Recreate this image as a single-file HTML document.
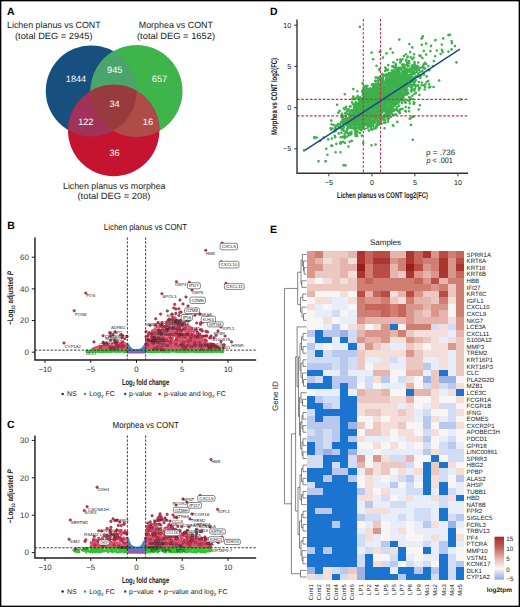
<!DOCTYPE html>
<html><head><meta charset="utf-8"><style>
html,body{margin:0;padding:0;background:#fff;overflow:hidden;}
svg{display:block;font-family:"Liberation Sans", sans-serif;text-rendering:geometricPrecision;}
</style></head><body>
<svg width="520" height="607" viewBox="0 0 520 607">
<rect x="0" y="0" width="520" height="607" fill="#fff"/>
<defs><clipPath id="cB"><circle cx="91.25" cy="90.9" r="45.5"/></clipPath><clipPath id="cG"><circle cx="136.55" cy="91" r="46"/></clipPath><clipPath id="cR"><circle cx="113.7" cy="130.5" r="45.7"/></clipPath></defs>
<circle cx="91.25" cy="90.9" r="45.5" fill="#17507f"/>
<circle cx="136.55" cy="91" r="46" fill="#3db54b"/>
<circle cx="113.7" cy="130.5" r="45.7" fill="#c5142f"/>
<g clip-path="url(#cB)"><circle cx="136.55" cy="91" r="46" fill="#4aa56c"/></g>
<g clip-path="url(#cB)"><circle cx="113.7" cy="130.5" r="45.7" fill="#a1325a"/></g>
<g clip-path="url(#cG)"><circle cx="113.7" cy="130.5" r="45.7" fill="#b04c48"/></g>
<g clip-path="url(#cB)"><g clip-path="url(#cG)"><circle cx="113.7" cy="130.5" r="45.7" fill="#983b3e"/></g></g>
<text x="76.00" y="82.00" font-size="9.2" text-anchor="middle" fill="#fff" font-weight="normal" >1844</text>
<text x="114.70" y="72.70" font-size="9.2" text-anchor="middle" fill="#fff" font-weight="normal" >945</text>
<text x="159.50" y="82.00" font-size="9.2" text-anchor="middle" fill="#fff" font-weight="normal" >657</text>
<text x="114.50" y="106.70" font-size="9.2" text-anchor="middle" fill="#fff" font-weight="normal" >34</text>
<text x="85.80" y="125.00" font-size="9.2" text-anchor="middle" fill="#fff" font-weight="normal" >122</text>
<text x="147.90" y="125.00" font-size="9.2" text-anchor="middle" fill="#fff" font-weight="normal" >16</text>
<text x="114.50" y="156.00" font-size="9.2" text-anchor="middle" fill="#fff" font-weight="normal" >36</text>
<text x="7.00" y="28.00" font-size="9" text-anchor="start" fill="#1a1a1a" font-weight="normal" textLength="93.7" lengthAdjust="spacingAndGlyphs" >Lichen planus vs CONT</text>
<text x="15.00" y="38.75" font-size="9" text-anchor="start" fill="#1a1a1a" font-weight="normal" textLength="77.5" lengthAdjust="spacingAndGlyphs" >(total DEG = 2945)</text>
<text x="138.75" y="28.00" font-size="9" text-anchor="start" fill="#1a1a1a" font-weight="normal" textLength="74.2" lengthAdjust="spacingAndGlyphs" >Morphea vs CONT</text>
<text x="137.00" y="38.75" font-size="9" text-anchor="start" fill="#1a1a1a" font-weight="normal" textLength="78" lengthAdjust="spacingAndGlyphs" >(total DEG = 1652)</text>
<text x="63.00" y="189.25" font-size="9" text-anchor="start" fill="#1a1a1a" font-weight="normal" textLength="102.5" lengthAdjust="spacingAndGlyphs" >Lichen planus vs morphea</text>
<text x="77.50" y="199.25" font-size="9" text-anchor="start" fill="#1a1a1a" font-weight="normal" textLength="73" lengthAdjust="spacingAndGlyphs" >(total DEG = 208)</text>
<text x="7.00" y="14.50" font-size="10.5" text-anchor="start" fill="#000" font-weight="bold" >A</text>
<text x="7.30" y="229.30" font-size="10.5" text-anchor="start" fill="#000" font-weight="bold" >B</text>
<text x="7.00" y="428.00" font-size="10.5" text-anchor="start" fill="#000" font-weight="bold" >C</text>
<text x="270.00" y="14.60" font-size="10.5" text-anchor="start" fill="#000" font-weight="bold" >D</text>
<text x="270.00" y="232.50" font-size="10.5" text-anchor="start" fill="#000" font-weight="bold" >E</text>
<path d="M379.7 90.3h0M384.8 86.5h0M374.9 110.5h0M364.3 110.7h0M371.8 95.8h0M362.6 117.3h0M380.7 106.6h0M402.7 74.8h0M371.2 91.5h0M369.0 117.5h0M388.1 121.5h0M385.8 110.7h0M381.5 108.7h0M363.6 111.9h0M379.1 94.3h0M391.6 93.5h0M356.5 121.8h0M371.8 103.8h0M346.9 130.6h0M357.5 115.2h0M348.0 127.0h0M375.6 77.5h0M357.8 107.2h0M384.3 105.3h0M382.3 108.1h0M376.4 106.2h0M336.4 143.9h0M370.4 112.8h0M378.8 107.6h0M381.6 89.9h0M353.3 121.5h0M371.4 112.6h0M362.8 123.4h0M365.7 119.9h0M397.9 88.4h0M365.8 111.2h0M379.1 89.3h0M394.9 96.7h0M369.6 97.1h0M377.7 98.8h0M381.5 98.7h0M380.7 118.9h0M358.6 125.8h0M380.9 91.8h0M403.0 67.8h0M353.0 115.9h0M394.4 81.6h0M381.7 102.6h0M368.6 110.7h0M414.0 85.3h0M392.8 80.6h0M359.0 110.7h0M380.9 101.4h0M389.6 96.8h0M376.4 96.9h0M391.4 88.6h0M378.5 108.7h0M391.1 73.8h0M404.4 80.3h0M368.0 107.6h0M383.1 82.8h0M371.7 96.0h0M381.8 99.3h0M359.2 108.8h0M369.7 116.3h0M376.3 108.2h0M395.1 114.6h0M399.3 72.8h0M356.9 132.4h0M366.0 102.9h0M390.8 101.4h0M345.4 131.8h0M371.7 107.0h0M378.0 98.5h0M401.3 78.3h0M391.5 72.9h0M374.0 100.4h0M373.3 96.1h0M375.3 108.4h0M405.8 73.8h0M372.3 103.5h0M374.4 107.7h0M385.7 96.9h0M377.6 101.9h0M376.2 100.4h0M360.5 109.2h0M379.4 105.0h0M372.0 111.8h0M399.7 77.9h0M390.9 110.6h0M379.2 106.2h0M391.1 75.6h0M373.8 128.8h0M397.7 95.6h0M379.5 93.3h0M389.7 110.7h0M357.4 91.3h0M385.6 122.5h0M350.6 106.4h0M344.6 109.3h0M374.4 94.9h0M364.2 112.3h0M382.5 94.5h0M418.2 85.8h0M365.3 102.2h0M368.9 117.3h0M383.2 100.3h0M388.1 83.8h0M376.6 112.5h0M376.1 105.7h0M391.7 90.1h0M388.6 108.0h0M361.9 101.3h0M378.3 97.6h0M380.2 114.4h0M361.5 112.5h0M384.1 104.8h0M364.9 115.8h0M396.4 87.9h0M383.0 104.8h0M381.2 89.4h0M369.5 113.1h0M377.6 91.9h0M345.3 123.4h0M360.2 105.2h0M385.9 101.3h0M343.0 129.1h0M394.2 102.8h0M349.6 114.8h0M392.7 81.0h0M365.1 90.5h0M393.0 76.9h0M381.9 95.9h0M353.2 119.6h0M401.1 81.0h0M404.4 83.6h0M378.5 86.6h0M374.9 94.3h0M376.9 109.7h0M362.9 117.4h0M398.5 71.7h0M370.3 103.4h0M378.8 102.8h0M366.0 98.3h0M368.9 110.7h0M357.7 117.2h0M401.3 90.8h0M377.0 120.4h0M396.3 79.1h0M379.9 111.6h0M367.7 113.1h0M374.0 110.6h0M370.0 99.8h0M379.8 100.5h0M373.2 104.1h0M374.5 119.0h0M355.9 116.6h0M365.8 122.6h0M408.1 77.1h0M368.1 104.4h0M361.5 112.3h0M385.4 75.1h0M403.8 77.5h0M354.6 111.3h0M376.1 101.0h0M368.8 109.0h0M349.4 111.5h0M392.3 79.5h0M379.2 112.8h0M380.9 88.7h0M366.7 104.0h0M387.5 84.7h0M370.4 101.9h0M377.2 113.4h0M360.6 123.4h0M358.7 97.4h0M402.6 81.6h0M370.9 118.6h0M384.7 93.0h0M379.1 103.8h0M372.1 121.8h0M370.9 126.6h0M390.5 109.8h0M374.4 100.9h0M377.0 102.1h0M380.0 102.1h0M399.9 83.1h0M391.3 85.6h0M386.2 117.2h0M369.9 109.2h0M355.9 123.4h0M396.0 102.7h0M396.3 94.9h0M377.2 102.7h0M389.0 96.5h0M393.1 106.8h0M393.9 95.6h0M395.5 66.9h0M371.8 114.8h0M405.7 102.7h0M358.2 111.8h0M394.5 83.4h0M388.1 89.4h0M394.7 102.2h0M412.0 65.8h0M405.2 92.2h0M359.9 123.4h0M350.6 124.9h0M393.7 91.7h0M362.2 105.2h0M379.4 94.0h0M394.1 90.5h0M351.4 110.4h0M343.3 123.5h0M384.1 87.9h0M380.4 113.2h0M375.4 117.5h0M380.3 91.9h0M364.8 122.5h0M353.6 120.1h0M376.8 102.8h0M362.9 115.6h0M351.4 123.0h0M388.3 79.5h0M378.6 125.0h0M386.6 86.1h0M362.6 90.5h0M368.3 107.3h0M362.5 111.6h0M364.4 103.6h0M383.0 79.4h0M366.2 119.7h0M385.8 94.9h0M385.5 97.9h0M414.5 69.5h0M355.7 114.6h0M394.9 82.4h0M378.1 105.0h0M379.4 99.6h0M354.7 122.7h0M371.7 111.3h0M392.4 92.9h0M378.2 102.3h0M381.0 110.6h0M374.6 88.7h0M399.5 88.2h0M379.3 113.6h0M341.8 115.3h0M367.7 114.7h0M345.8 118.0h0M323.7 137.6h0M370.5 103.8h0M402.6 82.6h0M380.5 105.0h0M359.5 113.1h0M363.5 92.4h0M399.1 112.4h0M382.4 97.5h0M380.5 95.1h0M378.7 110.7h0M380.3 112.9h0M393.5 67.1h0M389.1 97.5h0M383.4 76.6h0M361.7 107.1h0M388.4 93.2h0M367.9 103.5h0M398.5 80.1h0M357.8 103.9h0M377.3 97.4h0M379.5 98.6h0M356.9 113.6h0M409.3 63.5h0M404.8 73.4h0M371.7 114.4h0M392.9 97.9h0M386.2 92.2h0M334.7 135.7h0M383.9 100.9h0M378.6 109.9h0M381.1 101.6h0M361.1 108.5h0M375.0 93.8h0M376.6 101.9h0M400.1 62.4h0M385.4 96.9h0M379.5 69.0h0M405.9 70.3h0M370.1 101.8h0M372.9 109.0h0M348.4 146.5h0M406.6 83.7h0M396.2 86.8h0M395.4 68.0h0M391.1 107.0h0M381.5 79.8h0M383.3 100.0h0M375.3 96.1h0M376.1 126.2h0M380.6 97.9h0M405.6 86.6h0M389.2 86.3h0M378.6 99.7h0M369.7 117.0h0M368.7 98.7h0M407.2 73.0h0M388.4 87.8h0M380.8 89.2h0M373.7 93.8h0M360.6 112.9h0M378.5 113.8h0M394.7 105.1h0M372.9 92.1h0M375.7 95.9h0M375.8 101.5h0M381.5 103.0h0M352.2 118.0h0M375.6 102.4h0M364.9 112.8h0M394.9 97.5h0M366.4 89.2h0M389.6 90.9h0M405.9 89.6h0M374.2 115.6h0M369.3 113.5h0M382.9 90.5h0M379.6 92.6h0M362.5 113.4h0M387.6 94.1h0M414.3 80.6h0M375.2 113.3h0M376.2 90.0h0M361.7 108.6h0M385.1 71.0h0M358.2 121.2h0M360.6 114.0h0M401.7 74.9h0M364.1 112.6h0M398.2 103.2h0M405.9 93.7h0M384.1 95.9h0M389.2 89.9h0M413.2 78.6h0M376.3 92.7h0M369.4 97.8h0M356.4 112.6h0M380.4 99.2h0M405.1 85.9h0M396.1 82.7h0M363.4 102.5h0M364.9 109.3h0M371.0 101.7h0M384.7 99.9h0M376.1 115.6h0M383.3 107.5h0M384.7 88.7h0M374.5 99.2h0M378.9 85.0h0M383.2 97.0h0M378.2 92.6h0M388.3 80.3h0M411.8 65.9h0M389.8 99.6h0M380.6 101.1h0M350.6 118.2h0M386.3 105.6h0M346.2 118.1h0M355.4 106.9h0M394.3 95.4h0M391.8 70.5h0M377.1 104.4h0M350.2 121.5h0M373.3 106.4h0M368.0 114.2h0M390.6 88.1h0M418.5 73.6h0M383.4 80.7h0M366.2 103.4h0M359.5 108.6h0M378.7 102.7h0M376.6 115.4h0M359.8 114.0h0M381.6 107.0h0M359.8 104.6h0M398.8 87.5h0M397.9 68.8h0M398.3 79.1h0M371.5 97.8h0M388.5 91.6h0M377.4 99.5h0M373.0 98.4h0M373.8 95.3h0M357.3 121.4h0M354.8 112.1h0M393.3 62.2h0M376.4 103.0h0M383.4 100.0h0M396.9 96.1h0M349.8 133.1h0M366.2 98.2h0M382.7 97.3h0M386.4 92.3h0M373.2 87.4h0M397.3 59.8h0M383.3 106.4h0M358.8 104.4h0M363.6 105.0h0M393.5 86.3h0M387.6 89.6h0M347.0 122.0h0M402.8 65.7h0M389.9 86.5h0M402.7 80.4h0M373.0 92.9h0M374.6 95.0h0M360.3 108.7h0M423.3 66.2h0M376.6 85.3h0M406.9 75.4h0M368.5 108.2h0M382.5 106.6h0M350.9 122.3h0M373.1 113.9h0M396.6 87.4h0M358.1 112.0h0M398.1 110.8h0M385.4 95.8h0M361.7 106.1h0M371.0 104.2h0M371.7 113.9h0M378.8 88.2h0M370.4 112.4h0M365.4 120.6h0M374.4 113.5h0M362.0 111.9h0M357.5 105.9h0M378.8 89.2h0M394.8 87.4h0M353.3 128.4h0M379.7 106.3h0M368.5 115.6h0M362.8 112.8h0M394.3 109.6h0M370.7 104.9h0M405.4 74.9h0M366.2 110.3h0M386.3 90.7h0M375.7 111.4h0M366.7 121.8h0M389.7 99.9h0M377.0 90.7h0M390.0 82.0h0M378.8 104.9h0M361.0 101.5h0M377.9 104.2h0M380.5 84.5h0M396.1 83.5h0M364.1 114.5h0M379.0 92.7h0M350.0 126.8h0M390.8 102.4h0M361.0 125.6h0M348.6 118.4h0M378.6 101.1h0M398.7 88.1h0M353.4 121.2h0M360.9 99.5h0M366.9 112.4h0M360.2 119.5h0M386.2 82.7h0M365.8 96.4h0M367.2 105.2h0M389.7 111.6h0M366.6 114.1h0M387.1 88.6h0M362.9 111.0h0M358.8 99.8h0M348.1 133.5h0M411.7 70.0h0M374.1 109.4h0M383.8 83.8h0M379.1 101.0h0M382.4 87.8h0M380.5 105.7h0M412.5 95.6h0M361.8 122.0h0M352.9 123.4h0M362.2 120.9h0M356.7 104.5h0M392.5 76.8h0M393.8 87.5h0M363.1 120.4h0M355.7 117.0h0M373.5 110.3h0M403.6 66.7h0M331.1 129.6h0M388.7 88.7h0M361.1 116.0h0M397.5 110.6h0M361.1 119.4h0M374.7 113.6h0M353.7 114.0h0M362.8 110.3h0M403.5 93.4h0M393.8 94.7h0M372.7 90.3h0M364.7 118.7h0M347.1 130.1h0M372.9 106.6h0M379.1 107.1h0M378.2 105.0h0M378.0 95.9h0M360.3 97.2h0M378.5 117.8h0M379.0 100.6h0M401.8 84.6h0M411.7 79.5h0M377.3 103.3h0M366.5 111.9h0M378.5 91.0h0M369.2 111.2h0M366.9 109.7h0M378.6 100.6h0M361.7 111.0h0M390.1 94.8h0M377.9 91.6h0M383.9 97.1h0M376.5 100.4h0M367.1 108.8h0M363.3 120.0h0M375.6 110.5h0M370.2 115.8h0M383.7 95.3h0M379.6 106.9h0M356.2 125.3h0M380.8 96.8h0M356.5 110.7h0M369.0 123.0h0M374.6 87.6h0M343.9 123.6h0M381.2 99.9h0M382.2 87.6h0M376.9 101.1h0M372.3 110.3h0M373.2 84.1h0M362.8 120.9h0M375.0 104.0h0M370.1 98.6h0M381.2 109.4h0M358.9 114.8h0M383.7 93.3h0M382.1 74.4h0M377.2 110.1h0M372.1 105.4h0M389.1 86.6h0M351.0 118.4h0M387.6 107.2h0M383.8 93.0h0M384.5 95.6h0M386.2 90.9h0M368.4 97.2h0M375.2 93.5h0M390.6 88.2h0M387.0 91.7h0M383.2 108.6h0M353.6 118.6h0M388.9 91.4h0M399.8 91.0h0M397.0 87.2h0M383.7 105.6h0M352.8 104.0h0M395.9 65.1h0M377.1 105.3h0M336.1 125.5h0M386.1 98.0h0M354.0 105.7h0M357.3 110.9h0M368.7 106.6h0M401.5 87.9h0M373.3 103.1h0M384.3 106.9h0M409.7 71.4h0M407.1 90.2h0M377.9 96.0h0M375.5 101.5h0M358.0 104.6h0M367.7 108.1h0M387.0 84.4h0M386.4 104.9h0M381.5 92.6h0M396.8 91.0h0M366.4 107.1h0M378.7 99.9h0M392.2 81.4h0M389.7 114.6h0M398.1 83.9h0M386.5 110.8h0M374.3 92.3h0M385.9 116.0h0M362.4 120.6h0M351.4 134.0h0M389.6 75.9h0M378.7 113.0h0M384.9 95.2h0M350.4 124.4h0M373.4 120.7h0M369.3 109.9h0M364.8 103.9h0M340.9 127.6h0M373.9 95.1h0M395.1 93.6h0M386.2 95.5h0M369.3 110.4h0M379.4 96.8h0M392.7 70.6h0M332.2 128.5h0M377.5 99.5h0M389.0 100.2h0M391.4 100.2h0M408.9 62.4h0M399.2 99.5h0M385.0 105.6h0M384.8 97.4h0M393.2 95.5h0M370.4 88.4h0M378.9 123.3h0M395.2 85.5h0M413.3 68.4h0M376.9 112.4h0M378.8 106.7h0M383.1 93.3h0M402.7 65.3h0M379.1 109.2h0M404.9 101.8h0M363.0 102.3h0M376.4 87.7h0M376.2 105.4h0M393.2 115.0h0M397.6 71.5h0M353.7 119.1h0M363.9 100.3h0M385.4 96.5h0M368.3 110.9h0M353.5 121.6h0M397.5 71.3h0M388.1 79.2h0M388.1 116.6h0M371.5 113.9h0M397.3 68.1h0M375.5 106.1h0M398.5 102.7h0M364.0 110.4h0M364.9 110.8h0M383.2 98.6h0M367.6 112.4h0M391.3 95.5h0M384.1 101.5h0M363.8 107.6h0M380.9 107.1h0M373.6 106.7h0M395.4 91.0h0M368.8 95.4h0M372.1 101.6h0M400.5 87.2h0M418.1 67.1h0M414.0 71.7h0M380.7 88.5h0M383.4 92.3h0M406.0 60.7h0M377.5 88.5h0M362.8 111.6h0M381.7 102.7h0M387.4 85.5h0M365.4 104.8h0M351.3 119.8h0M354.9 129.9h0M391.1 111.9h0M366.6 105.5h0M377.2 94.2h0M383.3 89.4h0M390.3 106.5h0M373.9 94.2h0M388.2 99.8h0M364.3 106.7h0M373.4 100.3h0M362.0 119.0h0M399.1 93.6h0M379.2 120.3h0M366.9 116.8h0M373.6 120.6h0M375.8 98.4h0M391.7 91.2h0M352.2 110.1h0M361.8 108.7h0M373.1 110.1h0M423.2 66.1h0M396.1 93.3h0M377.7 95.4h0M391.9 88.3h0M415.0 88.8h0M375.6 102.6h0M373.3 103.7h0M400.5 89.5h0M388.1 84.9h0M391.2 73.8h0M370.9 109.1h0M412.7 82.2h0M409.0 107.8h0M389.4 94.8h0M391.4 96.7h0M344.8 142.9h0M390.6 89.5h0M376.3 96.6h0M387.1 102.5h0M391.4 96.1h0M373.8 112.8h0M350.6 112.5h0M386.0 111.3h0M366.9 111.3h0M374.0 85.7h0M369.2 106.4h0M373.8 99.6h0M339.9 127.9h0M400.6 99.4h0M384.0 97.3h0M398.8 82.5h0M413.7 90.1h0M380.0 96.3h0M348.6 109.4h0M364.3 100.6h0M358.9 128.2h0M371.0 114.6h0M381.0 114.9h0M345.2 113.3h0M385.5 89.7h0M353.7 111.0h0M384.8 105.4h0M377.8 112.4h0M374.2 102.8h0M378.4 99.8h0M370.4 113.9h0M369.1 105.7h0M350.7 113.5h0M379.1 98.1h0M411.4 91.6h0M413.7 103.9h0M402.4 87.7h0M391.8 90.0h0M368.0 110.1h0M404.5 88.4h0M378.7 107.3h0M378.5 93.8h0M374.6 103.8h0M381.2 97.7h0M372.2 113.8h0M378.2 106.9h0M361.0 111.0h0M373.2 113.5h0M418.9 90.1h0M378.4 103.9h0M375.5 91.4h0M388.8 91.8h0M391.8 76.0h0M360.5 114.0h0M376.1 105.2h0M395.4 104.8h0M384.3 102.7h0M381.7 84.3h0M406.4 78.1h0M368.0 101.1h0M381.1 92.0h0M370.7 106.0h0M405.3 85.2h0M346.1 121.4h0M368.1 101.6h0M370.5 101.9h0M391.1 87.0h0M390.1 91.3h0M403.6 92.9h0M352.6 120.5h0M392.5 101.5h0M374.6 94.0h0M368.2 126.7h0M388.9 96.0h0M363.8 88.9h0M343.9 127.0h0M373.3 114.6h0M353.9 117.4h0M368.5 95.7h0M386.0 97.3h0M385.0 90.1h0M406.9 80.4h0M376.2 105.8h0M353.3 89.1h0M366.6 108.0h0M363.8 115.4h0M358.7 118.4h0M387.1 91.0h0M368.5 103.7h0M345.6 115.8h0M391.6 90.4h0M377.7 114.9h0M385.8 90.4h0M381.5 101.8h0M390.5 95.7h0M380.3 114.0h0M400.9 92.3h0M386.9 102.6h0M386.4 95.8h0M386.7 110.2h0M354.6 116.3h0M376.8 100.7h0M375.2 113.4h0M383.2 103.8h0M356.3 123.4h0M407.7 70.1h0M381.4 123.7h0M358.8 117.0h0M350.2 134.7h0M374.8 107.2h0M378.1 92.8h0M367.3 113.9h0M381.2 97.5h0M368.6 115.0h0M389.1 73.1h0M367.2 100.0h0M379.0 89.5h0M396.5 103.5h0M423.9 85.2h0M362.3 101.8h0M371.7 107.1h0M365.2 112.0h0M393.1 87.3h0M359.9 124.6h0M371.3 98.5h0M379.1 100.1h0M362.8 106.9h0M363.2 117.1h0M371.5 100.8h0M343.5 130.6h0M354.8 108.0h0M372.5 94.4h0M382.2 89.2h0M376.4 97.2h0M349.1 114.7h0M371.7 129.8h0M393.4 81.6h0M389.2 96.4h0M378.3 99.9h0M364.4 112.7h0M390.5 107.5h0M369.7 111.5h0M359.5 107.5h0M365.8 96.3h0M404.6 90.6h0M383.4 106.5h0M399.6 69.9h0M371.4 113.5h0M395.8 66.0h0M369.3 106.4h0M376.9 110.1h0M422.4 58.0h0M392.8 72.7h0M371.0 118.7h0M378.2 85.9h0M385.3 99.0h0M400.5 68.8h0M371.2 109.0h0M349.7 134.3h0M374.8 98.5h0M379.9 90.7h0M381.5 77.9h0M402.3 64.6h0M385.1 89.2h0M393.6 93.2h0M360.7 117.4h0M394.6 93.2h0M415.7 86.4h0M392.9 94.0h0M384.0 122.7h0M382.3 96.4h0M410.4 79.7h0M363.7 87.4h0M377.7 94.0h0M387.6 99.6h0M392.4 85.2h0M372.1 116.1h0M384.9 102.5h0M374.9 120.5h0M381.7 84.3h0M377.4 95.8h0M360.0 123.8h0M379.3 100.8h0M394.7 79.3h0M363.0 106.6h0M375.5 99.1h0M391.1 101.5h0M361.2 118.1h0M382.8 96.9h0M361.4 103.8h0M399.2 96.3h0M419.4 88.0h0M414.4 62.0h0M375.9 111.2h0M392.4 79.7h0M381.7 96.1h0M381.4 90.1h0M406.3 61.1h0M357.0 108.9h0M397.8 79.0h0M378.8 109.4h0M403.9 91.9h0M382.9 91.3h0M368.1 93.8h0M384.4 82.6h0M392.3 66.4h0M380.3 96.5h0M388.0 92.2h0M370.7 96.8h0M342.9 124.4h0M395.1 90.2h0M391.7 103.1h0M382.2 88.4h0M380.8 109.7h0M397.5 82.2h0M371.8 118.1h0M367.5 98.2h0M376.4 111.8h0M400.1 76.5h0M355.8 130.3h0M400.1 91.2h0M368.6 96.6h0M360.7 119.9h0M401.3 84.6h0M378.0 105.6h0M357.3 135.9h0M373.5 101.2h0M395.7 84.4h0M400.1 98.9h0M372.3 99.6h0M386.6 103.5h0M391.9 102.5h0M368.6 107.3h0M385.7 102.8h0M379.1 78.1h0M370.4 120.2h0M371.2 98.9h0M380.8 89.4h0M380.2 118.9h0M369.9 122.2h0M372.3 99.7h0M398.8 92.6h0M383.3 93.6h0M394.9 77.1h0M400.3 90.4h0M389.8 104.4h0M418.7 109.5h0M365.4 107.6h0M393.5 100.8h0M374.2 100.7h0M411.6 75.6h0M408.9 97.3h0M346.0 106.9h0M363.0 101.3h0M391.1 83.2h0M393.2 103.7h0M392.3 95.8h0M378.4 106.0h0M387.5 99.0h0M390.9 104.4h0M378.3 96.7h0M397.3 85.5h0M340.8 122.7h0M390.5 98.0h0M361.9 100.2h0M396.1 86.8h0M375.7 128.3h0M364.4 116.0h0M386.1 96.2h0M364.0 101.7h0M363.9 113.2h0M352.7 120.3h0M379.2 106.7h0M388.2 87.2h0M397.2 93.2h0M377.2 107.3h0M397.7 96.2h0M379.9 94.3h0M378.0 106.1h0M389.5 111.1h0M397.8 80.7h0M373.8 110.3h0M375.4 99.4h0M376.9 98.2h0M381.1 87.1h0M364.2 100.9h0M397.3 94.6h0M372.8 106.1h0M387.6 108.0h0M365.4 94.3h0M385.8 91.3h0M386.4 81.0h0M372.4 107.7h0M414.4 102.7h0M386.0 79.9h0M410.2 78.3h0M396.1 87.4h0M368.2 107.1h0M373.1 98.4h0M387.1 89.4h0M380.7 114.9h0M380.5 88.7h0M374.7 108.2h0M348.5 125.0h0M375.8 86.3h0M341.5 117.2h0M386.0 99.1h0M367.2 125.1h0M367.3 106.7h0M375.9 97.4h0M384.3 97.6h0M355.0 127.8h0M349.6 127.3h0M361.3 123.6h0M344.5 121.5h0M363.0 103.7h0M407.0 69.2h0M361.5 118.8h0M390.8 89.9h0M356.0 110.7h0M384.8 101.7h0M374.1 105.0h0M378.6 80.1h0M389.4 91.2h0M409.8 68.8h0M383.0 102.0h0M381.8 98.1h0M362.9 126.7h0M389.7 93.5h0M375.4 91.6h0M394.0 67.3h0M378.9 88.9h0M409.6 71.4h0M345.5 122.3h0M374.5 108.9h0M394.8 91.5h0M373.6 98.3h0M366.0 116.2h0M375.1 94.3h0M355.9 124.8h0M381.7 116.2h0M421.6 85.3h0M399.3 105.8h0M360.6 125.2h0M364.6 99.8h0M372.7 106.4h0M396.9 85.9h0M365.5 98.9h0M367.8 96.5h0M394.9 95.3h0M394.5 75.3h0M373.2 100.7h0M360.4 112.8h0M353.0 113.8h0M367.6 120.9h0M341.3 132.8h0M392.5 92.5h0M368.8 101.7h0M387.9 98.3h0M411.8 80.0h0M399.8 75.3h0M359.8 100.4h0M394.6 81.5h0M399.6 72.1h0M366.8 112.2h0M363.2 113.7h0M377.8 98.2h0M352.1 121.1h0M404.9 89.0h0M338.3 112.7h0M360.6 114.5h0M375.0 112.1h0M375.7 98.0h0M382.5 79.7h0M384.3 96.0h0M376.0 90.8h0M399.2 91.8h0M342.8 129.1h0M379.6 106.7h0M367.3 109.5h0M381.9 80.2h0M383.4 109.0h0M364.0 95.6h0M368.6 116.5h0M393.3 93.3h0M385.6 87.3h0M367.9 102.1h0M414.7 72.8h0M419.4 95.0h0M354.5 113.5h0M384.8 106.9h0M422.8 36.4h0M393.1 93.2h0M383.4 95.5h0M376.1 113.1h0M370.3 110.5h0M376.0 114.5h0M370.2 97.4h0M392.5 94.2h0M372.8 99.4h0M372.1 111.2h0M359.0 118.3h0M378.8 88.1h0M364.3 119.1h0M376.5 119.1h0M397.6 83.3h0M385.9 107.4h0M388.3 98.7h0M385.8 86.5h0M380.7 107.3h0M377.4 93.0h0M374.3 109.8h0M392.7 75.0h0M361.0 100.4h0M402.7 90.0h0M380.2 101.6h0M366.8 116.1h0M371.2 103.8h0M368.0 97.3h0M382.4 112.5h0M367.3 99.9h0M399.3 101.9h0M366.2 116.7h0M340.6 142.4h0M367.1 89.3h0M345.1 122.6h0M379.0 98.0h0M397.9 95.4h0M390.8 81.1h0M356.6 134.4h0M366.5 108.5h0M410.2 52.1h0M385.1 100.2h0M379.7 99.7h0M397.8 80.2h0M421.8 82.5h0M401.9 84.7h0M382.0 88.8h0M385.7 93.9h0M390.3 88.9h0M369.1 110.2h0M361.4 109.3h0M380.5 98.8h0M363.3 97.7h0M378.6 93.7h0M381.3 101.2h0M419.9 105.2h0M365.0 103.3h0M377.5 94.1h0M376.8 110.5h0M387.2 115.6h0M397.6 100.7h0M371.2 97.2h0M365.5 119.1h0M351.4 123.0h0M363.7 108.6h0M388.9 80.9h0M380.4 99.6h0M362.2 112.6h0M373.2 109.3h0M380.2 83.6h0M388.3 83.0h0M369.4 107.6h0M375.3 115.9h0M348.4 128.1h0M359.8 108.0h0M407.5 90.0h0M342.0 117.1h0M373.8 100.5h0M383.4 94.5h0M373.2 98.3h0M365.7 104.7h0M378.6 108.9h0M379.6 103.2h0M378.2 78.4h0M347.3 132.5h0M377.1 106.2h0M364.9 100.1h0M370.2 107.7h0M383.5 105.5h0M390.7 106.7h0M395.1 83.7h0M371.1 96.4h0M395.5 73.7h0M399.8 85.8h0M399.2 74.9h0M403.5 96.1h0M377.1 100.0h0M376.6 108.4h0M393.8 88.5h0M356.1 108.9h0M383.2 86.8h0M370.5 115.0h0M373.3 92.5h0M349.7 124.3h0M364.3 119.5h0M379.3 101.8h0M394.9 105.8h0M396.7 88.5h0M378.3 98.1h0M376.4 104.0h0M365.4 104.7h0M386.6 98.5h0M375.4 102.8h0M390.1 108.3h0M409.8 79.2h0M379.1 108.6h0M353.9 121.3h0M364.8 110.7h0M354.6 115.0h0M359.0 128.7h0M402.1 103.1h0M383.5 100.4h0M353.5 113.2h0M390.9 88.5h0M401.3 75.0h0M373.5 92.1h0M368.0 103.2h0M373.8 104.0h0M384.5 107.1h0M390.6 102.7h0M400.0 91.7h0M400.5 82.9h0M400.0 83.7h0M403.1 84.2h0M391.0 93.9h0M353.3 111.9h0M377.4 99.5h0M385.0 93.3h0M373.1 101.5h0M395.3 95.5h0M373.4 113.6h0M363.7 106.2h0M404.5 78.3h0M391.1 94.6h0M383.4 101.6h0M395.6 63.9h0M397.9 96.3h0M385.5 98.2h0M337.4 125.9h0M368.0 118.2h0M371.8 104.1h0M362.7 95.0h0M383.1 88.3h0M400.1 78.9h0M371.3 100.2h0M360.1 112.0h0M414.5 64.3h0M371.9 106.6h0M358.4 118.0h0M383.7 96.2h0M387.0 85.6h0M367.5 105.1h0M393.2 83.5h0M371.3 123.9h0M363.8 99.8h0M382.7 74.5h0M392.9 76.5h0M368.7 110.1h0M385.3 104.8h0M378.0 98.4h0M428.2 81.1h0M367.5 101.5h0M403.4 90.2h0M378.7 91.3h0M377.5 88.4h0M392.1 113.6h0M395.0 86.4h0M401.4 93.4h0M385.3 110.6h0M369.3 112.5h0M370.4 108.1h0M388.4 83.2h0M389.6 109.4h0M403.7 71.4h0M386.8 74.2h0M397.9 81.0h0M405.7 75.9h0M382.5 98.2h0M354.1 127.7h0M359.4 108.7h0M354.9 113.0h0M407.0 72.7h0M365.1 86.4h0M400.8 77.3h0M389.7 88.7h0M409.1 61.0h0M396.9 103.5h0M377.9 112.1h0M376.2 105.8h0M381.1 105.4h0M382.7 91.0h0M370.5 108.9h0M379.1 83.5h0M407.3 62.9h0M350.4 112.6h0M384.1 100.9h0M364.0 104.8h0M382.9 89.7h0M394.1 102.0h0M378.6 97.2h0M392.9 83.3h0M352.3 116.3h0M398.7 69.3h0M369.3 95.9h0M390.3 101.6h0M382.8 96.6h0M335.2 137.3h0M366.6 103.4h0M383.4 106.1h0M406.4 70.9h0M384.6 92.7h0M384.1 87.1h0M355.3 117.5h0M404.3 100.7h0M410.7 57.2h0M380.1 101.3h0M375.9 89.5h0M351.8 114.7h0M394.8 82.3h0M426.1 43.6h0M392.0 88.0h0M401.4 69.1h0M389.0 109.3h0M362.7 103.4h0M402.6 87.4h0M358.4 115.4h0M376.0 102.3h0M384.4 93.2h0M394.8 71.5h0M386.8 114.3h0M386.3 95.0h0M366.5 115.2h0M357.5 104.2h0M380.7 103.4h0M367.4 104.0h0M357.1 118.6h0M357.9 108.5h0M371.2 96.4h0M347.8 124.9h0M356.5 115.0h0M351.5 131.7h0M382.8 94.8h0M386.7 86.4h0M414.2 83.8h0M353.9 107.1h0M368.0 126.6h0M395.3 109.9h0M375.9 115.5h0M374.0 108.2h0M409.0 80.0h0M373.8 104.6h0M359.8 113.9h0M357.0 108.6h0M385.4 100.9h0M384.9 109.3h0M356.0 127.0h0M362.7 92.2h0M388.8 118.5h0M389.6 95.1h0M368.6 94.1h0M390.3 87.6h0M389.5 102.1h0M349.0 120.5h0M374.3 95.5h0M386.8 82.6h0M369.8 114.7h0M342.9 117.7h0M374.8 100.9h0M392.6 79.3h0M406.8 64.9h0M342.0 128.3h0M424.6 89.5h0M360.3 109.4h0M396.1 69.1h0M400.9 77.8h0M396.5 86.0h0M382.2 74.3h0M359.7 122.8h0M390.4 83.1h0M367.3 113.4h0M336.2 128.6h0M428.3 66.1h0M391.8 75.4h0M410.9 90.6h0M364.0 115.3h0M404.9 102.0h0M407.0 75.7h0M406.4 87.5h0M379.3 96.1h0M359.0 123.5h0M376.6 105.4h0M341.8 115.9h0M350.4 121.2h0M381.2 92.7h0M362.6 106.6h0M376.8 105.2h0M377.8 116.1h0M412.8 65.3h0M402.0 83.0h0M378.9 91.0h0M400.4 109.2h0M366.2 123.9h0M373.8 123.6h0M395.3 99.2h0M358.3 104.8h0M374.8 97.9h0M356.9 115.5h0M381.7 97.3h0M407.7 71.9h0M366.7 111.4h0M383.5 93.3h0M364.2 109.0h0M359.9 133.0h0M358.4 117.7h0M404.7 67.0h0M420.3 77.9h0M387.9 95.9h0M367.3 113.7h0M391.8 97.0h0M373.9 93.4h0M393.4 93.6h0M384.6 107.0h0M384.5 128.3h0M390.1 99.0h0M369.7 124.4h0M372.7 121.3h0M350.0 112.6h0M372.0 98.6h0M355.2 133.7h0M377.2 93.5h0M363.2 106.8h0M381.4 106.5h0M387.4 87.1h0M355.2 131.1h0M365.7 120.2h0M363.4 123.9h0M392.5 103.4h0M409.0 69.5h0M394.3 104.8h0M373.6 114.6h0M404.8 94.4h0M353.6 115.6h0M405.4 86.7h0M368.4 99.7h0M331.8 138.5h0M425.2 87.0h0M406.8 87.8h0M361.9 111.5h0M382.5 107.3h0M376.0 99.8h0M381.4 80.9h0M354.1 122.4h0M367.9 107.5h0M387.7 80.5h0M383.5 104.0h0M400.3 96.0h0M381.0 109.9h0M420.0 67.7h0M367.3 103.7h0M384.1 98.6h0M346.7 121.8h0M358.1 103.0h0M402.5 74.7h0M363.4 123.7h0M388.8 94.1h0M378.6 99.8h0M361.7 105.7h0M373.7 106.2h0M370.8 111.9h0M371.3 109.9h0M392.6 110.8h0M390.9 93.0h0M369.7 112.3h0M364.0 106.4h0M384.5 107.4h0M377.9 105.6h0M397.3 99.4h0M425.3 84.3h0M394.1 82.9h0M379.0 105.2h0M376.7 98.0h0M364.9 120.3h0M364.0 109.8h0M362.4 127.2h0M372.8 109.2h0M372.3 109.8h0M392.4 85.5h0M372.8 103.3h0M376.2 104.2h0M358.7 106.8h0M407.9 79.1h0M388.4 88.9h0M410.4 70.3h0M393.3 91.9h0M405.3 86.8h0M375.4 100.1h0M392.0 96.6h0M426.2 64.0h0M358.6 104.4h0M399.9 77.1h0M408.8 85.6h0M386.9 108.8h0M392.8 92.2h0M401.6 87.2h0M368.1 98.1h0M386.8 99.6h0M364.4 112.5h0M367.8 101.7h0M368.8 112.0h0M377.1 103.6h0M382.2 81.6h0M387.6 79.6h0M354.7 111.4h0M414.5 73.7h0M400.0 97.9h0M392.4 85.8h0M373.3 104.1h0M378.1 99.3h0M389.3 99.4h0M386.9 95.7h0M350.0 121.9h0M392.7 88.3h0M431.0 45.9h0M347.1 118.9h0M397.2 107.3h0M386.2 106.0h0M377.7 116.8h0M403.8 93.6h0M358.8 109.3h0M382.5 94.5h0M405.5 90.3h0M376.2 100.2h0M372.3 112.2h0M381.7 113.1h0M371.8 118.4h0M407.0 92.5h0M363.6 98.3h0M395.1 104.9h0M357.5 104.0h0M391.5 78.3h0M377.8 103.4h0M334.0 131.5h0M379.5 106.4h0M360.8 113.3h0M371.8 99.7h0M406.8 82.2h0M359.9 104.6h0M360.9 102.2h0M405.1 79.4h0M381.7 95.8h0M406.9 83.0h0M385.4 93.1h0M364.0 120.9h0M378.5 97.3h0M401.4 83.6h0M396.3 99.0h0M379.7 79.5h0M380.5 109.4h0M377.6 110.1h0M369.4 104.7h0M413.8 102.2h0M379.8 108.1h0M359.6 127.6h0M371.2 114.8h0M392.5 93.3h0M391.0 89.5h0M377.2 91.6h0M367.8 101.1h0M380.1 88.6h0M350.0 114.9h0M356.6 120.1h0M393.8 78.9h0M371.2 110.5h0M386.3 102.4h0M401.2 68.4h0M391.1 84.4h0M380.0 98.1h0M417.3 65.7h0M391.4 83.2h0M373.4 117.1h0M392.6 92.9h0M386.9 107.9h0M364.5 109.5h0M380.9 106.2h0M376.7 89.6h0M344.9 119.1h0M376.6 110.2h0M374.6 104.0h0M371.9 116.6h0M350.6 119.6h0M373.4 99.6h0M378.9 98.4h0M381.4 118.3h0M359.6 116.9h0M390.8 87.6h0M358.1 112.1h0M375.7 92.2h0M402.7 100.2h0M367.4 103.9h0M370.6 112.4h0M398.6 85.6h0M372.9 101.3h0M374.4 97.6h0M383.6 103.7h0M398.2 86.0h0M340.7 137.2h0M365.0 123.1h0M361.8 107.4h0M360.5 113.8h0M364.5 125.2h0M364.8 118.1h0M385.0 96.8h0M364.0 96.9h0M381.8 88.7h0M386.7 87.5h0M366.8 125.3h0M381.9 99.9h0M408.5 75.5h0M385.3 92.7h0M368.4 104.2h0M378.5 103.5h0M363.5 95.4h0M384.4 82.4h0M394.8 91.4h0M365.2 119.0h0M376.0 83.6h0M399.2 93.8h0M370.9 95.5h0M382.9 79.2h0M361.6 121.1h0M365.2 107.5h0M370.6 109.7h0M417.1 68.9h0M372.6 102.3h0M370.5 89.0h0M370.0 101.6h0M376.8 102.5h0M390.9 80.9h0M382.9 101.1h0M415.0 81.6h0M383.3 75.6h0M404.5 93.7h0M384.4 102.3h0M390.1 93.1h0M354.8 126.7h0M377.5 122.1h0M378.5 91.1h0M375.5 110.6h0M342.6 130.2h0M394.8 94.5h0M373.0 113.9h0M372.1 115.3h0M375.3 101.9h0M375.7 80.6h0M386.6 88.2h0M357.8 108.4h0M363.6 124.9h0M384.6 97.4h0M382.1 110.6h0M373.2 97.7h0M369.8 109.2h0M365.3 109.8h0M378.6 102.0h0M399.9 93.7h0M361.4 126.5h0M405.8 76.1h0M394.2 106.0h0M371.8 116.4h0M393.1 94.8h0M354.4 123.8h0M349.9 118.1h0M357.5 106.2h0M372.6 102.9h0M374.0 102.4h0M370.8 106.2h0M381.4 90.9h0M342.9 141.8h0M388.2 91.0h0M355.2 125.3h0M368.3 119.3h0M372.5 105.2h0M359.8 117.3h0M356.1 111.0h0M362.3 102.1h0M379.4 123.2h0M389.8 94.5h0M389.3 73.4h0M362.5 104.1h0M366.0 96.5h0M363.8 110.2h0M387.4 110.3h0M344.6 134.2h0M400.9 78.1h0M371.3 97.4h0M366.2 116.1h0M385.5 99.4h0M397.4 85.7h0M385.5 114.5h0M397.7 92.4h0M382.0 82.9h0M400.8 61.2h0M401.1 87.5h0M377.9 84.1h0M404.4 90.3h0M382.5 106.7h0M381.1 121.6h0M363.8 102.4h0M374.7 107.3h0M393.0 66.1h0M357.1 112.6h0M390.8 91.1h0M385.6 115.0h0M384.4 82.1h0M341.7 129.2h0M377.9 103.2h0M390.8 116.7h0M366.5 100.9h0M381.2 89.7h0M338.7 133.4h0M391.2 91.8h0M368.2 104.5h0M394.6 79.9h0M347.9 120.8h0M391.5 74.0h0M375.6 105.5h0M393.5 97.9h0M363.7 115.4h0M369.0 130.6h0M418.2 85.3h0M365.4 100.9h0M367.5 106.2h0M374.9 111.3h0M362.1 109.1h0M400.1 110.0h0M409.3 84.2h0M367.5 103.8h0M350.0 114.0h0M399.8 95.9h0M398.7 77.4h0M393.8 70.6h0M399.5 92.1h0M364.7 103.7h0M376.7 117.2h0M355.8 134.2h0M355.2 111.2h0M396.5 88.7h0M368.1 106.4h0M418.8 82.0h0M380.9 102.5h0M368.6 100.5h0M393.4 72.6h0M410.6 82.5h0M388.0 112.1h0M358.7 102.9h0M386.0 90.0h0M403.3 76.6h0M371.2 104.4h0M366.3 88.3h0M397.1 87.9h0M382.0 93.7h0M360.7 129.9h0M373.1 110.1h0M366.6 115.3h0M384.7 97.3h0M381.5 95.7h0M399.4 95.8h0M391.8 73.6h0M352.7 128.1h0M386.6 100.4h0M395.1 87.5h0M387.5 108.2h0M397.4 82.2h0M370.2 101.0h0M363.3 114.0h0M395.6 68.6h0M361.3 112.0h0M342.5 122.8h0M397.3 99.5h0M367.2 123.9h0M374.4 109.8h0M355.6 119.4h0M356.8 119.8h0M359.7 106.8h0M373.4 126.5h0M386.0 107.9h0M340.1 143.5h0M392.6 77.3h0M359.3 119.2h0M361.3 117.4h0M391.3 104.5h0M378.4 92.6h0M353.2 121.9h0M411.4 76.5h0M364.8 128.8h0M383.9 85.8h0M383.1 94.2h0M403.9 77.7h0M371.8 94.4h0M397.0 91.0h0M366.9 110.5h0M398.9 79.4h0M366.5 105.3h0M373.4 106.8h0M412.3 78.1h0M385.1 101.9h0M381.5 92.1h0M418.2 62.5h0M385.9 96.2h0M365.6 92.7h0M392.3 108.7h0M359.3 116.1h0M399.0 67.9h0M400.4 91.4h0M369.8 121.5h0M368.8 94.9h0M382.7 92.9h0M379.9 111.9h0M362.8 104.6h0M389.4 104.7h0M344.5 136.1h0M372.2 106.8h0M372.7 109.4h0M374.9 113.8h0M384.9 100.6h0M358.5 123.7h0M389.8 93.0h0M376.5 102.7h0M368.5 101.1h0M356.1 120.3h0M359.3 126.1h0M385.8 109.8h0M363.1 113.7h0M380.7 84.5h0M397.9 78.6h0M397.4 95.8h0M406.5 71.1h0M374.5 114.6h0M361.0 103.7h0M397.2 93.0h0M385.0 89.0h0M399.0 80.4h0M379.8 103.0h0M400.2 82.9h0M394.2 102.4h0M392.0 93.0h0M388.3 83.2h0M386.5 53.4h0M383.6 90.6h0M383.5 96.9h0M396.7 100.4h0M370.8 96.6h0M409.5 100.9h0M377.8 109.3h0M396.6 85.1h0M378.1 113.0h0M375.4 88.7h0M414.6 63.1h0M374.3 109.2h0M357.7 120.1h0M367.4 120.6h0M374.2 117.0h0M416.7 69.9h0M383.2 91.7h0M395.7 85.7h0M362.4 109.5h0M385.7 102.1h0M391.2 88.8h0M410.6 98.0h0M367.7 108.3h0M390.0 77.8h0M384.8 83.4h0M362.1 116.4h0M379.3 103.9h0M375.1 90.5h0M339.6 110.9h0M389.9 109.5h0M388.9 98.7h0M372.1 103.3h0M356.6 104.7h0M405.1 93.4h0M384.2 90.8h0M397.1 92.1h0M403.9 56.0h0M370.7 102.4h0M393.6 92.5h0M375.5 106.3h0M378.6 90.9h0M378.2 94.8h0M379.6 111.0h0M398.8 85.1h0M381.8 112.3h0M377.0 109.4h0M374.9 115.7h0M385.5 110.1h0M364.2 116.9h0M371.0 115.1h0M378.7 95.9h0M369.9 99.6h0M377.6 104.0h0M369.1 117.6h0M414.1 67.1h0M402.5 108.9h0M387.4 115.4h0M378.7 93.9h0M417.3 66.7h0M385.2 86.7h0M378.1 103.4h0M384.9 109.8h0M384.9 102.1h0M403.9 77.5h0M379.3 108.1h0M415.7 85.4h0M364.5 123.2h0M391.6 105.0h0M362.4 104.2h0M410.9 73.9h0M374.0 114.9h0M378.6 111.5h0M395.5 96.0h0M401.2 79.6h0M360.5 123.8h0M373.7 105.9h0M355.6 136.0h0M382.0 111.3h0M377.9 97.5h0M373.6 96.1h0M367.9 118.8h0M373.0 111.9h0M366.8 101.7h0M388.7 98.4h0M405.7 89.5h0M346.4 117.9h0M377.6 99.8h0M372.4 95.0h0M388.1 86.4h0M363.3 116.6h0M377.1 103.2h0M361.8 112.9h0M391.6 107.0h0M381.3 108.9h0M376.9 93.0h0M386.0 112.5h0M375.4 93.8h0M352.9 115.7h0M389.9 95.0h0M384.6 91.6h0M377.0 97.6h0M396.6 75.5h0M400.6 91.0h0M360.9 115.0h0M366.2 111.6h0M406.3 59.9h0M404.0 72.8h0M366.9 117.2h0M359.3 117.0h0M368.7 114.1h0M371.1 105.9h0M352.4 116.6h0M380.2 77.5h0M357.6 131.7h0M358.8 104.9h0M395.4 85.0h0M367.9 114.6h0M378.4 102.6h0M390.5 98.4h0M393.6 90.4h0M373.8 94.9h0M380.4 114.7h0M365.4 97.9h0M409.7 84.9h0M390.8 76.7h0M360.7 109.3h0M379.7 88.2h0M391.9 86.0h0M387.9 83.4h0M411.1 78.6h0M403.2 94.4h0M370.4 100.4h0M378.1 94.5h0M357.6 96.0h0M383.9 117.7h0M382.2 100.5h0M426.1 54.6h0M381.3 111.6h0M343.6 126.5h0M368.1 88.8h0M381.6 84.9h0M358.0 122.7h0M364.7 97.3h0M373.4 93.6h0M385.5 88.4h0M376.8 98.5h0M364.3 108.3h0M393.2 100.7h0M370.4 111.1h0M371.1 99.3h0M355.9 114.9h0M366.1 92.5h0M390.9 96.3h0M351.8 140.7h0M378.4 104.3h0M392.0 89.0h0M373.2 101.0h0M383.8 96.8h0M360.4 120.6h0M402.2 67.7h0M398.6 95.1h0M383.7 90.3h0M349.5 123.0h0M361.6 123.1h0M396.4 73.2h0M409.1 111.3h0M384.7 105.5h0M401.1 80.8h0M369.2 110.4h0M376.4 95.3h0M379.7 101.1h0M386.9 100.0h0M353.3 98.2h0M395.8 91.8h0M402.4 86.8h0M359.9 123.2h0M356.3 122.6h0M385.7 89.5h0M368.4 102.6h0M338.9 127.5h0M393.5 98.5h0M382.3 91.5h0M371.4 121.1h0M416.0 80.2h0M382.0 101.0h0M366.7 116.5h0M381.4 97.4h0M361.8 118.2h0M366.5 116.2h0M386.3 77.1h0M370.1 99.8h0M371.9 94.4h0M408.3 80.2h0M394.4 79.6h0M393.4 82.3h0M388.7 81.2h0M388.0 69.7h0M404.7 86.0h0M379.3 97.8h0M411.6 79.3h0M363.3 142.9h0M375.3 116.0h0M355.9 115.8h0M373.7 98.1h0M388.6 100.1h0M404.6 69.8h0M368.2 96.0h0M379.7 104.0h0M373.5 91.0h0M366.9 92.6h0M359.2 109.5h0M380.7 108.9h0M349.8 106.6h0M381.5 100.3h0M380.0 103.4h0M368.3 106.5h0M362.3 116.5h0M355.8 106.2h0M411.8 68.6h0M356.6 104.4h0M406.4 75.0h0M390.0 101.5h0M373.4 105.6h0M359.7 105.4h0M397.6 92.5h0M409.4 44.1h0M363.6 112.9h0M374.5 108.8h0M397.7 74.8h0M385.4 88.4h0M414.0 77.2h0M369.8 108.6h0M389.0 89.2h0M358.1 106.8h0M415.7 66.0h0M367.1 111.1h0M341.7 121.5h0M377.5 93.3h0M377.2 94.3h0M412.6 116.6h0M373.8 112.1h0M379.4 107.6h0M389.8 95.5h0M406.9 79.5h0M378.6 91.8h0M397.5 81.0h0M388.6 95.3h0M374.5 103.1h0M381.0 81.7h0M380.1 105.6h0M363.9 107.7h0M400.5 67.9h0M355.8 112.8h0M399.8 109.9h0M396.1 84.7h0M378.0 104.7h0M366.5 109.8h0M375.7 92.7h0M387.8 89.6h0M392.4 94.2h0M384.6 87.6h0M396.7 83.6h0M370.1 105.4h0M383.7 94.2h0M352.7 115.7h0M392.8 94.8h0M382.3 102.7h0M372.5 104.5h0M399.6 97.5h0M391.5 105.5h0M331.2 120.6h0M380.3 101.8h0M354.6 116.9h0M398.0 89.2h0M422.5 70.9h0M370.7 105.7h0M380.9 98.4h0M375.3 110.4h0M385.7 86.3h0M390.7 99.9h0M401.8 73.0h0M362.7 128.7h0M406.7 94.6h0M363.6 101.7h0M384.4 98.2h0M399.6 94.3h0M391.9 87.7h0M363.5 120.2h0M367.6 107.3h0M371.7 125.3h0M378.8 104.9h0M399.4 94.1h0M357.4 109.9h0M387.7 85.4h0M390.1 102.0h0M389.2 76.5h0M387.7 100.7h0M405.8 107.1h0M388.0 119.2h0M394.4 73.1h0M389.3 94.4h0M410.5 87.3h0M347.0 128.6h0M401.7 97.9h0M375.2 90.3h0M374.8 104.0h0M363.0 94.9h0M347.5 123.3h0M373.1 125.9h0M367.8 100.2h0M388.1 98.1h0M354.3 119.1h0M404.3 64.8h0M384.3 99.5h0M375.4 91.9h0M367.4 108.2h0M366.1 115.8h0M360.2 108.4h0M370.3 111.7h0M379.7 87.9h0M376.6 92.9h0M355.3 115.7h0M375.1 97.3h0M364.3 105.1h0M382.4 100.8h0M411.7 67.2h0M390.4 95.1h0M374.3 97.8h0M351.7 127.3h0M355.3 115.3h0M350.6 115.6h0M392.1 100.1h0M366.5 112.5h0M380.7 104.4h0M368.9 100.5h0M381.2 106.0h0M403.7 78.5h0M367.9 94.0h0M373.8 100.5h0M365.8 123.8h0M394.7 88.4h0M362.0 102.3h0M360.2 115.5h0M355.8 105.8h0M355.4 110.5h0M387.7 90.0h0M423.8 73.7h0M362.5 116.0h0M396.0 91.7h0M384.0 96.3h0M360.7 107.8h0M374.9 99.1h0M375.6 105.4h0M367.8 107.2h0M412.8 72.7h0M346.9 136.6h0M386.2 103.3h0M385.3 104.2h0M369.7 108.4h0M382.2 100.8h0M394.7 92.5h0M382.3 106.7h0M386.8 88.0h0M391.6 88.8h0M344.7 138.1h0M405.1 82.6h0M418.8 88.2h0M396.5 69.4h0M397.1 93.2h0M355.4 119.6h0M377.6 100.4h0M365.7 111.0h0M369.5 107.1h0M396.3 71.3h0M365.8 107.0h0M377.4 93.3h0M346.8 111.6h0M376.9 110.9h0M381.2 82.1h0M367.5 101.7h0M367.3 99.4h0M412.1 88.8h0M358.8 106.3h0M361.6 108.1h0M365.7 114.0h0M400.3 59.6h0M415.8 68.2h0M385.4 98.4h0M367.3 106.3h0M372.3 96.4h0M398.0 74.7h0M364.0 105.0h0M404.6 68.5h0M404.0 66.0h0M380.8 111.1h0M390.8 97.5h0M392.5 101.3h0M406.4 80.6h0M361.6 98.8h0M400.0 78.6h0M373.2 113.7h0M366.4 111.3h0M381.4 88.4h0M376.0 107.2h0M362.7 112.0h0M352.2 115.4h0M363.4 127.1h0M404.6 73.7h0M413.4 72.7h0M390.8 86.1h0M400.0 97.3h0M370.8 112.7h0M378.3 106.4h0M384.5 93.9h0M361.0 111.6h0M362.6 110.0h0M381.3 80.9h0M374.1 91.4h0M361.3 118.5h0M386.3 102.0h0M375.1 86.8h0M397.2 91.5h0M379.6 86.4h0M374.5 88.4h0M381.8 103.6h0M376.7 104.3h0M368.1 106.7h0M372.7 112.3h0M392.5 101.7h0M390.8 96.6h0M401.8 74.9h0M350.5 123.3h0M372.9 106.2h0M372.5 108.8h0M382.6 111.4h0M371.9 91.5h0M370.8 126.9h0M393.1 97.8h0M382.7 92.1h0M359.6 125.9h0M402.6 77.2h0M396.8 74.2h0M369.8 114.2h0M393.9 87.8h0M367.0 118.3h0M399.0 80.9h0M375.9 101.4h0M365.8 107.1h0M373.2 91.5h0M366.5 104.3h0M382.9 84.0h0M382.7 91.4h0M380.3 111.1h0M370.1 103.8h0M316.7 137.6h0M381.2 112.9h0M347.0 109.5h0M383.8 96.2h0M399.1 82.5h0M384.4 105.7h0M372.9 103.6h0M376.5 99.0h0M377.4 104.4h0M370.2 105.4h0M369.6 125.7h0M363.7 98.1h0M400.1 98.8h0M379.4 121.1h0M396.1 99.4h0M375.3 110.5h0M380.9 93.6h0M376.7 110.4h0M387.6 91.4h0M393.9 100.7h0M383.8 74.7h0M368.1 102.6h0M366.2 91.0h0M408.2 92.9h0M374.8 96.8h0M374.6 112.0h0M404.8 75.9h0M398.4 79.5h0M388.8 110.4h0M372.8 114.8h0M420.1 88.0h0M386.4 110.7h0M389.0 101.2h0M376.7 110.9h0M355.3 129.2h0M356.7 114.3h0M386.6 89.4h0M386.4 108.8h0M375.5 107.8h0M359.5 113.3h0M354.8 118.5h0M374.0 110.1h0M354.6 109.3h0M395.1 80.1h0M399.5 78.7h0M428.3 70.0h0M394.7 67.7h0M369.4 90.9h0M364.6 113.5h0M320.3 140.7h0M369.4 95.9h0M376.6 109.4h0M396.3 84.2h0M390.2 92.3h0M389.8 100.5h0M383.3 99.7h0M391.0 109.0h0M404.5 89.6h0M361.3 130.2h0M371.8 84.5h0M355.8 102.2h0M407.5 66.2h0M401.9 81.3h0M392.6 80.3h0M359.0 102.2h0M382.6 87.7h0M375.6 94.0h0M381.0 107.9h0M376.4 98.0h0M388.6 99.5h0M372.8 115.2h0M394.3 102.6h0M383.8 92.8h0M374.6 93.5h0M377.7 114.3h0M372.1 89.1h0M393.6 74.4h0M375.0 106.6h0M384.7 101.2h0M372.9 105.1h0M354.1 108.1h0M395.2 93.7h0M361.4 122.1h0M391.3 88.4h0M386.9 116.4h0M351.2 117.7h0M363.4 100.3h0M370.8 103.1h0M365.5 102.3h0M359.3 109.1h0M392.4 83.5h0M375.5 101.3h0M386.3 104.0h0M372.2 106.9h0M384.9 97.2h0M366.7 97.2h0M379.2 84.5h0M389.6 88.8h0M380.4 106.8h0M371.8 111.8h0M360.9 114.2h0M382.5 84.1h0M385.6 92.5h0M375.2 103.4h0M366.4 115.7h0M389.0 84.4h0M422.3 67.4h0M374.4 103.9h0M385.4 95.0h0M386.1 78.2h0M335.5 131.0h0M381.8 81.8h0M367.5 96.8h0M403.5 83.3h0M375.3 94.6h0M366.3 110.0h0M375.9 110.3h0M382.5 100.7h0M370.0 114.6h0M378.7 95.6h0M356.3 115.4h0M375.8 97.2h0M393.0 82.0h0M413.5 116.7h0M391.8 88.4h0M384.3 115.1h0M400.0 84.4h0M397.2 98.0h0M408.3 79.5h0M398.3 72.0h0M377.6 117.6h0M384.1 95.0h0M382.7 98.7h0M384.8 115.7h0M383.1 91.1h0M366.2 108.7h0M343.5 128.8h0M368.1 114.2h0M344.8 94.2h0M380.8 103.0h0M379.7 117.4h0M350.8 127.7h0M391.5 95.9h0M394.5 94.2h0M381.3 99.6h0M408.3 93.5h0M411.8 71.6h0M358.9 118.2h0M397.5 103.3h0M387.2 103.3h0M386.8 99.1h0M395.7 79.7h0M367.3 103.8h0M369.5 109.8h0M365.4 109.3h0M366.7 106.7h0M377.9 81.5h0M354.7 122.3h0M361.7 107.8h0M389.6 85.6h0M378.4 109.9h0M386.2 93.6h0M347.1 120.2h0M366.2 113.2h0M370.1 101.2h0M380.2 89.5h0M369.6 96.5h0M395.7 91.3h0M378.6 98.8h0M379.9 76.8h0M379.9 110.5h0M391.8 89.4h0M371.5 97.3h0M398.9 85.3h0M387.6 87.8h0M382.3 96.4h0M380.4 92.1h0M388.6 80.5h0M397.1 90.7h0M395.9 86.8h0M386.1 96.2h0M394.7 94.3h0M381.7 98.8h0M401.2 98.6h0M379.2 93.0h0M343.9 108.4h0M402.7 64.5h0M381.5 86.1h0M359.5 122.2h0M376.2 87.9h0M364.4 116.6h0M415.8 76.4h0M388.2 74.9h0M352.7 127.7h0M389.0 84.8h0M372.8 102.0h0M412.6 79.7h0M361.5 120.0h0M341.0 122.0h0M380.8 103.7h0M373.7 94.3h0M372.5 93.6h0M342.8 137.1h0M387.0 100.2h0M408.4 84.5h0M346.8 132.7h0M399.8 99.2h0M369.9 105.7h0M420.0 75.6h0M387.1 112.1h0M376.4 107.2h0M398.7 81.3h0M388.7 106.5h0M369.4 115.1h0M391.9 74.6h0M370.9 93.9h0M348.9 135.3h0M414.6 93.7h0M373.6 100.5h0M369.2 117.8h0M385.5 98.6h0M352.8 122.0h0M356.4 110.5h0M371.0 128.6h0M370.7 125.9h0M380.9 111.2h0M398.9 75.4h0M371.5 106.8h0M388.1 112.1h0M390.0 87.8h0M361.0 106.0h0M383.6 99.8h0M363.4 113.8h0M397.9 82.7h0M387.5 82.1h0M379.9 98.3h0M356.6 110.6h0M381.6 99.1h0M366.4 112.2h0M391.8 101.7h0M377.6 98.9h0M365.7 112.0h0M395.6 92.0h0M392.1 81.6h0M369.4 102.4h0M399.6 76.6h0M374.5 118.0h0M374.3 98.3h0M381.8 104.4h0M366.7 115.9h0M372.0 112.8h0M376.9 90.3h0M406.0 72.3h0M405.4 91.2h0M375.2 113.6h0M407.3 81.2h0M378.9 104.9h0M386.2 78.5h0M394.8 105.9h0M384.7 115.2h0M421.2 75.5h0M383.8 97.0h0M359.0 112.6h0M402.1 76.1h0M372.6 85.8h0M374.4 106.6h0M328.2 139.4h0M396.9 108.1h0M393.7 87.8h0M393.4 81.4h0M396.5 91.6h0M408.7 66.0h0M378.8 100.2h0M395.8 72.3h0M366.8 105.5h0M373.6 113.8h0M397.8 94.9h0M386.4 111.2h0M356.7 131.1h0M385.9 93.0h0M376.5 93.8h0M365.6 91.7h0M387.1 95.5h0M372.7 106.8h0M352.6 128.1h0M360.5 103.8h0M410.1 74.7h0M353.6 122.8h0M383.5 90.4h0M390.1 86.9h0M390.6 112.5h0M358.6 107.3h0M374.1 102.4h0M382.1 102.2h0M393.4 95.3h0M368.5 91.5h0M359.6 99.4h0M396.9 67.9h0M398.6 100.2h0M386.0 102.4h0M369.2 98.8h0M386.6 107.7h0M381.5 105.8h0M394.0 110.1h0M358.2 97.6h0M381.6 88.1h0M376.9 97.4h0M360.6 110.8h0M383.3 101.6h0M380.2 103.4h0M372.6 99.1h0M386.5 102.7h0M355.2 105.2h0M378.7 105.3h0M387.1 104.0h0M384.5 83.5h0M398.2 89.2h0M359.0 108.8h0M353.7 121.1h0M383.8 119.9h0M387.5 89.0h0M416.1 92.8h0M390.2 81.3h0M364.6 124.1h0M393.5 111.0h0M365.1 106.9h0M354.1 113.2h0M424.5 68.4h0M385.2 108.6h0M391.9 82.1h0M389.3 108.9h0M410.8 84.8h0M384.5 104.7h0M400.6 90.2h0M362.0 104.1h0M355.7 121.7h0M404.2 76.8h0M405.0 74.6h0M388.4 112.0h0M383.5 109.1h0M382.5 101.8h0M367.8 113.2h0M406.1 78.5h0M391.0 113.0h0M388.3 86.5h0M386.1 87.9h0M397.7 89.7h0M388.3 108.6h0M392.5 91.3h0M359.5 118.3h0M388.4 88.1h0M417.3 75.8h0M370.7 99.3h0M377.4 105.6h0M395.0 73.7h0M396.1 114.6h0M390.4 103.6h0M351.8 114.1h0M388.3 110.0h0M359.3 106.9h0M365.5 120.5h0M389.1 92.6h0M374.6 111.8h0M393.6 95.4h0M433.8 61.1h0M393.0 92.1h0M392.1 95.7h0M364.2 90.8h0M368.6 107.3h0M361.3 121.0h0M370.5 97.7h0M360.9 105.1h0M368.3 96.5h0M376.0 85.5h0M362.4 120.0h0M355.2 106.7h0M356.2 105.3h0M387.4 94.7h0M380.7 96.8h0M397.3 121.9h0M397.6 94.4h0M373.8 87.4h0M391.2 111.4h0M354.9 121.4h0M418.9 69.8h0M400.2 79.5h0M375.9 87.1h0M359.6 129.3h0M386.2 95.1h0M347.5 113.7h0M366.2 120.8h0M392.5 91.7h0M380.9 80.5h0M371.2 93.7h0M396.0 83.0h0M361.8 135.6h0M384.5 98.0h0M371.1 102.2h0M365.1 112.5h0M387.6 95.3h0M362.6 83.4h0M412.4 80.7h0M369.6 115.5h0M413.9 73.9h0M360.8 115.4h0M390.1 96.2h0M359.0 114.6h0M356.6 108.4h0M382.4 95.7h0M391.3 105.0h0M357.7 115.8h0M400.0 80.8h0M365.9 113.4h0M381.9 87.0h0M386.2 87.6h0M389.9 103.6h0M348.7 117.8h0M407.5 57.2h0M389.3 77.0h0M372.3 105.4h0M362.0 103.6h0M350.5 125.6h0M356.2 128.8h0M389.0 87.8h0M373.8 101.6h0M360.2 108.3h0M370.6 106.2h0M406.5 78.0h0M374.0 108.5h0M369.6 102.4h0M402.9 74.6h0M387.6 95.2h0M380.4 91.4h0M369.2 123.0h0M352.9 125.0h0M359.5 100.3h0M371.4 89.5h0M375.9 100.1h0M385.8 96.9h0M389.1 106.9h0M383.5 93.7h0M383.4 89.6h0M362.3 125.0h0M342.6 119.7h0M370.7 101.5h0M363.2 106.9h0M368.4 117.7h0M374.9 98.1h0M358.2 127.9h0M360.5 99.3h0M377.9 99.8h0M381.6 110.1h0M368.4 95.3h0M388.2 82.1h0M375.9 108.6h0M362.1 91.7h0M380.3 109.3h0M412.0 74.3h0M368.0 97.0h0M399.7 112.5h0M403.3 72.3h0M405.4 83.4h0M365.5 109.6h0M414.3 90.4h0M381.6 95.3h0M375.3 113.2h0M375.7 111.7h0M390.0 97.8h0M380.5 111.4h0M376.6 87.1h0M401.7 100.6h0M367.2 115.1h0M361.7 114.8h0M393.3 90.7h0M391.7 83.3h0M398.5 78.0h0M361.2 115.1h0M398.2 91.8h0M387.9 94.0h0M410.0 69.5h0M358.2 108.0h0M383.4 102.6h0M374.9 122.3h0M352.3 98.9h0M367.3 99.6h0M399.0 83.9h0M371.6 102.3h0M367.2 113.0h0M394.6 101.0h0M376.8 106.7h0M379.4 106.7h0M369.7 119.3h0M349.7 141.7h0M377.3 77.6h0M398.7 83.1h0M372.9 99.8h0M385.3 67.5h0M334.9 129.3h0M379.8 91.5h0M381.9 97.1h0M355.3 99.1h0M343.2 116.0h0M394.7 84.9h0M365.3 111.6h0M396.6 84.1h0M374.7 86.7h0M399.8 113.1h0M376.6 102.5h0M348.5 124.6h0M382.7 100.8h0M376.9 126.7h0M400.6 75.5h0M373.9 113.7h0M375.3 104.6h0M405.5 88.6h0M412.9 99.2h0M403.1 89.4h0M409.8 103.5h0M395.7 100.8h0M403.4 87.5h0M405.9 81.7h0M394.5 88.4h0M386.3 96.3h0M388.2 65.1h0M442.7 52.0h0M385.1 111.4h0M379.1 107.2h0M376.0 109.8h0M384.0 98.3h0M390.7 99.6h0M357.6 124.5h0M337.1 104.8h0M391.9 90.2h0M346.1 125.1h0M391.0 94.7h0M388.2 96.1h0M412.6 59.0h0M425.0 62.9h0M393.7 74.9h0M371.5 145.3h0M356.5 109.6h0M365.7 93.9h0M385.8 68.8h0M335.0 127.5h0M386.6 116.9h0M384.5 87.9h0M400.3 93.2h0M376.7 124.3h0M387.3 102.0h0M367.1 93.1h0M373.6 86.9h0M342.1 113.7h0M387.8 107.3h0M422.1 37.9h0M388.7 108.3h0M393.6 90.7h0M361.2 129.9h0M419.3 55.6h0M366.3 101.6h0M404.1 71.1h0M387.4 92.5h0M361.7 111.3h0M409.5 77.0h0M385.2 120.0h0M389.1 79.5h0M395.7 76.2h0M384.3 100.9h0M375.7 101.5h0M396.0 84.1h0M375.1 81.0h0M386.4 88.6h0M368.7 105.3h0M348.9 125.4h0M368.6 125.7h0M372.9 111.0h0M385.2 94.2h0M413.3 80.1h0M344.1 120.8h0M387.9 83.5h0M331.5 124.3h0M359.6 108.1h0M372.6 94.6h0M330.5 128.2h0M340.1 124.9h0M388.5 86.7h0M386.7 116.9h0M382.1 80.6h0M365.4 124.9h0M436.7 50.5h0M380.9 97.6h0M364.0 94.2h0M425.2 68.5h0M399.6 98.1h0M375.9 86.9h0M413.5 74.1h0M388.6 91.2h0M400.3 84.1h0M390.5 78.4h0M360.0 100.6h0M408.2 77.0h0M388.7 113.2h0M360.5 116.4h0M366.4 105.8h0M407.8 56.6h0M375.9 95.9h0M385.9 95.7h0M400.6 69.2h0M387.9 94.7h0M348.0 119.5h0M400.1 83.1h0M407.4 100.2h0M405.7 69.0h0M423.7 64.2h0M393.6 93.2h0M403.5 98.1h0M423.1 67.4h0M377.8 81.3h0M426.6 76.4h0M426.6 82.0h0M403.7 77.3h0M429.1 87.4h0M405.3 111.1h0M363.6 114.8h0M412.2 86.4h0M392.7 93.7h0M394.8 95.9h0M388.5 88.3h0M417.5 76.7h0M398.1 94.4h0M368.0 112.1h0M396.5 79.2h0M402.4 71.1h0M367.3 94.6h0M374.3 92.8h0M375.6 144.6h0M370.2 117.9h0M393.2 93.8h0M409.3 76.4h0M430.4 86.8h0M413.6 57.6h0M409.4 75.1h0M412.3 85.4h0M417.0 72.0h0M375.7 105.6h0M401.5 94.2h0M392.6 83.4h0M381.7 103.1h0M373.8 120.9h0M372.6 111.4h0M378.3 100.8h0M355.1 128.7h0M397.4 70.3h0M384.3 109.8h0M387.4 70.3h0M393.0 78.0h0M402.3 96.1h0M370.6 102.7h0M382.2 81.2h0M346.1 122.8h0M331.3 145.6h0M338.1 124.0h0M421.8 44.7h0M340.8 143.4h0M396.2 80.3h0M420.4 71.7h0M373.8 103.8h0M424.0 74.6h0M429.3 70.3h0M407.6 66.5h0M441.9 49.9h0M399.8 98.4h0M367.3 85.9h0M397.4 103.9h0M374.2 93.2h0M353.5 113.0h0M354.2 99.2h0M440.6 54.0h0M371.9 89.5h0M384.4 95.6h0M369.0 92.5h0M388.3 88.2h0M379.3 70.2h0M375.1 110.4h0M355.9 98.1h0M351.0 110.8h0M367.1 104.1h0M392.1 97.6h0M435.1 56.3h0M410.5 97.6h0M429.0 84.2h0M396.8 77.7h0M383.1 116.6h0M353.3 96.5h0M385.2 98.3h0M333.6 125.0h0M378.0 98.4h0M424.4 63.6h0M393.1 93.2h0M412.4 81.8h0M376.1 102.3h0M352.1 102.4h0M373.7 87.2h0M375.7 84.0h0M414.3 70.8h0M432.9 66.2h0M367.5 128.3h0M376.7 91.7h0M381.8 85.7h0M377.0 105.3h0M355.4 103.4h0M387.6 76.1h0M394.1 87.6h0M394.7 74.5h0M356.3 109.4h0M382.7 119.2h0M343.5 128.0h0M407.4 85.6h0M360.9 103.5h0M378.8 110.2h0M304.0 150.4h0M314.3 138.1h0M318.6 161.2h0M325.5 161.2h0M326.3 148.8h0M343.5 165.3h0M359.9 26.8h0M380.5 51.6h0M460.5 99.4h0M448.4 35.1h0M443.3 38.4h0M435.5 40.0h0M412.3 47.4h0M412.8 139.7h0M393.4 125.7h0M409.7 118.8h0M411.0 124.9h0M451.9 43.3h0M448.4 51.6h0M379.7 51.7h0M390.5 48.8h0M392.8 52.6h0M399.3 39.6h0M421.5 38.6h0M435.3 40.3h0M450.0 34.7h0M451.6 41.3h0M454.9 46.1h0M451.6 49.4h0M441.8 44.5h0M430.4 51.1h0M423.8 51.1h0M420.6 55.9h0M414.0 54.3h0M405.9 54.3h0M402.6 59.2h0M456.5 62.4h0M439.2 80.5h0M433.6 87.0h0M392.8 125.2h0M410.8 118.1h0M405.9 111.5h0M314.4 137.0h0M325.8 161.2h0M327.4 154.7h0M332.3 145.8h0M335.6 152.3h0M340.5 152.3h0M345.4 165.4h0M373.2 59.2h0M383.0 57.6h0M376.5 65.7h0M371.6 52.6h0" fill="none" stroke="#3cb04a" stroke-width="2.60" stroke-linecap="round"/>
<line x1="363.30" y1="19" x2="363.30" y2="173" stroke="#cc2f4f" stroke-width="1.1" stroke-dasharray="2.6,1.7"/>
<line x1="297" y1="115.84" x2="468" y2="115.84" stroke="#cc2f4f" stroke-width="1.1" stroke-dasharray="2.6,1.7"/>
<line x1="380.50" y1="19" x2="380.50" y2="173" stroke="#cc2f4f" stroke-width="1.1" stroke-dasharray="2.6,1.7"/>
<line x1="297" y1="99.36" x2="468" y2="99.36" stroke="#cc2f4f" stroke-width="1.1" stroke-dasharray="2.6,1.7"/>
<line x1="304.8" y1="150.4" x2="459.9" y2="49.2" stroke="#1a4590" stroke-width="1.4"/>
<path d="M297,19.4 V173.2 H468" fill="none" stroke="#333" stroke-width="1.4"/>
<line x1="294.2" y1="25.20" x2="297" y2="25.20" stroke="#333" stroke-width="1"/>
<text x="291.30" y="27.70" font-size="7.2" text-anchor="end" fill="#222" font-weight="normal" >10</text>
<line x1="294.2" y1="66.40" x2="297" y2="66.40" stroke="#333" stroke-width="1"/>
<text x="291.30" y="68.90" font-size="7.2" text-anchor="end" fill="#222" font-weight="normal" >5</text>
<line x1="294.2" y1="107.60" x2="297" y2="107.60" stroke="#333" stroke-width="1"/>
<text x="291.30" y="110.10" font-size="7.2" text-anchor="end" fill="#222" font-weight="normal" >0</text>
<line x1="294.2" y1="148.80" x2="297" y2="148.80" stroke="#333" stroke-width="1"/>
<text x="291.30" y="151.30" font-size="7.2" text-anchor="end" fill="#222" font-weight="normal" >−5</text>
<line x1="328.90" y1="173.2" x2="328.90" y2="176.3" stroke="#333" stroke-width="1"/>
<text x="328.90" y="185.40" font-size="7.2" text-anchor="middle" fill="#222" font-weight="normal" >−5</text>
<line x1="371.90" y1="173.2" x2="371.90" y2="176.3" stroke="#333" stroke-width="1"/>
<text x="371.90" y="185.40" font-size="7.2" text-anchor="middle" fill="#222" font-weight="normal" >0</text>
<line x1="414.90" y1="173.2" x2="414.90" y2="176.3" stroke="#333" stroke-width="1"/>
<text x="414.90" y="185.40" font-size="7.2" text-anchor="middle" fill="#222" font-weight="normal" >5</text>
<line x1="457.90" y1="173.2" x2="457.90" y2="176.3" stroke="#333" stroke-width="1"/>
<text x="457.90" y="185.40" font-size="7.2" text-anchor="middle" fill="#222" font-weight="normal" >10</text>
<text x="426.10" y="154.80" font-size="7.8" text-anchor="start" fill="#222" font-weight="normal" textLength="29" lengthAdjust="spacingAndGlyphs" >ρ = .736</text>
<text x="426.40" y="163.00" font-size="7.8" text-anchor="start" fill="#222" font-weight="normal" textLength="26.5" lengthAdjust="spacingAndGlyphs" ><tspan font-style="italic">p</tspan> &lt; .001</text>
<text transform="translate(277.3,96.5) rotate(-90)" font-size="8.4" font-weight="bold" text-anchor="middle" fill="#1a1a1a" textLength="77" lengthAdjust="spacingAndGlyphs">Morphea vs CONT log2(FC)</text>
<text x="382.55" y="197.70" font-size="8.4" text-anchor="middle" fill="#1a1a1a" font-weight="bold" textLength="90.9" lengthAdjust="spacingAndGlyphs" >Lichen planus vs CONT log2(FC)</text>
<defs><clipPath id="clipB"><rect x="35.650000000000006" y="237.4" width="221.25" height="121.79999999999997"/></clipPath></defs>
<g clip-path="url(#clipB)">
<path d="M127.3,349.9 Q136.5,351.1 145.7,349.9 L145.7,353.4 L127.3,353.4Z" fill="#8d5ab5"/>
<path d="M129.7 348.8h0M138.4 350.6h0M130.1 347.6h0M128.6 349.9h0M144.7 346.8h0M134.1 350.3h0M139.5 350.4h0M129.9 347.9h0M139.6 350.2h0M142.3 349.3h0M145.3 349.1h0M137.5 350.4h0M133.8 350.2h0M131.7 349.3h0M143.2 350.2h0M135.9 350.5h0M128.9 346.1h0M135.2 350.5h0M139.7 350.5h0M143.8 349.6h0M128.0 349.2h0M133.7 350.3h0M143.9 347.3h0M133.6 350.6h0M130.3 347.7h0M135.8 350.3h0M128.4 350.4h0M142.8 348.8h0M133.0 350.3h0M129.0 349.8h0M127.8 344.5h0M135.9 350.6h0M140.9 350.4h0M128.5 347.1h0M143.7 350.5h0M142.1 350.2h0M129.1 350.5h0M132.7 349.9h0M136.4 350.2h0M131.3 350.0h0M132.1 349.3h0M144.6 348.6h0M135.3 350.5h0M141.0 350.6h0M128.6 348.4h0M131.8 349.3h0M140.9 349.9h0M139.5 350.1h0M141.6 348.9h0M130.1 348.6h0M130.0 349.1h0M141.7 348.9h0M141.2 350.6h0M133.9 350.5h0M145.6 349.4h0M131.8 350.1h0M128.5 345.5h0M139.0 350.5h0M136.5 350.6h0M138.5 350.5h0M128.1 349.8h0M137.5 350.3h0M133.3 350.1h0M133.8 350.5h0M133.1 350.3h0M144.1 350.0h0M128.9 347.8h0M145.0 344.5h0M140.2 350.6h0M142.1 349.0h0M130.0 349.1h0M128.3 345.6h0M140.5 349.7h0M141.3 350.2h0M141.8 350.1h0M129.9 349.3h0M136.5 350.5h0M138.4 350.3h0M131.7 349.6h0M133.9 350.1h0M132.7 349.8h0M134.9 350.3h0M139.7 350.2h0M132.1 349.3h0M129.1 349.1h0M137.4 350.6h0M130.2 348.2h0M141.7 349.4h0M143.9 347.2h0M132.8 350.0h0M133.6 350.1h0M134.4 350.5h0M143.4 348.0h0M141.0 349.8h0M141.7 349.8h0M137.7 350.6h0M137.5 350.2h0M140.3 349.8h0M136.4 350.2h0M129.3 346.9h0M134.1 350.6h0M138.7 350.4h0M135.2 350.2h0M129.9 348.5h0M134.9 350.3h0M136.5 350.6h0M136.7 350.2h0M130.5 350.6h0M128.6 348.0h0M145.2 350.3h0M145.5 346.3h0M129.5 349.0h0M131.1 349.1h0M137.3 350.5h0M132.0 349.4h0M141.4 349.9h0M134.8 350.2h0M145.1 350.1h0M130.3 349.5h0M136.6 350.6h0M128.3 349.3h0M134.4 350.2h0M138.5 350.6h0M128.2 347.7h0M143.4 347.1h0M134.0 350.1h0M144.4 348.4h0M141.0 350.1h0M130.2 348.8h0M128.9 347.3h0M142.2 348.5h0M135.5 350.6h0M143.9 346.6h0M145.1 346.5h0M139.7 350.3h0M130.7 349.9h0M140.5 350.2h0M140.0 350.2h0M135.6 350.1h0M130.4 349.2h0M130.3 347.8h0M136.3 350.5h0M130.4 349.0h0M134.7 350.5h0M127.9 347.9h0M138.0 350.4h0M143.8 346.5h0M144.5 346.0h0M136.1 350.4h0M134.6 350.4h0M128.1 345.4h0M131.9 350.6h0M135.9 350.3h0M135.3 350.4h0M139.4 350.5h0M127.6 346.0h0M137.1 350.2h0M135.0 350.2h0M127.7 350.4h0M138.3 350.5h0M128.6 349.9h0M134.2 350.4h0M137.7 350.2h0M134.0 350.5h0M137.9 350.6h0M134.4 350.4h0M134.4 350.6h0M137.5 350.3h0M141.1 349.2h0M133.8 350.2h0M135.4 350.5h0M143.6 347.5h0M144.6 345.7h0M144.1 350.0h0M127.6 349.1h0M134.9 350.3h0M135.4 350.4h0M141.3 350.5h0M139.8 350.6h0M131.9 349.5h0M139.9 350.3h0M132.7 349.8h0M132.4 350.6h0M131.9 350.6h0M142.2 350.3h0M145.2 349.1h0M133.0 350.1h0M133.0 350.3h0M129.3 348.9h0M127.8 349.0h0M144.0 349.3h0M132.3 349.8h0M143.5 349.4h0M134.2 350.2h0M141.8 349.4h0M130.6 350.2h0M141.2 349.5h0M143.8 347.2h0M135.1 350.5h0M143.6 347.7h0M137.9 350.3h0M134.4 350.4h0M137.9 350.4h0M140.3 349.6h0M142.9 349.4h0M134.2 350.1h0M134.6 350.2h0M129.0 348.5h0M136.8 350.2h0M143.4 350.0h0M138.6 350.3h0M130.1 348.0h0M137.5 350.2h0M130.8 349.3h0M133.3 350.1h0M138.5 350.3h0M133.3 350.2h0M134.2 350.1h0M135.8 350.4h0M132.1 350.3h0M144.8 348.6h0M143.2 348.5h0M145.3 349.4h0M144.6 346.0h0M137.7 350.3h0M140.6 350.1h0M139.0 350.5h0M127.7 345.6h0M136.0 350.2h0M132.2 349.5h0M145.4 343.6h0M145.0 349.5h0M130.4 350.0h0M134.0 350.5h0M130.1 350.6h0M144.4 348.6h0M138.8 350.3h0M140.9 349.5h0M134.4 350.3h0M129.1 349.3h0M131.4 350.1h0M133.3 350.1h0M133.4 350.4h0M142.6 350.6h0M127.4 350.2h0M143.2 348.4h0M140.7 349.4h0M131.3 348.9h0M131.8 349.8h0M139.8 349.9h0M131.9 349.9h0M128.2 348.8h0M145.3 343.8h0M138.0 350.2h0M143.9 349.1h0M145.3 347.3h0M130.3 349.0h0M138.2 350.3h0M139.6 350.6h0M139.0 350.0h0" fill="none" stroke="#4b86bb" stroke-width="2.30" stroke-linecap="round"/>
<path d="M166.7 343.0h0M166.7 331.0h0M215.5 349.3h0M180.4 326.9h0M182.3 349.9h0M157.3 329.9h0M210.3 349.3h0M158.4 349.8h0M179.7 338.0h0M154.7 348.2h0M106.7 348.4h0M212.1 350.0h0M158.3 344.3h0M203.9 347.0h0M195.8 350.0h0M216.8 349.7h0M204.6 343.2h0M97.2 347.9h0M162.4 348.7h0M106.1 350.1h0M100.5 350.1h0M148.4 347.0h0M212.9 349.5h0M180.8 340.6h0M183.4 343.2h0M200.3 350.1h0M163.2 344.1h0M159.7 345.4h0M178.3 348.4h0M177.4 333.6h0M194.7 338.5h0M195.2 350.0h0M161.9 348.6h0M200.3 347.9h0M214.3 350.1h0M153.1 342.1h0M157.9 330.0h0M153.0 344.7h0M103.9 350.0h0M105.4 349.8h0M183.8 343.6h0M177.0 346.0h0M148.1 349.7h0M166.9 349.9h0M194.5 344.5h0M189.6 348.6h0M122.2 345.4h0M171.4 340.7h0M199.2 349.2h0M119.3 346.1h0M207.4 348.4h0M184.6 349.9h0M111.9 346.7h0M205.9 349.6h0M170.2 344.4h0M159.4 348.8h0M99.9 346.8h0M206.0 348.4h0M120.1 350.1h0M196.8 349.0h0M183.9 349.7h0M108.3 348.7h0M113.6 347.5h0M182.2 339.0h0M181.9 331.1h0M158.5 346.3h0M157.6 350.0h0M148.0 349.9h0M203.9 349.8h0M176.2 342.4h0M174.9 349.3h0M170.9 319.2h0M103.1 348.5h0M202.1 349.2h0M97.4 348.6h0M200.0 347.6h0M179.6 340.1h0M157.8 348.1h0M198.3 346.6h0M117.2 342.3h0M183.4 337.8h0M176.5 348.9h0M177.5 337.6h0M118.7 349.6h0M154.8 347.3h0M93.4 349.6h0M187.6 349.2h0M186.2 334.0h0M180.9 324.6h0M190.2 340.8h0M118.8 349.8h0M126.5 346.0h0M171.4 320.7h0M157.2 349.7h0M155.1 349.6h0M216.4 350.1h0M199.7 349.8h0M160.5 346.0h0M194.6 335.4h0M149.7 347.5h0M179.3 350.1h0M174.7 349.9h0M175.7 344.8h0M183.4 348.6h0M164.4 342.8h0M197.3 346.4h0M105.8 349.2h0M211.7 349.9h0M181.6 346.6h0M103.9 347.5h0M121.4 342.9h0M165.3 332.2h0M188.0 349.3h0M185.9 340.2h0M191.9 342.8h0M112.0 349.4h0M211.3 345.4h0M207.6 346.8h0M179.4 325.2h0M110.8 350.0h0M162.4 348.4h0M157.7 342.0h0M190.0 344.0h0M148.1 342.2h0M146.5 338.2h0M104.6 347.1h0M199.2 334.9h0M182.8 349.9h0M154.2 350.0h0M108.6 349.8h0M211.0 348.8h0M116.1 349.9h0M172.8 346.1h0M152.1 348.4h0M210.0 344.1h0M164.0 327.4h0M161.1 350.1h0M161.9 347.9h0M215.0 348.7h0M195.4 349.9h0M197.6 343.2h0M179.7 322.1h0M169.7 349.4h0M113.4 346.4h0M200.0 349.3h0M165.1 349.7h0M151.0 349.8h0M199.3 342.7h0M104.3 346.2h0M148.0 350.0h0M187.7 330.8h0M206.4 349.3h0M188.4 346.9h0M151.1 349.8h0M191.1 347.6h0M158.3 337.2h0M171.7 348.2h0M217.2 349.7h0M195.8 348.9h0M208.9 350.1h0M174.9 350.1h0M178.4 347.7h0M170.1 345.3h0M165.9 333.5h0M151.0 346.5h0M203.2 347.9h0M166.6 346.1h0M147.1 337.0h0M191.5 348.6h0M109.9 346.7h0M199.8 343.3h0M164.9 345.9h0M156.0 335.1h0M99.6 350.0h0M186.7 345.5h0M149.1 350.1h0M163.0 345.2h0M167.7 349.4h0M152.1 345.3h0M155.5 350.0h0M165.3 345.7h0M154.1 350.0h0M167.3 346.5h0M190.6 340.7h0M110.8 350.0h0M210.1 346.9h0M103.7 349.0h0M199.8 338.3h0M199.0 338.5h0M164.5 349.4h0M148.0 347.3h0M174.4 344.6h0M175.1 346.4h0M194.4 349.1h0M103.3 347.7h0M199.2 348.0h0M173.8 345.6h0M110.5 349.0h0M172.3 340.3h0M190.7 344.7h0M176.8 343.4h0M158.7 339.5h0M206.6 343.7h0M173.1 349.9h0M168.3 345.7h0M94.4 350.1h0M204.5 348.4h0M119.3 348.7h0M103.3 349.3h0M150.5 340.3h0M161.4 345.0h0M196.1 349.8h0M151.4 350.0h0M163.5 337.3h0M176.1 349.9h0M204.1 344.1h0M104.4 349.9h0M190.4 334.0h0M188.5 350.1h0M125.6 350.0h0M187.5 349.6h0M178.5 321.2h0M191.7 349.9h0M118.6 345.0h0M156.4 349.9h0M158.0 344.8h0M157.2 344.8h0M163.0 348.8h0M118.9 347.7h0M187.3 335.5h0M169.4 349.4h0M181.5 345.5h0M191.8 349.2h0M169.7 348.7h0M214.9 347.1h0M116.9 347.7h0M186.5 330.4h0M189.0 332.3h0M120.0 349.9h0M169.1 349.3h0M146.6 346.6h0M147.9 346.6h0M201.0 349.8h0M112.9 348.6h0M193.8 340.8h0M196.4 350.0h0M157.3 330.6h0M106.5 344.6h0M146.4 341.6h0M189.4 349.0h0M126.5 347.5h0M160.1 335.5h0M159.0 338.3h0M173.5 345.2h0M165.0 326.8h0M180.0 346.4h0M170.6 349.3h0M108.4 348.3h0M177.6 340.3h0M171.3 328.5h0M198.3 349.2h0M153.2 335.3h0M102.9 349.7h0M164.5 345.2h0M146.7 349.5h0M163.9 349.6h0M95.9 349.3h0M184.1 343.0h0M102.1 349.8h0M182.3 347.4h0M111.8 345.2h0M110.3 345.8h0M174.6 343.9h0M150.0 340.0h0M187.7 341.5h0M94.3 350.1h0M184.9 335.3h0M191.6 350.1h0M174.5 328.5h0M160.4 350.0h0M152.4 342.1h0M189.7 345.4h0M146.3 349.9h0M189.5 332.0h0M183.3 349.9h0M151.0 350.1h0M203.4 349.6h0M154.4 348.9h0M169.0 350.0h0M182.2 346.8h0M201.6 350.0h0M99.7 349.7h0M193.4 335.2h0M154.2 343.4h0M167.7 344.6h0M176.2 340.1h0M194.2 339.9h0M176.8 339.5h0M180.8 344.8h0M149.3 344.7h0" fill="none" stroke="#4a0615" stroke-width="2.80" stroke-linecap="round" stroke-opacity="0.2"/>
<path d="M166.7 343.0h0M166.7 331.0h0M215.5 349.3h0M180.4 326.9h0M182.3 349.9h0M157.3 329.9h0M210.3 349.3h0M158.4 349.8h0M179.7 338.0h0M154.7 348.2h0M106.7 348.4h0M212.1 350.0h0M158.3 344.3h0M203.9 347.0h0M195.8 350.0h0M216.8 349.7h0M204.6 343.2h0M97.2 347.9h0M162.4 348.7h0M106.1 350.1h0M100.5 350.1h0M148.4 347.0h0M212.9 349.5h0M180.8 340.6h0M183.4 343.2h0M200.3 350.1h0M163.2 344.1h0M159.7 345.4h0M178.3 348.4h0M177.4 333.6h0M194.7 338.5h0M195.2 350.0h0M161.9 348.6h0M200.3 347.9h0M214.3 350.1h0M153.1 342.1h0M157.9 330.0h0M153.0 344.7h0M103.9 350.0h0M105.4 349.8h0M183.8 343.6h0M177.0 346.0h0M148.1 349.7h0M166.9 349.9h0M194.5 344.5h0M189.6 348.6h0M122.2 345.4h0M171.4 340.7h0M199.2 349.2h0M119.3 346.1h0M207.4 348.4h0M184.6 349.9h0M111.9 346.7h0M205.9 349.6h0M170.2 344.4h0M159.4 348.8h0M99.9 346.8h0M206.0 348.4h0M120.1 350.1h0M196.8 349.0h0M183.9 349.7h0M108.3 348.7h0M113.6 347.5h0M182.2 339.0h0M181.9 331.1h0M158.5 346.3h0M157.6 350.0h0M148.0 349.9h0M203.9 349.8h0M176.2 342.4h0M174.9 349.3h0M170.9 319.2h0M103.1 348.5h0M202.1 349.2h0M97.4 348.6h0M200.0 347.6h0M179.6 340.1h0M157.8 348.1h0M198.3 346.6h0M117.2 342.3h0M183.4 337.8h0M176.5 348.9h0M177.5 337.6h0M118.7 349.6h0M154.8 347.3h0M93.4 349.6h0M187.6 349.2h0M186.2 334.0h0M180.9 324.6h0M190.2 340.8h0M118.8 349.8h0M126.5 346.0h0M171.4 320.7h0M157.2 349.7h0M155.1 349.6h0M216.4 350.1h0M199.7 349.8h0M160.5 346.0h0M194.6 335.4h0M149.7 347.5h0M179.3 350.1h0M174.7 349.9h0M175.7 344.8h0M183.4 348.6h0M164.4 342.8h0M197.3 346.4h0M105.8 349.2h0M211.7 349.9h0M181.6 346.6h0M103.9 347.5h0M121.4 342.9h0M165.3 332.2h0M188.0 349.3h0M185.9 340.2h0M191.9 342.8h0M112.0 349.4h0M211.3 345.4h0M207.6 346.8h0M179.4 325.2h0M110.8 350.0h0M162.4 348.4h0M157.7 342.0h0M190.0 344.0h0M148.1 342.2h0M146.5 338.2h0M104.6 347.1h0M199.2 334.9h0M182.8 349.9h0M154.2 350.0h0M108.6 349.8h0M211.0 348.8h0M116.1 349.9h0M172.8 346.1h0M152.1 348.4h0M210.0 344.1h0M164.0 327.4h0M161.1 350.1h0M161.9 347.9h0M215.0 348.7h0M195.4 349.9h0M197.6 343.2h0M179.7 322.1h0M169.7 349.4h0M113.4 346.4h0M200.0 349.3h0M165.1 349.7h0M151.0 349.8h0M199.3 342.7h0M104.3 346.2h0M148.0 350.0h0M187.7 330.8h0M206.4 349.3h0M188.4 346.9h0M151.1 349.8h0M191.1 347.6h0M158.3 337.2h0M171.7 348.2h0M217.2 349.7h0M195.8 348.9h0M208.9 350.1h0M174.9 350.1h0M178.4 347.7h0M170.1 345.3h0M165.9 333.5h0M151.0 346.5h0M203.2 347.9h0M166.6 346.1h0M147.1 337.0h0M191.5 348.6h0M109.9 346.7h0M199.8 343.3h0M164.9 345.9h0M156.0 335.1h0M99.6 350.0h0M186.7 345.5h0M149.1 350.1h0M163.0 345.2h0M167.7 349.4h0M152.1 345.3h0M155.5 350.0h0M165.3 345.7h0M154.1 350.0h0M167.3 346.5h0M190.6 340.7h0M110.8 350.0h0M210.1 346.9h0M103.7 349.0h0M199.8 338.3h0M199.0 338.5h0M164.5 349.4h0M148.0 347.3h0M174.4 344.6h0M175.1 346.4h0M194.4 349.1h0M103.3 347.7h0M199.2 348.0h0M173.8 345.6h0M110.5 349.0h0M172.3 340.3h0M190.7 344.7h0M176.8 343.4h0M158.7 339.5h0M206.6 343.7h0M173.1 349.9h0M168.3 345.7h0M94.4 350.1h0M204.5 348.4h0M119.3 348.7h0M103.3 349.3h0M150.5 340.3h0M161.4 345.0h0M196.1 349.8h0M151.4 350.0h0M163.5 337.3h0M176.1 349.9h0M204.1 344.1h0M104.4 349.9h0M190.4 334.0h0M188.5 350.1h0M125.6 350.0h0M187.5 349.6h0M178.5 321.2h0M191.7 349.9h0M118.6 345.0h0M156.4 349.9h0M158.0 344.8h0M157.2 344.8h0M163.0 348.8h0M118.9 347.7h0M187.3 335.5h0M169.4 349.4h0M181.5 345.5h0M191.8 349.2h0M169.7 348.7h0M214.9 347.1h0M116.9 347.7h0M186.5 330.4h0M189.0 332.3h0M120.0 349.9h0M169.1 349.3h0M146.6 346.6h0M147.9 346.6h0M201.0 349.8h0M112.9 348.6h0M193.8 340.8h0M196.4 350.0h0M157.3 330.6h0M106.5 344.6h0M146.4 341.6h0M189.4 349.0h0M126.5 347.5h0M160.1 335.5h0M159.0 338.3h0M173.5 345.2h0M165.0 326.8h0M180.0 346.4h0M170.6 349.3h0M108.4 348.3h0M177.6 340.3h0M171.3 328.5h0M198.3 349.2h0M153.2 335.3h0M102.9 349.7h0M164.5 345.2h0M146.7 349.5h0M163.9 349.6h0M95.9 349.3h0M184.1 343.0h0M102.1 349.8h0M182.3 347.4h0M111.8 345.2h0M110.3 345.8h0M174.6 343.9h0M150.0 340.0h0M187.7 341.5h0M94.3 350.1h0M184.9 335.3h0M191.6 350.1h0M174.5 328.5h0M160.4 350.0h0M152.4 342.1h0M189.7 345.4h0M146.3 349.9h0M189.5 332.0h0M183.3 349.9h0M151.0 350.1h0M203.4 349.6h0M154.4 348.9h0M169.0 350.0h0M182.2 346.8h0M201.6 350.0h0M99.7 349.7h0M193.4 335.2h0M154.2 343.4h0M167.7 344.6h0M176.2 340.1h0M194.2 339.9h0M176.8 339.5h0M180.8 344.8h0M149.3 344.7h0" fill="none" stroke="#de5772" stroke-width="2.50" stroke-linecap="round"/>
<path d="M115.8 349.6h0M101.7 349.4h0M192.7 350.1h0M148.6 347.4h0M186.3 341.9h0M179.9 349.7h0M209.3 345.9h0M164.5 328.7h0M179.5 325.4h0M189.0 327.0h0M177.7 349.1h0M164.3 340.4h0M187.2 340.6h0M182.8 340.6h0M182.7 347.7h0M191.9 344.6h0M190.6 347.1h0M203.3 345.9h0M150.8 350.0h0M210.2 350.0h0M163.3 346.6h0M187.6 348.8h0M116.4 345.9h0M187.8 333.4h0M161.2 338.5h0M166.9 349.3h0M202.5 343.3h0M155.8 342.6h0M191.4 341.5h0M186.6 350.0h0M194.0 336.4h0M165.4 348.2h0M182.0 348.6h0M188.8 349.3h0M122.9 349.9h0M148.1 346.5h0M197.1 350.0h0M122.9 347.4h0M107.9 345.3h0M189.3 330.0h0M120.0 348.5h0M96.2 349.8h0M181.7 349.7h0M148.4 345.6h0M189.3 349.8h0M175.0 345.0h0M123.5 350.0h0M105.3 346.9h0M124.3 349.7h0M197.7 347.2h0M189.8 327.0h0M158.8 338.2h0M186.8 350.0h0M155.4 343.2h0M184.6 350.1h0M174.0 341.8h0M194.7 349.8h0M156.5 335.8h0M169.6 345.2h0M116.4 349.8h0M170.0 321.1h0M201.4 344.2h0M171.9 349.6h0M162.6 345.3h0M208.6 347.4h0M175.3 319.4h0M192.3 350.0h0M212.9 347.4h0M178.0 349.9h0M173.5 347.1h0M174.5 329.5h0M179.0 347.2h0M209.0 348.7h0M155.6 344.2h0M179.0 339.0h0M150.2 349.9h0M182.6 350.0h0M172.1 349.1h0M213.7 345.8h0M165.0 334.6h0M190.6 349.9h0M190.5 349.3h0M195.7 335.1h0M168.4 320.1h0M203.5 344.2h0M213.2 349.7h0M166.5 324.1h0M197.1 347.6h0M170.6 337.5h0M188.4 350.0h0M168.0 335.2h0M188.0 345.8h0M189.6 346.9h0M101.3 348.3h0M155.3 349.5h0M150.4 340.7h0M195.5 349.7h0M157.1 348.9h0M167.9 350.0h0M171.9 350.1h0M167.4 346.8h0M158.2 344.0h0M202.5 346.4h0M100.3 349.8h0M169.4 329.3h0M168.5 346.9h0M195.3 340.1h0M180.9 347.4h0M172.1 322.7h0M160.8 348.8h0M158.4 348.9h0M151.7 335.5h0M147.9 345.3h0M167.1 323.0h0M173.7 350.1h0M123.1 350.0h0M116.6 348.8h0M151.0 350.0h0M165.6 348.6h0M200.7 339.8h0M92.7 349.3h0M177.5 338.0h0M158.6 345.0h0M186.5 349.6h0M177.1 343.7h0M176.4 322.0h0M181.8 343.2h0M176.4 344.8h0M161.2 349.9h0M171.0 348.6h0M161.4 343.2h0M172.5 320.4h0M199.5 342.5h0M184.8 349.8h0M162.2 333.5h0M166.2 342.2h0M195.6 344.1h0M178.9 341.4h0M191.5 349.0h0M147.4 344.5h0M186.0 328.3h0M181.8 347.1h0M177.0 343.1h0M185.0 323.6h0M126.2 347.7h0M168.4 349.3h0M146.3 350.0h0M123.4 349.6h0M97.4 349.9h0M119.5 343.2h0M161.9 349.9h0M112.5 349.5h0M187.4 345.9h0M166.2 325.8h0M215.5 349.1h0M152.4 348.7h0M152.4 344.9h0M164.1 329.6h0M156.4 347.0h0M116.0 344.8h0M153.9 338.1h0M186.1 331.9h0M169.2 350.0h0M116.1 350.1h0M112.7 349.8h0M162.4 329.1h0M175.4 333.9h0M125.8 349.8h0M157.4 343.7h0M167.8 349.9h0M182.5 324.0h0M182.0 345.4h0M179.8 349.9h0M207.7 347.5h0M202.0 350.0h0M152.8 350.0h0M187.7 345.1h0M167.7 350.0h0M177.7 336.7h0M156.9 349.6h0M204.0 350.0h0M159.7 343.0h0M159.8 350.1h0M166.5 349.9h0M195.6 350.1h0M118.6 348.1h0M111.6 345.8h0M168.4 348.0h0M154.7 350.0h0M176.9 348.2h0M149.1 349.4h0M179.4 348.5h0M180.2 346.4h0M196.3 349.8h0M158.0 345.9h0M184.2 350.1h0M120.7 342.9h0M168.4 349.8h0M154.2 346.8h0M191.3 343.8h0M98.8 347.0h0M195.2 349.3h0M109.3 346.1h0M164.4 336.3h0M159.7 346.7h0M157.8 340.8h0M189.4 349.7h0M163.3 335.2h0M173.3 342.1h0M205.5 349.4h0M94.6 349.2h0M111.8 349.1h0M159.1 348.5h0M209.8 347.7h0M192.2 343.8h0M154.6 349.8h0M205.9 341.7h0M185.6 340.9h0M188.3 343.7h0M209.5 350.0h0M182.2 345.5h0M189.2 349.5h0M198.3 347.6h0M179.7 349.9h0M200.2 343.0h0M154.7 349.5h0M162.6 336.9h0M147.0 343.0h0M146.6 344.0h0M192.2 348.5h0M154.8 350.0h0M153.9 336.0h0M158.3 331.0h0M181.0 349.8h0M162.5 348.1h0M195.0 350.0h0M200.9 341.8h0M155.4 341.1h0M153.8 349.0h0M193.2 337.0h0M181.0 339.6h0M195.4 343.5h0M163.6 342.6h0M156.9 347.7h0M169.0 341.6h0M177.6 338.2h0M101.4 348.2h0M162.5 343.1h0M124.3 350.1h0M154.8 349.1h0M158.1 350.1h0M172.1 349.3h0M213.9 349.1h0M197.8 343.7h0M194.2 349.6h0M199.9 342.2h0M193.8 339.5h0M118.3 347.3h0M172.5 349.5h0M180.3 349.9h0M190.4 341.4h0M98.9 349.7h0M147.7 349.3h0M196.4 349.5h0M127.3 349.9h0M151.6 340.0h0M95.9 347.9h0M118.9 347.9h0M170.3 350.0h0M103.9 349.9h0M216.7 348.5h0M157.3 339.3h0M212.6 349.2h0M173.7 349.3h0M193.2 349.4h0M155.5 350.1h0M164.7 349.9h0M146.3 345.2h0M113.2 348.6h0M149.9 346.1h0M183.0 348.9h0M187.6 340.0h0M183.0 349.7h0M187.0 332.3h0M179.4 350.1h0M176.0 325.8h0M176.4 323.5h0M200.5 344.3h0M147.0 348.3h0M152.6 342.7h0M185.8 350.0h0M210.4 343.6h0M190.2 346.0h0M194.9 349.6h0M150.5 334.1h0M148.1 344.4h0M218.1 348.5h0M155.7 337.6h0M182.7 336.0h0M158.4 331.5h0" fill="none" stroke="#4a0615" stroke-width="2.80" stroke-linecap="round" stroke-opacity="0.2"/>
<path d="M115.8 349.6h0M101.7 349.4h0M192.7 350.1h0M148.6 347.4h0M186.3 341.9h0M179.9 349.7h0M209.3 345.9h0M164.5 328.7h0M179.5 325.4h0M189.0 327.0h0M177.7 349.1h0M164.3 340.4h0M187.2 340.6h0M182.8 340.6h0M182.7 347.7h0M191.9 344.6h0M190.6 347.1h0M203.3 345.9h0M150.8 350.0h0M210.2 350.0h0M163.3 346.6h0M187.6 348.8h0M116.4 345.9h0M187.8 333.4h0M161.2 338.5h0M166.9 349.3h0M202.5 343.3h0M155.8 342.6h0M191.4 341.5h0M186.6 350.0h0M194.0 336.4h0M165.4 348.2h0M182.0 348.6h0M188.8 349.3h0M122.9 349.9h0M148.1 346.5h0M197.1 350.0h0M122.9 347.4h0M107.9 345.3h0M189.3 330.0h0M120.0 348.5h0M96.2 349.8h0M181.7 349.7h0M148.4 345.6h0M189.3 349.8h0M175.0 345.0h0M123.5 350.0h0M105.3 346.9h0M124.3 349.7h0M197.7 347.2h0M189.8 327.0h0M158.8 338.2h0M186.8 350.0h0M155.4 343.2h0M184.6 350.1h0M174.0 341.8h0M194.7 349.8h0M156.5 335.8h0M169.6 345.2h0M116.4 349.8h0M170.0 321.1h0M201.4 344.2h0M171.9 349.6h0M162.6 345.3h0M208.6 347.4h0M175.3 319.4h0M192.3 350.0h0M212.9 347.4h0M178.0 349.9h0M173.5 347.1h0M174.5 329.5h0M179.0 347.2h0M209.0 348.7h0M155.6 344.2h0M179.0 339.0h0M150.2 349.9h0M182.6 350.0h0M172.1 349.1h0M213.7 345.8h0M165.0 334.6h0M190.6 349.9h0M190.5 349.3h0M195.7 335.1h0M168.4 320.1h0M203.5 344.2h0M213.2 349.7h0M166.5 324.1h0M197.1 347.6h0M170.6 337.5h0M188.4 350.0h0M168.0 335.2h0M188.0 345.8h0M189.6 346.9h0M101.3 348.3h0M155.3 349.5h0M150.4 340.7h0M195.5 349.7h0M157.1 348.9h0M167.9 350.0h0M171.9 350.1h0M167.4 346.8h0M158.2 344.0h0M202.5 346.4h0M100.3 349.8h0M169.4 329.3h0M168.5 346.9h0M195.3 340.1h0M180.9 347.4h0M172.1 322.7h0M160.8 348.8h0M158.4 348.9h0M151.7 335.5h0M147.9 345.3h0M167.1 323.0h0M173.7 350.1h0M123.1 350.0h0M116.6 348.8h0M151.0 350.0h0M165.6 348.6h0M200.7 339.8h0M92.7 349.3h0M177.5 338.0h0M158.6 345.0h0M186.5 349.6h0M177.1 343.7h0M176.4 322.0h0M181.8 343.2h0M176.4 344.8h0M161.2 349.9h0M171.0 348.6h0M161.4 343.2h0M172.5 320.4h0M199.5 342.5h0M184.8 349.8h0M162.2 333.5h0M166.2 342.2h0M195.6 344.1h0M178.9 341.4h0M191.5 349.0h0M147.4 344.5h0M186.0 328.3h0M181.8 347.1h0M177.0 343.1h0M185.0 323.6h0M126.2 347.7h0M168.4 349.3h0M146.3 350.0h0M123.4 349.6h0M97.4 349.9h0M119.5 343.2h0M161.9 349.9h0M112.5 349.5h0M187.4 345.9h0M166.2 325.8h0M215.5 349.1h0M152.4 348.7h0M152.4 344.9h0M164.1 329.6h0M156.4 347.0h0M116.0 344.8h0M153.9 338.1h0M186.1 331.9h0M169.2 350.0h0M116.1 350.1h0M112.7 349.8h0M162.4 329.1h0M175.4 333.9h0M125.8 349.8h0M157.4 343.7h0M167.8 349.9h0M182.5 324.0h0M182.0 345.4h0M179.8 349.9h0M207.7 347.5h0M202.0 350.0h0M152.8 350.0h0M187.7 345.1h0M167.7 350.0h0M177.7 336.7h0M156.9 349.6h0M204.0 350.0h0M159.7 343.0h0M159.8 350.1h0M166.5 349.9h0M195.6 350.1h0M118.6 348.1h0M111.6 345.8h0M168.4 348.0h0M154.7 350.0h0M176.9 348.2h0M149.1 349.4h0M179.4 348.5h0M180.2 346.4h0M196.3 349.8h0M158.0 345.9h0M184.2 350.1h0M120.7 342.9h0M168.4 349.8h0M154.2 346.8h0M191.3 343.8h0M98.8 347.0h0M195.2 349.3h0M109.3 346.1h0M164.4 336.3h0M159.7 346.7h0M157.8 340.8h0M189.4 349.7h0M163.3 335.2h0M173.3 342.1h0M205.5 349.4h0M94.6 349.2h0M111.8 349.1h0M159.1 348.5h0M209.8 347.7h0M192.2 343.8h0M154.6 349.8h0M205.9 341.7h0M185.6 340.9h0M188.3 343.7h0M209.5 350.0h0M182.2 345.5h0M189.2 349.5h0M198.3 347.6h0M179.7 349.9h0M200.2 343.0h0M154.7 349.5h0M162.6 336.9h0M147.0 343.0h0M146.6 344.0h0M192.2 348.5h0M154.8 350.0h0M153.9 336.0h0M158.3 331.0h0M181.0 349.8h0M162.5 348.1h0M195.0 350.0h0M200.9 341.8h0M155.4 341.1h0M153.8 349.0h0M193.2 337.0h0M181.0 339.6h0M195.4 343.5h0M163.6 342.6h0M156.9 347.7h0M169.0 341.6h0M177.6 338.2h0M101.4 348.2h0M162.5 343.1h0M124.3 350.1h0M154.8 349.1h0M158.1 350.1h0M172.1 349.3h0M213.9 349.1h0M197.8 343.7h0M194.2 349.6h0M199.9 342.2h0M193.8 339.5h0M118.3 347.3h0M172.5 349.5h0M180.3 349.9h0M190.4 341.4h0M98.9 349.7h0M147.7 349.3h0M196.4 349.5h0M127.3 349.9h0M151.6 340.0h0M95.9 347.9h0M118.9 347.9h0M170.3 350.0h0M103.9 349.9h0M216.7 348.5h0M157.3 339.3h0M212.6 349.2h0M173.7 349.3h0M193.2 349.4h0M155.5 350.1h0M164.7 349.9h0M146.3 345.2h0M113.2 348.6h0M149.9 346.1h0M183.0 348.9h0M187.6 340.0h0M183.0 349.7h0M187.0 332.3h0M179.4 350.1h0M176.0 325.8h0M176.4 323.5h0M200.5 344.3h0M147.0 348.3h0M152.6 342.7h0M185.8 350.0h0M210.4 343.6h0M190.2 346.0h0M194.9 349.6h0M150.5 334.1h0M148.1 344.4h0M218.1 348.5h0M155.7 337.6h0M182.7 336.0h0M158.4 331.5h0" fill="none" stroke="#de5772" stroke-width="2.50" stroke-linecap="round"/>
<path d="M156.3 349.1h0M98.7 350.0h0M190.2 349.5h0M126.2 347.7h0M181.4 341.2h0M211.7 348.4h0M150.7 348.2h0M173.0 320.7h0M188.5 347.5h0M169.5 322.4h0M184.9 337.9h0M168.3 348.6h0M155.1 341.8h0M203.8 349.0h0M116.2 348.8h0M110.9 348.6h0M212.4 347.2h0M173.8 348.5h0M146.2 347.8h0M184.2 349.4h0M174.8 342.5h0M154.6 340.5h0M215.9 349.9h0M170.8 341.1h0M207.4 347.8h0M163.3 341.2h0M170.7 346.8h0M202.2 345.6h0M107.6 344.9h0M178.4 350.1h0M174.6 328.2h0M203.2 350.0h0M118.1 343.1h0M196.7 345.7h0M180.3 329.5h0M165.0 348.5h0M182.2 334.5h0M98.3 346.9h0M174.1 323.7h0M186.2 338.0h0M179.9 349.2h0M151.1 348.9h0M179.1 339.9h0M99.9 349.6h0M196.0 341.1h0M164.5 348.0h0M167.4 341.8h0M194.9 350.1h0M122.6 349.7h0M217.0 347.4h0M121.8 344.2h0M186.3 349.3h0M162.4 350.0h0M183.5 340.9h0M161.9 337.3h0M107.2 344.8h0M161.9 335.0h0M112.0 348.5h0M147.4 346.3h0M201.5 343.0h0M176.7 338.3h0M171.4 340.5h0M180.4 350.1h0M122.6 349.6h0M203.9 350.0h0M186.2 349.9h0M163.6 331.9h0M165.1 349.5h0M151.1 348.3h0M206.2 341.0h0M108.4 350.1h0M207.3 344.5h0M110.7 346.2h0M104.1 348.5h0M179.2 336.1h0M188.0 331.3h0M173.8 346.9h0M201.1 349.6h0M209.6 350.0h0M165.6 328.9h0M177.5 349.0h0M194.8 350.1h0M165.3 346.3h0M115.0 347.0h0M193.8 348.5h0M187.2 349.7h0M158.8 334.8h0M150.7 341.9h0M161.6 332.6h0M192.4 349.6h0M113.2 346.1h0M209.6 347.0h0M162.9 348.7h0M166.3 341.6h0M155.9 348.6h0M185.9 349.7h0M180.4 343.8h0M107.6 348.9h0M147.8 350.0h0M205.2 350.1h0M192.1 349.9h0M160.6 346.4h0M154.8 328.5h0M162.5 349.5h0M175.4 346.6h0M100.5 348.2h0M175.0 322.2h0M181.9 350.1h0M196.2 349.1h0M152.4 338.1h0M113.4 349.0h0M206.5 341.2h0M199.3 350.0h0M95.4 349.1h0M161.1 349.6h0M180.2 345.6h0M121.6 349.2h0M177.7 349.9h0M167.7 349.9h0M172.8 335.0h0M174.9 331.4h0M183.1 339.6h0M169.1 349.2h0M200.0 349.9h0M155.5 330.0h0M166.8 348.6h0M165.1 344.4h0M106.7 347.1h0M102.7 348.0h0M212.9 346.0h0M163.9 344.3h0M147.5 342.4h0M152.8 346.1h0M174.9 341.7h0M176.6 334.1h0M95.3 349.5h0M182.4 346.4h0M206.1 349.0h0M104.9 348.9h0M113.4 349.3h0M93.7 350.1h0M164.7 350.1h0M189.7 330.9h0M214.3 347.7h0M171.6 344.7h0M154.8 350.1h0M193.4 342.3h0M120.3 347.1h0M169.3 337.5h0M185.3 345.0h0M197.8 348.5h0M183.1 325.2h0M170.6 347.3h0M190.4 348.7h0M170.2 345.4h0M193.1 349.9h0M178.9 349.7h0M189.8 340.7h0M169.8 331.4h0M123.3 350.0h0M181.9 349.9h0M163.7 349.7h0M119.2 349.9h0M173.1 344.5h0M185.4 349.6h0M187.6 348.9h0M197.6 333.0h0M115.0 350.1h0M122.8 347.9h0M166.9 347.9h0M155.5 340.0h0M202.6 336.6h0M173.2 325.0h0M150.1 349.1h0M100.7 346.8h0M185.9 349.5h0M171.3 346.4h0M186.1 325.5h0M203.8 342.3h0M101.4 347.4h0M111.2 349.2h0M146.9 338.5h0M169.8 349.6h0M175.3 318.5h0M166.0 343.5h0M164.4 347.3h0M167.1 332.7h0M150.7 345.6h0M203.4 348.0h0M181.6 340.6h0M166.6 339.7h0M151.5 347.0h0M171.3 333.9h0M202.1 348.5h0M169.9 326.9h0M171.9 348.5h0M179.1 349.9h0M168.0 350.0h0M181.6 349.3h0M115.7 344.5h0M173.9 318.7h0M163.5 350.1h0M177.8 348.5h0M186.1 347.3h0M107.0 346.8h0M196.5 345.3h0M96.3 348.1h0M155.6 336.4h0M178.9 328.0h0M159.9 350.0h0M167.6 348.8h0M153.5 332.4h0M165.6 335.8h0M163.3 338.9h0M164.5 340.4h0M174.8 350.0h0M108.2 349.8h0M173.4 349.1h0M121.2 346.8h0M152.6 330.4h0M171.1 350.0h0M161.6 339.0h0M171.2 347.8h0M205.1 348.0h0M202.2 339.7h0M98.0 348.9h0M114.5 348.8h0M167.7 347.8h0M158.6 349.0h0M126.3 344.6h0M120.7 349.2h0M196.6 343.6h0M158.8 341.0h0M116.3 349.9h0M154.6 339.0h0M93.5 350.0h0M190.0 345.5h0M168.6 337.2h0M188.0 347.6h0M177.4 320.1h0M180.1 331.6h0M206.3 341.4h0M155.5 345.2h0M151.8 348.3h0M117.0 347.6h0M180.6 350.0h0M185.9 336.1h0M177.5 350.1h0M192.5 344.3h0M197.0 332.4h0M124.3 349.6h0M170.6 348.2h0M166.8 347.1h0M94.6 350.1h0M197.5 348.9h0M193.0 350.1h0M185.8 348.9h0M170.1 347.8h0M152.2 348.0h0M151.5 347.3h0M173.4 335.9h0M117.0 348.1h0M111.3 349.5h0M103.4 349.9h0M177.6 342.0h0M161.8 338.9h0M211.4 345.9h0M177.3 346.3h0M172.6 350.0h0M189.6 349.4h0M179.1 348.3h0M186.0 340.8h0M189.7 336.4h0M177.4 350.0h0M100.6 349.9h0M215.8 348.9h0M114.4 348.5h0M217.8 349.8h0M204.4 339.6h0M164.3 341.1h0M175.9 330.7h0M191.0 347.4h0M195.6 348.1h0M164.5 344.4h0M212.5 347.0h0M194.0 336.6h0M157.9 350.1h0M183.0 339.5h0M163.7 343.8h0M174.6 350.0h0M186.5 350.0h0M194.2 347.2h0M197.7 348.0h0M161.3 348.3h0M216.1 349.9h0M178.5 349.0h0M96.7 349.1h0M95.0 350.1h0M149.5 347.5h0M188.1 342.9h0" fill="none" stroke="#4a0615" stroke-width="2.80" stroke-linecap="round" stroke-opacity="0.2"/>
<path d="M156.3 349.1h0M98.7 350.0h0M190.2 349.5h0M126.2 347.7h0M181.4 341.2h0M211.7 348.4h0M150.7 348.2h0M173.0 320.7h0M188.5 347.5h0M169.5 322.4h0M184.9 337.9h0M168.3 348.6h0M155.1 341.8h0M203.8 349.0h0M116.2 348.8h0M110.9 348.6h0M212.4 347.2h0M173.8 348.5h0M146.2 347.8h0M184.2 349.4h0M174.8 342.5h0M154.6 340.5h0M215.9 349.9h0M170.8 341.1h0M207.4 347.8h0M163.3 341.2h0M170.7 346.8h0M202.2 345.6h0M107.6 344.9h0M178.4 350.1h0M174.6 328.2h0M203.2 350.0h0M118.1 343.1h0M196.7 345.7h0M180.3 329.5h0M165.0 348.5h0M182.2 334.5h0M98.3 346.9h0M174.1 323.7h0M186.2 338.0h0M179.9 349.2h0M151.1 348.9h0M179.1 339.9h0M99.9 349.6h0M196.0 341.1h0M164.5 348.0h0M167.4 341.8h0M194.9 350.1h0M122.6 349.7h0M217.0 347.4h0M121.8 344.2h0M186.3 349.3h0M162.4 350.0h0M183.5 340.9h0M161.9 337.3h0M107.2 344.8h0M161.9 335.0h0M112.0 348.5h0M147.4 346.3h0M201.5 343.0h0M176.7 338.3h0M171.4 340.5h0M180.4 350.1h0M122.6 349.6h0M203.9 350.0h0M186.2 349.9h0M163.6 331.9h0M165.1 349.5h0M151.1 348.3h0M206.2 341.0h0M108.4 350.1h0M207.3 344.5h0M110.7 346.2h0M104.1 348.5h0M179.2 336.1h0M188.0 331.3h0M173.8 346.9h0M201.1 349.6h0M209.6 350.0h0M165.6 328.9h0M177.5 349.0h0M194.8 350.1h0M165.3 346.3h0M115.0 347.0h0M193.8 348.5h0M187.2 349.7h0M158.8 334.8h0M150.7 341.9h0M161.6 332.6h0M192.4 349.6h0M113.2 346.1h0M209.6 347.0h0M162.9 348.7h0M166.3 341.6h0M155.9 348.6h0M185.9 349.7h0M180.4 343.8h0M107.6 348.9h0M147.8 350.0h0M205.2 350.1h0M192.1 349.9h0M160.6 346.4h0M154.8 328.5h0M162.5 349.5h0M175.4 346.6h0M100.5 348.2h0M175.0 322.2h0M181.9 350.1h0M196.2 349.1h0M152.4 338.1h0M113.4 349.0h0M206.5 341.2h0M199.3 350.0h0M95.4 349.1h0M161.1 349.6h0M180.2 345.6h0M121.6 349.2h0M177.7 349.9h0M167.7 349.9h0M172.8 335.0h0M174.9 331.4h0M183.1 339.6h0M169.1 349.2h0M200.0 349.9h0M155.5 330.0h0M166.8 348.6h0M165.1 344.4h0M106.7 347.1h0M102.7 348.0h0M212.9 346.0h0M163.9 344.3h0M147.5 342.4h0M152.8 346.1h0M174.9 341.7h0M176.6 334.1h0M95.3 349.5h0M182.4 346.4h0M206.1 349.0h0M104.9 348.9h0M113.4 349.3h0M93.7 350.1h0M164.7 350.1h0M189.7 330.9h0M214.3 347.7h0M171.6 344.7h0M154.8 350.1h0M193.4 342.3h0M120.3 347.1h0M169.3 337.5h0M185.3 345.0h0M197.8 348.5h0M183.1 325.2h0M170.6 347.3h0M190.4 348.7h0M170.2 345.4h0M193.1 349.9h0M178.9 349.7h0M189.8 340.7h0M169.8 331.4h0M123.3 350.0h0M181.9 349.9h0M163.7 349.7h0M119.2 349.9h0M173.1 344.5h0M185.4 349.6h0M187.6 348.9h0M197.6 333.0h0M115.0 350.1h0M122.8 347.9h0M166.9 347.9h0M155.5 340.0h0M202.6 336.6h0M173.2 325.0h0M150.1 349.1h0M100.7 346.8h0M185.9 349.5h0M171.3 346.4h0M186.1 325.5h0M203.8 342.3h0M101.4 347.4h0M111.2 349.2h0M146.9 338.5h0M169.8 349.6h0M175.3 318.5h0M166.0 343.5h0M164.4 347.3h0M167.1 332.7h0M150.7 345.6h0M203.4 348.0h0M181.6 340.6h0M166.6 339.7h0M151.5 347.0h0M171.3 333.9h0M202.1 348.5h0M169.9 326.9h0M171.9 348.5h0M179.1 349.9h0M168.0 350.0h0M181.6 349.3h0M115.7 344.5h0M173.9 318.7h0M163.5 350.1h0M177.8 348.5h0M186.1 347.3h0M107.0 346.8h0M196.5 345.3h0M96.3 348.1h0M155.6 336.4h0M178.9 328.0h0M159.9 350.0h0M167.6 348.8h0M153.5 332.4h0M165.6 335.8h0M163.3 338.9h0M164.5 340.4h0M174.8 350.0h0M108.2 349.8h0M173.4 349.1h0M121.2 346.8h0M152.6 330.4h0M171.1 350.0h0M161.6 339.0h0M171.2 347.8h0M205.1 348.0h0M202.2 339.7h0M98.0 348.9h0M114.5 348.8h0M167.7 347.8h0M158.6 349.0h0M126.3 344.6h0M120.7 349.2h0M196.6 343.6h0M158.8 341.0h0M116.3 349.9h0M154.6 339.0h0M93.5 350.0h0M190.0 345.5h0M168.6 337.2h0M188.0 347.6h0M177.4 320.1h0M180.1 331.6h0M206.3 341.4h0M155.5 345.2h0M151.8 348.3h0M117.0 347.6h0M180.6 350.0h0M185.9 336.1h0M177.5 350.1h0M192.5 344.3h0M197.0 332.4h0M124.3 349.6h0M170.6 348.2h0M166.8 347.1h0M94.6 350.1h0M197.5 348.9h0M193.0 350.1h0M185.8 348.9h0M170.1 347.8h0M152.2 348.0h0M151.5 347.3h0M173.4 335.9h0M117.0 348.1h0M111.3 349.5h0M103.4 349.9h0M177.6 342.0h0M161.8 338.9h0M211.4 345.9h0M177.3 346.3h0M172.6 350.0h0M189.6 349.4h0M179.1 348.3h0M186.0 340.8h0M189.7 336.4h0M177.4 350.0h0M100.6 349.9h0M215.8 348.9h0M114.4 348.5h0M217.8 349.8h0M204.4 339.6h0M164.3 341.1h0M175.9 330.7h0M191.0 347.4h0M195.6 348.1h0M164.5 344.4h0M212.5 347.0h0M194.0 336.6h0M157.9 350.1h0M183.0 339.5h0M163.7 343.8h0M174.6 350.0h0M186.5 350.0h0M194.2 347.2h0M197.7 348.0h0M161.3 348.3h0M216.1 349.9h0M178.5 349.0h0M96.7 349.1h0M95.0 350.1h0M149.5 347.5h0M188.1 342.9h0" fill="none" stroke="#de5772" stroke-width="2.50" stroke-linecap="round"/>
<path d="M164.0 335.9h0M152.3 331.0h0M188.1 338.9h0M212.7 350.1h0M188.9 350.0h0M186.1 341.3h0M181.1 340.1h0M148.8 334.4h0M168.2 322.5h0M178.5 329.9h0M197.1 332.1h0M184.7 345.2h0M153.8 341.8h0M162.7 341.8h0M159.5 334.3h0M117.3 345.7h0M100.0 350.1h0M186.8 349.4h0M204.8 344.3h0M149.4 348.4h0M189.4 349.3h0M199.2 349.3h0M214.0 349.7h0M126.0 349.1h0M180.2 347.6h0M186.5 334.5h0M187.1 346.7h0M153.9 337.9h0M163.9 350.1h0M213.6 349.7h0M174.1 332.5h0M186.8 343.7h0M209.6 350.1h0M159.9 347.3h0M187.3 332.6h0M151.3 349.7h0M199.7 347.7h0M177.5 325.1h0M212.2 350.1h0M171.4 345.9h0M186.6 333.0h0M178.8 347.9h0M196.6 331.8h0M166.9 349.9h0M108.5 345.8h0M170.4 349.7h0M147.3 345.1h0M201.0 339.2h0M149.8 344.2h0M197.2 342.0h0M184.3 349.9h0M182.7 348.4h0M157.3 350.1h0M166.4 342.5h0M170.7 328.7h0M151.9 341.4h0M155.5 347.9h0M178.1 322.9h0M191.6 349.7h0M186.1 335.5h0M170.6 337.8h0M203.1 340.2h0M171.0 349.6h0M118.5 349.9h0M148.1 339.5h0M109.2 349.1h0M160.0 344.9h0M104.2 345.2h0M164.0 333.8h0M207.8 349.6h0M98.3 349.8h0M155.0 349.7h0M187.3 346.5h0M159.1 335.3h0M170.2 325.7h0M154.4 348.9h0M188.1 347.0h0M193.5 334.3h0M146.8 341.4h0M186.9 348.6h0M177.6 327.8h0M112.6 349.2h0M122.5 345.4h0M168.3 345.3h0M165.1 347.2h0M165.1 350.1h0M147.0 347.2h0M177.4 345.0h0M198.7 345.4h0M170.6 349.4h0M192.9 346.3h0M124.8 350.0h0M160.2 334.0h0M166.5 322.4h0M153.8 341.1h0M191.9 331.1h0M166.7 350.0h0M173.7 324.3h0M173.3 327.1h0M160.7 325.2h0M113.3 349.4h0M188.3 349.9h0M200.8 349.3h0M186.0 339.9h0M178.3 347.3h0M165.8 348.9h0M155.3 337.4h0M191.0 344.8h0M186.4 328.0h0M152.2 335.7h0M118.0 342.7h0M157.6 337.8h0M104.9 349.9h0M193.1 349.8h0M180.0 348.4h0M162.8 334.5h0M173.5 329.6h0M156.8 333.2h0M186.1 349.9h0M163.2 342.4h0M200.5 350.1h0M194.9 342.1h0M118.1 347.5h0M154.4 349.9h0M167.2 349.5h0M188.1 328.7h0M171.6 331.5h0M187.8 342.6h0M94.8 349.3h0M195.5 350.1h0M167.0 348.6h0M154.7 331.6h0M106.9 349.6h0M172.6 338.0h0M146.3 342.4h0M109.8 348.2h0M168.3 349.3h0M185.2 350.1h0M181.4 343.9h0M100.8 347.8h0M146.3 347.0h0M188.5 349.1h0M163.0 343.8h0M162.0 336.5h0M179.6 321.4h0M163.0 325.4h0M157.6 332.5h0M171.0 349.8h0M182.9 338.5h0M175.2 345.4h0M169.7 334.0h0M112.8 349.0h0M186.8 331.5h0M153.7 347.0h0M192.0 335.1h0M181.0 348.8h0M102.4 349.5h0M104.4 346.8h0M203.8 349.8h0M172.8 349.8h0M171.0 339.1h0M119.4 349.7h0M97.1 347.3h0M161.7 339.3h0M206.4 344.9h0M117.0 345.8h0M165.3 342.1h0M170.1 349.7h0M199.1 335.6h0M113.3 348.7h0M169.2 324.0h0M185.7 330.6h0M112.0 350.0h0M111.0 349.8h0M205.7 349.7h0M187.3 341.8h0M112.5 343.6h0M192.2 335.3h0M180.1 336.6h0M124.5 349.5h0M197.8 349.6h0M198.2 350.1h0M210.7 350.0h0M165.4 349.1h0M163.5 336.5h0M177.1 328.3h0M214.4 346.1h0M217.4 350.1h0M93.0 349.1h0M196.7 331.6h0M179.3 349.3h0M163.6 335.8h0M191.3 343.8h0M174.2 348.5h0M171.5 345.4h0M160.5 346.0h0M213.8 350.1h0M165.2 350.1h0M186.3 332.4h0M206.4 348.5h0M158.9 350.0h0M119.1 350.0h0M217.9 349.9h0M177.0 346.0h0M168.0 347.4h0M94.5 349.8h0M192.7 345.5h0M179.7 339.0h0M154.0 348.9h0M174.2 350.1h0M209.7 349.8h0M176.0 325.4h0M196.3 338.8h0M154.2 342.6h0M164.3 346.0h0M167.8 345.8h0M120.2 348.5h0M156.2 348.4h0M218.2 349.0h0M180.7 335.8h0M178.6 331.0h0M115.9 342.9h0M177.7 340.2h0M173.5 345.9h0M184.6 350.0h0M109.8 349.5h0M196.1 349.5h0M160.5 341.1h0M181.7 325.8h0M173.1 350.0h0M154.4 332.3h0M199.2 349.9h0M173.7 346.6h0M152.1 335.5h0M171.6 347.6h0M109.8 350.0h0M152.7 346.3h0M151.5 349.4h0M197.1 346.5h0M181.0 349.1h0M199.6 334.4h0M153.7 340.8h0M111.4 349.1h0M149.4 350.0h0M178.6 341.6h0M112.5 350.0h0M211.0 350.1h0M103.2 350.1h0M146.7 349.8h0M201.1 341.7h0M145.7 345.5h0M204.7 346.2h0M110.2 349.9h0M186.8 339.8h0M148.8 350.0h0M189.3 327.9h0M93.4 349.5h0M167.2 349.8h0M158.1 349.9h0M164.5 344.1h0M169.8 332.8h0M180.2 332.2h0M164.0 347.1h0M173.0 348.6h0M157.1 343.8h0M193.9 331.8h0M166.8 347.5h0M157.8 349.7h0M109.9 348.7h0M208.9 344.1h0M172.8 330.9h0M187.9 330.7h0M208.9 347.2h0M99.9 349.7h0M157.0 327.1h0M99.7 349.6h0M199.1 350.1h0M195.9 345.6h0M184.9 349.3h0M214.8 348.2h0M186.3 332.9h0M159.3 327.0h0M176.2 343.5h0M188.8 344.7h0M147.5 342.6h0M174.5 334.4h0M150.3 344.9h0M170.1 350.1h0M187.4 335.1h0M182.9 345.6h0M189.0 350.1h0M96.6 347.6h0M191.6 329.1h0M169.5 343.4h0M215.8 350.0h0M189.5 349.9h0M125.9 344.5h0M200.8 348.8h0M115.3 350.0h0M175.2 342.1h0" fill="none" stroke="#4a0615" stroke-width="2.80" stroke-linecap="round" stroke-opacity="0.2"/>
<path d="M164.0 335.9h0M152.3 331.0h0M188.1 338.9h0M212.7 350.1h0M188.9 350.0h0M186.1 341.3h0M181.1 340.1h0M148.8 334.4h0M168.2 322.5h0M178.5 329.9h0M197.1 332.1h0M184.7 345.2h0M153.8 341.8h0M162.7 341.8h0M159.5 334.3h0M117.3 345.7h0M100.0 350.1h0M186.8 349.4h0M204.8 344.3h0M149.4 348.4h0M189.4 349.3h0M199.2 349.3h0M214.0 349.7h0M126.0 349.1h0M180.2 347.6h0M186.5 334.5h0M187.1 346.7h0M153.9 337.9h0M163.9 350.1h0M213.6 349.7h0M174.1 332.5h0M186.8 343.7h0M209.6 350.1h0M159.9 347.3h0M187.3 332.6h0M151.3 349.7h0M199.7 347.7h0M177.5 325.1h0M212.2 350.1h0M171.4 345.9h0M186.6 333.0h0M178.8 347.9h0M196.6 331.8h0M166.9 349.9h0M108.5 345.8h0M170.4 349.7h0M147.3 345.1h0M201.0 339.2h0M149.8 344.2h0M197.2 342.0h0M184.3 349.9h0M182.7 348.4h0M157.3 350.1h0M166.4 342.5h0M170.7 328.7h0M151.9 341.4h0M155.5 347.9h0M178.1 322.9h0M191.6 349.7h0M186.1 335.5h0M170.6 337.8h0M203.1 340.2h0M171.0 349.6h0M118.5 349.9h0M148.1 339.5h0M109.2 349.1h0M160.0 344.9h0M104.2 345.2h0M164.0 333.8h0M207.8 349.6h0M98.3 349.8h0M155.0 349.7h0M187.3 346.5h0M159.1 335.3h0M170.2 325.7h0M154.4 348.9h0M188.1 347.0h0M193.5 334.3h0M146.8 341.4h0M186.9 348.6h0M177.6 327.8h0M112.6 349.2h0M122.5 345.4h0M168.3 345.3h0M165.1 347.2h0M165.1 350.1h0M147.0 347.2h0M177.4 345.0h0M198.7 345.4h0M170.6 349.4h0M192.9 346.3h0M124.8 350.0h0M160.2 334.0h0M166.5 322.4h0M153.8 341.1h0M191.9 331.1h0M166.7 350.0h0M173.7 324.3h0M173.3 327.1h0M160.7 325.2h0M113.3 349.4h0M188.3 349.9h0M200.8 349.3h0M186.0 339.9h0M178.3 347.3h0M165.8 348.9h0M155.3 337.4h0M191.0 344.8h0M186.4 328.0h0M152.2 335.7h0M118.0 342.7h0M157.6 337.8h0M104.9 349.9h0M193.1 349.8h0M180.0 348.4h0M162.8 334.5h0M173.5 329.6h0M156.8 333.2h0M186.1 349.9h0M163.2 342.4h0M200.5 350.1h0M194.9 342.1h0M118.1 347.5h0M154.4 349.9h0M167.2 349.5h0M188.1 328.7h0M171.6 331.5h0M187.8 342.6h0M94.8 349.3h0M195.5 350.1h0M167.0 348.6h0M154.7 331.6h0M106.9 349.6h0M172.6 338.0h0M146.3 342.4h0M109.8 348.2h0M168.3 349.3h0M185.2 350.1h0M181.4 343.9h0M100.8 347.8h0M146.3 347.0h0M188.5 349.1h0M163.0 343.8h0M162.0 336.5h0M179.6 321.4h0M163.0 325.4h0M157.6 332.5h0M171.0 349.8h0M182.9 338.5h0M175.2 345.4h0M169.7 334.0h0M112.8 349.0h0M186.8 331.5h0M153.7 347.0h0M192.0 335.1h0M181.0 348.8h0M102.4 349.5h0M104.4 346.8h0M203.8 349.8h0M172.8 349.8h0M171.0 339.1h0M119.4 349.7h0M97.1 347.3h0M161.7 339.3h0M206.4 344.9h0M117.0 345.8h0M165.3 342.1h0M170.1 349.7h0M199.1 335.6h0M113.3 348.7h0M169.2 324.0h0M185.7 330.6h0M112.0 350.0h0M111.0 349.8h0M205.7 349.7h0M187.3 341.8h0M112.5 343.6h0M192.2 335.3h0M180.1 336.6h0M124.5 349.5h0M197.8 349.6h0M198.2 350.1h0M210.7 350.0h0M165.4 349.1h0M163.5 336.5h0M177.1 328.3h0M214.4 346.1h0M217.4 350.1h0M93.0 349.1h0M196.7 331.6h0M179.3 349.3h0M163.6 335.8h0M191.3 343.8h0M174.2 348.5h0M171.5 345.4h0M160.5 346.0h0M213.8 350.1h0M165.2 350.1h0M186.3 332.4h0M206.4 348.5h0M158.9 350.0h0M119.1 350.0h0M217.9 349.9h0M177.0 346.0h0M168.0 347.4h0M94.5 349.8h0M192.7 345.5h0M179.7 339.0h0M154.0 348.9h0M174.2 350.1h0M209.7 349.8h0M176.0 325.4h0M196.3 338.8h0M154.2 342.6h0M164.3 346.0h0M167.8 345.8h0M120.2 348.5h0M156.2 348.4h0M218.2 349.0h0M180.7 335.8h0M178.6 331.0h0M115.9 342.9h0M177.7 340.2h0M173.5 345.9h0M184.6 350.0h0M109.8 349.5h0M196.1 349.5h0M160.5 341.1h0M181.7 325.8h0M173.1 350.0h0M154.4 332.3h0M199.2 349.9h0M173.7 346.6h0M152.1 335.5h0M171.6 347.6h0M109.8 350.0h0M152.7 346.3h0M151.5 349.4h0M197.1 346.5h0M181.0 349.1h0M199.6 334.4h0M153.7 340.8h0M111.4 349.1h0M149.4 350.0h0M178.6 341.6h0M112.5 350.0h0M211.0 350.1h0M103.2 350.1h0M146.7 349.8h0M201.1 341.7h0M145.7 345.5h0M204.7 346.2h0M110.2 349.9h0M186.8 339.8h0M148.8 350.0h0M189.3 327.9h0M93.4 349.5h0M167.2 349.8h0M158.1 349.9h0M164.5 344.1h0M169.8 332.8h0M180.2 332.2h0M164.0 347.1h0M173.0 348.6h0M157.1 343.8h0M193.9 331.8h0M166.8 347.5h0M157.8 349.7h0M109.9 348.7h0M208.9 344.1h0M172.8 330.9h0M187.9 330.7h0M208.9 347.2h0M99.9 349.7h0M157.0 327.1h0M99.7 349.6h0M199.1 350.1h0M195.9 345.6h0M184.9 349.3h0M214.8 348.2h0M186.3 332.9h0M159.3 327.0h0M176.2 343.5h0M188.8 344.7h0M147.5 342.6h0M174.5 334.4h0M150.3 344.9h0M170.1 350.1h0M187.4 335.1h0M182.9 345.6h0M189.0 350.1h0M96.6 347.6h0M191.6 329.1h0M169.5 343.4h0M215.8 350.0h0M189.5 349.9h0M125.9 344.5h0M200.8 348.8h0M115.3 350.0h0M175.2 342.1h0" fill="none" stroke="#de5772" stroke-width="2.50" stroke-linecap="round"/>
<path d="M189.3 337.2h0M159.0 347.1h0M169.7 349.7h0M197.2 345.3h0M115.6 348.1h0M168.5 335.4h0M162.4 346.6h0M146.5 349.8h0M120.6 349.4h0M168.1 350.0h0M184.6 350.1h0M180.4 324.3h0M185.0 350.0h0M191.0 349.2h0M177.5 321.3h0M165.0 350.1h0M153.2 350.1h0M198.4 334.5h0M110.2 348.6h0M162.1 346.3h0M151.7 346.2h0M165.0 339.4h0M163.4 342.0h0M172.3 349.6h0M182.2 350.0h0M149.0 345.4h0M161.8 350.0h0M169.8 344.1h0M121.4 346.3h0M177.6 349.4h0M149.4 349.1h0M201.1 339.5h0M97.9 349.7h0M171.4 333.3h0M146.6 348.5h0M174.2 347.3h0M187.6 332.8h0M150.8 349.2h0M161.0 345.6h0M124.7 343.2h0M185.0 342.9h0M124.9 350.0h0M172.3 331.6h0M187.2 348.8h0M196.2 336.1h0M110.4 349.7h0M163.1 350.0h0M111.3 349.4h0M187.3 335.7h0M171.6 324.0h0M197.1 347.8h0M180.0 349.7h0M164.2 327.2h0M151.7 349.0h0M214.0 349.7h0M151.8 347.2h0M201.9 338.3h0M161.7 350.0h0M176.0 326.2h0M187.9 349.7h0M153.9 348.1h0M151.8 344.3h0M106.8 348.7h0M163.7 349.9h0M200.8 350.0h0M167.5 342.3h0M158.9 336.5h0M174.0 347.0h0M203.5 349.9h0M200.0 341.6h0M191.0 348.4h0M162.6 331.4h0M175.8 320.3h0M167.1 341.7h0M212.6 347.1h0M181.6 349.3h0M192.3 350.0h0M174.9 341.9h0M196.7 349.3h0M196.5 346.4h0M170.9 345.8h0M150.3 349.4h0M159.6 325.6h0M191.8 348.8h0M125.1 349.6h0M202.5 350.0h0M188.8 342.9h0M218.5 349.2h0M151.2 332.5h0M187.2 329.7h0M190.7 349.6h0M184.5 331.2h0M153.3 347.4h0M187.3 344.6h0M152.1 337.9h0M118.2 344.2h0M197.1 334.6h0M186.0 350.0h0M191.8 348.7h0M152.0 336.7h0M161.8 342.1h0M165.4 346.8h0M106.3 349.9h0M197.5 342.0h0M192.1 346.2h0M161.3 338.7h0M93.4 349.9h0M195.1 349.3h0M188.9 348.6h0M186.7 326.0h0M174.2 350.1h0M199.9 348.6h0M171.6 347.7h0M175.7 349.1h0M204.0 348.8h0M173.5 343.5h0M187.4 340.8h0M170.2 335.6h0M162.7 349.8h0M116.8 343.0h0M112.0 348.1h0M99.3 350.0h0M189.8 341.0h0M176.2 322.7h0M186.7 346.0h0M171.3 349.1h0M170.6 337.8h0M152.7 349.0h0M174.0 320.4h0M199.0 349.8h0M125.7 347.5h0M203.1 344.2h0M102.5 350.1h0M190.7 341.6h0M181.3 350.0h0M102.2 346.6h0M192.6 341.6h0M158.5 334.2h0M200.0 349.6h0M165.4 342.4h0M162.2 349.1h0M215.0 349.8h0M188.5 340.3h0M204.4 345.9h0M185.8 329.8h0M191.5 336.9h0M157.8 344.2h0M191.5 327.7h0M161.8 326.7h0M192.6 349.9h0M106.4 346.3h0M147.2 348.4h0M176.3 344.8h0M152.5 349.4h0M159.2 348.6h0M152.3 349.8h0M216.1 348.8h0M193.9 339.5h0M163.3 349.7h0M205.6 348.6h0M118.0 345.2h0M156.6 346.2h0M181.5 348.5h0M200.3 349.0h0M153.2 347.5h0M179.6 349.3h0M154.3 333.8h0M189.1 342.0h0M96.2 347.8h0M187.9 341.7h0M166.1 349.3h0M101.7 348.7h0M174.5 327.3h0M146.6 343.1h0M159.9 347.2h0M161.9 330.4h0M171.5 345.8h0M189.5 349.8h0M94.5 348.1h0M197.5 345.6h0M185.2 327.0h0M196.2 348.9h0M98.5 349.8h0M158.6 327.5h0M170.8 324.1h0M204.1 347.3h0M152.0 338.5h0M196.2 343.3h0M159.1 329.6h0M111.8 348.4h0M160.3 326.7h0M168.6 335.2h0M146.2 349.8h0M126.9 348.8h0M154.9 332.9h0M193.3 346.7h0M212.0 344.5h0M174.5 349.2h0M161.4 338.0h0M159.8 344.5h0M155.4 348.8h0M206.2 340.5h0M152.3 347.3h0M179.8 346.9h0M179.9 334.0h0M153.9 334.3h0M175.6 318.6h0M106.9 349.6h0M154.3 344.2h0M190.1 348.6h0M115.9 346.7h0M150.0 349.2h0M120.1 349.9h0M171.8 338.8h0M108.8 349.4h0M93.2 348.8h0M153.6 349.0h0M168.2 338.3h0M159.5 347.5h0M207.1 344.1h0M160.5 347.7h0M111.4 349.5h0M191.2 333.5h0M204.4 342.1h0M162.6 349.9h0M179.9 346.2h0M114.2 347.6h0M173.9 344.6h0M193.6 344.1h0M161.5 329.8h0M173.6 342.4h0M211.5 349.0h0M199.6 335.4h0M207.0 343.9h0M165.5 332.6h0M176.7 350.0h0M114.0 349.9h0M116.3 350.0h0M190.3 345.3h0M171.5 345.4h0M175.0 349.9h0M156.3 336.1h0M150.8 340.2h0M178.3 347.6h0M153.3 339.2h0M96.7 349.7h0M150.1 340.9h0M164.2 341.8h0M166.6 344.0h0M164.8 344.9h0M154.0 340.4h0M176.7 328.5h0M190.6 341.5h0M146.0 348.1h0M190.8 338.7h0M188.5 345.9h0M190.3 335.6h0M184.1 349.6h0M198.1 349.7h0M188.1 347.4h0M191.1 329.6h0M174.2 340.7h0M174.1 346.1h0M212.0 349.2h0M103.4 349.7h0M158.7 349.9h0M95.9 350.1h0M167.8 349.9h0M170.4 350.0h0M191.4 344.3h0M180.6 348.9h0M103.6 346.9h0M171.6 328.8h0M153.9 344.7h0M192.7 340.6h0M152.2 343.8h0M183.8 346.0h0M156.1 337.9h0M193.3 350.0h0M172.5 343.4h0M199.5 344.7h0M152.6 349.8h0M166.5 338.6h0M112.0 349.8h0M176.3 341.4h0M123.9 345.8h0M170.4 334.6h0M191.1 328.5h0M160.8 343.0h0M158.9 348.8h0M181.4 349.8h0M190.7 338.5h0M153.4 344.8h0M217.5 350.0h0M170.0 334.9h0M180.3 346.3h0M155.5 350.1h0M147.8 348.6h0M183.3 345.8h0M164.0 349.9h0" fill="none" stroke="#4a0615" stroke-width="2.80" stroke-linecap="round" stroke-opacity="0.2"/>
<path d="M189.3 337.2h0M159.0 347.1h0M169.7 349.7h0M197.2 345.3h0M115.6 348.1h0M168.5 335.4h0M162.4 346.6h0M146.5 349.8h0M120.6 349.4h0M168.1 350.0h0M184.6 350.1h0M180.4 324.3h0M185.0 350.0h0M191.0 349.2h0M177.5 321.3h0M165.0 350.1h0M153.2 350.1h0M198.4 334.5h0M110.2 348.6h0M162.1 346.3h0M151.7 346.2h0M165.0 339.4h0M163.4 342.0h0M172.3 349.6h0M182.2 350.0h0M149.0 345.4h0M161.8 350.0h0M169.8 344.1h0M121.4 346.3h0M177.6 349.4h0M149.4 349.1h0M201.1 339.5h0M97.9 349.7h0M171.4 333.3h0M146.6 348.5h0M174.2 347.3h0M187.6 332.8h0M150.8 349.2h0M161.0 345.6h0M124.7 343.2h0M185.0 342.9h0M124.9 350.0h0M172.3 331.6h0M187.2 348.8h0M196.2 336.1h0M110.4 349.7h0M163.1 350.0h0M111.3 349.4h0M187.3 335.7h0M171.6 324.0h0M197.1 347.8h0M180.0 349.7h0M164.2 327.2h0M151.7 349.0h0M214.0 349.7h0M151.8 347.2h0M201.9 338.3h0M161.7 350.0h0M176.0 326.2h0M187.9 349.7h0M153.9 348.1h0M151.8 344.3h0M106.8 348.7h0M163.7 349.9h0M200.8 350.0h0M167.5 342.3h0M158.9 336.5h0M174.0 347.0h0M203.5 349.9h0M200.0 341.6h0M191.0 348.4h0M162.6 331.4h0M175.8 320.3h0M167.1 341.7h0M212.6 347.1h0M181.6 349.3h0M192.3 350.0h0M174.9 341.9h0M196.7 349.3h0M196.5 346.4h0M170.9 345.8h0M150.3 349.4h0M159.6 325.6h0M191.8 348.8h0M125.1 349.6h0M202.5 350.0h0M188.8 342.9h0M218.5 349.2h0M151.2 332.5h0M187.2 329.7h0M190.7 349.6h0M184.5 331.2h0M153.3 347.4h0M187.3 344.6h0M152.1 337.9h0M118.2 344.2h0M197.1 334.6h0M186.0 350.0h0M191.8 348.7h0M152.0 336.7h0M161.8 342.1h0M165.4 346.8h0M106.3 349.9h0M197.5 342.0h0M192.1 346.2h0M161.3 338.7h0M93.4 349.9h0M195.1 349.3h0M188.9 348.6h0M186.7 326.0h0M174.2 350.1h0M199.9 348.6h0M171.6 347.7h0M175.7 349.1h0M204.0 348.8h0M173.5 343.5h0M187.4 340.8h0M170.2 335.6h0M162.7 349.8h0M116.8 343.0h0M112.0 348.1h0M99.3 350.0h0M189.8 341.0h0M176.2 322.7h0M186.7 346.0h0M171.3 349.1h0M170.6 337.8h0M152.7 349.0h0M174.0 320.4h0M199.0 349.8h0M125.7 347.5h0M203.1 344.2h0M102.5 350.1h0M190.7 341.6h0M181.3 350.0h0M102.2 346.6h0M192.6 341.6h0M158.5 334.2h0M200.0 349.6h0M165.4 342.4h0M162.2 349.1h0M215.0 349.8h0M188.5 340.3h0M204.4 345.9h0M185.8 329.8h0M191.5 336.9h0M157.8 344.2h0M191.5 327.7h0M161.8 326.7h0M192.6 349.9h0M106.4 346.3h0M147.2 348.4h0M176.3 344.8h0M152.5 349.4h0M159.2 348.6h0M152.3 349.8h0M216.1 348.8h0M193.9 339.5h0M163.3 349.7h0M205.6 348.6h0M118.0 345.2h0M156.6 346.2h0M181.5 348.5h0M200.3 349.0h0M153.2 347.5h0M179.6 349.3h0M154.3 333.8h0M189.1 342.0h0M96.2 347.8h0M187.9 341.7h0M166.1 349.3h0M101.7 348.7h0M174.5 327.3h0M146.6 343.1h0M159.9 347.2h0M161.9 330.4h0M171.5 345.8h0M189.5 349.8h0M94.5 348.1h0M197.5 345.6h0M185.2 327.0h0M196.2 348.9h0M98.5 349.8h0M158.6 327.5h0M170.8 324.1h0M204.1 347.3h0M152.0 338.5h0M196.2 343.3h0M159.1 329.6h0M111.8 348.4h0M160.3 326.7h0M168.6 335.2h0M146.2 349.8h0M126.9 348.8h0M154.9 332.9h0M193.3 346.7h0M212.0 344.5h0M174.5 349.2h0M161.4 338.0h0M159.8 344.5h0M155.4 348.8h0M206.2 340.5h0M152.3 347.3h0M179.8 346.9h0M179.9 334.0h0M153.9 334.3h0M175.6 318.6h0M106.9 349.6h0M154.3 344.2h0M190.1 348.6h0M115.9 346.7h0M150.0 349.2h0M120.1 349.9h0M171.8 338.8h0M108.8 349.4h0M93.2 348.8h0M153.6 349.0h0M168.2 338.3h0M159.5 347.5h0M207.1 344.1h0M160.5 347.7h0M111.4 349.5h0M191.2 333.5h0M204.4 342.1h0M162.6 349.9h0M179.9 346.2h0M114.2 347.6h0M173.9 344.6h0M193.6 344.1h0M161.5 329.8h0M173.6 342.4h0M211.5 349.0h0M199.6 335.4h0M207.0 343.9h0M165.5 332.6h0M176.7 350.0h0M114.0 349.9h0M116.3 350.0h0M190.3 345.3h0M171.5 345.4h0M175.0 349.9h0M156.3 336.1h0M150.8 340.2h0M178.3 347.6h0M153.3 339.2h0M96.7 349.7h0M150.1 340.9h0M164.2 341.8h0M166.6 344.0h0M164.8 344.9h0M154.0 340.4h0M176.7 328.5h0M190.6 341.5h0M146.0 348.1h0M190.8 338.7h0M188.5 345.9h0M190.3 335.6h0M184.1 349.6h0M198.1 349.7h0M188.1 347.4h0M191.1 329.6h0M174.2 340.7h0M174.1 346.1h0M212.0 349.2h0M103.4 349.7h0M158.7 349.9h0M95.9 350.1h0M167.8 349.9h0M170.4 350.0h0M191.4 344.3h0M180.6 348.9h0M103.6 346.9h0M171.6 328.8h0M153.9 344.7h0M192.7 340.6h0M152.2 343.8h0M183.8 346.0h0M156.1 337.9h0M193.3 350.0h0M172.5 343.4h0M199.5 344.7h0M152.6 349.8h0M166.5 338.6h0M112.0 349.8h0M176.3 341.4h0M123.9 345.8h0M170.4 334.6h0M191.1 328.5h0M160.8 343.0h0M158.9 348.8h0M181.4 349.8h0M190.7 338.5h0M153.4 344.8h0M217.5 350.0h0M170.0 334.9h0M180.3 346.3h0M155.5 350.1h0M147.8 348.6h0M183.3 345.8h0M164.0 349.9h0" fill="none" stroke="#de5772" stroke-width="2.50" stroke-linecap="round"/>
<path d="M178.4 342.2h0M118.0 349.9h0M196.0 349.9h0M172.7 347.4h0M172.2 319.8h0M157.3 349.9h0M175.9 333.4h0M195.6 337.8h0M217.3 348.0h0M157.6 349.9h0M189.2 337.8h0M153.2 341.5h0M162.6 347.5h0M165.2 332.7h0M154.5 348.5h0M100.8 349.6h0M95.6 350.1h0M146.8 344.6h0M98.7 350.1h0M176.8 339.0h0M93.1 350.0h0M189.7 349.5h0M102.8 347.9h0M104.4 346.8h0M118.6 349.8h0M162.0 334.3h0M194.3 349.7h0M189.1 344.6h0M171.1 349.7h0M172.7 349.5h0M102.5 348.7h0M166.2 344.2h0M158.0 347.4h0M163.9 332.6h0M113.4 348.9h0M177.0 325.6h0M178.8 348.6h0M215.1 349.9h0M173.6 331.3h0M116.1 344.7h0M117.9 346.5h0M179.5 348.5h0M123.0 348.9h0M165.4 346.5h0M174.9 331.0h0M162.5 349.6h0M148.3 335.8h0M152.1 343.9h0M164.2 349.2h0M184.5 348.7h0M216.2 350.1h0M126.3 348.7h0M192.2 348.9h0M192.8 340.5h0M119.7 347.3h0M109.4 346.9h0M102.2 350.0h0M169.4 337.0h0M113.7 348.1h0M175.5 336.0h0M95.0 349.2h0M186.0 343.8h0M149.1 332.5h0M196.1 349.9h0M156.1 330.1h0M145.7 336.9h0M147.9 350.0h0M187.3 348.1h0M99.3 346.5h0M93.5 349.1h0M180.5 320.0h0M116.7 349.5h0M107.4 348.5h0M121.5 349.4h0M182.2 350.1h0M102.2 349.7h0M191.0 344.8h0M123.0 347.3h0M211.7 350.0h0M93.9 348.8h0M185.2 343.5h0M169.5 346.7h0M218.5 348.1h0M216.2 349.5h0M154.5 333.0h0M154.4 346.0h0M166.8 321.8h0M169.1 347.9h0M212.2 348.2h0M199.7 342.9h0M176.5 349.3h0M167.8 350.0h0M151.3 349.9h0M154.8 348.3h0M149.7 343.9h0M177.1 331.3h0M192.5 349.8h0M97.1 349.4h0M215.2 350.0h0M150.7 350.1h0M172.8 334.2h0M174.8 319.0h0M202.4 347.8h0M154.4 336.4h0M184.0 350.0h0M151.3 342.0h0M179.0 331.4h0M150.6 350.0h0M177.1 349.6h0M159.0 342.6h0M154.1 349.7h0M198.5 343.2h0M172.7 345.7h0M192.2 346.1h0M166.6 334.0h0M110.6 348.5h0M197.5 348.6h0M119.2 344.3h0M151.8 342.2h0M188.7 350.0h0M98.0 350.0h0M173.1 344.6h0M213.0 347.6h0M165.2 329.0h0M157.9 330.8h0M145.8 345.3h0M201.1 348.6h0M202.3 339.4h0M109.7 349.3h0M162.4 346.4h0M170.8 332.8h0M155.5 349.3h0M193.0 342.7h0M161.7 340.4h0M180.5 348.9h0M164.5 348.4h0M216.1 350.0h0M157.9 350.1h0M208.3 344.1h0M193.1 334.7h0M213.8 349.5h0M178.6 335.3h0M169.4 347.9h0M154.9 348.4h0M157.9 327.1h0M180.4 345.5h0M198.4 347.4h0M163.5 341.6h0M196.1 344.2h0M184.1 347.4h0M180.0 347.9h0M212.6 350.0h0M156.0 347.6h0M113.6 348.4h0M170.9 349.3h0M186.0 345.0h0M175.1 348.7h0M185.4 342.9h0M181.7 343.4h0M180.0 350.0h0M210.7 350.1h0M163.8 348.3h0M169.5 343.4h0M177.1 336.6h0M176.0 350.0h0M186.2 349.7h0M177.6 347.8h0M98.4 349.8h0M125.1 347.4h0M201.9 349.5h0M147.5 346.5h0M187.1 349.9h0M180.9 336.6h0M186.6 349.5h0M174.8 348.3h0M151.1 350.1h0M164.2 349.5h0M120.6 347.1h0M178.9 323.7h0M155.4 340.7h0M197.7 350.1h0M180.7 348.9h0M178.3 338.9h0M202.3 350.0h0M183.9 349.3h0M209.8 347.3h0M154.4 349.4h0M194.8 330.2h0M172.4 328.9h0M168.6 326.3h0M167.5 334.1h0M95.0 349.9h0M176.4 338.3h0M193.7 349.1h0M121.2 350.0h0M183.4 349.9h0M193.5 346.8h0M166.1 348.3h0M207.2 349.7h0M98.5 349.9h0M198.8 340.8h0M193.6 340.9h0M184.6 349.7h0M164.4 340.8h0M123.7 349.7h0M216.8 346.8h0M205.4 350.1h0M188.9 348.7h0M211.7 345.5h0M150.0 343.6h0M158.8 347.6h0M173.7 341.6h0M180.9 350.1h0M174.7 350.0h0M193.3 330.8h0M168.4 342.3h0M119.8 349.8h0M184.4 322.2h0M163.7 347.0h0M160.6 349.8h0M153.0 336.5h0M208.2 349.3h0M156.3 335.4h0M158.7 349.2h0M125.9 349.7h0M162.1 348.7h0M154.6 350.0h0M146.0 344.8h0M180.7 345.5h0M146.7 338.6h0M201.4 345.2h0M207.7 350.1h0M150.8 342.2h0M118.7 347.3h0M148.2 349.4h0M178.5 339.3h0M150.6 349.1h0M152.3 350.1h0M184.9 343.7h0M186.6 346.7h0M151.0 346.7h0M160.8 340.1h0M166.3 349.4h0M125.3 348.0h0M156.6 335.6h0M175.2 349.8h0M108.6 350.0h0M207.7 346.8h0M158.9 350.0h0M155.0 343.9h0M165.6 347.6h0M200.7 348.2h0M161.3 340.1h0M163.1 349.5h0M207.1 346.9h0M183.1 349.8h0M185.3 347.9h0M210.4 350.0h0M162.9 349.9h0M97.0 348.3h0M181.9 349.5h0M198.1 345.2h0M160.5 350.0h0M115.3 344.9h0M158.2 346.1h0M170.8 350.0h0M102.2 347.9h0M104.2 348.0h0M217.5 349.6h0M155.4 343.5h0M152.6 338.9h0M203.5 350.0h0M193.0 349.7h0M103.3 349.2h0M181.6 338.7h0M167.4 333.3h0M147.0 349.9h0M154.7 342.8h0M152.2 349.4h0M97.3 349.0h0M181.0 330.5h0M97.7 349.6h0M155.0 348.4h0M205.5 346.8h0M186.1 326.5h0M191.8 347.6h0M191.2 347.2h0M157.9 349.9h0M179.2 338.5h0M176.7 349.5h0M166.2 338.6h0M194.5 345.8h0M183.5 338.1h0M184.3 350.0h0M97.2 350.0h0M167.1 349.1h0M154.3 347.3h0M192.6 339.0h0M192.0 343.8h0M155.2 342.2h0" fill="none" stroke="#4a0615" stroke-width="2.80" stroke-linecap="round" stroke-opacity="0.2"/>
<path d="M178.4 342.2h0M118.0 349.9h0M196.0 349.9h0M172.7 347.4h0M172.2 319.8h0M157.3 349.9h0M175.9 333.4h0M195.6 337.8h0M217.3 348.0h0M157.6 349.9h0M189.2 337.8h0M153.2 341.5h0M162.6 347.5h0M165.2 332.7h0M154.5 348.5h0M100.8 349.6h0M95.6 350.1h0M146.8 344.6h0M98.7 350.1h0M176.8 339.0h0M93.1 350.0h0M189.7 349.5h0M102.8 347.9h0M104.4 346.8h0M118.6 349.8h0M162.0 334.3h0M194.3 349.7h0M189.1 344.6h0M171.1 349.7h0M172.7 349.5h0M102.5 348.7h0M166.2 344.2h0M158.0 347.4h0M163.9 332.6h0M113.4 348.9h0M177.0 325.6h0M178.8 348.6h0M215.1 349.9h0M173.6 331.3h0M116.1 344.7h0M117.9 346.5h0M179.5 348.5h0M123.0 348.9h0M165.4 346.5h0M174.9 331.0h0M162.5 349.6h0M148.3 335.8h0M152.1 343.9h0M164.2 349.2h0M184.5 348.7h0M216.2 350.1h0M126.3 348.7h0M192.2 348.9h0M192.8 340.5h0M119.7 347.3h0M109.4 346.9h0M102.2 350.0h0M169.4 337.0h0M113.7 348.1h0M175.5 336.0h0M95.0 349.2h0M186.0 343.8h0M149.1 332.5h0M196.1 349.9h0M156.1 330.1h0M145.7 336.9h0M147.9 350.0h0M187.3 348.1h0M99.3 346.5h0M93.5 349.1h0M180.5 320.0h0M116.7 349.5h0M107.4 348.5h0M121.5 349.4h0M182.2 350.1h0M102.2 349.7h0M191.0 344.8h0M123.0 347.3h0M211.7 350.0h0M93.9 348.8h0M185.2 343.5h0M169.5 346.7h0M218.5 348.1h0M216.2 349.5h0M154.5 333.0h0M154.4 346.0h0M166.8 321.8h0M169.1 347.9h0M212.2 348.2h0M199.7 342.9h0M176.5 349.3h0M167.8 350.0h0M151.3 349.9h0M154.8 348.3h0M149.7 343.9h0M177.1 331.3h0M192.5 349.8h0M97.1 349.4h0M215.2 350.0h0M150.7 350.1h0M172.8 334.2h0M174.8 319.0h0M202.4 347.8h0M154.4 336.4h0M184.0 350.0h0M151.3 342.0h0M179.0 331.4h0M150.6 350.0h0M177.1 349.6h0M159.0 342.6h0M154.1 349.7h0M198.5 343.2h0M172.7 345.7h0M192.2 346.1h0M166.6 334.0h0M110.6 348.5h0M197.5 348.6h0M119.2 344.3h0M151.8 342.2h0M188.7 350.0h0M98.0 350.0h0M173.1 344.6h0M213.0 347.6h0M165.2 329.0h0M157.9 330.8h0M145.8 345.3h0M201.1 348.6h0M202.3 339.4h0M109.7 349.3h0M162.4 346.4h0M170.8 332.8h0M155.5 349.3h0M193.0 342.7h0M161.7 340.4h0M180.5 348.9h0M164.5 348.4h0M216.1 350.0h0M157.9 350.1h0M208.3 344.1h0M193.1 334.7h0M213.8 349.5h0M178.6 335.3h0M169.4 347.9h0M154.9 348.4h0M157.9 327.1h0M180.4 345.5h0M198.4 347.4h0M163.5 341.6h0M196.1 344.2h0M184.1 347.4h0M180.0 347.9h0M212.6 350.0h0M156.0 347.6h0M113.6 348.4h0M170.9 349.3h0M186.0 345.0h0M175.1 348.7h0M185.4 342.9h0M181.7 343.4h0M180.0 350.0h0M210.7 350.1h0M163.8 348.3h0M169.5 343.4h0M177.1 336.6h0M176.0 350.0h0M186.2 349.7h0M177.6 347.8h0M98.4 349.8h0M125.1 347.4h0M201.9 349.5h0M147.5 346.5h0M187.1 349.9h0M180.9 336.6h0M186.6 349.5h0M174.8 348.3h0M151.1 350.1h0M164.2 349.5h0M120.6 347.1h0M178.9 323.7h0M155.4 340.7h0M197.7 350.1h0M180.7 348.9h0M178.3 338.9h0M202.3 350.0h0M183.9 349.3h0M209.8 347.3h0M154.4 349.4h0M194.8 330.2h0M172.4 328.9h0M168.6 326.3h0M167.5 334.1h0M95.0 349.9h0M176.4 338.3h0M193.7 349.1h0M121.2 350.0h0M183.4 349.9h0M193.5 346.8h0M166.1 348.3h0M207.2 349.7h0M98.5 349.9h0M198.8 340.8h0M193.6 340.9h0M184.6 349.7h0M164.4 340.8h0M123.7 349.7h0M216.8 346.8h0M205.4 350.1h0M188.9 348.7h0M211.7 345.5h0M150.0 343.6h0M158.8 347.6h0M173.7 341.6h0M180.9 350.1h0M174.7 350.0h0M193.3 330.8h0M168.4 342.3h0M119.8 349.8h0M184.4 322.2h0M163.7 347.0h0M160.6 349.8h0M153.0 336.5h0M208.2 349.3h0M156.3 335.4h0M158.7 349.2h0M125.9 349.7h0M162.1 348.7h0M154.6 350.0h0M146.0 344.8h0M180.7 345.5h0M146.7 338.6h0M201.4 345.2h0M207.7 350.1h0M150.8 342.2h0M118.7 347.3h0M148.2 349.4h0M178.5 339.3h0M150.6 349.1h0M152.3 350.1h0M184.9 343.7h0M186.6 346.7h0M151.0 346.7h0M160.8 340.1h0M166.3 349.4h0M125.3 348.0h0M156.6 335.6h0M175.2 349.8h0M108.6 350.0h0M207.7 346.8h0M158.9 350.0h0M155.0 343.9h0M165.6 347.6h0M200.7 348.2h0M161.3 340.1h0M163.1 349.5h0M207.1 346.9h0M183.1 349.8h0M185.3 347.9h0M210.4 350.0h0M162.9 349.9h0M97.0 348.3h0M181.9 349.5h0M198.1 345.2h0M160.5 350.0h0M115.3 344.9h0M158.2 346.1h0M170.8 350.0h0M102.2 347.9h0M104.2 348.0h0M217.5 349.6h0M155.4 343.5h0M152.6 338.9h0M203.5 350.0h0M193.0 349.7h0M103.3 349.2h0M181.6 338.7h0M167.4 333.3h0M147.0 349.9h0M154.7 342.8h0M152.2 349.4h0M97.3 349.0h0M181.0 330.5h0M97.7 349.6h0M155.0 348.4h0M205.5 346.8h0M186.1 326.5h0M191.8 347.6h0M191.2 347.2h0M157.9 349.9h0M179.2 338.5h0M176.7 349.5h0M166.2 338.6h0M194.5 345.8h0M183.5 338.1h0M184.3 350.0h0M97.2 350.0h0M167.1 349.1h0M154.3 347.3h0M192.6 339.0h0M192.0 343.8h0M155.2 342.2h0" fill="none" stroke="#de5772" stroke-width="2.50" stroke-linecap="round"/>
<path d="M221.1 351.6h0M175.4 351.5h0M150.0 350.4h0M195.0 350.4h0M209.5 351.0h0M184.0 350.8h0M168.4 350.7h0M151.3 351.0h0M194.7 351.9h0M147.0 351.3h0M201.0 351.5h0M153.2 350.8h0M197.1 351.6h0M153.0 351.3h0M154.0 352.1h0M206.4 351.1h0M154.2 351.6h0M163.3 351.3h0M216.6 350.6h0M150.0 350.8h0M173.4 351.6h0M148.0 350.9h0M220.2 352.1h0M214.6 350.5h0M163.9 350.8h0M195.2 350.8h0M187.8 350.6h0M209.9 351.7h0M178.0 350.4h0M149.5 351.1h0M203.6 350.4h0M190.8 351.1h0M176.8 351.6h0M164.8 350.8h0M211.9 350.3h0M216.1 351.6h0M158.2 352.0h0M213.3 351.1h0M164.2 350.9h0M206.3 350.7h0M154.7 351.1h0M146.1 351.6h0M182.9 350.9h0M155.9 350.8h0M165.5 352.0h0M222.1 351.1h0M186.3 351.8h0M199.9 352.0h0M153.1 350.5h0M200.6 351.3h0M152.7 351.2h0M159.9 351.4h0M153.8 350.4h0M206.2 350.2h0M165.4 351.3h0M193.2 350.4h0M151.0 351.9h0M148.0 352.0h0M156.4 351.6h0M173.0 350.8h0M199.2 350.4h0M203.4 351.5h0M222.4 351.5h0M151.6 350.4h0M214.8 351.3h0M154.6 351.5h0M217.4 351.9h0M196.6 352.1h0M189.9 350.6h0M185.7 352.1h0M148.1 351.2h0M200.2 351.9h0M168.1 350.3h0M145.8 350.3h0M154.6 351.8h0M209.0 350.3h0M198.2 352.1h0M153.3 350.3h0M182.0 350.6h0M205.1 351.0h0M157.4 351.5h0M209.8 350.3h0M155.6 350.8h0M201.7 351.8h0M183.6 350.8h0M168.4 351.4h0M163.6 350.7h0M212.9 351.0h0M149.2 350.7h0M167.5 350.4h0M173.8 351.0h0M185.5 350.4h0M192.9 351.1h0M184.7 351.0h0M195.9 350.4h0M170.3 351.2h0M198.7 350.5h0M205.5 350.8h0M184.6 351.9h0M147.7 351.9h0M200.3 352.0h0M156.8 350.9h0M169.3 352.1h0M218.4 350.5h0M145.9 351.0h0M215.8 351.9h0M175.6 351.4h0M223.1 352.0h0M148.0 351.3h0M175.0 351.4h0M185.7 351.6h0M197.9 351.3h0M221.4 352.0h0M188.9 351.7h0M187.9 351.1h0M158.7 351.4h0M179.1 350.9h0M213.5 351.0h0M212.1 351.0h0M182.7 351.8h0M192.9 350.2h0M156.3 350.6h0M186.4 352.0h0M157.6 351.2h0M150.6 352.0h0M167.5 350.3h0M159.2 350.3h0M154.0 351.4h0M210.7 351.4h0M210.8 351.0h0M184.4 350.6h0M201.7 351.9h0M181.3 350.3h0M161.8 351.8h0M216.0 350.9h0M202.3 350.9h0M150.1 350.4h0M156.5 350.5h0M177.1 351.4h0M156.9 350.4h0M207.4 351.8h0M220.9 351.8h0M220.1 350.9h0M178.4 350.7h0M207.7 351.3h0M209.3 350.4h0M171.1 350.7h0M188.2 351.0h0M184.3 351.8h0M209.0 350.9h0M149.5 351.1h0M156.5 351.3h0M200.7 352.0h0M198.5 351.3h0M149.4 351.9h0M220.6 351.3h0M159.9 350.7h0M145.7 350.3h0M181.4 352.0h0M183.0 350.5h0M180.1 352.0h0M166.8 351.8h0M145.8 350.8h0M194.8 351.9h0M169.5 350.8h0M154.9 351.1h0M151.5 352.0h0M196.8 351.5h0M190.9 350.9h0M208.1 351.9h0M175.9 352.0h0M203.2 351.2h0M194.0 350.4h0M191.0 351.8h0M164.1 350.6h0M164.8 351.0h0M174.4 350.8h0M203.1 350.9h0M209.8 351.8h0M204.8 351.7h0M186.8 350.5h0M193.5 352.0h0M207.0 351.5h0M151.0 350.3h0M167.5 351.9h0M208.2 350.9h0M149.9 352.1h0M215.7 350.3h0M214.6 350.6h0M147.4 350.4h0M162.9 351.4h0M154.3 351.6h0M146.5 350.3h0M148.1 350.2h0M147.4 351.7h0M148.8 350.3h0M151.8 350.7h0M201.2 350.8h0M154.5 350.6h0M161.3 350.5h0M147.5 352.0h0M149.5 351.8h0M215.5 351.6h0M145.9 351.1h0M179.1 351.7h0M196.1 351.3h0M145.7 351.4h0M168.0 351.6h0M153.2 351.2h0M212.0 351.8h0M213.1 352.0h0M187.2 351.9h0M188.2 351.6h0M194.6 350.5h0M160.3 350.6h0M157.4 351.3h0M148.6 351.3h0M217.6 351.8h0M176.1 352.0h0M197.0 351.7h0M200.1 350.9h0M219.7 351.7h0M195.4 351.0h0M148.5 351.1h0M219.8 350.5h0M164.9 351.0h0M164.4 350.6h0M197.2 351.8h0M202.0 350.3h0M188.6 350.6h0M166.5 351.9h0M196.2 350.7h0M187.8 350.4h0M152.8 351.1h0M149.9 350.6h0M156.5 351.9h0M204.9 351.2h0M191.6 350.6h0M200.4 350.3h0M206.2 350.4h0M152.9 352.0h0M211.4 351.3h0M207.8 350.5h0M195.8 351.3h0M192.6 351.1h0M195.4 352.0h0M162.7 351.1h0M187.3 351.5h0M163.5 352.0h0M212.7 350.4h0M158.8 351.6h0M150.4 350.8h0M189.4 351.4h0M203.2 350.6h0M147.6 352.0h0M191.6 351.5h0M211.6 351.8h0M163.3 351.9h0M209.1 350.4h0M188.6 350.3h0M194.5 351.7h0M166.1 350.5h0M163.1 351.5h0M196.0 350.5h0M216.1 350.8h0M150.4 351.8h0M205.3 351.5h0M200.1 351.9h0M169.1 350.7h0M192.8 350.6h0M199.6 350.9h0M220.5 350.9h0M161.2 350.9h0M170.5 351.5h0M197.8 350.8h0M147.5 350.3h0M148.8 350.7h0M159.8 351.0h0M184.6 351.3h0M197.3 350.4h0M181.3 351.9h0M182.2 350.3h0M168.5 352.1h0M171.2 351.6h0M181.7 351.8h0M220.3 350.5h0M147.0 350.3h0M148.2 352.1h0M206.3 352.1h0M192.4 351.3h0M159.3 351.4h0M153.7 351.9h0M169.1 351.3h0M153.3 352.1h0M151.6 350.7h0M215.2 350.3h0M154.7 351.2h0M219.4 351.8h0M213.4 352.0h0M173.2 351.5h0M198.6 350.3h0M177.1 350.4h0M213.3 350.6h0M166.2 352.1h0M200.1 351.8h0M175.7 350.9h0M147.0 351.0h0M216.7 350.9h0M218.3 350.6h0M164.6 351.3h0M186.2 351.3h0M213.5 350.4h0M158.2 352.0h0M192.9 350.8h0M208.0 351.4h0M210.6 351.4h0M201.2 350.7h0M201.5 351.0h0M183.8 350.5h0M172.6 351.4h0M153.5 351.9h0M200.4 350.9h0M153.2 351.6h0M189.7 351.5h0M173.2 351.3h0M171.3 351.7h0M165.3 350.7h0M200.1 350.4h0M194.9 350.4h0M215.0 350.3h0M177.3 350.6h0M190.9 351.3h0M163.2 351.3h0M192.6 350.7h0M161.3 351.8h0M169.7 351.4h0M167.8 350.5h0M210.1 352.0h0M165.9 351.6h0M215.7 350.2h0M183.1 351.9h0M147.8 351.2h0M185.3 352.0h0M190.8 352.1h0M203.5 352.0h0M198.4 350.7h0M157.1 351.7h0M177.8 352.0h0M171.7 350.7h0M210.7 351.3h0M152.4 351.9h0M156.2 351.7h0M220.8 350.2h0M176.7 350.4h0M217.5 351.7h0M156.4 350.6h0M158.9 351.5h0M172.7 351.5h0M159.4 352.0h0M186.8 350.9h0M172.7 351.2h0M166.3 350.4h0M153.4 351.9h0M218.0 351.6h0M163.4 351.4h0M197.8 350.7h0M212.5 351.7h0M205.0 352.1h0M218.4 350.6h0M212.1 351.4h0M159.1 351.6h0M160.9 350.7h0M175.6 350.4h0M162.9 352.1h0M147.0 350.5h0M184.0 350.5h0M154.9 351.4h0M198.9 351.2h0M193.4 350.5h0M155.1 351.9h0M208.2 351.3h0M200.7 350.2h0M150.4 351.6h0M222.3 351.4h0M213.8 350.9h0M187.6 352.0h0M148.1 350.7h0M198.2 351.5h0M194.0 350.4h0M150.4 351.2h0M211.5 351.9h0M163.4 350.7h0M212.8 350.6h0M146.4 351.3h0M153.1 352.0h0M168.7 351.5h0M199.6 351.1h0M161.2 351.1h0M164.8 351.5h0M100.3 351.8h0M127.2 352.1h0M117.7 351.2h0M87.4 350.3h0M123.6 350.8h0M127.2 350.8h0M86.6 351.0h0M102.0 350.9h0M127.3 351.6h0M113.2 351.1h0M108.6 350.8h0M112.9 351.6h0M101.6 352.0h0M126.2 351.2h0M115.7 351.6h0M118.8 350.6h0M105.1 352.1h0M120.7 351.3h0M120.9 351.3h0M111.3 351.9h0M116.1 351.2h0M112.4 350.9h0M116.6 351.4h0M112.9 350.6h0M90.1 351.1h0M98.6 351.2h0M101.0 351.2h0M110.4 350.8h0M91.5 351.5h0M87.7 351.0h0M127.0 351.3h0M87.7 351.7h0M100.7 350.6h0M104.8 351.1h0M89.6 352.0h0M117.1 350.2h0M88.4 352.1h0M112.5 351.2h0M125.1 351.9h0M124.8 352.0h0M123.7 351.6h0M95.4 351.8h0M101.8 350.6h0M88.6 351.7h0M105.2 352.0h0M125.2 350.6h0M93.8 350.3h0M88.0 351.5h0M109.4 350.2h0M101.3 351.7h0M122.3 351.2h0M115.4 350.5h0M106.2 351.1h0M120.0 351.0h0M109.9 351.3h0M116.1 351.1h0M111.5 352.1h0M123.3 352.0h0M113.1 350.3h0M89.9 351.3h0M87.7 351.7h0M115.5 350.4h0M110.4 351.6h0M105.3 351.8h0M107.5 351.4h0M120.2 351.8h0M108.4 350.7h0M98.7 351.7h0M117.7 351.7h0M101.4 350.2h0M103.3 350.8h0M122.6 351.3h0M114.9 350.7h0M127.0 351.0h0M110.9 350.8h0M100.5 351.9h0M114.0 350.6h0M115.2 352.1h0M89.0 351.7h0M108.6 351.9h0M96.0 351.6h0M126.8 351.1h0M121.6 351.3h0M88.4 352.0h0M124.7 351.3h0M121.6 350.5h0M125.6 350.4h0M126.6 351.7h0M127.2 351.9h0M116.1 351.4h0M124.1 351.7h0M115.8 352.1h0M90.1 350.6h0M126.7 351.5h0M120.1 350.8h0M98.9 352.0h0M103.3 352.1h0M125.3 351.2h0M124.4 351.9h0M94.2 350.7h0M98.2 351.9h0M109.5 352.1h0M93.7 351.0h0M112.4 351.5h0M105.3 352.0h0M98.3 350.4h0M97.6 352.1h0M96.0 350.4h0M87.6 352.1h0M123.2 351.3h0M118.2 351.7h0M102.2 351.6h0M112.7 350.8h0M97.4 350.3h0M125.9 351.6h0M93.4 351.8h0M96.8 351.5h0M91.8 351.2h0M91.7 350.8h0M126.2 351.5h0M119.1 351.2h0M109.4 351.6h0M107.1 351.9h0M91.7 350.8h0M119.7 351.8h0M102.6 351.2h0M97.1 350.4h0M125.1 351.7h0M111.6 351.5h0M86.6 351.4h0M104.1 352.1h0M90.6 351.9h0M101.9 351.4h0M121.3 350.7h0M92.4 351.5h0M117.6 351.8h0M117.3 351.2h0M111.9 351.8h0M123.8 351.0h0M123.9 350.4h0M94.5 351.1h0M122.7 350.9h0M109.9 351.3h0M100.4 351.6h0M106.6 350.5h0M120.0 352.1h0M106.4 351.6h0M125.9 351.5h0M113.1 351.6h0M112.2 350.4h0M116.2 351.7h0M125.3 352.1h0M93.7 350.7h0M121.3 351.4h0M88.5 351.5h0M124.1 350.9h0M87.2 351.3h0M95.4 350.7h0M105.0 351.7h0M124.9 350.8h0M103.1 350.4h0M122.9 351.7h0M89.6 351.4h0M101.6 350.4h0M108.9 352.1h0" fill="none" stroke="#2bc62e" stroke-width="2.30" stroke-linecap="round"/>
<g fill="#d43a5c" stroke="#5a0818" stroke-width="0.35">
<circle cx="222.1" cy="243.1" r="1.3"/>
<circle cx="205.8" cy="250.3" r="1.3"/>
<circle cx="221.1" cy="261.8" r="1.3"/>
<circle cx="226.0" cy="283.3" r="1.3"/>
<circle cx="176.5" cy="281.7" r="1.3"/>
<circle cx="189.4" cy="282.3" r="1.3"/>
<circle cx="192.0" cy="290.0" r="1.3"/>
<circle cx="161.9" cy="293.7" r="1.3"/>
<circle cx="85.8" cy="293.1" r="1.3"/>
<circle cx="74.2" cy="310.8" r="1.3"/>
<circle cx="64.0" cy="343.0" r="1.3"/>
<circle cx="231.5" cy="341.9" r="1.3"/>
<circle cx="180.0" cy="300.0" r="1.3"/>
<circle cx="186.0" cy="297.0" r="1.3"/>
<circle cx="183.0" cy="304.0" r="1.3"/>
<circle cx="188.0" cy="306.0" r="1.3"/>
<circle cx="176.0" cy="309.0" r="1.3"/>
<circle cx="181.0" cy="312.0" r="1.3"/>
<circle cx="172.0" cy="314.0" r="1.3"/>
<circle cx="200.0" cy="314.0" r="1.3"/>
<circle cx="196.0" cy="309.0" r="1.3"/>
<circle cx="208.0" cy="317.0" r="1.3"/>
<circle cx="212.0" cy="320.0" r="1.3"/>
<circle cx="221.0" cy="327.0" r="1.3"/>
<circle cx="218.0" cy="331.0" r="1.3"/>
<circle cx="225.0" cy="336.0" r="1.3"/>
<circle cx="211.0" cy="336.0" r="1.3"/>
<circle cx="202.6" cy="336.1" r="1.3"/>
<circle cx="181.8" cy="333.8" r="1.3"/>
<circle cx="161.0" cy="325.2" r="1.3"/>
<circle cx="153.3" cy="343.5" r="1.3"/>
<circle cx="179.3" cy="334.5" r="1.3"/>
<circle cx="186.6" cy="346.2" r="1.3"/>
<circle cx="212.5" cy="344.4" r="1.3"/>
<circle cx="199.6" cy="334.2" r="1.3"/>
<circle cx="178.9" cy="315.5" r="1.3"/>
<circle cx="212.3" cy="345.3" r="1.3"/>
<circle cx="200.5" cy="324.3" r="1.3"/>
<circle cx="190.9" cy="337.6" r="1.3"/>
<circle cx="191.5" cy="347.0" r="1.3"/>
<circle cx="159.4" cy="330.9" r="1.3"/>
<circle cx="173.4" cy="327.9" r="1.3"/>
<circle cx="200.5" cy="329.8" r="1.3"/>
<circle cx="148.3" cy="339.1" r="1.3"/>
<circle cx="188.3" cy="341.5" r="1.3"/>
<circle cx="196.7" cy="323.0" r="1.3"/>
<circle cx="196.3" cy="329.5" r="1.3"/>
<circle cx="172.7" cy="317.7" r="1.3"/>
<circle cx="181.9" cy="344.8" r="1.3"/>
<circle cx="159.5" cy="331.0" r="1.3"/>
<circle cx="209.3" cy="347.6" r="1.3"/>
<circle cx="148.9" cy="333.2" r="1.3"/>
<circle cx="205.8" cy="340.1" r="1.3"/>
<circle cx="189.3" cy="320.5" r="1.3"/>
<circle cx="182.5" cy="325.5" r="1.3"/>
<circle cx="146.9" cy="344.9" r="1.3"/>
<circle cx="179.5" cy="335.5" r="1.3"/>
<circle cx="186.2" cy="319.6" r="1.3"/>
<circle cx="209.7" cy="337.8" r="1.3"/>
<circle cx="161.8" cy="349.4" r="1.3"/>
<circle cx="158.8" cy="331.4" r="1.3"/>
<circle cx="207.8" cy="345.5" r="1.3"/>
<circle cx="183.6" cy="342.5" r="1.3"/>
<circle cx="200.6" cy="322.8" r="1.3"/>
<circle cx="210.6" cy="337.9" r="1.3"/>
<circle cx="185.7" cy="348.7" r="1.3"/>
<circle cx="202.3" cy="330.9" r="1.3"/>
<circle cx="161.3" cy="334.5" r="1.3"/>
<circle cx="221.0" cy="341.8" r="1.3"/>
<circle cx="190.2" cy="340.6" r="1.3"/>
<circle cx="224.1" cy="344.7" r="1.3"/>
<circle cx="147.3" cy="344.2" r="1.3"/>
<circle cx="213.2" cy="344.6" r="1.3"/>
<circle cx="167.3" cy="311.0" r="1.3"/>
<circle cx="181.5" cy="344.1" r="1.3"/>
<circle cx="205.2" cy="336.0" r="1.3"/>
<circle cx="217.3" cy="346.8" r="1.3"/>
<circle cx="184.6" cy="328.5" r="1.3"/>
<circle cx="223.8" cy="345.3" r="1.3"/>
<circle cx="203.0" cy="322.1" r="1.3"/>
<circle cx="175.8" cy="313.3" r="1.3"/>
<circle cx="200.5" cy="345.6" r="1.3"/>
<circle cx="184.3" cy="317.5" r="1.3"/>
<circle cx="146.0" cy="331.5" r="1.3"/>
<circle cx="157.3" cy="347.3" r="1.3"/>
<circle cx="199.4" cy="342.5" r="1.3"/>
<circle cx="182.3" cy="330.0" r="1.3"/>
<circle cx="177.0" cy="329.9" r="1.3"/>
<circle cx="194.9" cy="315.3" r="1.3"/>
<circle cx="223.2" cy="348.1" r="1.3"/>
<circle cx="153.9" cy="348.9" r="1.3"/>
<circle cx="166.6" cy="325.9" r="1.3"/>
<circle cx="154.4" cy="340.8" r="1.3"/>
<circle cx="152.9" cy="341.0" r="1.3"/>
<circle cx="164.2" cy="339.6" r="1.3"/>
<circle cx="183.2" cy="347.9" r="1.3"/>
<circle cx="163.1" cy="349.6" r="1.3"/>
<circle cx="213.9" cy="337.8" r="1.3"/>
<circle cx="216.1" cy="335.4" r="1.3"/>
<circle cx="201.4" cy="329.7" r="1.3"/>
<circle cx="190.3" cy="310.6" r="1.3"/>
<circle cx="195.2" cy="344.5" r="1.3"/>
<circle cx="155.6" cy="348.8" r="1.3"/>
<circle cx="167.4" cy="330.5" r="1.3"/>
<circle cx="187.9" cy="334.2" r="1.3"/>
<circle cx="162.0" cy="326.1" r="1.3"/>
<circle cx="197.9" cy="336.7" r="1.3"/>
<circle cx="155.7" cy="318.8" r="1.3"/>
<circle cx="175.7" cy="320.7" r="1.3"/>
<circle cx="210.3" cy="348.3" r="1.3"/>
<circle cx="179.9" cy="330.3" r="1.3"/>
<circle cx="163.6" cy="340.0" r="1.3"/>
<circle cx="170.7" cy="342.8" r="1.3"/>
<circle cx="151.2" cy="337.1" r="1.3"/>
<circle cx="169.1" cy="319.1" r="1.3"/>
<circle cx="197.6" cy="332.6" r="1.3"/>
<circle cx="197.4" cy="337.9" r="1.3"/>
<circle cx="183.4" cy="334.2" r="1.3"/>
<circle cx="152.0" cy="334.0" r="1.3"/>
<circle cx="162.1" cy="322.8" r="1.3"/>
<circle cx="201.6" cy="349.0" r="1.3"/>
<circle cx="179.8" cy="312.6" r="1.3"/>
<circle cx="215.6" cy="345.6" r="1.3"/>
<circle cx="169.6" cy="341.1" r="1.3"/>
<circle cx="194.4" cy="342.3" r="1.3"/>
<circle cx="160.6" cy="314.1" r="1.3"/>
<circle cx="163.6" cy="326.4" r="1.3"/>
<circle cx="147.8" cy="335.5" r="1.3"/>
<circle cx="208.6" cy="345.9" r="1.3"/>
<circle cx="191.9" cy="334.6" r="1.3"/>
<circle cx="176.0" cy="344.2" r="1.3"/>
<circle cx="206.7" cy="335.7" r="1.3"/>
<circle cx="161.1" cy="348.7" r="1.3"/>
<circle cx="154.6" cy="337.7" r="1.3"/>
<circle cx="188.7" cy="316.7" r="1.3"/>
<circle cx="186.6" cy="315.2" r="1.3"/>
<circle cx="155.4" cy="325.2" r="1.3"/>
<circle cx="170.6" cy="338.2" r="1.3"/>
<circle cx="207.6" cy="331.9" r="1.3"/>
<circle cx="176.4" cy="333.0" r="1.3"/>
<circle cx="187.3" cy="320.4" r="1.3"/>
<circle cx="157.2" cy="349.1" r="1.3"/>
<circle cx="206.0" cy="331.4" r="1.3"/>
<circle cx="152.9" cy="337.9" r="1.3"/>
<circle cx="173.8" cy="308.0" r="1.3"/>
<circle cx="167.5" cy="329.0" r="1.3"/>
<circle cx="174.7" cy="304.4" r="1.3"/>
<circle cx="183.7" cy="315.7" r="1.3"/>
<circle cx="176.3" cy="339.7" r="1.3"/>
<circle cx="219.3" cy="348.2" r="1.3"/>
<circle cx="178.3" cy="325.9" r="1.3"/>
<circle cx="157.9" cy="322.7" r="1.3"/>
<circle cx="191.1" cy="336.6" r="1.3"/>
<circle cx="178.9" cy="308.8" r="1.3"/>
<circle cx="150.0" cy="325.2" r="1.3"/>
<circle cx="166.9" cy="340.4" r="1.3"/>
<circle cx="162.1" cy="339.7" r="1.3"/>
<circle cx="118.8" cy="345.8" r="1.3"/>
<circle cx="115.4" cy="342.1" r="1.3"/>
<circle cx="122.4" cy="335.3" r="1.3"/>
<circle cx="103.1" cy="342.4" r="1.3"/>
<circle cx="110.1" cy="333.0" r="1.3"/>
<circle cx="109.9" cy="347.9" r="1.3"/>
<circle cx="116.5" cy="341.5" r="1.3"/>
<circle cx="116.0" cy="343.7" r="1.3"/>
<circle cx="120.7" cy="346.5" r="1.3"/>
<circle cx="120.6" cy="334.7" r="1.3"/>
<circle cx="122.7" cy="341.7" r="1.3"/>
<circle cx="122.0" cy="343.8" r="1.3"/>
<circle cx="123.6" cy="345.9" r="1.3"/>
<circle cx="103.9" cy="343.3" r="1.3"/>
<circle cx="115.7" cy="348.9" r="1.3"/>
<circle cx="113.1" cy="334.7" r="1.3"/>
<circle cx="117.5" cy="345.8" r="1.3"/>
<circle cx="127.1" cy="336.4" r="1.3"/>
<circle cx="122.5" cy="346.8" r="1.3"/>
<circle cx="124.8" cy="338.8" r="1.3"/>
<circle cx="122.0" cy="337.7" r="1.3"/>
<circle cx="114.8" cy="340.3" r="1.3"/>
<circle cx="100.9" cy="347.1" r="1.3"/>
<circle cx="93.9" cy="341.9" r="1.3"/>
<circle cx="103.1" cy="335.7" r="1.3"/>
<circle cx="115.2" cy="331.9" r="1.3"/>
<circle cx="110.5" cy="335.5" r="1.3"/>
<circle cx="110.4" cy="340.3" r="1.3"/>
<circle cx="106.8" cy="343.0" r="1.3"/>
<circle cx="112.4" cy="348.8" r="1.3"/>
</g>
<g font-size="4.3" fill="#2a2a2a">
<text x="186.7" y="346.9">PLA2G2A</text>
<text x="146.6" y="341.5">KRT17</text>
<text x="147.4" y="341.5">SAMD9L</text>
<text x="173.5" y="325.3">TRIM22</text>
<text x="178.1" y="346.7">IFI6</text>
<text x="178.4" y="336.4">CIITA</text>
<text x="157.7" y="335.2">SELL</text>
<text x="146.3" y="325.6">IDO1</text>
<text x="190.9" y="329.5">IRF1</text>
<text x="152.3" y="326.1">CIITA</text>
<text x="176.5" y="337.5">LCN2</text>
<text x="178.5" y="326.0">CCL5</text>
<text x="176.1" y="325.1">PI3</text>
<text x="165.4" y="329.5">HLA-DRA</text>
<text x="164.3" y="335.7">UBD</text>
<text x="152.5" y="339.9">OAS2</text>
<text x="164.3" y="328.9">GBP1</text>
<text x="171.5" y="322.5">CD8A</text>
<text x="156.3" y="331.7">GZMA</text>
<text x="170.1" y="335.6">CIITA</text>
<text x="193.4" y="338.1">EPSTI1</text>
<text x="165.2" y="325.4">CD27</text>
<text x="157.3" y="324.2">CD2</text>
<text x="150.8" y="334.9">CD8A</text>
<text x="105.3" y="340.0">MZB1</text>
<text x="98.8" y="346.0">OAS2</text>
<text x="109.8" y="349.4">IRF1</text>
<text x="101.9" y="344.4">S100A8</text>
<text x="111.0" y="340.9">LCN2</text>
</g>
</g>
<text x="206.10" y="255.20" font-size="4.3" text-anchor="start" fill="#222" font-weight="normal" >HBB</text>
<text x="175.00" y="286.20" font-size="4.3" text-anchor="start" fill="#222" font-weight="normal" >GBP4</text>
<text x="192.00" y="294.20" font-size="4.3" text-anchor="start" fill="#222" font-weight="normal" >GBP5</text>
<text x="162.50" y="298.00" font-size="4.3" text-anchor="start" fill="#222" font-weight="normal" >APOL3</text>
<text x="86.50" y="297.30" font-size="4.3" text-anchor="start" fill="#222" font-weight="normal" >FOS</text>
<text x="75.00" y="316.30" font-size="4.3" text-anchor="start" fill="#222" font-weight="normal" >FOSB</text>
<text x="64.50" y="348.30" font-size="4.3" text-anchor="start" fill="#222" font-weight="normal" >CYP1A2</text>
<text x="86.00" y="354.50" font-size="4.3" text-anchor="start" fill="#222" font-weight="normal" >DLK1</text>
<text x="111.00" y="329.00" font-size="4.3" text-anchor="start" fill="#222" font-weight="normal" >ADRB2</text>
<text x="108.00" y="333.50" font-size="4.3" text-anchor="start" fill="#222" font-weight="normal" >DUSP1</text>
<text x="105.00" y="337.50" font-size="4.3" text-anchor="start" fill="#222" font-weight="normal" >CHRNB4P1</text>
<text x="222.50" y="329.75" font-size="4.3" text-anchor="start" fill="#222" font-weight="normal" >IGFL1</text>
<text x="213.75" y="334.75" font-size="4.3" text-anchor="start" fill="#222" font-weight="normal" >PPBP</text>
<text x="212.25" y="340.60" font-size="4.3" text-anchor="start" fill="#222" font-weight="normal" >S100A7A</text>
<text x="231.25" y="346.50" font-size="4.3" text-anchor="start" fill="#222" font-weight="normal" >HRNR</text>
<text x="201.25" y="346.25" font-size="4.3" text-anchor="start" fill="#222" font-weight="normal" >LINC01705</text>
<text x="207.00" y="348.75" font-size="4.3" text-anchor="start" fill="#222" font-weight="normal" >SERPINB11</text>
<text x="195.00" y="316.00" font-size="4.3" text-anchor="start" fill="#222" font-weight="normal" >PCSK9A</text>
<text x="166.30" y="317.00" font-size="4.3" text-anchor="start" fill="#222" font-weight="normal" >AIM2</text>
<text x="166.00" y="322.00" font-size="4.3" text-anchor="start" fill="#222" font-weight="normal" >APOBEC3B</text>
<text x="150.00" y="344.00" font-size="4.3" text-anchor="start" fill="#222" font-weight="normal" >TRIM22</text>
<text x="152.00" y="339.00" font-size="4.3" text-anchor="start" fill="#222" font-weight="normal" >SLA</text>
<text x="158.00" y="347.00" font-size="4.3" text-anchor="start" fill="#222" font-weight="normal" >CD38</text>
<rect x="220.2" y="243.3" width="17.3" height="6.5" rx="1.6" fill="#fff" stroke="#222" stroke-width="0.55"/>
<text x="228.85" y="248.05" font-size="4.3" text-anchor="middle" fill="#222" font-weight="normal" textLength="14.3" lengthAdjust="spacingAndGlyphs" >CXCL9</text>
<rect x="219.1" y="261.3" width="19.9" height="6.6" rx="1.6" fill="#fff" stroke="#222" stroke-width="0.55"/>
<text x="229.05" y="266.10" font-size="4.3" text-anchor="middle" fill="#222" font-weight="normal" textLength="16.9" lengthAdjust="spacingAndGlyphs" >CXCL10</text>
<rect x="224.4" y="283.7" width="19.8" height="5.7" rx="1.6" fill="#fff" stroke="#222" stroke-width="0.55"/>
<text x="234.30" y="288.05" font-size="4.3" text-anchor="middle" fill="#222" font-weight="normal" textLength="16.8" lengthAdjust="spacingAndGlyphs" >CXCL11</text>
<rect x="187.5" y="282.7" width="12.9" height="6.1" rx="1.6" fill="#fff" stroke="#222" stroke-width="0.55"/>
<text x="193.95" y="287.25" font-size="4.3" text-anchor="middle" fill="#222" font-weight="normal" textLength="9.9" lengthAdjust="spacingAndGlyphs" >IFI27</text>
<rect x="190" y="297.1" width="15.4" height="6.4" rx="1.6" fill="#fff" stroke="#222" stroke-width="0.55"/>
<text x="197.70" y="301.80" font-size="4.3" text-anchor="middle" fill="#222" font-weight="normal" textLength="12.4" lengthAdjust="spacingAndGlyphs" >GZMH</text>
<rect x="184.6" y="308" width="15" height="5.5" rx="1.6" fill="#fff" stroke="#222" stroke-width="0.55"/>
<text x="192.10" y="312.25" font-size="4.3" text-anchor="middle" fill="#222" font-weight="normal" textLength="12" lengthAdjust="spacingAndGlyphs" >GZMB</text>
<rect x="181.2" y="314.4" width="11.5" height="5.8" rx="1.6" fill="#fff" stroke="#222" stroke-width="0.55"/>
<text x="186.95" y="318.80" font-size="4.3" text-anchor="middle" fill="#222" font-weight="normal" textLength="8.5" lengthAdjust="spacingAndGlyphs" >IFI6</text>
<rect x="201.25" y="316.25" width="14.3" height="6.2" rx="1.6" fill="#fff" stroke="#222" stroke-width="0.55"/>
<text x="208.40" y="320.85" font-size="4.3" text-anchor="middle" fill="#222" font-weight="normal" textLength="11.3" lengthAdjust="spacingAndGlyphs" >KLHL5</text>
<rect x="207.5" y="321.9" width="15.6" height="5" rx="1.6" fill="#fff" stroke="#222" stroke-width="0.55"/>
<text x="215.30" y="325.90" font-size="4.3" text-anchor="middle" fill="#222" font-weight="normal" textLength="12.6" lengthAdjust="spacingAndGlyphs" >KRT16A</text>
<line x1="127.35" y1="237.4" x2="127.35" y2="359.9" stroke="#1a1a1a" stroke-width="0.85" stroke-dasharray="2.4,1.5"/>
<line x1="145.65" y1="237.4" x2="145.65" y2="359.9" stroke="#1a1a1a" stroke-width="0.85" stroke-dasharray="2.4,1.5"/>
<line x1="34.95" y1="350.14" x2="256.2" y2="350.14" stroke="#1a1a1a" stroke-width="0.85" stroke-dasharray="2.4,1.5"/>
<path d="M34.95,237.4 V359.9 H256.2" fill="none" stroke="#1e1e1e" stroke-width="1.45"/>
<line x1="31.750000000000004" y1="352.20" x2="34.95" y2="352.20" stroke="#1e1e1e" stroke-width="1"/>
<text x="28.85" y="355.05" font-size="7.9" text-anchor="end" fill="#333" font-weight="normal" >0</text>
<line x1="31.750000000000004" y1="320.54" x2="34.95" y2="320.54" stroke="#1e1e1e" stroke-width="1"/>
<text x="28.85" y="323.39" font-size="7.9" text-anchor="end" fill="#333" font-weight="normal" >20</text>
<line x1="31.750000000000004" y1="288.88" x2="34.95" y2="288.88" stroke="#1e1e1e" stroke-width="1"/>
<text x="28.85" y="291.73" font-size="7.9" text-anchor="end" fill="#333" font-weight="normal" >40</text>
<line x1="31.750000000000004" y1="257.22" x2="34.95" y2="257.22" stroke="#1e1e1e" stroke-width="1"/>
<text x="28.85" y="260.07" font-size="7.9" text-anchor="end" fill="#333" font-weight="normal" >60</text>
<line x1="45.00" y1="359.9" x2="45.00" y2="362.9" stroke="#1e1e1e" stroke-width="1"/>
<text x="45.00" y="371.60" font-size="7.8" text-anchor="middle" fill="#333" font-weight="normal" >−10</text>
<line x1="90.75" y1="359.9" x2="90.75" y2="362.9" stroke="#1e1e1e" stroke-width="1"/>
<text x="90.75" y="371.60" font-size="7.8" text-anchor="middle" fill="#333" font-weight="normal" >−5</text>
<line x1="136.50" y1="359.9" x2="136.50" y2="362.9" stroke="#1e1e1e" stroke-width="1"/>
<text x="136.50" y="371.60" font-size="7.8" text-anchor="middle" fill="#333" font-weight="normal" >0</text>
<line x1="182.25" y1="359.9" x2="182.25" y2="362.9" stroke="#1e1e1e" stroke-width="1"/>
<text x="182.25" y="371.60" font-size="7.8" text-anchor="middle" fill="#333" font-weight="normal" >5</text>
<line x1="228.00" y1="359.9" x2="228.00" y2="362.9" stroke="#1e1e1e" stroke-width="1"/>
<text x="228.00" y="371.60" font-size="7.8" text-anchor="middle" fill="#333" font-weight="normal" >10</text>
<text x="103.80" y="229.50" font-size="8.7" text-anchor="start" fill="#111" font-weight="normal" textLength="83.3" lengthAdjust="spacingAndGlyphs" >Lichen planus vs CONT</text>
<text x="145.55" y="384.50" font-size="8.6" font-weight="bold" text-anchor="middle" fill="#1a1a1a" textLength="47.3" lengthAdjust="spacingAndGlyphs">Log<tspan font-size="5.5" dy="1.8">2</tspan><tspan dy="-1.8"> fold change</tspan></text>
<text transform="translate(13.3,298.1) rotate(-90)" font-size="8.2" font-weight="bold" text-anchor="middle" fill="#1a1a1a" textLength="54" lengthAdjust="spacingAndGlyphs">−Log<tspan font-size="5.2" dy="1.8">10</tspan><tspan dy="-1.8"> adjusted </tspan><tspan font-style="italic">P</tspan></text>
<circle cx="62.6" cy="394.0" r="1.25" fill="#4b0a6e"/>
<text x="67.00" y="396.40" font-size="7" text-anchor="start" fill="#1a1a1a" font-weight="normal" >NS</text>
<circle cx="85" cy="394.0" r="1.25" fill="#2bbb2b"/>
<text x="89.2" y="396.4" font-size="7" fill="#1a1a1a">Log<tspan font-size="4.6" dy="1.6">2</tspan><tspan dy="-1.6"> FC</tspan></text>
<circle cx="125.2" cy="394.0" r="1.25" fill="#1f4e8a"/>
<text x="129.00" y="396.40" font-size="7" text-anchor="start" fill="#1a1a1a" font-weight="normal" >p-value</text>
<circle cx="159.6" cy="394.0" r="1.25" fill="#cc1030"/>
<text x="164" y="396.4" font-size="7" fill="#1a1a1a">p-value and log<tspan font-size="4.6" dy="1.6">2</tspan><tspan dy="-1.6"> FC</tspan></text>
<defs><clipPath id="clipC"><rect x="35.650000000000006" y="435.5" width="221.25" height="121.8"/></clipPath></defs>
<g clip-path="url(#clipC)">
<path d="M127.3,547.5 Q136.5,548.7 145.7,547.5 L145.7,553.8 L127.3,553.8Z" fill="#8d5ab5"/>
<path d="M131.9 546.4h0M130.8 548.2h0M133.8 548.5h0M139.6 548.7h0M143.8 542.9h0M127.4 542.1h0M129.3 547.1h0M135.0 548.3h0M135.9 547.8h0M132.1 548.4h0M139.6 547.4h0M144.2 541.7h0M128.5 540.6h0M139.2 547.6h0M134.8 548.6h0M141.9 546.6h0M141.6 548.2h0M129.8 544.5h0M127.7 538.1h0M129.8 545.5h0M135.0 548.5h0M130.5 545.4h0M144.1 543.2h0M138.3 548.0h0M137.2 548.2h0M143.9 546.8h0M131.4 545.9h0M144.6 544.5h0M142.0 546.2h0M144.7 548.1h0M143.8 545.4h0M135.6 548.1h0M138.6 548.3h0M132.7 547.1h0M142.3 548.4h0M134.8 547.9h0M143.4 542.9h0M131.8 546.4h0M140.1 548.7h0M131.2 548.2h0M128.8 543.3h0M133.0 547.6h0M128.8 542.0h0M140.1 547.4h0M138.4 548.3h0M130.9 545.3h0M130.0 546.1h0M129.6 548.2h0M140.1 547.2h0M135.8 548.0h0M143.1 546.0h0M141.5 548.0h0M130.1 547.9h0M127.5 548.0h0M141.1 546.5h0M128.4 542.2h0M141.6 546.7h0M136.5 548.3h0M140.1 548.4h0M141.1 548.4h0M128.0 539.1h0M129.0 547.4h0M128.4 548.8h0M129.6 543.3h0M140.1 548.1h0M127.5 538.7h0M136.2 547.9h0M136.6 548.8h0M128.7 542.3h0M131.4 548.4h0M134.8 548.5h0M132.4 547.2h0M135.9 547.7h0M129.1 546.8h0M143.5 546.1h0M141.4 547.6h0M134.8 547.8h0M133.1 547.9h0M137.7 548.8h0M129.2 547.2h0M127.4 540.3h0M137.9 548.5h0M135.0 548.8h0M134.7 547.8h0M128.0 542.1h0M140.0 548.5h0M132.8 548.5h0M137.7 548.4h0M129.7 547.2h0M131.8 546.2h0M138.5 548.3h0M136.3 548.2h0M145.3 544.5h0M128.4 547.2h0M127.5 546.4h0M138.4 548.5h0M142.7 544.4h0M129.6 543.9h0M139.5 547.4h0M130.8 545.9h0M133.4 548.5h0M132.1 546.6h0M136.1 548.4h0M143.3 543.8h0M143.8 548.7h0M145.6 540.3h0M143.9 543.1h0M143.8 542.7h0M139.2 548.7h0M139.8 548.8h0M133.8 548.5h0M132.8 547.3h0M143.5 543.2h0M138.7 547.9h0M129.7 546.8h0M141.8 547.4h0M136.4 548.0h0M131.4 546.2h0M140.9 548.7h0M135.1 547.8h0M132.3 548.8h0M130.5 546.5h0M129.2 548.5h0M129.9 544.3h0M145.1 547.4h0M137.6 548.1h0M128.6 541.4h0M141.0 547.1h0M136.1 548.0h0M142.4 547.6h0M131.7 546.1h0M136.2 548.4h0M144.5 542.6h0M141.0 546.8h0M142.6 545.7h0M145.6 539.1h0M142.5 545.2h0M128.2 539.2h0M141.3 548.6h0M140.5 547.4h0M136.5 548.5h0M137.2 548.7h0M134.6 548.1h0M140.4 547.7h0M143.6 543.0h0M144.0 544.4h0M131.9 548.7h0M138.0 548.3h0M127.4 547.1h0M145.1 540.9h0M143.9 546.5h0M135.3 548.2h0M134.7 548.8h0M135.9 548.1h0M133.9 547.6h0M144.4 548.6h0M135.0 548.1h0M134.8 547.7h0M132.9 547.2h0M133.7 547.6h0M129.2 542.9h0M142.8 546.1h0M132.9 548.2h0M129.7 547.2h0M136.8 548.3h0M136.0 547.9h0M131.3 546.3h0M143.1 546.9h0M128.4 541.3h0M140.7 547.8h0M144.3 546.7h0M140.6 547.4h0M134.4 547.9h0M129.3 546.8h0M136.4 547.8h0M141.3 548.7h0M138.8 548.7h0M134.5 547.7h0M132.4 548.6h0M144.3 547.1h0M138.1 548.5h0M144.6 541.9h0M142.0 548.5h0M134.0 547.7h0M132.7 548.7h0M143.0 547.4h0M138.2 548.6h0M129.6 545.8h0M139.0 547.8h0M144.4 544.4h0M139.9 548.3h0M143.7 546.5h0M128.0 546.7h0M130.0 545.5h0M130.3 546.7h0M133.4 547.6h0M132.7 548.4h0M132.6 548.5h0M139.4 548.1h0M140.1 548.6h0M142.0 546.9h0M145.2 538.0h0M127.6 541.8h0M132.0 547.1h0M129.9 545.7h0M141.3 547.3h0M132.9 547.5h0M144.5 546.4h0M129.4 546.2h0M134.8 548.4h0M144.7 546.6h0M128.4 548.7h0M136.2 548.6h0M136.3 548.1h0M133.2 548.6h0M144.0 547.4h0M133.0 548.8h0M138.5 548.6h0M141.0 547.8h0M142.5 547.4h0M141.6 548.6h0M133.8 548.4h0M134.8 548.6h0M132.7 547.0h0M128.8 544.9h0M143.9 545.5h0M135.5 548.3h0M129.8 547.7h0M140.2 547.7h0M131.5 547.4h0M145.4 546.5h0M142.0 545.5h0M137.2 548.7h0M136.0 548.0h0M139.4 547.6h0M136.5 548.9h0M127.9 540.4h0M137.2 547.8h0M142.8 545.7h0M138.2 547.9h0M130.5 547.2h0M139.1 548.1h0M130.4 547.4h0M129.8 544.2h0M130.7 546.2h0M130.4 548.3h0M128.1 545.2h0M142.7 544.6h0M137.2 547.9h0M139.3 547.5h0M131.2 548.0h0M132.3 547.0h0M144.5 542.0h0M144.9 548.8h0M130.3 548.1h0M133.4 548.3h0M134.7 548.7h0M137.0 548.1h0M142.2 548.3h0M145.4 545.8h0" fill="none" stroke="#4b86bb" stroke-width="2.30" stroke-linecap="round"/>
<path d="M192.6 547.5h0M204.6 543.3h0M148.7 534.2h0M108.5 547.4h0M196.6 544.6h0M153.8 547.1h0M160.7 546.9h0M189.7 545.5h0M182.3 544.8h0M158.1 534.9h0M125.2 543.5h0M172.7 547.5h0M160.6 547.6h0M188.4 547.4h0M167.1 531.9h0M197.6 544.2h0M170.8 540.4h0M195.3 542.9h0M110.1 544.1h0M199.0 539.7h0M167.7 546.4h0M126.4 547.1h0M193.3 547.5h0M190.8 545.0h0M168.9 546.8h0M148.9 547.5h0M183.2 547.5h0M188.6 541.9h0M164.5 547.3h0M197.2 546.3h0M120.7 547.1h0M157.4 539.0h0M127.1 532.5h0M174.0 543.5h0M165.7 543.5h0M121.7 547.3h0M146.2 547.2h0M93.9 544.1h0M167.9 547.5h0M168.8 529.3h0M178.5 542.9h0M151.1 540.1h0M191.4 547.0h0M91.1 547.1h0M160.6 545.8h0M187.3 542.3h0M153.6 538.8h0M169.5 541.9h0M176.5 537.7h0M147.2 540.2h0M154.5 547.3h0M94.5 544.1h0M94.2 547.5h0M157.4 547.4h0M158.8 547.6h0M205.3 546.5h0M150.9 545.8h0M193.2 545.4h0M96.1 547.5h0M200.6 547.1h0M100.2 544.9h0M188.4 546.1h0M165.6 545.6h0M146.4 540.5h0M180.8 544.4h0M122.9 547.5h0M146.0 533.5h0M159.0 532.6h0M171.4 541.4h0M167.1 546.4h0M103.0 540.2h0M196.2 547.2h0M194.2 547.4h0M114.6 546.5h0M175.3 546.1h0M204.9 546.5h0M114.0 546.6h0M202.4 547.1h0M121.5 530.5h0M192.5 547.0h0M195.0 547.3h0M175.0 540.9h0M156.9 547.3h0M164.9 540.4h0M156.5 540.4h0M174.3 541.7h0M166.8 546.6h0M179.1 543.1h0M183.2 541.9h0M180.7 547.5h0M125.4 539.4h0M151.1 546.9h0M98.7 538.1h0M169.5 545.5h0M180.9 536.7h0M98.3 540.6h0M170.1 546.9h0M171.8 536.9h0M162.7 545.7h0M190.1 536.1h0M155.6 534.4h0M161.2 534.1h0M197.8 547.6h0M174.3 545.1h0M174.9 547.5h0M165.3 542.8h0M152.8 547.5h0M163.6 539.7h0M160.9 543.7h0M152.5 547.2h0M145.9 545.6h0M181.8 546.7h0M123.5 547.4h0M191.7 540.7h0M115.7 531.3h0M186.5 539.3h0M161.1 546.7h0M159.6 531.1h0M202.1 541.3h0M148.0 542.1h0M101.5 544.6h0M170.5 546.5h0M125.3 543.4h0M150.6 547.6h0M204.7 542.5h0M204.1 547.5h0M180.6 547.3h0M157.9 546.7h0M155.9 545.3h0M183.9 542.8h0M101.3 546.7h0M160.3 530.5h0M158.4 538.7h0M118.2 533.9h0M160.4 533.6h0M195.4 539.9h0M150.6 546.2h0M190.5 541.2h0M173.6 543.5h0M180.2 547.5h0M199.8 544.5h0M191.1 546.9h0M109.3 536.6h0M191.9 547.5h0M157.6 547.5h0M150.0 544.4h0M190.3 544.6h0M200.3 545.1h0M99.4 543.6h0M189.7 546.3h0M197.2 547.5h0M202.2 545.6h0M172.3 546.9h0M169.7 547.5h0M173.3 542.2h0M100.9 547.5h0M164.5 531.8h0M193.8 547.3h0M197.4 547.2h0M200.9 545.6h0M100.6 540.7h0M146.1 539.4h0M171.1 544.7h0M121.3 534.7h0M127.3 545.5h0M183.3 540.4h0M205.1 546.9h0M172.0 547.3h0M178.1 547.1h0M122.8 533.1h0M152.6 541.8h0M185.7 547.5h0M182.1 537.2h0M156.7 524.0h0M206.0 543.2h0M115.5 545.5h0M153.1 540.9h0M168.0 547.5h0M122.0 546.9h0M114.8 541.5h0M166.6 543.3h0M100.0 539.7h0M113.1 546.3h0M174.6 538.8h0M126.6 543.9h0M198.9 547.5h0M97.7 540.0h0M152.7 547.3h0M208.0 547.5h0M193.8 539.2h0M155.2 546.5h0M169.0 546.9h0M150.1 524.8h0M108.1 546.2h0M124.7 539.5h0M104.5 545.2h0M154.9 526.4h0M90.9 547.5h0M95.1 547.0h0M123.3 543.9h0M187.7 544.7h0M147.0 546.1h0M190.2 543.2h0M99.6 539.7h0M206.7 547.5h0M150.8 530.4h0M150.1 544.6h0M200.4 547.3h0M149.6 542.2h0M115.9 547.5h0" fill="none" stroke="#4a0615" stroke-width="2.80" stroke-linecap="round" stroke-opacity="0.2"/>
<path d="M192.6 547.5h0M204.6 543.3h0M148.7 534.2h0M108.5 547.4h0M196.6 544.6h0M153.8 547.1h0M160.7 546.9h0M189.7 545.5h0M182.3 544.8h0M158.1 534.9h0M125.2 543.5h0M172.7 547.5h0M160.6 547.6h0M188.4 547.4h0M167.1 531.9h0M197.6 544.2h0M170.8 540.4h0M195.3 542.9h0M110.1 544.1h0M199.0 539.7h0M167.7 546.4h0M126.4 547.1h0M193.3 547.5h0M190.8 545.0h0M168.9 546.8h0M148.9 547.5h0M183.2 547.5h0M188.6 541.9h0M164.5 547.3h0M197.2 546.3h0M120.7 547.1h0M157.4 539.0h0M127.1 532.5h0M174.0 543.5h0M165.7 543.5h0M121.7 547.3h0M146.2 547.2h0M93.9 544.1h0M167.9 547.5h0M168.8 529.3h0M178.5 542.9h0M151.1 540.1h0M191.4 547.0h0M91.1 547.1h0M160.6 545.8h0M187.3 542.3h0M153.6 538.8h0M169.5 541.9h0M176.5 537.7h0M147.2 540.2h0M154.5 547.3h0M94.5 544.1h0M94.2 547.5h0M157.4 547.4h0M158.8 547.6h0M205.3 546.5h0M150.9 545.8h0M193.2 545.4h0M96.1 547.5h0M200.6 547.1h0M100.2 544.9h0M188.4 546.1h0M165.6 545.6h0M146.4 540.5h0M180.8 544.4h0M122.9 547.5h0M146.0 533.5h0M159.0 532.6h0M171.4 541.4h0M167.1 546.4h0M103.0 540.2h0M196.2 547.2h0M194.2 547.4h0M114.6 546.5h0M175.3 546.1h0M204.9 546.5h0M114.0 546.6h0M202.4 547.1h0M121.5 530.5h0M192.5 547.0h0M195.0 547.3h0M175.0 540.9h0M156.9 547.3h0M164.9 540.4h0M156.5 540.4h0M174.3 541.7h0M166.8 546.6h0M179.1 543.1h0M183.2 541.9h0M180.7 547.5h0M125.4 539.4h0M151.1 546.9h0M98.7 538.1h0M169.5 545.5h0M180.9 536.7h0M98.3 540.6h0M170.1 546.9h0M171.8 536.9h0M162.7 545.7h0M190.1 536.1h0M155.6 534.4h0M161.2 534.1h0M197.8 547.6h0M174.3 545.1h0M174.9 547.5h0M165.3 542.8h0M152.8 547.5h0M163.6 539.7h0M160.9 543.7h0M152.5 547.2h0M145.9 545.6h0M181.8 546.7h0M123.5 547.4h0M191.7 540.7h0M115.7 531.3h0M186.5 539.3h0M161.1 546.7h0M159.6 531.1h0M202.1 541.3h0M148.0 542.1h0M101.5 544.6h0M170.5 546.5h0M125.3 543.4h0M150.6 547.6h0M204.7 542.5h0M204.1 547.5h0M180.6 547.3h0M157.9 546.7h0M155.9 545.3h0M183.9 542.8h0M101.3 546.7h0M160.3 530.5h0M158.4 538.7h0M118.2 533.9h0M160.4 533.6h0M195.4 539.9h0M150.6 546.2h0M190.5 541.2h0M173.6 543.5h0M180.2 547.5h0M199.8 544.5h0M191.1 546.9h0M109.3 536.6h0M191.9 547.5h0M157.6 547.5h0M150.0 544.4h0M190.3 544.6h0M200.3 545.1h0M99.4 543.6h0M189.7 546.3h0M197.2 547.5h0M202.2 545.6h0M172.3 546.9h0M169.7 547.5h0M173.3 542.2h0M100.9 547.5h0M164.5 531.8h0M193.8 547.3h0M197.4 547.2h0M200.9 545.6h0M100.6 540.7h0M146.1 539.4h0M171.1 544.7h0M121.3 534.7h0M127.3 545.5h0M183.3 540.4h0M205.1 546.9h0M172.0 547.3h0M178.1 547.1h0M122.8 533.1h0M152.6 541.8h0M185.7 547.5h0M182.1 537.2h0M156.7 524.0h0M206.0 543.2h0M115.5 545.5h0M153.1 540.9h0M168.0 547.5h0M122.0 546.9h0M114.8 541.5h0M166.6 543.3h0M100.0 539.7h0M113.1 546.3h0M174.6 538.8h0M126.6 543.9h0M198.9 547.5h0M97.7 540.0h0M152.7 547.3h0M208.0 547.5h0M193.8 539.2h0M155.2 546.5h0M169.0 546.9h0M150.1 524.8h0M108.1 546.2h0M124.7 539.5h0M104.5 545.2h0M154.9 526.4h0M90.9 547.5h0M95.1 547.0h0M123.3 543.9h0M187.7 544.7h0M147.0 546.1h0M190.2 543.2h0M99.6 539.7h0M206.7 547.5h0M150.8 530.4h0M150.1 544.6h0M200.4 547.3h0M149.6 542.2h0M115.9 547.5h0" fill="none" stroke="#de5772" stroke-width="2.50" stroke-linecap="round"/>
<path d="M205.3 544.9h0M157.1 544.6h0M168.5 536.8h0M199.5 543.1h0M209.2 546.0h0M124.3 546.4h0M101.9 542.9h0M166.6 534.4h0M126.2 543.5h0M166.2 545.6h0M165.9 547.3h0M205.2 545.3h0M154.0 536.4h0M198.3 547.5h0M160.0 536.0h0M192.3 543.7h0M159.5 541.9h0M158.4 546.7h0M147.8 544.4h0M168.3 546.9h0M207.2 547.4h0M97.1 546.9h0M166.0 543.6h0M175.9 547.5h0M196.9 544.6h0M95.4 539.8h0M106.5 537.0h0M180.7 547.5h0M175.5 537.5h0M176.5 543.4h0M189.2 547.5h0M202.5 542.0h0M103.3 542.8h0M173.8 546.3h0M154.3 541.5h0M148.3 540.5h0M149.5 545.7h0M158.0 527.8h0M168.3 542.7h0M178.7 541.7h0M155.6 546.7h0M169.8 544.3h0M175.9 543.5h0M191.4 539.7h0M163.5 547.4h0M196.7 547.0h0M202.7 540.5h0M203.8 544.2h0M182.3 535.9h0M188.9 538.7h0M169.8 536.5h0M172.1 535.4h0M147.4 543.5h0M159.6 533.0h0M198.9 546.6h0M100.3 539.8h0M193.1 546.3h0M187.2 543.8h0M155.6 547.5h0M160.1 546.2h0M167.4 526.8h0M164.7 547.5h0M177.9 547.2h0M196.5 547.4h0M112.4 544.4h0M92.9 542.1h0M96.5 540.9h0M113.8 534.0h0M160.3 531.3h0M168.3 535.9h0M169.5 547.3h0M163.1 547.4h0M149.4 547.3h0M151.0 539.6h0M105.1 546.8h0M122.2 547.3h0M166.4 547.5h0M164.7 542.8h0M147.1 534.1h0M188.2 541.4h0M120.6 545.0h0M180.3 547.4h0M155.0 531.4h0M200.0 541.8h0M107.4 544.1h0M167.8 531.2h0M205.6 546.2h0M168.7 537.6h0M169.0 547.5h0M177.6 547.3h0M190.3 541.9h0M171.0 541.2h0M168.3 543.5h0M168.9 540.7h0M186.0 536.6h0M187.4 541.5h0M162.5 547.5h0M190.7 547.5h0M201.1 546.5h0M162.0 547.6h0M188.5 542.2h0M107.6 547.4h0M167.9 547.5h0M204.4 541.3h0M98.5 542.8h0M190.8 537.3h0M174.6 532.1h0M201.1 546.2h0M167.8 526.8h0M100.3 539.6h0M166.4 533.2h0M178.6 546.2h0M152.2 547.1h0M175.2 539.4h0M195.6 547.2h0M166.6 544.9h0M170.0 546.9h0M198.2 538.6h0M91.1 547.5h0M180.6 547.4h0M182.6 547.5h0M193.2 546.9h0M93.6 547.5h0M166.7 538.3h0M111.1 547.1h0M156.7 526.7h0M196.4 545.6h0M156.5 540.5h0M192.0 547.2h0M193.4 539.3h0M91.5 545.4h0M181.0 547.5h0M118.9 544.1h0M154.2 535.8h0M97.7 543.2h0M147.2 542.6h0M199.3 546.1h0M114.8 544.5h0M164.1 533.4h0M119.6 538.7h0M156.4 547.0h0M187.9 541.5h0M146.3 544.4h0M101.3 547.2h0M183.0 540.8h0M192.8 544.9h0M153.8 526.2h0M157.5 545.9h0M186.2 544.8h0M177.2 533.1h0M126.6 532.3h0M166.3 542.0h0M192.8 540.0h0M158.8 545.5h0M190.0 544.3h0M203.0 546.9h0M176.1 531.7h0M166.2 542.5h0M183.8 547.2h0M123.3 542.6h0M163.9 547.4h0M92.3 547.5h0M193.5 543.3h0M197.4 547.4h0M146.5 532.3h0M170.9 527.4h0M200.0 539.8h0M168.4 531.6h0M159.9 547.6h0M177.6 546.0h0M173.0 546.3h0M169.8 542.6h0M150.3 547.5h0M160.8 525.2h0M178.5 530.7h0M181.2 543.2h0M98.7 545.7h0M96.2 546.7h0M91.3 547.4h0M106.0 547.5h0M152.7 527.6h0M120.5 545.1h0M152.1 534.4h0M194.6 542.4h0M114.4 541.3h0M168.8 547.5h0M191.2 546.8h0M176.4 547.4h0M197.4 543.8h0M161.2 547.6h0M154.5 544.8h0M175.6 545.9h0M91.9 547.5h0M168.7 536.9h0M156.2 536.6h0M164.8 545.5h0M170.7 547.3h0M172.7 529.6h0M188.8 546.6h0M197.1 544.5h0M167.8 542.6h0M179.5 539.9h0M184.3 535.6h0M102.8 540.9h0M204.2 546.3h0M190.8 544.4h0M148.2 543.9h0M193.5 543.3h0M157.3 547.2h0M207.1 547.1h0" fill="none" stroke="#4a0615" stroke-width="2.80" stroke-linecap="round" stroke-opacity="0.2"/>
<path d="M205.3 544.9h0M157.1 544.6h0M168.5 536.8h0M199.5 543.1h0M209.2 546.0h0M124.3 546.4h0M101.9 542.9h0M166.6 534.4h0M126.2 543.5h0M166.2 545.6h0M165.9 547.3h0M205.2 545.3h0M154.0 536.4h0M198.3 547.5h0M160.0 536.0h0M192.3 543.7h0M159.5 541.9h0M158.4 546.7h0M147.8 544.4h0M168.3 546.9h0M207.2 547.4h0M97.1 546.9h0M166.0 543.6h0M175.9 547.5h0M196.9 544.6h0M95.4 539.8h0M106.5 537.0h0M180.7 547.5h0M175.5 537.5h0M176.5 543.4h0M189.2 547.5h0M202.5 542.0h0M103.3 542.8h0M173.8 546.3h0M154.3 541.5h0M148.3 540.5h0M149.5 545.7h0M158.0 527.8h0M168.3 542.7h0M178.7 541.7h0M155.6 546.7h0M169.8 544.3h0M175.9 543.5h0M191.4 539.7h0M163.5 547.4h0M196.7 547.0h0M202.7 540.5h0M203.8 544.2h0M182.3 535.9h0M188.9 538.7h0M169.8 536.5h0M172.1 535.4h0M147.4 543.5h0M159.6 533.0h0M198.9 546.6h0M100.3 539.8h0M193.1 546.3h0M187.2 543.8h0M155.6 547.5h0M160.1 546.2h0M167.4 526.8h0M164.7 547.5h0M177.9 547.2h0M196.5 547.4h0M112.4 544.4h0M92.9 542.1h0M96.5 540.9h0M113.8 534.0h0M160.3 531.3h0M168.3 535.9h0M169.5 547.3h0M163.1 547.4h0M149.4 547.3h0M151.0 539.6h0M105.1 546.8h0M122.2 547.3h0M166.4 547.5h0M164.7 542.8h0M147.1 534.1h0M188.2 541.4h0M120.6 545.0h0M180.3 547.4h0M155.0 531.4h0M200.0 541.8h0M107.4 544.1h0M167.8 531.2h0M205.6 546.2h0M168.7 537.6h0M169.0 547.5h0M177.6 547.3h0M190.3 541.9h0M171.0 541.2h0M168.3 543.5h0M168.9 540.7h0M186.0 536.6h0M187.4 541.5h0M162.5 547.5h0M190.7 547.5h0M201.1 546.5h0M162.0 547.6h0M188.5 542.2h0M107.6 547.4h0M167.9 547.5h0M204.4 541.3h0M98.5 542.8h0M190.8 537.3h0M174.6 532.1h0M201.1 546.2h0M167.8 526.8h0M100.3 539.6h0M166.4 533.2h0M178.6 546.2h0M152.2 547.1h0M175.2 539.4h0M195.6 547.2h0M166.6 544.9h0M170.0 546.9h0M198.2 538.6h0M91.1 547.5h0M180.6 547.4h0M182.6 547.5h0M193.2 546.9h0M93.6 547.5h0M166.7 538.3h0M111.1 547.1h0M156.7 526.7h0M196.4 545.6h0M156.5 540.5h0M192.0 547.2h0M193.4 539.3h0M91.5 545.4h0M181.0 547.5h0M118.9 544.1h0M154.2 535.8h0M97.7 543.2h0M147.2 542.6h0M199.3 546.1h0M114.8 544.5h0M164.1 533.4h0M119.6 538.7h0M156.4 547.0h0M187.9 541.5h0M146.3 544.4h0M101.3 547.2h0M183.0 540.8h0M192.8 544.9h0M153.8 526.2h0M157.5 545.9h0M186.2 544.8h0M177.2 533.1h0M126.6 532.3h0M166.3 542.0h0M192.8 540.0h0M158.8 545.5h0M190.0 544.3h0M203.0 546.9h0M176.1 531.7h0M166.2 542.5h0M183.8 547.2h0M123.3 542.6h0M163.9 547.4h0M92.3 547.5h0M193.5 543.3h0M197.4 547.4h0M146.5 532.3h0M170.9 527.4h0M200.0 539.8h0M168.4 531.6h0M159.9 547.6h0M177.6 546.0h0M173.0 546.3h0M169.8 542.6h0M150.3 547.5h0M160.8 525.2h0M178.5 530.7h0M181.2 543.2h0M98.7 545.7h0M96.2 546.7h0M91.3 547.4h0M106.0 547.5h0M152.7 527.6h0M120.5 545.1h0M152.1 534.4h0M194.6 542.4h0M114.4 541.3h0M168.8 547.5h0M191.2 546.8h0M176.4 547.4h0M197.4 543.8h0M161.2 547.6h0M154.5 544.8h0M175.6 545.9h0M91.9 547.5h0M168.7 536.9h0M156.2 536.6h0M164.8 545.5h0M170.7 547.3h0M172.7 529.6h0M188.8 546.6h0M197.1 544.5h0M167.8 542.6h0M179.5 539.9h0M184.3 535.6h0M102.8 540.9h0M204.2 546.3h0M190.8 544.4h0M148.2 543.9h0M193.5 543.3h0M157.3 547.2h0M207.1 547.1h0" fill="none" stroke="#de5772" stroke-width="2.50" stroke-linecap="round"/>
<path d="M179.1 547.2h0M154.4 544.5h0M196.4 547.5h0M182.7 545.4h0M183.0 546.7h0M124.3 543.7h0M169.6 531.1h0M97.2 542.7h0M106.2 545.4h0M185.9 545.9h0M194.2 547.6h0M203.8 547.5h0M160.4 544.9h0M105.8 545.0h0M150.6 531.1h0M182.5 547.2h0M162.0 547.2h0M175.2 536.7h0M160.5 537.9h0M155.4 547.1h0M199.2 541.3h0M194.5 547.5h0M169.3 543.1h0M152.7 547.6h0M184.2 547.2h0M125.0 530.5h0M208.5 545.9h0M199.5 546.5h0M198.4 542.8h0M175.8 536.9h0M175.7 544.3h0M204.8 547.5h0M192.7 536.9h0M194.7 539.7h0M200.5 546.0h0M203.8 545.1h0M148.1 527.9h0M152.2 546.3h0M182.3 546.9h0M171.4 543.2h0M204.3 547.4h0M170.5 547.5h0M123.8 543.6h0M163.8 547.6h0M155.6 530.8h0M153.3 528.3h0M112.2 545.7h0M182.1 539.1h0M200.1 543.8h0M191.7 543.0h0M185.2 544.3h0M155.9 533.6h0M181.1 545.8h0M147.9 544.9h0M188.7 547.5h0M146.5 526.3h0M178.0 531.4h0M167.2 539.1h0M156.4 545.4h0M180.8 535.6h0M113.9 547.4h0M192.4 543.0h0M177.0 536.1h0M159.9 544.5h0M162.9 546.3h0M108.1 547.4h0M90.8 542.6h0M190.4 545.6h0M179.3 544.9h0M189.7 547.6h0M191.6 540.4h0M104.1 544.4h0M192.9 542.0h0M146.2 533.0h0M202.1 547.1h0M209.6 545.7h0M173.6 547.5h0M207.9 544.7h0M179.2 531.0h0M165.8 535.4h0M181.3 541.7h0M196.0 547.3h0M167.6 547.1h0M207.5 544.0h0M170.9 531.7h0M170.8 547.5h0M162.7 545.8h0M97.2 545.2h0M173.7 547.2h0M174.4 532.0h0M151.4 544.7h0M158.4 546.6h0M161.1 524.9h0M150.9 546.6h0M191.0 547.5h0M198.3 544.1h0M146.2 535.5h0M172.6 546.3h0M190.2 546.0h0M146.9 532.2h0M170.3 546.8h0M160.1 535.6h0M193.5 543.3h0M99.9 547.2h0M169.4 542.4h0M203.3 542.3h0M106.7 542.2h0M175.9 535.5h0M183.7 547.3h0M186.5 546.1h0M180.4 532.0h0M181.4 546.4h0M176.9 547.0h0M174.2 536.9h0M181.8 541.0h0M114.2 536.6h0M171.1 536.2h0M206.9 546.8h0M196.7 541.2h0M197.4 544.1h0M184.7 547.5h0M204.8 545.3h0M102.5 547.4h0M107.7 547.4h0M146.9 540.1h0M96.8 541.9h0M177.8 547.5h0M118.1 546.0h0M160.1 529.3h0M181.9 547.5h0M186.9 535.7h0M90.8 546.9h0M117.2 543.0h0M93.5 542.8h0M197.1 545.8h0M107.3 538.1h0M161.0 543.3h0M119.2 546.1h0M93.6 542.2h0M125.5 547.5h0M166.2 546.7h0M153.8 540.2h0M166.4 547.5h0M159.4 534.7h0M110.1 546.3h0M148.2 526.0h0M146.2 538.8h0M179.6 531.0h0M153.9 529.1h0M167.7 546.4h0M164.3 539.4h0M148.8 547.5h0M152.5 547.5h0M146.1 546.8h0M193.7 543.7h0M209.1 544.9h0M169.5 546.6h0M109.0 538.9h0M193.7 542.3h0M180.5 540.1h0M180.1 547.3h0M162.6 541.4h0M120.7 537.2h0M162.1 547.1h0M148.0 526.5h0M198.5 540.7h0M153.1 547.5h0M178.2 541.8h0M207.9 545.6h0M191.7 542.1h0M209.2 544.9h0M159.5 529.5h0M159.4 529.9h0M153.7 547.4h0M197.2 544.7h0M170.7 543.3h0M182.9 547.5h0M208.8 547.6h0M150.6 547.5h0M174.9 541.5h0M159.3 534.4h0M162.8 537.0h0M100.5 545.6h0M120.8 539.0h0M120.0 546.6h0M178.7 547.3h0M163.1 541.1h0M155.1 534.9h0M198.7 546.3h0M188.5 535.4h0M163.4 547.0h0M149.5 545.6h0M151.2 544.7h0M169.4 543.2h0M162.9 547.5h0M157.2 547.5h0M94.0 546.2h0M164.1 547.1h0M196.9 547.0h0M116.4 534.5h0M185.0 533.7h0M150.7 546.3h0M173.4 546.9h0M115.5 538.0h0M99.3 542.4h0M161.9 546.8h0M102.3 537.8h0M167.5 537.6h0M118.0 547.5h0M180.3 536.2h0" fill="none" stroke="#4a0615" stroke-width="2.80" stroke-linecap="round" stroke-opacity="0.2"/>
<path d="M179.1 547.2h0M154.4 544.5h0M196.4 547.5h0M182.7 545.4h0M183.0 546.7h0M124.3 543.7h0M169.6 531.1h0M97.2 542.7h0M106.2 545.4h0M185.9 545.9h0M194.2 547.6h0M203.8 547.5h0M160.4 544.9h0M105.8 545.0h0M150.6 531.1h0M182.5 547.2h0M162.0 547.2h0M175.2 536.7h0M160.5 537.9h0M155.4 547.1h0M199.2 541.3h0M194.5 547.5h0M169.3 543.1h0M152.7 547.6h0M184.2 547.2h0M125.0 530.5h0M208.5 545.9h0M199.5 546.5h0M198.4 542.8h0M175.8 536.9h0M175.7 544.3h0M204.8 547.5h0M192.7 536.9h0M194.7 539.7h0M200.5 546.0h0M203.8 545.1h0M148.1 527.9h0M152.2 546.3h0M182.3 546.9h0M171.4 543.2h0M204.3 547.4h0M170.5 547.5h0M123.8 543.6h0M163.8 547.6h0M155.6 530.8h0M153.3 528.3h0M112.2 545.7h0M182.1 539.1h0M200.1 543.8h0M191.7 543.0h0M185.2 544.3h0M155.9 533.6h0M181.1 545.8h0M147.9 544.9h0M188.7 547.5h0M146.5 526.3h0M178.0 531.4h0M167.2 539.1h0M156.4 545.4h0M180.8 535.6h0M113.9 547.4h0M192.4 543.0h0M177.0 536.1h0M159.9 544.5h0M162.9 546.3h0M108.1 547.4h0M90.8 542.6h0M190.4 545.6h0M179.3 544.9h0M189.7 547.6h0M191.6 540.4h0M104.1 544.4h0M192.9 542.0h0M146.2 533.0h0M202.1 547.1h0M209.6 545.7h0M173.6 547.5h0M207.9 544.7h0M179.2 531.0h0M165.8 535.4h0M181.3 541.7h0M196.0 547.3h0M167.6 547.1h0M207.5 544.0h0M170.9 531.7h0M170.8 547.5h0M162.7 545.8h0M97.2 545.2h0M173.7 547.2h0M174.4 532.0h0M151.4 544.7h0M158.4 546.6h0M161.1 524.9h0M150.9 546.6h0M191.0 547.5h0M198.3 544.1h0M146.2 535.5h0M172.6 546.3h0M190.2 546.0h0M146.9 532.2h0M170.3 546.8h0M160.1 535.6h0M193.5 543.3h0M99.9 547.2h0M169.4 542.4h0M203.3 542.3h0M106.7 542.2h0M175.9 535.5h0M183.7 547.3h0M186.5 546.1h0M180.4 532.0h0M181.4 546.4h0M176.9 547.0h0M174.2 536.9h0M181.8 541.0h0M114.2 536.6h0M171.1 536.2h0M206.9 546.8h0M196.7 541.2h0M197.4 544.1h0M184.7 547.5h0M204.8 545.3h0M102.5 547.4h0M107.7 547.4h0M146.9 540.1h0M96.8 541.9h0M177.8 547.5h0M118.1 546.0h0M160.1 529.3h0M181.9 547.5h0M186.9 535.7h0M90.8 546.9h0M117.2 543.0h0M93.5 542.8h0M197.1 545.8h0M107.3 538.1h0M161.0 543.3h0M119.2 546.1h0M93.6 542.2h0M125.5 547.5h0M166.2 546.7h0M153.8 540.2h0M166.4 547.5h0M159.4 534.7h0M110.1 546.3h0M148.2 526.0h0M146.2 538.8h0M179.6 531.0h0M153.9 529.1h0M167.7 546.4h0M164.3 539.4h0M148.8 547.5h0M152.5 547.5h0M146.1 546.8h0M193.7 543.7h0M209.1 544.9h0M169.5 546.6h0M109.0 538.9h0M193.7 542.3h0M180.5 540.1h0M180.1 547.3h0M162.6 541.4h0M120.7 537.2h0M162.1 547.1h0M148.0 526.5h0M198.5 540.7h0M153.1 547.5h0M178.2 541.8h0M207.9 545.6h0M191.7 542.1h0M209.2 544.9h0M159.5 529.5h0M159.4 529.9h0M153.7 547.4h0M197.2 544.7h0M170.7 543.3h0M182.9 547.5h0M208.8 547.6h0M150.6 547.5h0M174.9 541.5h0M159.3 534.4h0M162.8 537.0h0M100.5 545.6h0M120.8 539.0h0M120.0 546.6h0M178.7 547.3h0M163.1 541.1h0M155.1 534.9h0M198.7 546.3h0M188.5 535.4h0M163.4 547.0h0M149.5 545.6h0M151.2 544.7h0M169.4 543.2h0M162.9 547.5h0M157.2 547.5h0M94.0 546.2h0M164.1 547.1h0M196.9 547.0h0M116.4 534.5h0M185.0 533.7h0M150.7 546.3h0M173.4 546.9h0M115.5 538.0h0M99.3 542.4h0M161.9 546.8h0M102.3 537.8h0M167.5 537.6h0M118.0 547.5h0M180.3 536.2h0" fill="none" stroke="#de5772" stroke-width="2.50" stroke-linecap="round"/>
<path d="M177.4 547.4h0M91.6 543.4h0M201.5 543.2h0M94.6 547.0h0M165.3 546.5h0M118.1 542.7h0M184.9 540.4h0M176.7 530.6h0M189.2 541.8h0M165.9 540.6h0M170.9 544.7h0M108.9 545.3h0M199.9 543.5h0M160.0 546.8h0M113.0 545.1h0M186.6 544.4h0M163.4 531.8h0M203.1 542.6h0M119.9 533.2h0M148.2 537.5h0M107.2 535.6h0M176.8 543.5h0M168.5 527.7h0M174.0 531.6h0M181.9 547.5h0M99.3 542.0h0M120.3 545.0h0M157.0 541.9h0M201.8 547.2h0M193.3 543.6h0M161.7 546.4h0M176.0 545.1h0M193.1 541.7h0M100.7 543.2h0M188.3 538.2h0M113.6 539.0h0M188.9 546.1h0M166.9 547.1h0M207.2 547.5h0M150.3 540.3h0M198.7 547.5h0M187.4 540.3h0M165.3 537.2h0M176.0 531.2h0M126.3 547.5h0M167.0 545.0h0M97.1 543.4h0M193.8 547.1h0M208.3 543.9h0M173.2 546.9h0M92.3 544.7h0M156.2 543.9h0M150.4 545.3h0M150.2 537.8h0M116.0 532.4h0M188.9 546.3h0M154.4 541.1h0M151.4 546.3h0M119.6 547.5h0M174.9 532.6h0M199.1 542.1h0M151.1 537.5h0M192.5 536.4h0M195.2 547.5h0M169.3 532.0h0M102.9 543.2h0M105.7 543.7h0M193.1 547.1h0M153.9 547.5h0M176.8 547.4h0M193.2 544.9h0M206.3 547.0h0M93.5 544.4h0M206.6 547.5h0M168.2 544.4h0M170.6 542.4h0M204.7 547.2h0M186.9 541.0h0M158.9 539.3h0M187.8 547.5h0M153.2 542.7h0M173.3 546.0h0M154.3 546.5h0M183.8 546.0h0M173.2 541.9h0M157.5 547.4h0M165.8 531.6h0M117.3 543.2h0M93.6 544.8h0M127.3 544.2h0M187.0 539.4h0M209.1 543.6h0M98.7 538.3h0M186.4 540.9h0M115.8 543.2h0M152.5 542.7h0M91.9 547.3h0M154.6 534.2h0M180.9 547.6h0M93.1 543.0h0M113.2 540.1h0M178.8 540.6h0M200.4 544.0h0M202.4 545.5h0M197.4 544.1h0M150.5 535.9h0M174.1 546.5h0M164.9 547.4h0M203.3 545.5h0M178.0 538.3h0M195.6 542.4h0M155.2 546.3h0M187.7 544.8h0M195.5 545.9h0M186.9 545.5h0M147.3 527.5h0M149.8 547.5h0M158.2 537.9h0M150.8 546.0h0M110.8 542.3h0M184.2 545.7h0M114.9 540.8h0M177.9 531.1h0M173.3 542.7h0M185.2 541.4h0M174.5 547.5h0M158.4 546.8h0M173.7 544.6h0M191.0 546.1h0M146.2 547.5h0M146.7 538.0h0M176.0 539.0h0M191.2 541.2h0M162.3 543.9h0M119.6 547.3h0M197.4 547.6h0M183.8 547.4h0M170.4 547.3h0M168.0 547.1h0M169.9 542.6h0M204.0 545.6h0M152.4 539.8h0M127.3 544.8h0M205.3 547.4h0M192.3 546.6h0M184.3 539.6h0M201.1 543.7h0M192.5 546.9h0M189.5 545.2h0M123.7 537.8h0M97.5 547.5h0M153.8 542.2h0M148.9 545.7h0M112.5 547.4h0M161.2 542.2h0M170.9 537.1h0M207.5 547.4h0M170.9 540.2h0M148.4 547.5h0M158.4 547.5h0M184.0 536.0h0M169.6 547.5h0M96.2 542.8h0M187.5 540.8h0M168.2 546.1h0M162.5 547.2h0M110.2 536.7h0M202.2 545.7h0M156.9 529.8h0M199.8 540.6h0M160.4 545.5h0M148.7 546.4h0M194.8 543.1h0M207.6 543.5h0M161.4 542.4h0M149.5 544.7h0M169.5 540.3h0M170.1 546.6h0M158.3 547.5h0M179.8 543.4h0M193.5 546.6h0M187.6 544.9h0M121.6 546.5h0M113.9 540.8h0M170.1 546.5h0M165.5 544.7h0M179.6 545.1h0M172.1 539.4h0M148.9 545.1h0M152.6 543.6h0M181.7 540.2h0M205.6 547.4h0M178.5 542.1h0M93.9 543.8h0M181.6 547.1h0M158.2 542.7h0M169.8 546.0h0M94.7 547.5h0M150.4 544.0h0M168.8 534.8h0M182.7 544.7h0M95.0 543.9h0M195.3 547.6h0M170.4 538.7h0M168.3 547.5h0M209.2 547.3h0M183.6 543.7h0M207.9 547.5h0M199.4 547.4h0M172.5 547.4h0" fill="none" stroke="#4a0615" stroke-width="2.80" stroke-linecap="round" stroke-opacity="0.2"/>
<path d="M177.4 547.4h0M91.6 543.4h0M201.5 543.2h0M94.6 547.0h0M165.3 546.5h0M118.1 542.7h0M184.9 540.4h0M176.7 530.6h0M189.2 541.8h0M165.9 540.6h0M170.9 544.7h0M108.9 545.3h0M199.9 543.5h0M160.0 546.8h0M113.0 545.1h0M186.6 544.4h0M163.4 531.8h0M203.1 542.6h0M119.9 533.2h0M148.2 537.5h0M107.2 535.6h0M176.8 543.5h0M168.5 527.7h0M174.0 531.6h0M181.9 547.5h0M99.3 542.0h0M120.3 545.0h0M157.0 541.9h0M201.8 547.2h0M193.3 543.6h0M161.7 546.4h0M176.0 545.1h0M193.1 541.7h0M100.7 543.2h0M188.3 538.2h0M113.6 539.0h0M188.9 546.1h0M166.9 547.1h0M207.2 547.5h0M150.3 540.3h0M198.7 547.5h0M187.4 540.3h0M165.3 537.2h0M176.0 531.2h0M126.3 547.5h0M167.0 545.0h0M97.1 543.4h0M193.8 547.1h0M208.3 543.9h0M173.2 546.9h0M92.3 544.7h0M156.2 543.9h0M150.4 545.3h0M150.2 537.8h0M116.0 532.4h0M188.9 546.3h0M154.4 541.1h0M151.4 546.3h0M119.6 547.5h0M174.9 532.6h0M199.1 542.1h0M151.1 537.5h0M192.5 536.4h0M195.2 547.5h0M169.3 532.0h0M102.9 543.2h0M105.7 543.7h0M193.1 547.1h0M153.9 547.5h0M176.8 547.4h0M193.2 544.9h0M206.3 547.0h0M93.5 544.4h0M206.6 547.5h0M168.2 544.4h0M170.6 542.4h0M204.7 547.2h0M186.9 541.0h0M158.9 539.3h0M187.8 547.5h0M153.2 542.7h0M173.3 546.0h0M154.3 546.5h0M183.8 546.0h0M173.2 541.9h0M157.5 547.4h0M165.8 531.6h0M117.3 543.2h0M93.6 544.8h0M127.3 544.2h0M187.0 539.4h0M209.1 543.6h0M98.7 538.3h0M186.4 540.9h0M115.8 543.2h0M152.5 542.7h0M91.9 547.3h0M154.6 534.2h0M180.9 547.6h0M93.1 543.0h0M113.2 540.1h0M178.8 540.6h0M200.4 544.0h0M202.4 545.5h0M197.4 544.1h0M150.5 535.9h0M174.1 546.5h0M164.9 547.4h0M203.3 545.5h0M178.0 538.3h0M195.6 542.4h0M155.2 546.3h0M187.7 544.8h0M195.5 545.9h0M186.9 545.5h0M147.3 527.5h0M149.8 547.5h0M158.2 537.9h0M150.8 546.0h0M110.8 542.3h0M184.2 545.7h0M114.9 540.8h0M177.9 531.1h0M173.3 542.7h0M185.2 541.4h0M174.5 547.5h0M158.4 546.8h0M173.7 544.6h0M191.0 546.1h0M146.2 547.5h0M146.7 538.0h0M176.0 539.0h0M191.2 541.2h0M162.3 543.9h0M119.6 547.3h0M197.4 547.6h0M183.8 547.4h0M170.4 547.3h0M168.0 547.1h0M169.9 542.6h0M204.0 545.6h0M152.4 539.8h0M127.3 544.8h0M205.3 547.4h0M192.3 546.6h0M184.3 539.6h0M201.1 543.7h0M192.5 546.9h0M189.5 545.2h0M123.7 537.8h0M97.5 547.5h0M153.8 542.2h0M148.9 545.7h0M112.5 547.4h0M161.2 542.2h0M170.9 537.1h0M207.5 547.4h0M170.9 540.2h0M148.4 547.5h0M158.4 547.5h0M184.0 536.0h0M169.6 547.5h0M96.2 542.8h0M187.5 540.8h0M168.2 546.1h0M162.5 547.2h0M110.2 536.7h0M202.2 545.7h0M156.9 529.8h0M199.8 540.6h0M160.4 545.5h0M148.7 546.4h0M194.8 543.1h0M207.6 543.5h0M161.4 542.4h0M149.5 544.7h0M169.5 540.3h0M170.1 546.6h0M158.3 547.5h0M179.8 543.4h0M193.5 546.6h0M187.6 544.9h0M121.6 546.5h0M113.9 540.8h0M170.1 546.5h0M165.5 544.7h0M179.6 545.1h0M172.1 539.4h0M148.9 545.1h0M152.6 543.6h0M181.7 540.2h0M205.6 547.4h0M178.5 542.1h0M93.9 543.8h0M181.6 547.1h0M158.2 542.7h0M169.8 546.0h0M94.7 547.5h0M150.4 544.0h0M168.8 534.8h0M182.7 544.7h0M95.0 543.9h0M195.3 547.6h0M170.4 538.7h0M168.3 547.5h0M209.2 547.3h0M183.6 543.7h0M207.9 547.5h0M199.4 547.4h0M172.5 547.4h0" fill="none" stroke="#de5772" stroke-width="2.50" stroke-linecap="round"/>
<path d="M164.6 535.6h0M160.4 537.3h0M112.6 542.7h0M158.5 546.4h0M153.4 533.4h0M198.3 547.5h0M100.2 545.6h0M149.6 543.2h0M190.0 545.5h0M166.8 546.5h0M159.5 547.5h0M201.0 541.5h0M116.7 539.7h0M181.1 547.4h0M188.0 547.1h0M124.1 547.5h0M180.7 543.8h0M175.6 530.5h0M177.8 539.0h0M157.4 542.4h0M196.8 547.4h0M160.5 536.0h0M126.7 547.5h0M169.1 534.4h0M179.4 547.5h0M188.1 541.4h0M121.3 534.3h0M177.1 547.5h0M205.5 543.1h0M162.9 547.5h0M154.5 529.5h0M191.3 546.8h0M199.1 547.5h0M111.8 545.8h0M151.4 531.1h0M148.4 534.3h0M120.6 540.9h0M163.8 533.2h0M196.4 545.2h0M169.9 539.1h0M179.4 547.3h0M159.2 538.4h0M157.8 535.7h0M206.0 547.5h0M116.6 537.9h0M119.7 530.8h0M150.8 545.4h0M149.2 547.4h0M99.6 546.2h0M198.2 547.3h0M155.3 542.8h0M180.8 538.7h0M126.4 546.7h0M95.2 546.3h0M174.1 529.9h0M162.4 544.1h0M93.8 545.9h0M163.7 535.0h0M111.1 533.8h0M188.5 547.5h0M115.0 532.4h0M93.5 540.9h0M155.3 547.6h0M121.6 541.4h0M197.3 544.7h0M154.7 535.5h0M187.0 534.0h0M91.9 547.2h0M113.9 546.4h0M193.8 546.4h0M147.3 526.4h0M171.2 547.0h0M126.9 534.6h0M155.9 545.3h0M155.9 532.8h0M102.8 539.2h0M189.5 542.6h0M177.6 533.5h0M121.2 545.1h0M96.3 547.0h0M194.7 543.9h0M102.6 538.0h0M120.0 538.5h0M127.0 545.1h0M186.0 535.4h0M149.2 544.4h0M175.2 536.1h0M167.4 542.2h0M163.3 547.6h0M196.4 547.5h0M175.8 540.4h0M178.2 547.1h0M147.8 527.7h0M158.2 546.9h0M160.0 539.9h0M155.1 536.9h0M208.6 545.6h0M182.0 539.2h0M102.7 547.5h0M165.4 528.1h0M148.4 546.5h0M188.6 545.9h0M171.6 546.0h0M111.5 547.5h0M153.9 544.3h0M169.1 533.3h0M175.2 545.3h0M148.5 543.0h0M194.6 542.5h0M155.7 545.6h0M193.7 544.9h0M172.7 543.9h0M178.6 547.2h0M170.1 537.0h0M150.2 528.3h0M119.6 543.4h0M199.8 547.4h0M192.9 540.0h0M97.5 547.4h0M204.4 542.5h0M154.8 547.3h0M150.7 547.4h0M209.1 547.5h0M154.4 523.9h0M198.2 540.7h0M152.0 535.9h0M146.8 545.7h0M150.8 543.2h0M114.2 533.4h0M96.3 546.4h0M188.0 547.3h0M194.3 541.4h0M96.8 542.2h0M183.4 543.0h0M149.7 547.3h0M208.7 547.5h0M201.7 544.6h0M197.0 539.1h0M112.9 544.8h0M110.3 539.0h0M170.8 546.2h0M97.1 540.7h0M186.0 541.6h0M108.6 537.1h0M147.1 540.0h0M208.8 547.1h0M91.5 543.6h0M148.7 539.3h0M172.4 547.3h0M148.9 547.0h0M92.0 546.1h0M159.1 546.1h0M152.7 532.8h0M177.0 546.7h0M165.1 546.9h0M198.7 547.2h0M158.4 547.4h0M160.4 528.2h0M200.4 547.5h0M164.0 537.2h0M155.4 541.3h0M181.5 536.5h0M186.9 537.5h0M162.9 547.0h0M156.0 528.6h0M146.6 529.5h0M94.4 546.2h0M183.5 542.8h0M101.5 544.9h0M190.0 546.2h0M161.3 532.8h0M110.0 546.2h0M160.4 547.5h0M193.9 541.5h0M192.3 545.6h0M181.2 547.5h0M185.1 547.5h0M160.9 538.0h0M99.7 546.7h0M158.3 544.4h0M171.5 547.4h0M98.1 546.5h0M200.3 547.4h0M184.4 534.4h0M157.3 547.5h0M179.0 544.8h0M114.8 545.3h0M193.5 545.7h0M194.4 546.8h0M92.4 543.2h0M157.6 538.2h0M147.9 547.4h0M168.8 542.5h0M208.6 546.7h0M146.3 538.1h0M177.3 547.6h0M163.4 540.3h0M194.9 547.0h0M187.3 547.3h0M147.5 536.9h0M190.6 544.7h0M150.0 543.4h0M181.3 546.3h0M109.0 546.9h0M196.0 541.2h0M175.5 540.7h0M176.4 544.0h0M196.9 547.3h0M181.5 542.8h0M195.4 547.3h0" fill="none" stroke="#4a0615" stroke-width="2.80" stroke-linecap="round" stroke-opacity="0.2"/>
<path d="M164.6 535.6h0M160.4 537.3h0M112.6 542.7h0M158.5 546.4h0M153.4 533.4h0M198.3 547.5h0M100.2 545.6h0M149.6 543.2h0M190.0 545.5h0M166.8 546.5h0M159.5 547.5h0M201.0 541.5h0M116.7 539.7h0M181.1 547.4h0M188.0 547.1h0M124.1 547.5h0M180.7 543.8h0M175.6 530.5h0M177.8 539.0h0M157.4 542.4h0M196.8 547.4h0M160.5 536.0h0M126.7 547.5h0M169.1 534.4h0M179.4 547.5h0M188.1 541.4h0M121.3 534.3h0M177.1 547.5h0M205.5 543.1h0M162.9 547.5h0M154.5 529.5h0M191.3 546.8h0M199.1 547.5h0M111.8 545.8h0M151.4 531.1h0M148.4 534.3h0M120.6 540.9h0M163.8 533.2h0M196.4 545.2h0M169.9 539.1h0M179.4 547.3h0M159.2 538.4h0M157.8 535.7h0M206.0 547.5h0M116.6 537.9h0M119.7 530.8h0M150.8 545.4h0M149.2 547.4h0M99.6 546.2h0M198.2 547.3h0M155.3 542.8h0M180.8 538.7h0M126.4 546.7h0M95.2 546.3h0M174.1 529.9h0M162.4 544.1h0M93.8 545.9h0M163.7 535.0h0M111.1 533.8h0M188.5 547.5h0M115.0 532.4h0M93.5 540.9h0M155.3 547.6h0M121.6 541.4h0M197.3 544.7h0M154.7 535.5h0M187.0 534.0h0M91.9 547.2h0M113.9 546.4h0M193.8 546.4h0M147.3 526.4h0M171.2 547.0h0M126.9 534.6h0M155.9 545.3h0M155.9 532.8h0M102.8 539.2h0M189.5 542.6h0M177.6 533.5h0M121.2 545.1h0M96.3 547.0h0M194.7 543.9h0M102.6 538.0h0M120.0 538.5h0M127.0 545.1h0M186.0 535.4h0M149.2 544.4h0M175.2 536.1h0M167.4 542.2h0M163.3 547.6h0M196.4 547.5h0M175.8 540.4h0M178.2 547.1h0M147.8 527.7h0M158.2 546.9h0M160.0 539.9h0M155.1 536.9h0M208.6 545.6h0M182.0 539.2h0M102.7 547.5h0M165.4 528.1h0M148.4 546.5h0M188.6 545.9h0M171.6 546.0h0M111.5 547.5h0M153.9 544.3h0M169.1 533.3h0M175.2 545.3h0M148.5 543.0h0M194.6 542.5h0M155.7 545.6h0M193.7 544.9h0M172.7 543.9h0M178.6 547.2h0M170.1 537.0h0M150.2 528.3h0M119.6 543.4h0M199.8 547.4h0M192.9 540.0h0M97.5 547.4h0M204.4 542.5h0M154.8 547.3h0M150.7 547.4h0M209.1 547.5h0M154.4 523.9h0M198.2 540.7h0M152.0 535.9h0M146.8 545.7h0M150.8 543.2h0M114.2 533.4h0M96.3 546.4h0M188.0 547.3h0M194.3 541.4h0M96.8 542.2h0M183.4 543.0h0M149.7 547.3h0M208.7 547.5h0M201.7 544.6h0M197.0 539.1h0M112.9 544.8h0M110.3 539.0h0M170.8 546.2h0M97.1 540.7h0M186.0 541.6h0M108.6 537.1h0M147.1 540.0h0M208.8 547.1h0M91.5 543.6h0M148.7 539.3h0M172.4 547.3h0M148.9 547.0h0M92.0 546.1h0M159.1 546.1h0M152.7 532.8h0M177.0 546.7h0M165.1 546.9h0M198.7 547.2h0M158.4 547.4h0M160.4 528.2h0M200.4 547.5h0M164.0 537.2h0M155.4 541.3h0M181.5 536.5h0M186.9 537.5h0M162.9 547.0h0M156.0 528.6h0M146.6 529.5h0M94.4 546.2h0M183.5 542.8h0M101.5 544.9h0M190.0 546.2h0M161.3 532.8h0M110.0 546.2h0M160.4 547.5h0M193.9 541.5h0M192.3 545.6h0M181.2 547.5h0M185.1 547.5h0M160.9 538.0h0M99.7 546.7h0M158.3 544.4h0M171.5 547.4h0M98.1 546.5h0M200.3 547.4h0M184.4 534.4h0M157.3 547.5h0M179.0 544.8h0M114.8 545.3h0M193.5 545.7h0M194.4 546.8h0M92.4 543.2h0M157.6 538.2h0M147.9 547.4h0M168.8 542.5h0M208.6 546.7h0M146.3 538.1h0M177.3 547.6h0M163.4 540.3h0M194.9 547.0h0M187.3 547.3h0M147.5 536.9h0M190.6 544.7h0M150.0 543.4h0M181.3 546.3h0M109.0 546.9h0M196.0 541.2h0M175.5 540.7h0M176.4 544.0h0M196.9 547.3h0M181.5 542.8h0M195.4 547.3h0" fill="none" stroke="#de5772" stroke-width="2.50" stroke-linecap="round"/>
<path d="M176.7 538.1h0M177.8 546.8h0M205.3 546.2h0M106.2 545.8h0M147.5 529.1h0M182.3 536.5h0M166.3 547.5h0M171.6 533.0h0M94.4 543.4h0M159.4 531.1h0M179.6 545.1h0M180.2 539.9h0M113.1 535.2h0M97.5 547.4h0M171.8 545.5h0M186.4 540.6h0M183.5 541.4h0M110.3 547.5h0M205.0 546.8h0M152.8 537.4h0M182.4 541.3h0M114.2 539.5h0M185.9 535.4h0M168.3 544.3h0M111.8 547.5h0M197.2 547.5h0M181.4 536.7h0M159.0 541.7h0M175.8 547.5h0M190.5 547.4h0M155.1 546.5h0M177.5 542.0h0M96.7 543.5h0M94.3 545.7h0M197.0 546.4h0M165.1 547.2h0M207.3 546.4h0M209.0 544.1h0M151.9 536.4h0M94.2 546.8h0M115.4 539.8h0M160.9 547.5h0M161.5 547.6h0M195.6 547.4h0M188.9 542.3h0M104.3 536.3h0M175.0 544.9h0M120.9 533.6h0M192.4 546.6h0M176.0 537.8h0M201.1 546.1h0M172.2 545.6h0M192.3 547.5h0M184.3 534.8h0M173.4 529.7h0M209.6 547.5h0M196.2 545.9h0M159.9 529.8h0M119.9 540.5h0M200.5 544.0h0M192.4 547.3h0M146.8 545.7h0M180.6 540.5h0M103.8 546.5h0M164.5 544.0h0M198.5 546.9h0M182.6 540.8h0M192.1 540.2h0M178.0 544.5h0M100.9 546.5h0M116.7 546.9h0M196.9 546.5h0M194.4 547.4h0M188.2 546.8h0M205.1 545.8h0M160.9 531.5h0M192.1 547.5h0M148.5 547.2h0M97.1 541.1h0M188.3 545.9h0M107.0 541.3h0M185.6 547.2h0M161.4 544.3h0M153.8 543.7h0M173.2 536.5h0M152.4 547.5h0M156.9 546.9h0M182.4 542.7h0M163.6 542.8h0M92.3 544.5h0M195.6 545.6h0M170.3 538.0h0M208.0 544.7h0M152.6 535.9h0M156.7 545.8h0M159.6 547.2h0M108.9 546.6h0M182.9 541.5h0M173.0 543.0h0M122.5 547.5h0M96.8 542.7h0M148.0 531.6h0M122.9 539.7h0M159.1 542.6h0M191.9 543.5h0M203.9 545.4h0M154.9 523.3h0M202.8 546.9h0M98.5 547.5h0M91.5 547.5h0M202.0 546.2h0M167.8 547.0h0M98.1 543.7h0M185.1 544.4h0M148.1 543.7h0M168.9 531.5h0M195.0 547.3h0M202.7 547.2h0M171.7 547.4h0M111.6 546.8h0M178.6 546.1h0M188.0 542.4h0M118.9 537.3h0M148.6 528.1h0M156.3 543.6h0M195.2 547.2h0M194.0 546.7h0M177.3 540.8h0M153.9 528.5h0M148.7 531.4h0M205.6 547.1h0M196.7 538.4h0M178.9 542.3h0M107.7 545.7h0M148.4 541.9h0M175.5 544.6h0M168.2 539.2h0M161.2 540.2h0M159.9 532.2h0M161.0 545.9h0M185.3 547.5h0M114.1 538.6h0M192.0 547.1h0M160.5 544.1h0M185.0 547.5h0M190.3 541.3h0M187.3 547.3h0M115.2 545.7h0M171.6 547.5h0M196.8 545.8h0M195.9 544.0h0M149.1 528.9h0M151.5 524.9h0M126.7 538.0h0M159.4 546.9h0M168.5 546.9h0M125.8 545.2h0M117.3 547.2h0M164.2 541.9h0M166.0 547.5h0M202.3 543.5h0M148.7 547.4h0M118.1 543.2h0M208.4 545.0h0M192.4 544.8h0M182.4 535.7h0M155.7 542.1h0M198.8 545.5h0M98.1 547.0h0M160.8 546.4h0M93.6 547.6h0M181.9 546.6h0M147.1 543.3h0M191.2 546.3h0M153.5 529.0h0M209.6 547.4h0M182.6 539.5h0M199.8 541.4h0M121.1 531.8h0M93.0 547.2h0M194.4 539.0h0M158.7 542.9h0M183.0 534.5h0M122.7 544.0h0M202.1 544.1h0M202.9 547.1h0M151.3 537.5h0M160.1 544.8h0M153.5 547.3h0M177.3 546.1h0M124.5 545.6h0M154.0 530.0h0M159.4 547.5h0M182.2 534.1h0M95.9 542.7h0M194.1 542.7h0M168.5 545.7h0M159.4 546.3h0M182.4 535.4h0M156.8 546.3h0M165.5 545.1h0M151.4 526.2h0M150.0 530.0h0M173.2 546.2h0M172.7 547.1h0M196.1 538.4h0M94.6 547.5h0M174.7 543.0h0M95.9 544.5h0M195.7 546.4h0" fill="none" stroke="#4a0615" stroke-width="2.80" stroke-linecap="round" stroke-opacity="0.2"/>
<path d="M176.7 538.1h0M177.8 546.8h0M205.3 546.2h0M106.2 545.8h0M147.5 529.1h0M182.3 536.5h0M166.3 547.5h0M171.6 533.0h0M94.4 543.4h0M159.4 531.1h0M179.6 545.1h0M180.2 539.9h0M113.1 535.2h0M97.5 547.4h0M171.8 545.5h0M186.4 540.6h0M183.5 541.4h0M110.3 547.5h0M205.0 546.8h0M152.8 537.4h0M182.4 541.3h0M114.2 539.5h0M185.9 535.4h0M168.3 544.3h0M111.8 547.5h0M197.2 547.5h0M181.4 536.7h0M159.0 541.7h0M175.8 547.5h0M190.5 547.4h0M155.1 546.5h0M177.5 542.0h0M96.7 543.5h0M94.3 545.7h0M197.0 546.4h0M165.1 547.2h0M207.3 546.4h0M209.0 544.1h0M151.9 536.4h0M94.2 546.8h0M115.4 539.8h0M160.9 547.5h0M161.5 547.6h0M195.6 547.4h0M188.9 542.3h0M104.3 536.3h0M175.0 544.9h0M120.9 533.6h0M192.4 546.6h0M176.0 537.8h0M201.1 546.1h0M172.2 545.6h0M192.3 547.5h0M184.3 534.8h0M173.4 529.7h0M209.6 547.5h0M196.2 545.9h0M159.9 529.8h0M119.9 540.5h0M200.5 544.0h0M192.4 547.3h0M146.8 545.7h0M180.6 540.5h0M103.8 546.5h0M164.5 544.0h0M198.5 546.9h0M182.6 540.8h0M192.1 540.2h0M178.0 544.5h0M100.9 546.5h0M116.7 546.9h0M196.9 546.5h0M194.4 547.4h0M188.2 546.8h0M205.1 545.8h0M160.9 531.5h0M192.1 547.5h0M148.5 547.2h0M97.1 541.1h0M188.3 545.9h0M107.0 541.3h0M185.6 547.2h0M161.4 544.3h0M153.8 543.7h0M173.2 536.5h0M152.4 547.5h0M156.9 546.9h0M182.4 542.7h0M163.6 542.8h0M92.3 544.5h0M195.6 545.6h0M170.3 538.0h0M208.0 544.7h0M152.6 535.9h0M156.7 545.8h0M159.6 547.2h0M108.9 546.6h0M182.9 541.5h0M173.0 543.0h0M122.5 547.5h0M96.8 542.7h0M148.0 531.6h0M122.9 539.7h0M159.1 542.6h0M191.9 543.5h0M203.9 545.4h0M154.9 523.3h0M202.8 546.9h0M98.5 547.5h0M91.5 547.5h0M202.0 546.2h0M167.8 547.0h0M98.1 543.7h0M185.1 544.4h0M148.1 543.7h0M168.9 531.5h0M195.0 547.3h0M202.7 547.2h0M171.7 547.4h0M111.6 546.8h0M178.6 546.1h0M188.0 542.4h0M118.9 537.3h0M148.6 528.1h0M156.3 543.6h0M195.2 547.2h0M194.0 546.7h0M177.3 540.8h0M153.9 528.5h0M148.7 531.4h0M205.6 547.1h0M196.7 538.4h0M178.9 542.3h0M107.7 545.7h0M148.4 541.9h0M175.5 544.6h0M168.2 539.2h0M161.2 540.2h0M159.9 532.2h0M161.0 545.9h0M185.3 547.5h0M114.1 538.6h0M192.0 547.1h0M160.5 544.1h0M185.0 547.5h0M190.3 541.3h0M187.3 547.3h0M115.2 545.7h0M171.6 547.5h0M196.8 545.8h0M195.9 544.0h0M149.1 528.9h0M151.5 524.9h0M126.7 538.0h0M159.4 546.9h0M168.5 546.9h0M125.8 545.2h0M117.3 547.2h0M164.2 541.9h0M166.0 547.5h0M202.3 543.5h0M148.7 547.4h0M118.1 543.2h0M208.4 545.0h0M192.4 544.8h0M182.4 535.7h0M155.7 542.1h0M198.8 545.5h0M98.1 547.0h0M160.8 546.4h0M93.6 547.6h0M181.9 546.6h0M147.1 543.3h0M191.2 546.3h0M153.5 529.0h0M209.6 547.4h0M182.6 539.5h0M199.8 541.4h0M121.1 531.8h0M93.0 547.2h0M194.4 539.0h0M158.7 542.9h0M183.0 534.5h0M122.7 544.0h0M202.1 544.1h0M202.9 547.1h0M151.3 537.5h0M160.1 544.8h0M153.5 547.3h0M177.3 546.1h0M124.5 545.6h0M154.0 530.0h0M159.4 547.5h0M182.2 534.1h0M95.9 542.7h0M194.1 542.7h0M168.5 545.7h0M159.4 546.3h0M182.4 535.4h0M156.8 546.3h0M165.5 545.1h0M151.4 526.2h0M150.0 530.0h0M173.2 546.2h0M172.7 547.1h0M196.1 538.4h0M94.6 547.5h0M174.7 543.0h0M95.9 544.5h0M195.7 546.4h0" fill="none" stroke="#de5772" stroke-width="2.50" stroke-linecap="round"/>
<path d="M174.1 548.3h0M146.7 550.4h0M148.1 548.1h0M149.2 548.4h0M147.0 550.2h0M150.0 550.0h0M148.8 552.1h0M183.5 549.5h0M174.2 550.7h0M159.1 548.5h0M169.1 550.6h0M178.1 550.7h0M202.3 551.1h0M181.5 548.3h0M189.6 549.6h0M146.5 548.1h0M169.3 552.1h0M211.2 551.1h0M210.9 550.2h0M147.3 551.1h0M173.1 551.7h0M208.8 551.3h0M146.1 550.1h0M177.4 551.8h0M199.4 551.4h0M175.8 549.3h0M150.9 550.4h0M166.1 551.2h0M176.7 549.6h0M207.9 550.7h0M173.1 549.0h0M157.3 549.3h0M154.0 551.9h0M207.7 550.9h0M150.4 548.6h0M186.9 549.3h0M146.7 551.8h0M156.9 551.3h0M147.0 551.0h0M151.8 550.9h0M177.1 551.1h0M146.0 549.1h0M184.4 551.7h0M186.5 549.7h0M190.0 550.9h0M199.5 548.9h0M172.4 552.1h0M176.9 549.1h0M193.8 549.1h0M168.3 549.3h0M200.6 550.7h0M189.4 548.8h0M201.5 550.5h0M185.1 549.4h0M188.0 550.9h0M169.5 551.8h0M152.6 548.4h0M148.4 549.1h0M146.4 550.8h0M154.4 549.6h0M149.6 552.1h0M183.9 549.3h0M164.1 549.0h0M186.3 549.6h0M203.0 550.0h0M151.7 548.7h0M150.9 551.1h0M156.3 550.4h0M200.3 551.4h0M196.5 548.9h0M206.2 552.3h0M173.8 551.9h0M201.2 548.0h0M190.3 550.8h0M150.6 548.0h0M196.3 550.2h0M174.0 549.4h0M193.8 548.3h0M174.6 550.1h0M159.0 548.4h0M160.6 549.8h0M190.9 551.0h0M206.2 551.3h0M147.6 549.1h0M155.4 548.1h0M164.7 549.7h0M146.7 549.5h0M164.3 549.9h0M197.1 552.4h0M176.0 552.3h0M154.7 548.5h0M198.9 550.5h0M200.9 551.3h0M158.6 551.2h0M198.8 550.9h0M201.8 552.2h0M170.6 549.4h0M181.0 548.8h0M195.1 551.6h0M202.9 551.4h0M185.4 549.3h0M164.2 551.0h0M165.1 552.1h0M152.1 551.2h0M173.4 549.8h0M196.2 549.2h0M166.2 552.3h0M155.7 551.4h0M146.5 549.5h0M196.3 549.5h0M170.8 552.0h0M186.1 551.8h0M199.4 548.8h0M146.6 549.0h0M162.1 550.9h0M148.4 552.3h0M178.7 552.0h0M145.8 549.6h0M163.4 549.3h0M147.3 548.0h0M149.4 550.5h0M146.6 549.2h0M180.5 548.5h0M195.0 552.2h0M200.2 548.9h0M193.5 551.8h0M203.3 552.3h0M195.1 550.7h0M157.9 548.2h0M184.9 549.3h0M147.7 550.4h0M173.9 550.0h0M148.6 548.0h0M190.5 551.2h0M150.6 551.0h0M193.2 551.8h0M173.2 551.8h0M166.4 551.3h0M157.1 548.0h0M148.7 552.2h0M149.9 551.1h0M146.4 552.2h0M175.0 549.4h0M153.1 548.7h0M208.4 550.0h0M181.7 552.1h0M205.2 548.8h0M165.4 552.4h0M181.4 551.5h0M176.8 550.3h0M175.3 550.6h0M151.5 551.3h0M148.6 549.1h0M184.8 549.6h0M165.6 552.3h0M188.8 548.6h0M209.8 551.2h0M206.9 551.0h0M151.9 549.9h0M189.5 550.7h0M150.5 551.9h0M196.5 548.0h0M207.8 548.2h0M171.2 549.3h0M170.0 550.1h0M152.6 551.9h0M194.0 549.0h0M181.5 548.4h0M155.4 548.7h0M169.9 550.2h0M194.9 549.4h0M192.8 551.6h0M186.1 549.5h0M210.2 549.2h0M184.3 549.9h0M165.3 552.0h0M165.9 551.2h0M178.5 548.3h0M195.0 550.5h0M154.0 550.4h0M182.0 552.1h0M178.8 549.1h0M179.4 552.3h0M157.5 550.0h0M158.2 551.8h0M166.9 550.4h0M171.1 550.5h0M185.0 551.8h0M192.4 548.8h0M170.3 550.9h0M202.5 550.9h0M163.7 552.0h0M170.4 548.0h0M180.8 551.8h0M147.6 552.3h0M204.7 549.7h0M189.5 551.8h0M147.6 548.6h0M179.2 550.6h0M171.4 549.0h0M150.3 550.1h0M200.0 548.8h0M157.8 548.4h0M164.4 551.5h0M171.5 552.0h0M152.0 550.0h0M166.7 550.1h0M153.8 551.9h0M162.6 548.7h0M166.7 548.3h0M174.4 552.1h0M174.1 548.2h0M190.7 549.8h0M160.5 549.7h0M181.2 548.8h0M152.0 551.3h0M175.0 548.5h0M188.7 549.9h0M175.0 549.2h0M196.5 549.9h0M193.7 551.9h0M210.9 549.1h0M172.6 548.1h0M196.9 550.5h0M188.8 549.7h0M164.2 549.8h0M164.4 549.5h0M203.1 549.0h0M180.9 550.8h0M173.1 549.0h0M157.4 552.3h0M178.5 548.8h0M181.8 548.4h0M204.7 549.7h0M171.3 552.4h0M196.6 549.0h0M174.1 549.6h0M156.8 548.1h0M147.4 550.2h0M182.4 548.9h0M205.3 550.8h0M192.4 548.0h0M161.0 550.5h0M181.6 552.1h0M191.4 549.7h0M177.1 552.3h0M183.4 548.9h0M170.0 548.5h0M173.4 549.9h0M173.8 549.9h0M200.4 551.1h0M182.3 551.2h0M208.8 549.8h0M194.2 548.0h0M207.9 550.7h0M192.0 552.3h0M171.6 551.3h0M179.3 552.1h0M195.0 550.5h0M192.7 548.9h0M184.4 551.7h0M155.8 550.4h0M195.9 549.1h0M210.2 549.2h0M204.8 552.0h0M188.1 550.5h0M166.3 548.6h0M182.2 552.0h0M170.4 550.0h0M182.8 550.8h0M199.2 548.5h0M151.3 551.5h0M206.4 550.7h0M197.4 550.1h0M149.4 551.2h0M178.5 549.5h0M145.7 549.1h0M148.3 550.9h0M184.5 550.5h0M188.2 551.5h0M180.7 548.7h0M200.3 551.4h0M180.7 550.0h0M158.5 551.3h0M150.9 549.3h0M178.9 551.4h0M171.0 549.9h0M166.3 548.7h0M170.4 549.3h0M153.4 548.8h0M157.8 552.4h0M186.6 550.9h0M205.3 551.0h0M196.8 548.4h0M170.4 552.0h0M177.2 550.8h0M174.9 550.9h0M172.1 549.8h0M173.1 549.7h0M200.2 552.3h0M166.0 552.1h0M174.8 548.6h0M188.7 551.7h0M157.7 548.3h0M148.1 548.1h0M155.6 549.6h0M177.2 551.7h0M182.8 549.5h0M204.1 551.7h0M146.1 551.0h0M160.4 548.3h0M179.8 550.2h0M196.7 552.4h0M172.2 548.4h0M193.5 548.7h0M159.5 548.1h0M170.2 549.5h0M171.6 548.5h0M185.5 548.5h0M195.8 550.7h0M155.2 550.6h0M208.5 551.6h0M150.6 551.1h0M157.6 548.2h0M149.0 552.1h0M165.5 551.2h0M194.6 548.9h0M156.3 549.5h0M191.2 548.9h0M149.3 549.2h0M157.8 550.4h0M187.1 552.0h0M147.0 551.8h0M195.1 551.7h0M185.3 549.8h0M178.0 551.8h0M151.0 550.8h0M183.1 550.5h0M188.3 547.9h0M181.0 551.8h0M147.9 548.2h0M186.2 551.9h0M193.9 551.2h0M166.0 551.0h0M85.9 549.6h0M116.1 550.4h0M119.5 548.5h0M96.4 551.3h0M120.2 550.9h0M100.0 549.3h0M101.7 550.1h0M96.1 550.3h0M120.7 550.7h0M120.8 550.0h0M127.2 549.5h0M78.3 551.6h0M123.5 552.3h0M124.5 550.6h0M116.6 548.0h0M123.1 548.7h0M101.4 552.0h0M116.3 551.5h0M78.7 551.9h0M102.2 551.0h0M116.7 552.3h0M112.7 548.9h0M99.6 552.3h0M113.8 548.2h0M99.4 550.2h0M111.4 549.3h0M115.7 549.0h0M114.4 549.2h0M113.2 551.9h0M116.5 549.9h0M110.8 550.4h0M93.2 550.6h0M74.6 550.4h0M83.7 551.0h0M111.7 548.4h0M97.5 552.3h0M82.3 550.3h0M89.6 551.7h0M95.9 549.2h0M92.1 550.6h0M116.4 549.1h0M86.8 548.6h0M78.9 551.9h0M103.8 551.6h0M94.0 551.9h0M76.1 551.2h0M120.6 549.4h0M99.4 549.0h0M114.8 549.4h0M105.6 551.1h0M100.7 548.6h0M108.4 551.7h0M87.7 550.5h0M108.4 552.3h0M118.9 548.9h0M125.3 550.6h0M122.3 549.5h0M117.7 552.1h0M108.6 551.4h0M107.2 549.8h0M86.0 548.2h0M115.1 548.8h0M124.1 552.4h0M89.9 551.1h0M117.7 548.9h0M102.6 550.9h0M117.2 551.8h0M119.3 550.5h0M84.1 550.6h0M105.3 550.3h0M125.5 550.4h0M111.4 550.2h0M91.8 549.5h0M106.5 549.1h0M115.6 551.6h0M92.0 551.3h0M108.1 552.2h0M75.0 551.6h0M76.2 549.9h0M76.2 550.4h0M73.9 549.9h0M73.5 550.6h0M115.7 549.3h0M102.1 548.4h0M121.1 550.5h0M123.7 551.8h0M90.7 552.3h0M98.1 548.4h0M122.7 550.6h0M96.8 551.4h0M113.4 548.8h0M119.4 552.2h0M96.3 548.3h0M83.1 549.8h0M85.9 551.8h0M86.3 550.6h0M122.5 549.9h0M114.4 551.1h0M125.3 550.9h0M120.7 548.5h0M120.2 548.7h0M76.4 551.8h0M104.0 550.4h0M97.6 549.4h0M109.7 549.9h0M122.5 551.2h0M121.2 550.1h0M77.8 551.1h0M75.7 550.4h0M90.8 549.4h0M77.9 552.1h0M95.0 550.2h0M86.5 551.5h0M88.5 550.3h0M86.1 552.4h0M92.8 552.2h0M91.8 551.5h0M73.7 549.9h0M84.4 548.3h0M115.8 551.6h0M114.9 550.6h0M86.6 548.8h0M124.9 549.1h0M97.2 548.3h0M78.9 550.4h0M118.9 550.1h0M93.6 551.9h0M75.7 549.4h0M100.3 552.2h0M112.3 550.1h0M124.2 552.1h0M86.4 551.4h0M116.1 550.0h0M85.9 548.8h0M124.1 550.4h0M102.7 551.2h0M123.5 552.0h0M99.0 548.3h0M126.5 550.0h0M76.9 550.8h0M118.8 549.6h0M100.9 549.2h0M108.6 548.1h0M111.7 552.0h0M97.7 551.6h0M119.5 548.9h0M75.9 551.7h0M99.7 549.3h0M93.7 550.7h0M83.0 550.3h0M112.1 551.5h0M88.2 548.2h0M91.9 548.4h0M78.3 551.3h0M123.3 548.1h0M110.0 549.2h0M126.8 550.4h0M126.4 549.0h0M93.8 549.2h0M114.4 549.3h0M90.4 550.9h0M78.4 550.9h0M114.6 549.5h0M125.0 550.0h0M96.8 549.5h0M81.8 550.2h0M126.3 550.8h0M93.8 549.8h0M127.3 548.4h0M76.4 550.0h0M103.5 548.3h0M98.7 549.1h0M115.4 550.1h0M124.9 551.3h0M91.3 551.3h0M126.2 552.2h0M95.1 552.3h0M91.7 551.1h0M125.6 549.7h0M122.7 549.9h0M126.1 551.8h0M79.4 552.1h0M124.3 550.1h0M96.0 551.3h0M96.8 548.7h0M106.0 551.0h0M104.6 550.7h0M88.7 551.7h0M102.6 551.1h0M93.2 549.7h0M110.2 550.8h0M126.0 548.5h0M127.2 548.3h0M99.9 548.1h0M99.7 551.5h0M117.9 552.3h0M127.2 548.4h0M111.1 550.7h0M95.9 549.7h0M95.3 552.3h0M121.1 552.0h0M124.4 551.0h0M123.5 548.5h0M95.2 551.8h0M89.1 551.3h0M122.5 548.5h0M106.8 550.2h0M76.7 548.9h0M102.7 549.9h0M126.1 551.1h0" fill="none" stroke="#2bc62e" stroke-width="2.30" stroke-linecap="round"/>
<g fill="#d43a5c" stroke="#5a0818" stroke-width="0.35">
<circle cx="200.1" cy="495.5" r="1.3"/>
<circle cx="217.6" cy="509.4" r="1.3"/>
<circle cx="97.1" cy="487.2" r="1.3"/>
<circle cx="87.1" cy="506.7" r="1.3"/>
<circle cx="84.3" cy="510.5" r="1.3"/>
<circle cx="70.3" cy="520.0" r="1.3"/>
<circle cx="69.1" cy="539.2" r="1.3"/>
<circle cx="75.5" cy="549.1" r="1.3"/>
<circle cx="110.9" cy="521.4" r="1.3"/>
<circle cx="113.0" cy="518.8" r="1.3"/>
<circle cx="211.0" cy="459.5" r="1.3"/>
<circle cx="183.0" cy="499.0" r="1.3"/>
<circle cx="187.0" cy="502.0" r="1.3"/>
<circle cx="176.0" cy="505.0" r="1.3"/>
<circle cx="181.0" cy="511.0" r="1.3"/>
<circle cx="192.0" cy="514.0" r="1.3"/>
<circle cx="173.0" cy="515.0" r="1.3"/>
<circle cx="190.0" cy="519.0" r="1.3"/>
<circle cx="210.0" cy="527.0" r="1.3"/>
<circle cx="215.0" cy="533.0" r="1.3"/>
<circle cx="222.0" cy="537.0" r="1.3"/>
<circle cx="229.0" cy="541.0" r="1.3"/>
<circle cx="206.0" cy="540.0" r="1.3"/>
<circle cx="170.0" cy="521.0" r="1.3"/>
<circle cx="165.0" cy="518.0" r="1.3"/>
<circle cx="191.4" cy="537.9" r="1.3"/>
<circle cx="200.3" cy="531.7" r="1.3"/>
<circle cx="156.6" cy="545.8" r="1.3"/>
<circle cx="159.0" cy="540.3" r="1.3"/>
<circle cx="159.4" cy="545.8" r="1.3"/>
<circle cx="150.1" cy="525.8" r="1.3"/>
<circle cx="152.1" cy="515.7" r="1.3"/>
<circle cx="156.7" cy="541.3" r="1.3"/>
<circle cx="199.1" cy="544.4" r="1.3"/>
<circle cx="214.0" cy="539.2" r="1.3"/>
<circle cx="170.9" cy="543.7" r="1.3"/>
<circle cx="187.0" cy="537.3" r="1.3"/>
<circle cx="211.6" cy="544.3" r="1.3"/>
<circle cx="146.3" cy="534.5" r="1.3"/>
<circle cx="207.5" cy="543.1" r="1.3"/>
<circle cx="162.1" cy="519.3" r="1.3"/>
<circle cx="192.6" cy="534.8" r="1.3"/>
<circle cx="152.7" cy="532.5" r="1.3"/>
<circle cx="176.3" cy="543.8" r="1.3"/>
<circle cx="150.3" cy="521.9" r="1.3"/>
<circle cx="161.2" cy="516.7" r="1.3"/>
<circle cx="166.3" cy="520.0" r="1.3"/>
<circle cx="155.1" cy="540.8" r="1.3"/>
<circle cx="191.2" cy="537.8" r="1.3"/>
<circle cx="148.9" cy="528.2" r="1.3"/>
<circle cx="193.0" cy="537.9" r="1.3"/>
<circle cx="176.2" cy="538.8" r="1.3"/>
<circle cx="160.8" cy="533.3" r="1.3"/>
<circle cx="158.1" cy="541.8" r="1.3"/>
<circle cx="173.2" cy="529.9" r="1.3"/>
<circle cx="150.3" cy="539.5" r="1.3"/>
<circle cx="218.4" cy="542.6" r="1.3"/>
<circle cx="145.8" cy="539.1" r="1.3"/>
<circle cx="196.0" cy="536.2" r="1.3"/>
<circle cx="182.9" cy="534.4" r="1.3"/>
<circle cx="204.9" cy="537.0" r="1.3"/>
<circle cx="176.4" cy="537.4" r="1.3"/>
<circle cx="201.9" cy="531.4" r="1.3"/>
<circle cx="157.8" cy="520.6" r="1.3"/>
<circle cx="183.3" cy="542.6" r="1.3"/>
<circle cx="191.2" cy="541.3" r="1.3"/>
<circle cx="188.9" cy="526.9" r="1.3"/>
<circle cx="162.2" cy="539.6" r="1.3"/>
<circle cx="196.3" cy="533.1" r="1.3"/>
<circle cx="181.7" cy="526.8" r="1.3"/>
<circle cx="159.5" cy="516.4" r="1.3"/>
<circle cx="180.0" cy="530.6" r="1.3"/>
<circle cx="187.4" cy="530.3" r="1.3"/>
<circle cx="196.6" cy="529.2" r="1.3"/>
<circle cx="184.5" cy="532.6" r="1.3"/>
<circle cx="174.6" cy="517.3" r="1.3"/>
<circle cx="157.0" cy="537.6" r="1.3"/>
<circle cx="156.2" cy="541.0" r="1.3"/>
<circle cx="147.9" cy="523.1" r="1.3"/>
<circle cx="160.8" cy="518.9" r="1.3"/>
<circle cx="184.8" cy="532.4" r="1.3"/>
<circle cx="162.1" cy="543.9" r="1.3"/>
<circle cx="164.0" cy="522.8" r="1.3"/>
<circle cx="148.8" cy="531.0" r="1.3"/>
<circle cx="209.0" cy="543.7" r="1.3"/>
<circle cx="177.1" cy="531.3" r="1.3"/>
<circle cx="177.8" cy="526.4" r="1.3"/>
<circle cx="187.4" cy="543.2" r="1.3"/>
<circle cx="179.9" cy="545.7" r="1.3"/>
<circle cx="196.8" cy="532.3" r="1.3"/>
<circle cx="153.5" cy="535.8" r="1.3"/>
<circle cx="177.1" cy="533.5" r="1.3"/>
<circle cx="158.9" cy="538.3" r="1.3"/>
<circle cx="151.6" cy="526.9" r="1.3"/>
<circle cx="210.4" cy="546.7" r="1.3"/>
<circle cx="160.1" cy="513.9" r="1.3"/>
<circle cx="176.9" cy="517.7" r="1.3"/>
<circle cx="202.0" cy="538.3" r="1.3"/>
<circle cx="158.0" cy="532.7" r="1.3"/>
<circle cx="155.2" cy="532.8" r="1.3"/>
<circle cx="205.8" cy="538.9" r="1.3"/>
<circle cx="160.0" cy="520.1" r="1.3"/>
<circle cx="153.9" cy="534.7" r="1.3"/>
<circle cx="205.2" cy="539.6" r="1.3"/>
<circle cx="168.8" cy="524.7" r="1.3"/>
<circle cx="152.0" cy="528.8" r="1.3"/>
<circle cx="154.8" cy="521.6" r="1.3"/>
<circle cx="201.5" cy="544.2" r="1.3"/>
<circle cx="191.9" cy="541.0" r="1.3"/>
<circle cx="159.5" cy="524.1" r="1.3"/>
<circle cx="177.1" cy="538.6" r="1.3"/>
<circle cx="167.1" cy="514.4" r="1.3"/>
<circle cx="185.6" cy="532.3" r="1.3"/>
<circle cx="171.8" cy="541.0" r="1.3"/>
<circle cx="200.4" cy="539.4" r="1.3"/>
<circle cx="216.9" cy="541.5" r="1.3"/>
<circle cx="189.8" cy="545.5" r="1.3"/>
<circle cx="175.5" cy="529.3" r="1.3"/>
<circle cx="172.8" cy="527.4" r="1.3"/>
<circle cx="195.6" cy="542.6" r="1.3"/>
<circle cx="156.7" cy="538.3" r="1.3"/>
<circle cx="181.7" cy="546.8" r="1.3"/>
<circle cx="171.0" cy="525.9" r="1.3"/>
<circle cx="157.9" cy="518.1" r="1.3"/>
<circle cx="190.3" cy="543.0" r="1.3"/>
<circle cx="106.7" cy="537.7" r="1.3"/>
<circle cx="109.7" cy="539.3" r="1.3"/>
<circle cx="111.0" cy="533.2" r="1.3"/>
<circle cx="118.6" cy="546.1" r="1.3"/>
<circle cx="98.7" cy="530.8" r="1.3"/>
<circle cx="118.3" cy="525.4" r="1.3"/>
<circle cx="110.2" cy="530.0" r="1.3"/>
<circle cx="85.0" cy="541.5" r="1.3"/>
<circle cx="124.7" cy="542.8" r="1.3"/>
<circle cx="117.0" cy="534.3" r="1.3"/>
<circle cx="102.9" cy="546.1" r="1.3"/>
<circle cx="116.9" cy="529.9" r="1.3"/>
<circle cx="101.7" cy="531.0" r="1.3"/>
<circle cx="85.8" cy="539.9" r="1.3"/>
<circle cx="94.3" cy="536.5" r="1.3"/>
<circle cx="116.0" cy="536.5" r="1.3"/>
<circle cx="119.4" cy="538.2" r="1.3"/>
<circle cx="115.7" cy="537.4" r="1.3"/>
<circle cx="122.1" cy="540.3" r="1.3"/>
<circle cx="117.1" cy="520.1" r="1.3"/>
<circle cx="126.7" cy="533.4" r="1.3"/>
<circle cx="124.2" cy="532.5" r="1.3"/>
<circle cx="95.0" cy="545.0" r="1.3"/>
<circle cx="119.8" cy="522.1" r="1.3"/>
<circle cx="107.1" cy="528.4" r="1.3"/>
<circle cx="110.1" cy="532.0" r="1.3"/>
<circle cx="124.3" cy="523.2" r="1.3"/>
<circle cx="123.9" cy="524.5" r="1.3"/>
<circle cx="114.4" cy="539.0" r="1.3"/>
<circle cx="114.8" cy="520.5" r="1.3"/>
<circle cx="125.4" cy="533.6" r="1.3"/>
<circle cx="114.1" cy="544.8" r="1.3"/>
<circle cx="110.9" cy="527.4" r="1.3"/>
<circle cx="121.2" cy="525.6" r="1.3"/>
<circle cx="107.2" cy="541.8" r="1.3"/>
<circle cx="122.7" cy="539.4" r="1.3"/>
<circle cx="115.1" cy="535.9" r="1.3"/>
<circle cx="98.2" cy="541.1" r="1.3"/>
<circle cx="93.4" cy="539.5" r="1.3"/>
<circle cx="117.8" cy="536.0" r="1.3"/>
</g>
<g font-size="4.3" fill="#2a2a2a">
<text x="148.6" y="545.4">EPSTI1</text>
<text x="162.8" y="545.1">IFI44L</text>
<text x="181.3" y="534.9">CD38</text>
<text x="195.1" y="539.8">KRT17</text>
<text x="147.7" y="548.7">IGKC</text>
<text x="147.1" y="535.7">IDO1</text>
<text x="195.5" y="526.7">CD74</text>
<text x="172.0" y="547.2">LCN2</text>
<text x="149.9" y="525.9">IFI44L</text>
<text x="168.9" y="525.7">MMP12</text>
<text x="163.6" y="537.7">S100A8</text>
<text x="185.2" y="532.5">IFI44L</text>
<text x="146.6" y="548.7">DEFB4A</text>
<text x="190.4" y="536.5">CIITA</text>
<text x="162.2" y="540.2">MX1</text>
<text x="183.3" y="541.8">CD27</text>
<text x="193.8" y="525.7">DEFB4A</text>
<text x="154.7" y="531.4">SELL</text>
<text x="149.5" y="544.8">SAMD9L</text>
<text x="160.6" y="529.6">CCL5</text>
<text x="102.4" y="537.4">STAT1</text>
<text x="105.1" y="542.1">PI3</text>
<text x="109.8" y="539.8">CD2</text>
<text x="118.5" y="548.6">SELL</text>
<text x="120.8" y="548.8">IDO1</text>
</g>
</g>
<text x="211.50" y="463.00" font-size="4.3" text-anchor="start" fill="#222" font-weight="normal" >HBB</text>
<text x="97.40" y="491.10" font-size="4.3" text-anchor="start" fill="#222" font-weight="normal" >CDH4</text>
<text x="88.10" y="510.70" font-size="4.3" text-anchor="start" fill="#222" font-weight="normal" >CACNA1H</text>
<text x="84.60" y="514.20" font-size="4.3" text-anchor="start" fill="#222" font-weight="normal" >AGR3</text>
<text x="70.80" y="524.00" font-size="4.3" text-anchor="start" fill="#222" font-weight="normal" >SERTM1</text>
<text x="69.80" y="542.70" font-size="4.3" text-anchor="start" fill="#222" font-weight="normal" >SIM2</text>
<text x="77.20" y="549.60" font-size="4.3" text-anchor="start" fill="#222" font-weight="normal" >DLK1</text>
<text x="114.00" y="522.00" font-size="4.3" text-anchor="start" fill="#222" font-weight="normal" >ADRB3</text>
<text x="100.60" y="531.80" font-size="4.3" text-anchor="start" fill="#222" font-weight="normal" >LINC00511</text>
<text x="84.10" y="536.10" font-size="4.3" text-anchor="start" fill="#222" font-weight="normal" >RSAD2</text>
<text x="100.00" y="536.10" font-size="4.3" text-anchor="start" fill="#222" font-weight="normal" >LINC00</text>
<text x="218.00" y="513.40" font-size="4.3" text-anchor="start" fill="#222" font-weight="normal" >IGFL1</text>
<text x="192.00" y="516.30" font-size="4.3" text-anchor="start" fill="#222" font-weight="normal" >FCGR1A</text>
<text x="175.20" y="517.70" font-size="4.3" text-anchor="start" fill="#222" font-weight="normal" >STRA6</text>
<text x="190.80" y="522.40" font-size="4.3" text-anchor="start" fill="#222" font-weight="normal" >TREM2</text>
<text x="172.00" y="523.20" font-size="4.3" text-anchor="start" fill="#222" font-weight="normal" >CCL8</text>
<text x="153.00" y="522.00" font-size="4.3" text-anchor="start" fill="#222" font-weight="normal" >WDR63</text>
<text x="182.50" y="527.20" font-size="4.3" text-anchor="start" fill="#222" font-weight="normal" >CIDEA</text>
<text x="198.40" y="527.70" font-size="4.3" text-anchor="start" fill="#222" font-weight="normal" >SCNN1A</text>
<text x="194.60" y="531.50" font-size="4.3" text-anchor="start" fill="#222" font-weight="normal" >KRT16</text>
<text x="204.10" y="545.40" font-size="4.3" text-anchor="start" fill="#222" font-weight="normal" >IGLC</text>
<text x="212.00" y="551.50" font-size="4.3" text-anchor="start" fill="#222" font-weight="normal" >KRTAP9-7</text>
<text x="172.50" y="504.70" font-size="4.3" text-anchor="start" fill="#222" font-weight="normal" >FCGR2</text>
<text x="182.50" y="501.20" font-size="4.3" text-anchor="start" fill="#222" font-weight="normal" >NPNT</text>
<text x="150.00" y="552.00" font-size="4.3" text-anchor="start" fill="#222" font-weight="normal" >ATF1</text>
<text x="162.00" y="552.00" font-size="4.3" text-anchor="start" fill="#222" font-weight="normal" >REN</text>
<text x="176.00" y="552.00" font-size="4.3" text-anchor="start" fill="#222" font-weight="normal" >MTS</text>
<rect x="197.7" y="495.5" width="17.3" height="5.7" rx="1.6" fill="#fff" stroke="#222" stroke-width="0.55"/>
<text x="206.35" y="499.85" font-size="4.3" text-anchor="middle" fill="#222" font-weight="normal" textLength="14.3" lengthAdjust="spacingAndGlyphs" >CXCL9</text>
<rect x="187.7" y="502.5" width="13.8" height="5.7" rx="1.6" fill="#fff" stroke="#222" stroke-width="0.55"/>
<text x="194.60" y="506.85" font-size="4.3" text-anchor="middle" fill="#222" font-weight="normal" textLength="10.8" lengthAdjust="spacingAndGlyphs" >IFI27</text>
<rect x="173.5" y="507.3" width="15.6" height="5.5" rx="1.6" fill="#fff" stroke="#222" stroke-width="0.55"/>
<text x="181.30" y="511.55" font-size="4.3" text-anchor="middle" fill="#222" font-weight="normal" textLength="12.6" lengthAdjust="spacingAndGlyphs" >GZMH</text>
<rect x="209.8" y="528.9" width="15.6" height="5.2" rx="1.6" fill="#fff" stroke="#222" stroke-width="0.55"/>
<text x="217.60" y="533.00" font-size="4.3" text-anchor="middle" fill="#222" font-weight="normal" textLength="12.6" lengthAdjust="spacingAndGlyphs" >KRT6C</text>
<rect x="208.4" y="536.7" width="15.3" height="5.2" rx="1.6" fill="#fff" stroke="#222" stroke-width="0.55"/>
<text x="216.05" y="540.80" font-size="4.3" text-anchor="middle" fill="#222" font-weight="normal" textLength="12.3" lengthAdjust="spacingAndGlyphs" >IGHG1</text>
<rect x="224.4" y="539.3" width="16" height="5.2" rx="1.6" fill="#fff" stroke="#222" stroke-width="0.55"/>
<text x="232.40" y="543.40" font-size="4.3" text-anchor="middle" fill="#222" font-weight="normal" textLength="13" lengthAdjust="spacingAndGlyphs" >IGHG4</text>
<rect x="164.8" y="530.1" width="14.6" height="5.7" rx="1.6" fill="#fff" stroke="#222" stroke-width="0.55"/>
<text x="172.10" y="534.45" font-size="4.3" text-anchor="middle" fill="#222" font-weight="normal" textLength="11.6" lengthAdjust="spacingAndGlyphs" >CCL18</text>
<rect x="98.8" y="539.9" width="10.4" height="5.2" rx="1.6" fill="#fff" stroke="#222" stroke-width="0.55"/>
<text x="104.00" y="544.00" font-size="4.3" text-anchor="middle" fill="#222" font-weight="normal" textLength="7.4" lengthAdjust="spacingAndGlyphs" >IGHGP</text>
<line x1="127.35" y1="435.5" x2="127.35" y2="558" stroke="#1a1a1a" stroke-width="0.85" stroke-dasharray="2.4,1.5"/>
<line x1="145.65" y1="435.5" x2="145.65" y2="558" stroke="#1a1a1a" stroke-width="0.85" stroke-dasharray="2.4,1.5"/>
<line x1="34.95" y1="547.74" x2="256.2" y2="547.74" stroke="#1a1a1a" stroke-width="0.85" stroke-dasharray="2.4,1.5"/>
<path d="M34.95,435.5 V558 H256.2" fill="none" stroke="#1e1e1e" stroke-width="1.45"/>
<line x1="31.750000000000004" y1="552.60" x2="34.95" y2="552.60" stroke="#1e1e1e" stroke-width="1"/>
<text x="28.85" y="555.45" font-size="7.9" text-anchor="end" fill="#333" font-weight="normal" >0</text>
<line x1="31.750000000000004" y1="515.20" x2="34.95" y2="515.20" stroke="#1e1e1e" stroke-width="1"/>
<text x="28.85" y="518.05" font-size="7.9" text-anchor="end" fill="#333" font-weight="normal" >10</text>
<line x1="31.750000000000004" y1="477.80" x2="34.95" y2="477.80" stroke="#1e1e1e" stroke-width="1"/>
<text x="28.85" y="480.65" font-size="7.9" text-anchor="end" fill="#333" font-weight="normal" >20</text>
<line x1="31.750000000000004" y1="440.40" x2="34.95" y2="440.40" stroke="#1e1e1e" stroke-width="1"/>
<text x="28.85" y="443.25" font-size="7.9" text-anchor="end" fill="#333" font-weight="normal" >30</text>
<line x1="45.00" y1="558" x2="45.00" y2="561" stroke="#1e1e1e" stroke-width="1"/>
<text x="45.00" y="569.70" font-size="7.8" text-anchor="middle" fill="#333" font-weight="normal" >−10</text>
<line x1="90.75" y1="558" x2="90.75" y2="561" stroke="#1e1e1e" stroke-width="1"/>
<text x="90.75" y="569.70" font-size="7.8" text-anchor="middle" fill="#333" font-weight="normal" >−5</text>
<line x1="136.50" y1="558" x2="136.50" y2="561" stroke="#1e1e1e" stroke-width="1"/>
<text x="136.50" y="569.70" font-size="7.8" text-anchor="middle" fill="#333" font-weight="normal" >0</text>
<line x1="182.25" y1="558" x2="182.25" y2="561" stroke="#1e1e1e" stroke-width="1"/>
<text x="182.25" y="569.70" font-size="7.8" text-anchor="middle" fill="#333" font-weight="normal" >5</text>
<line x1="228.00" y1="558" x2="228.00" y2="561" stroke="#1e1e1e" stroke-width="1"/>
<text x="228.00" y="569.70" font-size="7.8" text-anchor="middle" fill="#333" font-weight="normal" >10</text>
<text x="112.50" y="428.00" font-size="8.7" text-anchor="start" fill="#111" font-weight="normal" textLength="66.3" lengthAdjust="spacingAndGlyphs" >Morphea vs CONT</text>
<text x="145.55" y="582.50" font-size="8.6" font-weight="bold" text-anchor="middle" fill="#1a1a1a" textLength="47.3" lengthAdjust="spacingAndGlyphs">Log<tspan font-size="5.5" dy="1.8">2</tspan><tspan dy="-1.8"> fold change</tspan></text>
<text transform="translate(13.3,496.2) rotate(-90)" font-size="8.2" font-weight="bold" text-anchor="middle" fill="#1a1a1a" textLength="54" lengthAdjust="spacingAndGlyphs">−Log<tspan font-size="5.2" dy="1.8">10</tspan><tspan dy="-1.8"> adjusted </tspan><tspan font-style="italic">P</tspan></text>
<circle cx="62.6" cy="591.6" r="1.25" fill="#4b0a6e"/>
<text x="67.00" y="594.00" font-size="7" text-anchor="start" fill="#1a1a1a" font-weight="normal" >NS</text>
<circle cx="85" cy="591.6" r="1.25" fill="#2bbb2b"/>
<text x="89.2" y="594.0" font-size="7" fill="#1a1a1a">Log<tspan font-size="4.6" dy="1.6">2</tspan><tspan dy="-1.6"> FC</tspan></text>
<circle cx="125.2" cy="591.6" r="1.25" fill="#1f4e8a"/>
<text x="129.00" y="594.00" font-size="7" text-anchor="start" fill="#1a1a1a" font-weight="normal" >p−value</text>
<circle cx="159.6" cy="591.6" r="1.25" fill="#cc1030"/>
<text x="164" y="594.0" font-size="7" fill="#1a1a1a">p−value and log<tspan font-size="4.6" dy="1.6">2</tspan><tspan dy="-1.6"> FC</tspan></text>
<g shape-rendering="crispEdges">
<rect x="306.80" y="251.20" width="8.33" height="6.63" fill="rgb(219, 150, 140)"/>
<rect x="315.08" y="251.20" width="8.33" height="6.63" fill="rgb(208, 125, 114)"/>
<rect x="323.37" y="251.20" width="8.33" height="6.63" fill="rgb(236, 200, 194)"/>
<rect x="331.65" y="251.20" width="8.33" height="6.63" fill="rgb(236, 200, 194)"/>
<rect x="339.94" y="251.20" width="8.33" height="6.63" fill="rgb(236, 200, 194)"/>
<rect x="348.22" y="251.20" width="8.33" height="6.63" fill="rgb(229, 180, 172)"/>
<rect x="356.51" y="251.20" width="8.33" height="6.63" fill="rgb(171, 54, 49)"/>
<rect x="364.79" y="251.20" width="8.33" height="6.63" fill="rgb(197, 101, 91)"/>
<rect x="373.07" y="251.20" width="8.33" height="6.63" fill="rgb(185, 77, 69)"/>
<rect x="381.36" y="251.20" width="8.33" height="6.63" fill="rgb(185, 77, 69)"/>
<rect x="389.64" y="251.20" width="8.33" height="6.63" fill="rgb(229, 180, 172)"/>
<rect x="397.93" y="251.20" width="8.33" height="6.63" fill="rgb(229, 180, 172)"/>
<rect x="406.21" y="251.20" width="8.33" height="6.63" fill="rgb(171, 54, 49)"/>
<rect x="414.49" y="251.20" width="8.33" height="6.63" fill="rgb(197, 101, 91)"/>
<rect x="422.78" y="251.20" width="8.33" height="6.63" fill="rgb(171, 54, 49)"/>
<rect x="431.06" y="251.20" width="8.33" height="6.63" fill="rgb(219, 150, 140)"/>
<rect x="439.35" y="251.20" width="8.33" height="6.63" fill="rgb(185, 77, 69)"/>
<rect x="447.63" y="251.20" width="8.33" height="6.63" fill="rgb(208, 125, 114)"/>
<rect x="455.92" y="251.20" width="8.33" height="6.63" fill="rgb(197, 101, 91)"/>
<rect x="306.80" y="257.78" width="8.33" height="6.63" fill="rgb(219, 150, 140)"/>
<rect x="315.08" y="257.78" width="8.33" height="6.63" fill="rgb(229, 180, 172)"/>
<rect x="323.37" y="257.78" width="8.33" height="6.63" fill="rgb(243, 222, 218)"/>
<rect x="331.65" y="257.78" width="8.33" height="6.63" fill="rgb(236, 200, 194)"/>
<rect x="339.94" y="257.78" width="8.33" height="6.63" fill="rgb(229, 180, 172)"/>
<rect x="348.22" y="257.78" width="8.33" height="6.63" fill="rgb(243, 222, 218)"/>
<rect x="356.51" y="257.78" width="8.33" height="6.63" fill="rgb(171, 54, 49)"/>
<rect x="364.79" y="257.78" width="8.33" height="6.63" fill="rgb(197, 101, 91)"/>
<rect x="373.07" y="257.78" width="8.33" height="6.63" fill="rgb(171, 54, 49)"/>
<rect x="381.36" y="257.78" width="8.33" height="6.63" fill="rgb(171, 54, 49)"/>
<rect x="389.64" y="257.78" width="8.33" height="6.63" fill="rgb(219, 150, 140)"/>
<rect x="397.93" y="257.78" width="8.33" height="6.63" fill="rgb(208, 125, 114)"/>
<rect x="406.21" y="257.78" width="8.33" height="6.63" fill="rgb(171, 54, 49)"/>
<rect x="414.49" y="257.78" width="8.33" height="6.63" fill="rgb(197, 101, 91)"/>
<rect x="422.78" y="257.78" width="8.33" height="6.63" fill="rgb(208, 125, 114)"/>
<rect x="431.06" y="257.78" width="8.33" height="6.63" fill="rgb(208, 125, 114)"/>
<rect x="439.35" y="257.78" width="8.33" height="6.63" fill="rgb(171, 54, 49)"/>
<rect x="447.63" y="257.78" width="8.33" height="6.63" fill="rgb(219, 150, 140)"/>
<rect x="455.92" y="257.78" width="8.33" height="6.63" fill="rgb(185, 77, 69)"/>
<rect x="306.80" y="264.36" width="8.33" height="6.63" fill="rgb(219, 150, 140)"/>
<rect x="315.08" y="264.36" width="8.33" height="6.63" fill="rgb(219, 150, 140)"/>
<rect x="323.37" y="264.36" width="8.33" height="6.63" fill="rgb(236, 200, 194)"/>
<rect x="331.65" y="264.36" width="8.33" height="6.63" fill="rgb(236, 200, 194)"/>
<rect x="339.94" y="264.36" width="8.33" height="6.63" fill="rgb(229, 180, 172)"/>
<rect x="348.22" y="264.36" width="8.33" height="6.63" fill="rgb(229, 180, 172)"/>
<rect x="356.51" y="264.36" width="8.33" height="6.63" fill="rgb(152, 30, 30)"/>
<rect x="364.79" y="264.36" width="8.33" height="6.63" fill="rgb(208, 125, 114)"/>
<rect x="373.07" y="264.36" width="8.33" height="6.63" fill="rgb(185, 77, 69)"/>
<rect x="381.36" y="264.36" width="8.33" height="6.63" fill="rgb(185, 77, 69)"/>
<rect x="389.64" y="264.36" width="8.33" height="6.63" fill="rgb(229, 180, 172)"/>
<rect x="397.93" y="264.36" width="8.33" height="6.63" fill="rgb(208, 125, 114)"/>
<rect x="406.21" y="264.36" width="8.33" height="6.63" fill="rgb(152, 30, 30)"/>
<rect x="414.49" y="264.36" width="8.33" height="6.63" fill="rgb(185, 77, 69)"/>
<rect x="422.78" y="264.36" width="8.33" height="6.63" fill="rgb(219, 150, 140)"/>
<rect x="431.06" y="264.36" width="8.33" height="6.63" fill="rgb(208, 125, 114)"/>
<rect x="439.35" y="264.36" width="8.33" height="6.63" fill="rgb(171, 54, 49)"/>
<rect x="447.63" y="264.36" width="8.33" height="6.63" fill="rgb(219, 150, 140)"/>
<rect x="455.92" y="264.36" width="8.33" height="6.63" fill="rgb(171, 54, 49)"/>
<rect x="306.80" y="270.95" width="8.33" height="6.63" fill="rgb(219, 150, 140)"/>
<rect x="315.08" y="270.95" width="8.33" height="6.63" fill="rgb(236, 200, 194)"/>
<rect x="323.37" y="270.95" width="8.33" height="6.63" fill="rgb(236, 200, 194)"/>
<rect x="331.65" y="270.95" width="8.33" height="6.63" fill="rgb(236, 200, 194)"/>
<rect x="339.94" y="270.95" width="8.33" height="6.63" fill="rgb(229, 180, 172)"/>
<rect x="348.22" y="270.95" width="8.33" height="6.63" fill="rgb(243, 222, 218)"/>
<rect x="356.51" y="270.95" width="8.33" height="6.63" fill="rgb(171, 54, 49)"/>
<rect x="364.79" y="270.95" width="8.33" height="6.63" fill="rgb(208, 125, 114)"/>
<rect x="373.07" y="270.95" width="8.33" height="6.63" fill="rgb(185, 77, 69)"/>
<rect x="381.36" y="270.95" width="8.33" height="6.63" fill="rgb(185, 77, 69)"/>
<rect x="389.64" y="270.95" width="8.33" height="6.63" fill="rgb(229, 180, 172)"/>
<rect x="397.93" y="270.95" width="8.33" height="6.63" fill="rgb(236, 200, 194)"/>
<rect x="406.21" y="270.95" width="8.33" height="6.63" fill="rgb(171, 54, 49)"/>
<rect x="414.49" y="270.95" width="8.33" height="6.63" fill="rgb(219, 150, 140)"/>
<rect x="422.78" y="270.95" width="8.33" height="6.63" fill="rgb(229, 180, 172)"/>
<rect x="431.06" y="270.95" width="8.33" height="6.63" fill="rgb(219, 150, 140)"/>
<rect x="439.35" y="270.95" width="8.33" height="6.63" fill="rgb(171, 54, 49)"/>
<rect x="447.63" y="270.95" width="8.33" height="6.63" fill="rgb(219, 150, 140)"/>
<rect x="455.92" y="270.95" width="8.33" height="6.63" fill="rgb(197, 101, 91)"/>
<rect x="306.80" y="277.53" width="8.33" height="6.63" fill="rgb(243, 222, 218)"/>
<rect x="315.08" y="277.53" width="8.33" height="6.63" fill="rgb(250, 245, 245)"/>
<rect x="323.37" y="277.53" width="8.33" height="6.63" fill="rgb(243, 222, 218)"/>
<rect x="331.65" y="277.53" width="8.33" height="6.63" fill="rgb(236, 200, 194)"/>
<rect x="339.94" y="277.53" width="8.33" height="6.63" fill="rgb(243, 222, 218)"/>
<rect x="348.22" y="277.53" width="8.33" height="6.63" fill="rgb(236, 200, 194)"/>
<rect x="356.51" y="277.53" width="8.33" height="6.63" fill="rgb(208, 125, 114)"/>
<rect x="364.79" y="277.53" width="8.33" height="6.63" fill="rgb(197, 101, 91)"/>
<rect x="373.07" y="277.53" width="8.33" height="6.63" fill="rgb(208, 125, 114)"/>
<rect x="381.36" y="277.53" width="8.33" height="6.63" fill="rgb(208, 125, 114)"/>
<rect x="389.64" y="277.53" width="8.33" height="6.63" fill="rgb(208, 125, 114)"/>
<rect x="397.93" y="277.53" width="8.33" height="6.63" fill="rgb(208, 125, 114)"/>
<rect x="406.21" y="277.53" width="8.33" height="6.63" fill="rgb(208, 125, 114)"/>
<rect x="414.49" y="277.53" width="8.33" height="6.63" fill="rgb(197, 101, 91)"/>
<rect x="422.78" y="277.53" width="8.33" height="6.63" fill="rgb(219, 150, 140)"/>
<rect x="431.06" y="277.53" width="8.33" height="6.63" fill="rgb(185, 77, 69)"/>
<rect x="439.35" y="277.53" width="8.33" height="6.63" fill="rgb(229, 180, 172)"/>
<rect x="447.63" y="277.53" width="8.33" height="6.63" fill="rgb(208, 125, 114)"/>
<rect x="455.92" y="277.53" width="8.33" height="6.63" fill="rgb(208, 125, 114)"/>
<rect x="306.80" y="284.11" width="8.33" height="6.63" fill="rgb(236, 200, 194)"/>
<rect x="315.08" y="284.11" width="8.33" height="6.63" fill="rgb(236, 200, 194)"/>
<rect x="323.37" y="284.11" width="8.33" height="6.63" fill="rgb(236, 200, 194)"/>
<rect x="331.65" y="284.11" width="8.33" height="6.63" fill="rgb(236, 200, 194)"/>
<rect x="339.94" y="284.11" width="8.33" height="6.63" fill="rgb(236, 200, 194)"/>
<rect x="348.22" y="284.11" width="8.33" height="6.63" fill="rgb(236, 200, 194)"/>
<rect x="356.51" y="284.11" width="8.33" height="6.63" fill="rgb(208, 125, 114)"/>
<rect x="364.79" y="284.11" width="8.33" height="6.63" fill="rgb(208, 125, 114)"/>
<rect x="373.07" y="284.11" width="8.33" height="6.63" fill="rgb(208, 125, 114)"/>
<rect x="381.36" y="284.11" width="8.33" height="6.63" fill="rgb(208, 125, 114)"/>
<rect x="389.64" y="284.11" width="8.33" height="6.63" fill="rgb(208, 125, 114)"/>
<rect x="397.93" y="284.11" width="8.33" height="6.63" fill="rgb(208, 125, 114)"/>
<rect x="406.21" y="284.11" width="8.33" height="6.63" fill="rgb(208, 125, 114)"/>
<rect x="414.49" y="284.11" width="8.33" height="6.63" fill="rgb(208, 125, 114)"/>
<rect x="422.78" y="284.11" width="8.33" height="6.63" fill="rgb(208, 125, 114)"/>
<rect x="431.06" y="284.11" width="8.33" height="6.63" fill="rgb(219, 150, 140)"/>
<rect x="439.35" y="284.11" width="8.33" height="6.63" fill="rgb(208, 125, 114)"/>
<rect x="447.63" y="284.11" width="8.33" height="6.63" fill="rgb(236, 200, 194)"/>
<rect x="455.92" y="284.11" width="8.33" height="6.63" fill="rgb(208, 125, 114)"/>
<rect x="306.80" y="290.69" width="8.33" height="6.63" fill="rgb(229, 180, 172)"/>
<rect x="315.08" y="290.69" width="8.33" height="6.63" fill="rgb(250, 245, 245)"/>
<rect x="323.37" y="290.69" width="8.33" height="6.63" fill="rgb(250, 245, 245)"/>
<rect x="331.65" y="290.69" width="8.33" height="6.63" fill="rgb(250, 245, 245)"/>
<rect x="339.94" y="290.69" width="8.33" height="6.63" fill="rgb(243, 222, 218)"/>
<rect x="348.22" y="290.69" width="8.33" height="6.63" fill="rgb(250, 245, 245)"/>
<rect x="356.51" y="290.69" width="8.33" height="6.63" fill="rgb(185, 77, 69)"/>
<rect x="364.79" y="290.69" width="8.33" height="6.63" fill="rgb(229, 180, 172)"/>
<rect x="373.07" y="290.69" width="8.33" height="6.63" fill="rgb(197, 101, 91)"/>
<rect x="381.36" y="290.69" width="8.33" height="6.63" fill="rgb(185, 77, 69)"/>
<rect x="389.64" y="290.69" width="8.33" height="6.63" fill="rgb(243, 222, 218)"/>
<rect x="397.93" y="290.69" width="8.33" height="6.63" fill="rgb(229, 180, 172)"/>
<rect x="406.21" y="290.69" width="8.33" height="6.63" fill="rgb(185, 77, 69)"/>
<rect x="414.49" y="290.69" width="8.33" height="6.63" fill="rgb(219, 150, 140)"/>
<rect x="422.78" y="290.69" width="8.33" height="6.63" fill="rgb(236, 200, 194)"/>
<rect x="431.06" y="290.69" width="8.33" height="6.63" fill="rgb(236, 200, 194)"/>
<rect x="439.35" y="290.69" width="8.33" height="6.63" fill="rgb(185, 77, 69)"/>
<rect x="447.63" y="290.69" width="8.33" height="6.63" fill="rgb(236, 200, 194)"/>
<rect x="455.92" y="290.69" width="8.33" height="6.63" fill="rgb(208, 125, 114)"/>
<rect x="306.80" y="297.27" width="8.33" height="6.63" fill="rgb(250, 245, 245)"/>
<rect x="315.08" y="297.27" width="8.33" height="6.63" fill="rgb(243, 222, 218)"/>
<rect x="323.37" y="297.27" width="8.33" height="6.63" fill="rgb(243, 222, 218)"/>
<rect x="331.65" y="297.27" width="8.33" height="6.63" fill="rgb(232, 237, 250)"/>
<rect x="339.94" y="297.27" width="8.33" height="6.63" fill="rgb(232, 237, 250)"/>
<rect x="348.22" y="297.27" width="8.33" height="6.63" fill="rgb(243, 222, 218)"/>
<rect x="356.51" y="297.27" width="8.33" height="6.63" fill="rgb(208, 125, 114)"/>
<rect x="364.79" y="297.27" width="8.33" height="6.63" fill="rgb(219, 150, 140)"/>
<rect x="373.07" y="297.27" width="8.33" height="6.63" fill="rgb(219, 150, 140)"/>
<rect x="381.36" y="297.27" width="8.33" height="6.63" fill="rgb(208, 125, 114)"/>
<rect x="389.64" y="297.27" width="8.33" height="6.63" fill="rgb(236, 200, 194)"/>
<rect x="397.93" y="297.27" width="8.33" height="6.63" fill="rgb(243, 222, 218)"/>
<rect x="406.21" y="297.27" width="8.33" height="6.63" fill="rgb(208, 125, 114)"/>
<rect x="414.49" y="297.27" width="8.33" height="6.63" fill="rgb(229, 180, 172)"/>
<rect x="422.78" y="297.27" width="8.33" height="6.63" fill="rgb(229, 180, 172)"/>
<rect x="431.06" y="297.27" width="8.33" height="6.63" fill="rgb(236, 200, 194)"/>
<rect x="439.35" y="297.27" width="8.33" height="6.63" fill="rgb(208, 125, 114)"/>
<rect x="447.63" y="297.27" width="8.33" height="6.63" fill="rgb(243, 222, 218)"/>
<rect x="455.92" y="297.27" width="8.33" height="6.63" fill="rgb(208, 125, 114)"/>
<rect x="306.80" y="303.86" width="8.33" height="6.63" fill="rgb(243, 222, 218)"/>
<rect x="315.08" y="303.86" width="8.33" height="6.63" fill="rgb(232, 237, 250)"/>
<rect x="323.37" y="303.86" width="8.33" height="6.63" fill="rgb(250, 245, 245)"/>
<rect x="331.65" y="303.86" width="8.33" height="6.63" fill="rgb(232, 237, 250)"/>
<rect x="339.94" y="303.86" width="8.33" height="6.63" fill="rgb(232, 237, 250)"/>
<rect x="348.22" y="303.86" width="8.33" height="6.63" fill="rgb(250, 245, 245)"/>
<rect x="356.51" y="303.86" width="8.33" height="6.63" fill="rgb(208, 125, 114)"/>
<rect x="364.79" y="303.86" width="8.33" height="6.63" fill="rgb(197, 101, 91)"/>
<rect x="373.07" y="303.86" width="8.33" height="6.63" fill="rgb(197, 101, 91)"/>
<rect x="381.36" y="303.86" width="8.33" height="6.63" fill="rgb(197, 101, 91)"/>
<rect x="389.64" y="303.86" width="8.33" height="6.63" fill="rgb(208, 125, 114)"/>
<rect x="397.93" y="303.86" width="8.33" height="6.63" fill="rgb(197, 101, 91)"/>
<rect x="406.21" y="303.86" width="8.33" height="6.63" fill="rgb(219, 150, 140)"/>
<rect x="414.49" y="303.86" width="8.33" height="6.63" fill="rgb(219, 150, 140)"/>
<rect x="422.78" y="303.86" width="8.33" height="6.63" fill="rgb(229, 180, 172)"/>
<rect x="431.06" y="303.86" width="8.33" height="6.63" fill="rgb(219, 150, 140)"/>
<rect x="439.35" y="303.86" width="8.33" height="6.63" fill="rgb(219, 150, 140)"/>
<rect x="447.63" y="303.86" width="8.33" height="6.63" fill="rgb(250, 245, 245)"/>
<rect x="455.92" y="303.86" width="8.33" height="6.63" fill="rgb(208, 125, 114)"/>
<rect x="306.80" y="310.44" width="8.33" height="6.63" fill="rgb(250, 245, 245)"/>
<rect x="315.08" y="310.44" width="8.33" height="6.63" fill="rgb(232, 237, 250)"/>
<rect x="323.37" y="310.44" width="8.33" height="6.63" fill="rgb(232, 237, 250)"/>
<rect x="331.65" y="310.44" width="8.33" height="6.63" fill="rgb(210, 220, 245)"/>
<rect x="339.94" y="310.44" width="8.33" height="6.63" fill="rgb(250, 245, 245)"/>
<rect x="348.22" y="310.44" width="8.33" height="6.63" fill="rgb(232, 237, 250)"/>
<rect x="356.51" y="310.44" width="8.33" height="6.63" fill="rgb(208, 125, 114)"/>
<rect x="364.79" y="310.44" width="8.33" height="6.63" fill="rgb(208, 125, 114)"/>
<rect x="373.07" y="310.44" width="8.33" height="6.63" fill="rgb(208, 125, 114)"/>
<rect x="381.36" y="310.44" width="8.33" height="6.63" fill="rgb(197, 101, 91)"/>
<rect x="389.64" y="310.44" width="8.33" height="6.63" fill="rgb(208, 125, 114)"/>
<rect x="397.93" y="310.44" width="8.33" height="6.63" fill="rgb(197, 101, 91)"/>
<rect x="406.21" y="310.44" width="8.33" height="6.63" fill="rgb(219, 150, 140)"/>
<rect x="414.49" y="310.44" width="8.33" height="6.63" fill="rgb(229, 180, 172)"/>
<rect x="422.78" y="310.44" width="8.33" height="6.63" fill="rgb(236, 200, 194)"/>
<rect x="431.06" y="310.44" width="8.33" height="6.63" fill="rgb(219, 150, 140)"/>
<rect x="439.35" y="310.44" width="8.33" height="6.63" fill="rgb(229, 180, 172)"/>
<rect x="447.63" y="310.44" width="8.33" height="6.63" fill="rgb(250, 245, 245)"/>
<rect x="455.92" y="310.44" width="8.33" height="6.63" fill="rgb(208, 125, 114)"/>
<rect x="306.80" y="317.02" width="8.33" height="6.63" fill="rgb(250, 245, 245)"/>
<rect x="315.08" y="317.02" width="8.33" height="6.63" fill="rgb(250, 245, 245)"/>
<rect x="323.37" y="317.02" width="8.33" height="6.63" fill="rgb(243, 222, 218)"/>
<rect x="331.65" y="317.02" width="8.33" height="6.63" fill="rgb(250, 245, 245)"/>
<rect x="339.94" y="317.02" width="8.33" height="6.63" fill="rgb(232, 237, 250)"/>
<rect x="348.22" y="317.02" width="8.33" height="6.63" fill="rgb(232, 237, 250)"/>
<rect x="356.51" y="317.02" width="8.33" height="6.63" fill="rgb(219, 150, 140)"/>
<rect x="364.79" y="317.02" width="8.33" height="6.63" fill="rgb(229, 180, 172)"/>
<rect x="373.07" y="317.02" width="8.33" height="6.63" fill="rgb(229, 180, 172)"/>
<rect x="381.36" y="317.02" width="8.33" height="6.63" fill="rgb(229, 180, 172)"/>
<rect x="389.64" y="317.02" width="8.33" height="6.63" fill="rgb(229, 180, 172)"/>
<rect x="397.93" y="317.02" width="8.33" height="6.63" fill="rgb(229, 180, 172)"/>
<rect x="406.21" y="317.02" width="8.33" height="6.63" fill="rgb(219, 150, 140)"/>
<rect x="414.49" y="317.02" width="8.33" height="6.63" fill="rgb(229, 180, 172)"/>
<rect x="422.78" y="317.02" width="8.33" height="6.63" fill="rgb(229, 180, 172)"/>
<rect x="431.06" y="317.02" width="8.33" height="6.63" fill="rgb(229, 180, 172)"/>
<rect x="439.35" y="317.02" width="8.33" height="6.63" fill="rgb(229, 180, 172)"/>
<rect x="447.63" y="317.02" width="8.33" height="6.63" fill="rgb(243, 222, 218)"/>
<rect x="455.92" y="317.02" width="8.33" height="6.63" fill="rgb(219, 150, 140)"/>
<rect x="306.80" y="323.60" width="8.33" height="6.63" fill="rgb(250, 245, 245)"/>
<rect x="315.08" y="323.60" width="8.33" height="6.63" fill="rgb(250, 245, 245)"/>
<rect x="323.37" y="323.60" width="8.33" height="6.63" fill="rgb(232, 237, 250)"/>
<rect x="331.65" y="323.60" width="8.33" height="6.63" fill="rgb(185, 200, 238)"/>
<rect x="339.94" y="323.60" width="8.33" height="6.63" fill="rgb(250, 245, 245)"/>
<rect x="348.22" y="323.60" width="8.33" height="6.63" fill="rgb(243, 222, 218)"/>
<rect x="356.51" y="323.60" width="8.33" height="6.63" fill="rgb(236, 200, 194)"/>
<rect x="364.79" y="323.60" width="8.33" height="6.63" fill="rgb(250, 245, 245)"/>
<rect x="373.07" y="323.60" width="8.33" height="6.63" fill="rgb(243, 222, 218)"/>
<rect x="381.36" y="323.60" width="8.33" height="6.63" fill="rgb(219, 150, 140)"/>
<rect x="389.64" y="323.60" width="8.33" height="6.63" fill="rgb(27, 117, 208)"/>
<rect x="397.93" y="323.60" width="8.33" height="6.63" fill="rgb(250, 245, 245)"/>
<rect x="406.21" y="323.60" width="8.33" height="6.63" fill="rgb(208, 125, 114)"/>
<rect x="414.49" y="323.60" width="8.33" height="6.63" fill="rgb(208, 125, 114)"/>
<rect x="422.78" y="323.60" width="8.33" height="6.63" fill="rgb(208, 125, 114)"/>
<rect x="431.06" y="323.60" width="8.33" height="6.63" fill="rgb(210, 220, 245)"/>
<rect x="439.35" y="323.60" width="8.33" height="6.63" fill="rgb(243, 222, 218)"/>
<rect x="447.63" y="323.60" width="8.33" height="6.63" fill="rgb(210, 220, 245)"/>
<rect x="455.92" y="323.60" width="8.33" height="6.63" fill="rgb(219, 150, 140)"/>
<rect x="306.80" y="330.18" width="8.33" height="6.63" fill="rgb(185, 200, 238)"/>
<rect x="315.08" y="330.18" width="8.33" height="6.63" fill="rgb(27, 117, 208)"/>
<rect x="323.37" y="330.18" width="8.33" height="6.63" fill="rgb(185, 200, 238)"/>
<rect x="331.65" y="330.18" width="8.33" height="6.63" fill="rgb(185, 200, 238)"/>
<rect x="339.94" y="330.18" width="8.33" height="6.63" fill="rgb(155, 178, 230)"/>
<rect x="348.22" y="330.18" width="8.33" height="6.63" fill="rgb(210, 220, 245)"/>
<rect x="356.51" y="330.18" width="8.33" height="6.63" fill="rgb(229, 180, 172)"/>
<rect x="364.79" y="330.18" width="8.33" height="6.63" fill="rgb(219, 150, 140)"/>
<rect x="373.07" y="330.18" width="8.33" height="6.63" fill="rgb(219, 150, 140)"/>
<rect x="381.36" y="330.18" width="8.33" height="6.63" fill="rgb(219, 150, 140)"/>
<rect x="389.64" y="330.18" width="8.33" height="6.63" fill="rgb(229, 180, 172)"/>
<rect x="397.93" y="330.18" width="8.33" height="6.63" fill="rgb(208, 125, 114)"/>
<rect x="406.21" y="330.18" width="8.33" height="6.63" fill="rgb(236, 200, 194)"/>
<rect x="414.49" y="330.18" width="8.33" height="6.63" fill="rgb(243, 222, 218)"/>
<rect x="422.78" y="330.18" width="8.33" height="6.63" fill="rgb(243, 222, 218)"/>
<rect x="431.06" y="330.18" width="8.33" height="6.63" fill="rgb(243, 222, 218)"/>
<rect x="439.35" y="330.18" width="8.33" height="6.63" fill="rgb(243, 222, 218)"/>
<rect x="447.63" y="330.18" width="8.33" height="6.63" fill="rgb(232, 237, 250)"/>
<rect x="455.92" y="330.18" width="8.33" height="6.63" fill="rgb(229, 180, 172)"/>
<rect x="306.80" y="336.77" width="8.33" height="6.63" fill="rgb(232, 237, 250)"/>
<rect x="315.08" y="336.77" width="8.33" height="6.63" fill="rgb(27, 117, 208)"/>
<rect x="323.37" y="336.77" width="8.33" height="6.63" fill="rgb(27, 117, 208)"/>
<rect x="331.65" y="336.77" width="8.33" height="6.63" fill="rgb(232, 237, 250)"/>
<rect x="339.94" y="336.77" width="8.33" height="6.63" fill="rgb(27, 117, 208)"/>
<rect x="348.22" y="336.77" width="8.33" height="6.63" fill="rgb(210, 220, 245)"/>
<rect x="356.51" y="336.77" width="8.33" height="6.63" fill="rgb(219, 150, 140)"/>
<rect x="364.79" y="336.77" width="8.33" height="6.63" fill="rgb(229, 180, 172)"/>
<rect x="373.07" y="336.77" width="8.33" height="6.63" fill="rgb(229, 180, 172)"/>
<rect x="381.36" y="336.77" width="8.33" height="6.63" fill="rgb(219, 150, 140)"/>
<rect x="389.64" y="336.77" width="8.33" height="6.63" fill="rgb(243, 222, 218)"/>
<rect x="397.93" y="336.77" width="8.33" height="6.63" fill="rgb(243, 222, 218)"/>
<rect x="406.21" y="336.77" width="8.33" height="6.63" fill="rgb(219, 150, 140)"/>
<rect x="414.49" y="336.77" width="8.33" height="6.63" fill="rgb(229, 180, 172)"/>
<rect x="422.78" y="336.77" width="8.33" height="6.63" fill="rgb(236, 200, 194)"/>
<rect x="431.06" y="336.77" width="8.33" height="6.63" fill="rgb(243, 222, 218)"/>
<rect x="439.35" y="336.77" width="8.33" height="6.63" fill="rgb(232, 237, 250)"/>
<rect x="447.63" y="336.77" width="8.33" height="6.63" fill="rgb(243, 222, 218)"/>
<rect x="455.92" y="336.77" width="8.33" height="6.63" fill="rgb(236, 200, 194)"/>
<rect x="306.80" y="343.35" width="8.33" height="6.63" fill="rgb(185, 200, 238)"/>
<rect x="315.08" y="343.35" width="8.33" height="6.63" fill="rgb(232, 237, 250)"/>
<rect x="323.37" y="343.35" width="8.33" height="6.63" fill="rgb(250, 245, 245)"/>
<rect x="331.65" y="343.35" width="8.33" height="6.63" fill="rgb(232, 237, 250)"/>
<rect x="339.94" y="343.35" width="8.33" height="6.63" fill="rgb(232, 237, 250)"/>
<rect x="348.22" y="343.35" width="8.33" height="6.63" fill="rgb(27, 117, 208)"/>
<rect x="356.51" y="343.35" width="8.33" height="6.63" fill="rgb(243, 222, 218)"/>
<rect x="364.79" y="343.35" width="8.33" height="6.63" fill="rgb(219, 150, 140)"/>
<rect x="373.07" y="343.35" width="8.33" height="6.63" fill="rgb(236, 200, 194)"/>
<rect x="381.36" y="343.35" width="8.33" height="6.63" fill="rgb(243, 222, 218)"/>
<rect x="389.64" y="343.35" width="8.33" height="6.63" fill="rgb(232, 237, 250)"/>
<rect x="397.93" y="343.35" width="8.33" height="6.63" fill="rgb(232, 237, 250)"/>
<rect x="406.21" y="343.35" width="8.33" height="6.63" fill="rgb(236, 200, 194)"/>
<rect x="414.49" y="343.35" width="8.33" height="6.63" fill="rgb(243, 222, 218)"/>
<rect x="422.78" y="343.35" width="8.33" height="6.63" fill="rgb(250, 245, 245)"/>
<rect x="431.06" y="343.35" width="8.33" height="6.63" fill="rgb(243, 222, 218)"/>
<rect x="439.35" y="343.35" width="8.33" height="6.63" fill="rgb(243, 222, 218)"/>
<rect x="447.63" y="343.35" width="8.33" height="6.63" fill="rgb(219, 150, 140)"/>
<rect x="455.92" y="343.35" width="8.33" height="6.63" fill="rgb(236, 200, 194)"/>
<rect x="306.80" y="349.93" width="8.33" height="6.63" fill="rgb(210, 220, 245)"/>
<rect x="315.08" y="349.93" width="8.33" height="6.63" fill="rgb(27, 117, 208)"/>
<rect x="323.37" y="349.93" width="8.33" height="6.63" fill="rgb(210, 220, 245)"/>
<rect x="331.65" y="349.93" width="8.33" height="6.63" fill="rgb(185, 200, 238)"/>
<rect x="339.94" y="349.93" width="8.33" height="6.63" fill="rgb(185, 200, 238)"/>
<rect x="348.22" y="349.93" width="8.33" height="6.63" fill="rgb(185, 200, 238)"/>
<rect x="356.51" y="349.93" width="8.33" height="6.63" fill="rgb(236, 200, 194)"/>
<rect x="364.79" y="349.93" width="8.33" height="6.63" fill="rgb(243, 222, 218)"/>
<rect x="373.07" y="349.93" width="8.33" height="6.63" fill="rgb(243, 222, 218)"/>
<rect x="381.36" y="349.93" width="8.33" height="6.63" fill="rgb(243, 222, 218)"/>
<rect x="389.64" y="349.93" width="8.33" height="6.63" fill="rgb(243, 222, 218)"/>
<rect x="397.93" y="349.93" width="8.33" height="6.63" fill="rgb(243, 222, 218)"/>
<rect x="406.21" y="349.93" width="8.33" height="6.63" fill="rgb(219, 150, 140)"/>
<rect x="414.49" y="349.93" width="8.33" height="6.63" fill="rgb(236, 200, 194)"/>
<rect x="422.78" y="349.93" width="8.33" height="6.63" fill="rgb(243, 222, 218)"/>
<rect x="431.06" y="349.93" width="8.33" height="6.63" fill="rgb(243, 222, 218)"/>
<rect x="439.35" y="349.93" width="8.33" height="6.63" fill="rgb(243, 222, 218)"/>
<rect x="447.63" y="349.93" width="8.33" height="6.63" fill="rgb(232, 237, 250)"/>
<rect x="455.92" y="349.93" width="8.33" height="6.63" fill="rgb(236, 200, 194)"/>
<rect x="306.80" y="356.51" width="8.33" height="6.63" fill="rgb(210, 220, 245)"/>
<rect x="315.08" y="356.51" width="8.33" height="6.63" fill="rgb(210, 220, 245)"/>
<rect x="323.37" y="356.51" width="8.33" height="6.63" fill="rgb(210, 220, 245)"/>
<rect x="331.65" y="356.51" width="8.33" height="6.63" fill="rgb(210, 220, 245)"/>
<rect x="339.94" y="356.51" width="8.33" height="6.63" fill="rgb(185, 200, 238)"/>
<rect x="348.22" y="356.51" width="8.33" height="6.63" fill="rgb(210, 220, 245)"/>
<rect x="356.51" y="356.51" width="8.33" height="6.63" fill="rgb(236, 200, 194)"/>
<rect x="364.79" y="356.51" width="8.33" height="6.63" fill="rgb(232, 237, 250)"/>
<rect x="373.07" y="356.51" width="8.33" height="6.63" fill="rgb(232, 237, 250)"/>
<rect x="381.36" y="356.51" width="8.33" height="6.63" fill="rgb(243, 222, 218)"/>
<rect x="389.64" y="356.51" width="8.33" height="6.63" fill="rgb(210, 220, 245)"/>
<rect x="397.93" y="356.51" width="8.33" height="6.63" fill="rgb(232, 237, 250)"/>
<rect x="406.21" y="356.51" width="8.33" height="6.63" fill="rgb(236, 200, 194)"/>
<rect x="414.49" y="356.51" width="8.33" height="6.63" fill="rgb(236, 200, 194)"/>
<rect x="422.78" y="356.51" width="8.33" height="6.63" fill="rgb(232, 237, 250)"/>
<rect x="431.06" y="356.51" width="8.33" height="6.63" fill="rgb(232, 237, 250)"/>
<rect x="439.35" y="356.51" width="8.33" height="6.63" fill="rgb(243, 222, 218)"/>
<rect x="447.63" y="356.51" width="8.33" height="6.63" fill="rgb(232, 237, 250)"/>
<rect x="455.92" y="356.51" width="8.33" height="6.63" fill="rgb(236, 200, 194)"/>
<rect x="306.80" y="363.09" width="8.33" height="6.63" fill="rgb(185, 200, 238)"/>
<rect x="315.08" y="363.09" width="8.33" height="6.63" fill="rgb(185, 200, 238)"/>
<rect x="323.37" y="363.09" width="8.33" height="6.63" fill="rgb(185, 200, 238)"/>
<rect x="331.65" y="363.09" width="8.33" height="6.63" fill="rgb(210, 220, 245)"/>
<rect x="339.94" y="363.09" width="8.33" height="6.63" fill="rgb(185, 200, 238)"/>
<rect x="348.22" y="363.09" width="8.33" height="6.63" fill="rgb(210, 220, 245)"/>
<rect x="356.51" y="363.09" width="8.33" height="6.63" fill="rgb(236, 200, 194)"/>
<rect x="364.79" y="363.09" width="8.33" height="6.63" fill="rgb(250, 245, 245)"/>
<rect x="373.07" y="363.09" width="8.33" height="6.63" fill="rgb(243, 222, 218)"/>
<rect x="381.36" y="363.09" width="8.33" height="6.63" fill="rgb(243, 222, 218)"/>
<rect x="389.64" y="363.09" width="8.33" height="6.63" fill="rgb(232, 237, 250)"/>
<rect x="397.93" y="363.09" width="8.33" height="6.63" fill="rgb(232, 237, 250)"/>
<rect x="406.21" y="363.09" width="8.33" height="6.63" fill="rgb(236, 200, 194)"/>
<rect x="414.49" y="363.09" width="8.33" height="6.63" fill="rgb(236, 200, 194)"/>
<rect x="422.78" y="363.09" width="8.33" height="6.63" fill="rgb(185, 200, 238)"/>
<rect x="431.06" y="363.09" width="8.33" height="6.63" fill="rgb(232, 237, 250)"/>
<rect x="439.35" y="363.09" width="8.33" height="6.63" fill="rgb(243, 222, 218)"/>
<rect x="447.63" y="363.09" width="8.33" height="6.63" fill="rgb(232, 237, 250)"/>
<rect x="455.92" y="363.09" width="8.33" height="6.63" fill="rgb(236, 200, 194)"/>
<rect x="306.80" y="369.68" width="8.33" height="6.63" fill="rgb(27, 117, 208)"/>
<rect x="315.08" y="369.68" width="8.33" height="6.63" fill="rgb(27, 117, 208)"/>
<rect x="323.37" y="369.68" width="8.33" height="6.63" fill="rgb(232, 237, 250)"/>
<rect x="331.65" y="369.68" width="8.33" height="6.63" fill="rgb(232, 237, 250)"/>
<rect x="339.94" y="369.68" width="8.33" height="6.63" fill="rgb(185, 200, 238)"/>
<rect x="348.22" y="369.68" width="8.33" height="6.63" fill="rgb(232, 237, 250)"/>
<rect x="356.51" y="369.68" width="8.33" height="6.63" fill="rgb(232, 237, 250)"/>
<rect x="364.79" y="369.68" width="8.33" height="6.63" fill="rgb(232, 237, 250)"/>
<rect x="373.07" y="369.68" width="8.33" height="6.63" fill="rgb(229, 180, 172)"/>
<rect x="381.36" y="369.68" width="8.33" height="6.63" fill="rgb(229, 180, 172)"/>
<rect x="389.64" y="369.68" width="8.33" height="6.63" fill="rgb(250, 245, 245)"/>
<rect x="397.93" y="369.68" width="8.33" height="6.63" fill="rgb(250, 245, 245)"/>
<rect x="406.21" y="369.68" width="8.33" height="6.63" fill="rgb(229, 180, 172)"/>
<rect x="414.49" y="369.68" width="8.33" height="6.63" fill="rgb(229, 180, 172)"/>
<rect x="422.78" y="369.68" width="8.33" height="6.63" fill="rgb(232, 237, 250)"/>
<rect x="431.06" y="369.68" width="8.33" height="6.63" fill="rgb(236, 200, 194)"/>
<rect x="439.35" y="369.68" width="8.33" height="6.63" fill="rgb(27, 117, 208)"/>
<rect x="447.63" y="369.68" width="8.33" height="6.63" fill="rgb(232, 237, 250)"/>
<rect x="455.92" y="369.68" width="8.33" height="6.63" fill="rgb(236, 200, 194)"/>
<rect x="306.80" y="376.26" width="8.33" height="6.63" fill="rgb(185, 200, 238)"/>
<rect x="315.08" y="376.26" width="8.33" height="6.63" fill="rgb(210, 220, 245)"/>
<rect x="323.37" y="376.26" width="8.33" height="6.63" fill="rgb(27, 117, 208)"/>
<rect x="331.65" y="376.26" width="8.33" height="6.63" fill="rgb(185, 200, 238)"/>
<rect x="339.94" y="376.26" width="8.33" height="6.63" fill="rgb(185, 200, 238)"/>
<rect x="348.22" y="376.26" width="8.33" height="6.63" fill="rgb(185, 200, 238)"/>
<rect x="356.51" y="376.26" width="8.33" height="6.63" fill="rgb(232, 237, 250)"/>
<rect x="364.79" y="376.26" width="8.33" height="6.63" fill="rgb(210, 220, 245)"/>
<rect x="373.07" y="376.26" width="8.33" height="6.63" fill="rgb(243, 222, 218)"/>
<rect x="381.36" y="376.26" width="8.33" height="6.63" fill="rgb(185, 200, 238)"/>
<rect x="389.64" y="376.26" width="8.33" height="6.63" fill="rgb(250, 245, 245)"/>
<rect x="397.93" y="376.26" width="8.33" height="6.63" fill="rgb(210, 220, 245)"/>
<rect x="406.21" y="376.26" width="8.33" height="6.63" fill="rgb(243, 222, 218)"/>
<rect x="414.49" y="376.26" width="8.33" height="6.63" fill="rgb(250, 245, 245)"/>
<rect x="422.78" y="376.26" width="8.33" height="6.63" fill="rgb(155, 178, 230)"/>
<rect x="431.06" y="376.26" width="8.33" height="6.63" fill="rgb(236, 200, 194)"/>
<rect x="439.35" y="376.26" width="8.33" height="6.63" fill="rgb(155, 178, 230)"/>
<rect x="447.63" y="376.26" width="8.33" height="6.63" fill="rgb(155, 178, 230)"/>
<rect x="455.92" y="376.26" width="8.33" height="6.63" fill="rgb(250, 245, 245)"/>
<rect x="306.80" y="382.84" width="8.33" height="6.63" fill="rgb(27, 117, 208)"/>
<rect x="315.08" y="382.84" width="8.33" height="6.63" fill="rgb(27, 117, 208)"/>
<rect x="323.37" y="382.84" width="8.33" height="6.63" fill="rgb(27, 117, 208)"/>
<rect x="331.65" y="382.84" width="8.33" height="6.63" fill="rgb(185, 200, 238)"/>
<rect x="339.94" y="382.84" width="8.33" height="6.63" fill="rgb(27, 117, 208)"/>
<rect x="348.22" y="382.84" width="8.33" height="6.63" fill="rgb(185, 200, 238)"/>
<rect x="356.51" y="382.84" width="8.33" height="6.63" fill="rgb(250, 245, 245)"/>
<rect x="364.79" y="382.84" width="8.33" height="6.63" fill="rgb(210, 220, 245)"/>
<rect x="373.07" y="382.84" width="8.33" height="6.63" fill="rgb(250, 245, 245)"/>
<rect x="381.36" y="382.84" width="8.33" height="6.63" fill="rgb(232, 237, 250)"/>
<rect x="389.64" y="382.84" width="8.33" height="6.63" fill="rgb(232, 237, 250)"/>
<rect x="397.93" y="382.84" width="8.33" height="6.63" fill="rgb(232, 237, 250)"/>
<rect x="406.21" y="382.84" width="8.33" height="6.63" fill="rgb(229, 180, 172)"/>
<rect x="414.49" y="382.84" width="8.33" height="6.63" fill="rgb(250, 245, 245)"/>
<rect x="422.78" y="382.84" width="8.33" height="6.63" fill="rgb(210, 220, 245)"/>
<rect x="431.06" y="382.84" width="8.33" height="6.63" fill="rgb(236, 200, 194)"/>
<rect x="439.35" y="382.84" width="8.33" height="6.63" fill="rgb(210, 220, 245)"/>
<rect x="447.63" y="382.84" width="8.33" height="6.63" fill="rgb(185, 200, 238)"/>
<rect x="455.92" y="382.84" width="8.33" height="6.63" fill="rgb(243, 222, 218)"/>
<rect x="306.80" y="389.42" width="8.33" height="6.63" fill="rgb(250, 245, 245)"/>
<rect x="315.08" y="389.42" width="8.33" height="6.63" fill="rgb(232, 237, 250)"/>
<rect x="323.37" y="389.42" width="8.33" height="6.63" fill="rgb(232, 237, 250)"/>
<rect x="331.65" y="389.42" width="8.33" height="6.63" fill="rgb(232, 237, 250)"/>
<rect x="339.94" y="389.42" width="8.33" height="6.63" fill="rgb(27, 117, 208)"/>
<rect x="348.22" y="389.42" width="8.33" height="6.63" fill="rgb(232, 237, 250)"/>
<rect x="356.51" y="389.42" width="8.33" height="6.63" fill="rgb(229, 180, 172)"/>
<rect x="364.79" y="389.42" width="8.33" height="6.63" fill="rgb(236, 200, 194)"/>
<rect x="373.07" y="389.42" width="8.33" height="6.63" fill="rgb(236, 200, 194)"/>
<rect x="381.36" y="389.42" width="8.33" height="6.63" fill="rgb(229, 180, 172)"/>
<rect x="389.64" y="389.42" width="8.33" height="6.63" fill="rgb(250, 245, 245)"/>
<rect x="397.93" y="389.42" width="8.33" height="6.63" fill="rgb(250, 245, 245)"/>
<rect x="406.21" y="389.42" width="8.33" height="6.63" fill="rgb(27, 117, 208)"/>
<rect x="414.49" y="389.42" width="8.33" height="6.63" fill="rgb(229, 180, 172)"/>
<rect x="422.78" y="389.42" width="8.33" height="6.63" fill="rgb(229, 180, 172)"/>
<rect x="431.06" y="389.42" width="8.33" height="6.63" fill="rgb(243, 222, 218)"/>
<rect x="439.35" y="389.42" width="8.33" height="6.63" fill="rgb(232, 237, 250)"/>
<rect x="447.63" y="389.42" width="8.33" height="6.63" fill="rgb(243, 222, 218)"/>
<rect x="455.92" y="389.42" width="8.33" height="6.63" fill="rgb(27, 117, 208)"/>
<rect x="306.80" y="396.00" width="8.33" height="6.63" fill="rgb(27, 117, 208)"/>
<rect x="315.08" y="396.00" width="8.33" height="6.63" fill="rgb(185, 200, 238)"/>
<rect x="323.37" y="396.00" width="8.33" height="6.63" fill="rgb(210, 220, 245)"/>
<rect x="331.65" y="396.00" width="8.33" height="6.63" fill="rgb(210, 220, 245)"/>
<rect x="339.94" y="396.00" width="8.33" height="6.63" fill="rgb(27, 117, 208)"/>
<rect x="348.22" y="396.00" width="8.33" height="6.63" fill="rgb(27, 117, 208)"/>
<rect x="356.51" y="396.00" width="8.33" height="6.63" fill="rgb(236, 200, 194)"/>
<rect x="364.79" y="396.00" width="8.33" height="6.63" fill="rgb(236, 200, 194)"/>
<rect x="373.07" y="396.00" width="8.33" height="6.63" fill="rgb(236, 200, 194)"/>
<rect x="381.36" y="396.00" width="8.33" height="6.63" fill="rgb(236, 200, 194)"/>
<rect x="389.64" y="396.00" width="8.33" height="6.63" fill="rgb(243, 222, 218)"/>
<rect x="397.93" y="396.00" width="8.33" height="6.63" fill="rgb(243, 222, 218)"/>
<rect x="406.21" y="396.00" width="8.33" height="6.63" fill="rgb(229, 180, 172)"/>
<rect x="414.49" y="396.00" width="8.33" height="6.63" fill="rgb(250, 245, 245)"/>
<rect x="422.78" y="396.00" width="8.33" height="6.63" fill="rgb(250, 245, 245)"/>
<rect x="431.06" y="396.00" width="8.33" height="6.63" fill="rgb(243, 222, 218)"/>
<rect x="439.35" y="396.00" width="8.33" height="6.63" fill="rgb(250, 245, 245)"/>
<rect x="447.63" y="396.00" width="8.33" height="6.63" fill="rgb(250, 245, 245)"/>
<rect x="455.92" y="396.00" width="8.33" height="6.63" fill="rgb(243, 222, 218)"/>
<rect x="306.80" y="402.59" width="8.33" height="6.63" fill="rgb(27, 117, 208)"/>
<rect x="315.08" y="402.59" width="8.33" height="6.63" fill="rgb(27, 117, 208)"/>
<rect x="323.37" y="402.59" width="8.33" height="6.63" fill="rgb(185, 200, 238)"/>
<rect x="331.65" y="402.59" width="8.33" height="6.63" fill="rgb(210, 220, 245)"/>
<rect x="339.94" y="402.59" width="8.33" height="6.63" fill="rgb(27, 117, 208)"/>
<rect x="348.22" y="402.59" width="8.33" height="6.63" fill="rgb(27, 117, 208)"/>
<rect x="356.51" y="402.59" width="8.33" height="6.63" fill="rgb(243, 222, 218)"/>
<rect x="364.79" y="402.59" width="8.33" height="6.63" fill="rgb(243, 222, 218)"/>
<rect x="373.07" y="402.59" width="8.33" height="6.63" fill="rgb(243, 222, 218)"/>
<rect x="381.36" y="402.59" width="8.33" height="6.63" fill="rgb(243, 222, 218)"/>
<rect x="389.64" y="402.59" width="8.33" height="6.63" fill="rgb(243, 222, 218)"/>
<rect x="397.93" y="402.59" width="8.33" height="6.63" fill="rgb(232, 237, 250)"/>
<rect x="406.21" y="402.59" width="8.33" height="6.63" fill="rgb(243, 222, 218)"/>
<rect x="414.49" y="402.59" width="8.33" height="6.63" fill="rgb(250, 245, 245)"/>
<rect x="422.78" y="402.59" width="8.33" height="6.63" fill="rgb(232, 237, 250)"/>
<rect x="431.06" y="402.59" width="8.33" height="6.63" fill="rgb(243, 222, 218)"/>
<rect x="439.35" y="402.59" width="8.33" height="6.63" fill="rgb(210, 220, 245)"/>
<rect x="447.63" y="402.59" width="8.33" height="6.63" fill="rgb(210, 220, 245)"/>
<rect x="455.92" y="402.59" width="8.33" height="6.63" fill="rgb(250, 245, 245)"/>
<rect x="306.80" y="409.17" width="8.33" height="6.63" fill="rgb(210, 220, 245)"/>
<rect x="315.08" y="409.17" width="8.33" height="6.63" fill="rgb(27, 117, 208)"/>
<rect x="323.37" y="409.17" width="8.33" height="6.63" fill="rgb(27, 117, 208)"/>
<rect x="331.65" y="409.17" width="8.33" height="6.63" fill="rgb(27, 117, 208)"/>
<rect x="339.94" y="409.17" width="8.33" height="6.63" fill="rgb(27, 117, 208)"/>
<rect x="348.22" y="409.17" width="8.33" height="6.63" fill="rgb(27, 117, 208)"/>
<rect x="356.51" y="409.17" width="8.33" height="6.63" fill="rgb(243, 222, 218)"/>
<rect x="364.79" y="409.17" width="8.33" height="6.63" fill="rgb(236, 200, 194)"/>
<rect x="373.07" y="409.17" width="8.33" height="6.63" fill="rgb(236, 200, 194)"/>
<rect x="381.36" y="409.17" width="8.33" height="6.63" fill="rgb(243, 222, 218)"/>
<rect x="389.64" y="409.17" width="8.33" height="6.63" fill="rgb(243, 222, 218)"/>
<rect x="397.93" y="409.17" width="8.33" height="6.63" fill="rgb(236, 200, 194)"/>
<rect x="406.21" y="409.17" width="8.33" height="6.63" fill="rgb(243, 222, 218)"/>
<rect x="414.49" y="409.17" width="8.33" height="6.63" fill="rgb(232, 237, 250)"/>
<rect x="422.78" y="409.17" width="8.33" height="6.63" fill="rgb(210, 220, 245)"/>
<rect x="431.06" y="409.17" width="8.33" height="6.63" fill="rgb(250, 245, 245)"/>
<rect x="439.35" y="409.17" width="8.33" height="6.63" fill="rgb(250, 245, 245)"/>
<rect x="447.63" y="409.17" width="8.33" height="6.63" fill="rgb(210, 220, 245)"/>
<rect x="455.92" y="409.17" width="8.33" height="6.63" fill="rgb(243, 222, 218)"/>
<rect x="306.80" y="415.75" width="8.33" height="6.63" fill="rgb(185, 200, 238)"/>
<rect x="315.08" y="415.75" width="8.33" height="6.63" fill="rgb(27, 117, 208)"/>
<rect x="323.37" y="415.75" width="8.33" height="6.63" fill="rgb(185, 200, 238)"/>
<rect x="331.65" y="415.75" width="8.33" height="6.63" fill="rgb(185, 200, 238)"/>
<rect x="339.94" y="415.75" width="8.33" height="6.63" fill="rgb(27, 117, 208)"/>
<rect x="348.22" y="415.75" width="8.33" height="6.63" fill="rgb(27, 117, 208)"/>
<rect x="356.51" y="415.75" width="8.33" height="6.63" fill="rgb(250, 245, 245)"/>
<rect x="364.79" y="415.75" width="8.33" height="6.63" fill="rgb(250, 245, 245)"/>
<rect x="373.07" y="415.75" width="8.33" height="6.63" fill="rgb(243, 222, 218)"/>
<rect x="381.36" y="415.75" width="8.33" height="6.63" fill="rgb(250, 245, 245)"/>
<rect x="389.64" y="415.75" width="8.33" height="6.63" fill="rgb(243, 222, 218)"/>
<rect x="397.93" y="415.75" width="8.33" height="6.63" fill="rgb(243, 222, 218)"/>
<rect x="406.21" y="415.75" width="8.33" height="6.63" fill="rgb(243, 222, 218)"/>
<rect x="414.49" y="415.75" width="8.33" height="6.63" fill="rgb(232, 237, 250)"/>
<rect x="422.78" y="415.75" width="8.33" height="6.63" fill="rgb(185, 200, 238)"/>
<rect x="431.06" y="415.75" width="8.33" height="6.63" fill="rgb(243, 222, 218)"/>
<rect x="439.35" y="415.75" width="8.33" height="6.63" fill="rgb(232, 237, 250)"/>
<rect x="447.63" y="415.75" width="8.33" height="6.63" fill="rgb(210, 220, 245)"/>
<rect x="455.92" y="415.75" width="8.33" height="6.63" fill="rgb(250, 245, 245)"/>
<rect x="306.80" y="422.33" width="8.33" height="6.63" fill="rgb(185, 200, 238)"/>
<rect x="315.08" y="422.33" width="8.33" height="6.63" fill="rgb(185, 200, 238)"/>
<rect x="323.37" y="422.33" width="8.33" height="6.63" fill="rgb(185, 200, 238)"/>
<rect x="331.65" y="422.33" width="8.33" height="6.63" fill="rgb(185, 200, 238)"/>
<rect x="339.94" y="422.33" width="8.33" height="6.63" fill="rgb(27, 117, 208)"/>
<rect x="348.22" y="422.33" width="8.33" height="6.63" fill="rgb(155, 178, 230)"/>
<rect x="356.51" y="422.33" width="8.33" height="6.63" fill="rgb(236, 200, 194)"/>
<rect x="364.79" y="422.33" width="8.33" height="6.63" fill="rgb(250, 245, 245)"/>
<rect x="373.07" y="422.33" width="8.33" height="6.63" fill="rgb(236, 200, 194)"/>
<rect x="381.36" y="422.33" width="8.33" height="6.63" fill="rgb(243, 222, 218)"/>
<rect x="389.64" y="422.33" width="8.33" height="6.63" fill="rgb(243, 222, 218)"/>
<rect x="397.93" y="422.33" width="8.33" height="6.63" fill="rgb(236, 200, 194)"/>
<rect x="406.21" y="422.33" width="8.33" height="6.63" fill="rgb(250, 245, 245)"/>
<rect x="414.49" y="422.33" width="8.33" height="6.63" fill="rgb(250, 245, 245)"/>
<rect x="422.78" y="422.33" width="8.33" height="6.63" fill="rgb(185, 200, 238)"/>
<rect x="431.06" y="422.33" width="8.33" height="6.63" fill="rgb(250, 245, 245)"/>
<rect x="439.35" y="422.33" width="8.33" height="6.63" fill="rgb(185, 200, 238)"/>
<rect x="447.63" y="422.33" width="8.33" height="6.63" fill="rgb(185, 200, 238)"/>
<rect x="455.92" y="422.33" width="8.33" height="6.63" fill="rgb(243, 222, 218)"/>
<rect x="306.80" y="428.91" width="8.33" height="6.63" fill="rgb(210, 220, 245)"/>
<rect x="315.08" y="428.91" width="8.33" height="6.63" fill="rgb(185, 200, 238)"/>
<rect x="323.37" y="428.91" width="8.33" height="6.63" fill="rgb(210, 220, 245)"/>
<rect x="331.65" y="428.91" width="8.33" height="6.63" fill="rgb(185, 200, 238)"/>
<rect x="339.94" y="428.91" width="8.33" height="6.63" fill="rgb(27, 117, 208)"/>
<rect x="348.22" y="428.91" width="8.33" height="6.63" fill="rgb(27, 117, 208)"/>
<rect x="356.51" y="428.91" width="8.33" height="6.63" fill="rgb(250, 245, 245)"/>
<rect x="364.79" y="428.91" width="8.33" height="6.63" fill="rgb(236, 200, 194)"/>
<rect x="373.07" y="428.91" width="8.33" height="6.63" fill="rgb(236, 200, 194)"/>
<rect x="381.36" y="428.91" width="8.33" height="6.63" fill="rgb(243, 222, 218)"/>
<rect x="389.64" y="428.91" width="8.33" height="6.63" fill="rgb(250, 245, 245)"/>
<rect x="397.93" y="428.91" width="8.33" height="6.63" fill="rgb(243, 222, 218)"/>
<rect x="406.21" y="428.91" width="8.33" height="6.63" fill="rgb(243, 222, 218)"/>
<rect x="414.49" y="428.91" width="8.33" height="6.63" fill="rgb(250, 245, 245)"/>
<rect x="422.78" y="428.91" width="8.33" height="6.63" fill="rgb(210, 220, 245)"/>
<rect x="431.06" y="428.91" width="8.33" height="6.63" fill="rgb(243, 222, 218)"/>
<rect x="439.35" y="428.91" width="8.33" height="6.63" fill="rgb(250, 245, 245)"/>
<rect x="447.63" y="428.91" width="8.33" height="6.63" fill="rgb(232, 237, 250)"/>
<rect x="455.92" y="428.91" width="8.33" height="6.63" fill="rgb(250, 245, 245)"/>
<rect x="306.80" y="435.50" width="8.33" height="6.63" fill="rgb(185, 200, 238)"/>
<rect x="315.08" y="435.50" width="8.33" height="6.63" fill="rgb(185, 200, 238)"/>
<rect x="323.37" y="435.50" width="8.33" height="6.63" fill="rgb(210, 220, 245)"/>
<rect x="331.65" y="435.50" width="8.33" height="6.63" fill="rgb(185, 200, 238)"/>
<rect x="339.94" y="435.50" width="8.33" height="6.63" fill="rgb(27, 117, 208)"/>
<rect x="348.22" y="435.50" width="8.33" height="6.63" fill="rgb(185, 200, 238)"/>
<rect x="356.51" y="435.50" width="8.33" height="6.63" fill="rgb(243, 222, 218)"/>
<rect x="364.79" y="435.50" width="8.33" height="6.63" fill="rgb(232, 237, 250)"/>
<rect x="373.07" y="435.50" width="8.33" height="6.63" fill="rgb(232, 237, 250)"/>
<rect x="381.36" y="435.50" width="8.33" height="6.63" fill="rgb(232, 237, 250)"/>
<rect x="389.64" y="435.50" width="8.33" height="6.63" fill="rgb(250, 245, 245)"/>
<rect x="397.93" y="435.50" width="8.33" height="6.63" fill="rgb(232, 237, 250)"/>
<rect x="406.21" y="435.50" width="8.33" height="6.63" fill="rgb(243, 222, 218)"/>
<rect x="414.49" y="435.50" width="8.33" height="6.63" fill="rgb(243, 222, 218)"/>
<rect x="422.78" y="435.50" width="8.33" height="6.63" fill="rgb(185, 200, 238)"/>
<rect x="431.06" y="435.50" width="8.33" height="6.63" fill="rgb(250, 245, 245)"/>
<rect x="439.35" y="435.50" width="8.33" height="6.63" fill="rgb(232, 237, 250)"/>
<rect x="447.63" y="435.50" width="8.33" height="6.63" fill="rgb(210, 220, 245)"/>
<rect x="455.92" y="435.50" width="8.33" height="6.63" fill="rgb(250, 245, 245)"/>
<rect x="306.80" y="442.08" width="8.33" height="6.63" fill="rgb(27, 117, 208)"/>
<rect x="315.08" y="442.08" width="8.33" height="6.63" fill="rgb(185, 200, 238)"/>
<rect x="323.37" y="442.08" width="8.33" height="6.63" fill="rgb(210, 220, 245)"/>
<rect x="331.65" y="442.08" width="8.33" height="6.63" fill="rgb(27, 117, 208)"/>
<rect x="339.94" y="442.08" width="8.33" height="6.63" fill="rgb(27, 117, 208)"/>
<rect x="348.22" y="442.08" width="8.33" height="6.63" fill="rgb(27, 117, 208)"/>
<rect x="356.51" y="442.08" width="8.33" height="6.63" fill="rgb(250, 245, 245)"/>
<rect x="364.79" y="442.08" width="8.33" height="6.63" fill="rgb(250, 245, 245)"/>
<rect x="373.07" y="442.08" width="8.33" height="6.63" fill="rgb(243, 222, 218)"/>
<rect x="381.36" y="442.08" width="8.33" height="6.63" fill="rgb(250, 245, 245)"/>
<rect x="389.64" y="442.08" width="8.33" height="6.63" fill="rgb(243, 222, 218)"/>
<rect x="397.93" y="442.08" width="8.33" height="6.63" fill="rgb(250, 245, 245)"/>
<rect x="406.21" y="442.08" width="8.33" height="6.63" fill="rgb(232, 237, 250)"/>
<rect x="414.49" y="442.08" width="8.33" height="6.63" fill="rgb(250, 245, 245)"/>
<rect x="422.78" y="442.08" width="8.33" height="6.63" fill="rgb(210, 220, 245)"/>
<rect x="431.06" y="442.08" width="8.33" height="6.63" fill="rgb(250, 245, 245)"/>
<rect x="439.35" y="442.08" width="8.33" height="6.63" fill="rgb(210, 220, 245)"/>
<rect x="447.63" y="442.08" width="8.33" height="6.63" fill="rgb(185, 200, 238)"/>
<rect x="455.92" y="442.08" width="8.33" height="6.63" fill="rgb(232, 237, 250)"/>
<rect x="306.80" y="448.66" width="8.33" height="6.63" fill="rgb(27, 117, 208)"/>
<rect x="315.08" y="448.66" width="8.33" height="6.63" fill="rgb(185, 200, 238)"/>
<rect x="323.37" y="448.66" width="8.33" height="6.63" fill="rgb(155, 178, 230)"/>
<rect x="331.65" y="448.66" width="8.33" height="6.63" fill="rgb(185, 200, 238)"/>
<rect x="339.94" y="448.66" width="8.33" height="6.63" fill="rgb(27, 117, 208)"/>
<rect x="348.22" y="448.66" width="8.33" height="6.63" fill="rgb(155, 178, 230)"/>
<rect x="356.51" y="448.66" width="8.33" height="6.63" fill="rgb(232, 237, 250)"/>
<rect x="364.79" y="448.66" width="8.33" height="6.63" fill="rgb(232, 237, 250)"/>
<rect x="373.07" y="448.66" width="8.33" height="6.63" fill="rgb(250, 245, 245)"/>
<rect x="381.36" y="448.66" width="8.33" height="6.63" fill="rgb(232, 237, 250)"/>
<rect x="389.64" y="448.66" width="8.33" height="6.63" fill="rgb(232, 237, 250)"/>
<rect x="397.93" y="448.66" width="8.33" height="6.63" fill="rgb(232, 237, 250)"/>
<rect x="406.21" y="448.66" width="8.33" height="6.63" fill="rgb(232, 237, 250)"/>
<rect x="414.49" y="448.66" width="8.33" height="6.63" fill="rgb(232, 237, 250)"/>
<rect x="422.78" y="448.66" width="8.33" height="6.63" fill="rgb(185, 200, 238)"/>
<rect x="431.06" y="448.66" width="8.33" height="6.63" fill="rgb(243, 222, 218)"/>
<rect x="439.35" y="448.66" width="8.33" height="6.63" fill="rgb(210, 220, 245)"/>
<rect x="447.63" y="448.66" width="8.33" height="6.63" fill="rgb(210, 220, 245)"/>
<rect x="455.92" y="448.66" width="8.33" height="6.63" fill="rgb(210, 220, 245)"/>
<rect x="306.80" y="455.24" width="8.33" height="6.63" fill="rgb(210, 220, 245)"/>
<rect x="315.08" y="455.24" width="8.33" height="6.63" fill="rgb(210, 220, 245)"/>
<rect x="323.37" y="455.24" width="8.33" height="6.63" fill="rgb(27, 117, 208)"/>
<rect x="331.65" y="455.24" width="8.33" height="6.63" fill="rgb(27, 117, 208)"/>
<rect x="339.94" y="455.24" width="8.33" height="6.63" fill="rgb(27, 117, 208)"/>
<rect x="348.22" y="455.24" width="8.33" height="6.63" fill="rgb(210, 220, 245)"/>
<rect x="356.51" y="455.24" width="8.33" height="6.63" fill="rgb(219, 150, 140)"/>
<rect x="364.79" y="455.24" width="8.33" height="6.63" fill="rgb(250, 245, 245)"/>
<rect x="373.07" y="455.24" width="8.33" height="6.63" fill="rgb(219, 150, 140)"/>
<rect x="381.36" y="455.24" width="8.33" height="6.63" fill="rgb(243, 222, 218)"/>
<rect x="389.64" y="455.24" width="8.33" height="6.63" fill="rgb(210, 220, 245)"/>
<rect x="397.93" y="455.24" width="8.33" height="6.63" fill="rgb(210, 220, 245)"/>
<rect x="406.21" y="455.24" width="8.33" height="6.63" fill="rgb(229, 180, 172)"/>
<rect x="414.49" y="455.24" width="8.33" height="6.63" fill="rgb(250, 245, 245)"/>
<rect x="422.78" y="455.24" width="8.33" height="6.63" fill="rgb(250, 245, 245)"/>
<rect x="431.06" y="455.24" width="8.33" height="6.63" fill="rgb(27, 117, 208)"/>
<rect x="439.35" y="455.24" width="8.33" height="6.63" fill="rgb(250, 245, 245)"/>
<rect x="447.63" y="455.24" width="8.33" height="6.63" fill="rgb(210, 220, 245)"/>
<rect x="455.92" y="455.24" width="8.33" height="6.63" fill="rgb(210, 220, 245)"/>
<rect x="306.80" y="461.82" width="8.33" height="6.63" fill="rgb(210, 220, 245)"/>
<rect x="315.08" y="461.82" width="8.33" height="6.63" fill="rgb(210, 220, 245)"/>
<rect x="323.37" y="461.82" width="8.33" height="6.63" fill="rgb(27, 117, 208)"/>
<rect x="331.65" y="461.82" width="8.33" height="6.63" fill="rgb(210, 220, 245)"/>
<rect x="339.94" y="461.82" width="8.33" height="6.63" fill="rgb(27, 117, 208)"/>
<rect x="348.22" y="461.82" width="8.33" height="6.63" fill="rgb(210, 220, 245)"/>
<rect x="356.51" y="461.82" width="8.33" height="6.63" fill="rgb(229, 180, 172)"/>
<rect x="364.79" y="461.82" width="8.33" height="6.63" fill="rgb(250, 245, 245)"/>
<rect x="373.07" y="461.82" width="8.33" height="6.63" fill="rgb(243, 222, 218)"/>
<rect x="381.36" y="461.82" width="8.33" height="6.63" fill="rgb(236, 200, 194)"/>
<rect x="389.64" y="461.82" width="8.33" height="6.63" fill="rgb(236, 200, 194)"/>
<rect x="397.93" y="461.82" width="8.33" height="6.63" fill="rgb(236, 200, 194)"/>
<rect x="406.21" y="461.82" width="8.33" height="6.63" fill="rgb(210, 220, 245)"/>
<rect x="414.49" y="461.82" width="8.33" height="6.63" fill="rgb(250, 245, 245)"/>
<rect x="422.78" y="461.82" width="8.33" height="6.63" fill="rgb(27, 117, 208)"/>
<rect x="431.06" y="461.82" width="8.33" height="6.63" fill="rgb(236, 200, 194)"/>
<rect x="439.35" y="461.82" width="8.33" height="6.63" fill="rgb(27, 117, 208)"/>
<rect x="447.63" y="461.82" width="8.33" height="6.63" fill="rgb(243, 222, 218)"/>
<rect x="455.92" y="461.82" width="8.33" height="6.63" fill="rgb(250, 245, 245)"/>
<rect x="306.80" y="468.41" width="8.33" height="6.63" fill="rgb(27, 117, 208)"/>
<rect x="315.08" y="468.41" width="8.33" height="6.63" fill="rgb(27, 117, 208)"/>
<rect x="323.37" y="468.41" width="8.33" height="6.63" fill="rgb(27, 117, 208)"/>
<rect x="331.65" y="468.41" width="8.33" height="6.63" fill="rgb(185, 200, 238)"/>
<rect x="339.94" y="468.41" width="8.33" height="6.63" fill="rgb(185, 200, 238)"/>
<rect x="348.22" y="468.41" width="8.33" height="6.63" fill="rgb(27, 117, 208)"/>
<rect x="356.51" y="468.41" width="8.33" height="6.63" fill="rgb(232, 237, 250)"/>
<rect x="364.79" y="468.41" width="8.33" height="6.63" fill="rgb(229, 180, 172)"/>
<rect x="373.07" y="468.41" width="8.33" height="6.63" fill="rgb(243, 222, 218)"/>
<rect x="381.36" y="468.41" width="8.33" height="6.63" fill="rgb(236, 200, 194)"/>
<rect x="389.64" y="468.41" width="8.33" height="6.63" fill="rgb(250, 245, 245)"/>
<rect x="397.93" y="468.41" width="8.33" height="6.63" fill="rgb(243, 222, 218)"/>
<rect x="406.21" y="468.41" width="8.33" height="6.63" fill="rgb(232, 237, 250)"/>
<rect x="414.49" y="468.41" width="8.33" height="6.63" fill="rgb(243, 222, 218)"/>
<rect x="422.78" y="468.41" width="8.33" height="6.63" fill="rgb(27, 117, 208)"/>
<rect x="431.06" y="468.41" width="8.33" height="6.63" fill="rgb(236, 200, 194)"/>
<rect x="439.35" y="468.41" width="8.33" height="6.63" fill="rgb(210, 220, 245)"/>
<rect x="447.63" y="468.41" width="8.33" height="6.63" fill="rgb(232, 237, 250)"/>
<rect x="455.92" y="468.41" width="8.33" height="6.63" fill="rgb(243, 222, 218)"/>
<rect x="306.80" y="474.99" width="8.33" height="6.63" fill="rgb(27, 117, 208)"/>
<rect x="315.08" y="474.99" width="8.33" height="6.63" fill="rgb(27, 117, 208)"/>
<rect x="323.37" y="474.99" width="8.33" height="6.63" fill="rgb(185, 200, 238)"/>
<rect x="331.65" y="474.99" width="8.33" height="6.63" fill="rgb(27, 117, 208)"/>
<rect x="339.94" y="474.99" width="8.33" height="6.63" fill="rgb(27, 117, 208)"/>
<rect x="348.22" y="474.99" width="8.33" height="6.63" fill="rgb(185, 200, 238)"/>
<rect x="356.51" y="474.99" width="8.33" height="6.63" fill="rgb(250, 245, 245)"/>
<rect x="364.79" y="474.99" width="8.33" height="6.63" fill="rgb(243, 222, 218)"/>
<rect x="373.07" y="474.99" width="8.33" height="6.63" fill="rgb(232, 237, 250)"/>
<rect x="381.36" y="474.99" width="8.33" height="6.63" fill="rgb(250, 245, 245)"/>
<rect x="389.64" y="474.99" width="8.33" height="6.63" fill="rgb(232, 237, 250)"/>
<rect x="397.93" y="474.99" width="8.33" height="6.63" fill="rgb(210, 220, 245)"/>
<rect x="406.21" y="474.99" width="8.33" height="6.63" fill="rgb(185, 200, 238)"/>
<rect x="414.49" y="474.99" width="8.33" height="6.63" fill="rgb(232, 237, 250)"/>
<rect x="422.78" y="474.99" width="8.33" height="6.63" fill="rgb(27, 117, 208)"/>
<rect x="431.06" y="474.99" width="8.33" height="6.63" fill="rgb(243, 222, 218)"/>
<rect x="439.35" y="474.99" width="8.33" height="6.63" fill="rgb(210, 220, 245)"/>
<rect x="447.63" y="474.99" width="8.33" height="6.63" fill="rgb(250, 245, 245)"/>
<rect x="455.92" y="474.99" width="8.33" height="6.63" fill="rgb(185, 200, 238)"/>
<rect x="306.80" y="481.57" width="8.33" height="6.63" fill="rgb(210, 220, 245)"/>
<rect x="315.08" y="481.57" width="8.33" height="6.63" fill="rgb(27, 117, 208)"/>
<rect x="323.37" y="481.57" width="8.33" height="6.63" fill="rgb(27, 117, 208)"/>
<rect x="331.65" y="481.57" width="8.33" height="6.63" fill="rgb(27, 117, 208)"/>
<rect x="339.94" y="481.57" width="8.33" height="6.63" fill="rgb(27, 117, 208)"/>
<rect x="348.22" y="481.57" width="8.33" height="6.63" fill="rgb(27, 117, 208)"/>
<rect x="356.51" y="481.57" width="8.33" height="6.63" fill="rgb(250, 245, 245)"/>
<rect x="364.79" y="481.57" width="8.33" height="6.63" fill="rgb(243, 222, 218)"/>
<rect x="373.07" y="481.57" width="8.33" height="6.63" fill="rgb(232, 237, 250)"/>
<rect x="381.36" y="481.57" width="8.33" height="6.63" fill="rgb(232, 237, 250)"/>
<rect x="389.64" y="481.57" width="8.33" height="6.63" fill="rgb(185, 200, 238)"/>
<rect x="397.93" y="481.57" width="8.33" height="6.63" fill="rgb(250, 245, 245)"/>
<rect x="406.21" y="481.57" width="8.33" height="6.63" fill="rgb(210, 220, 245)"/>
<rect x="414.49" y="481.57" width="8.33" height="6.63" fill="rgb(250, 245, 245)"/>
<rect x="422.78" y="481.57" width="8.33" height="6.63" fill="rgb(27, 117, 208)"/>
<rect x="431.06" y="481.57" width="8.33" height="6.63" fill="rgb(243, 222, 218)"/>
<rect x="439.35" y="481.57" width="8.33" height="6.63" fill="rgb(27, 117, 208)"/>
<rect x="447.63" y="481.57" width="8.33" height="6.63" fill="rgb(250, 245, 245)"/>
<rect x="455.92" y="481.57" width="8.33" height="6.63" fill="rgb(232, 237, 250)"/>
<rect x="306.80" y="488.15" width="8.33" height="6.63" fill="rgb(185, 200, 238)"/>
<rect x="315.08" y="488.15" width="8.33" height="6.63" fill="rgb(185, 200, 238)"/>
<rect x="323.37" y="488.15" width="8.33" height="6.63" fill="rgb(27, 117, 208)"/>
<rect x="331.65" y="488.15" width="8.33" height="6.63" fill="rgb(27, 117, 208)"/>
<rect x="339.94" y="488.15" width="8.33" height="6.63" fill="rgb(27, 117, 208)"/>
<rect x="348.22" y="488.15" width="8.33" height="6.63" fill="rgb(27, 117, 208)"/>
<rect x="356.51" y="488.15" width="8.33" height="6.63" fill="rgb(185, 200, 238)"/>
<rect x="364.79" y="488.15" width="8.33" height="6.63" fill="rgb(243, 222, 218)"/>
<rect x="373.07" y="488.15" width="8.33" height="6.63" fill="rgb(250, 245, 245)"/>
<rect x="381.36" y="488.15" width="8.33" height="6.63" fill="rgb(243, 222, 218)"/>
<rect x="389.64" y="488.15" width="8.33" height="6.63" fill="rgb(232, 237, 250)"/>
<rect x="397.93" y="488.15" width="8.33" height="6.63" fill="rgb(232, 237, 250)"/>
<rect x="406.21" y="488.15" width="8.33" height="6.63" fill="rgb(210, 220, 245)"/>
<rect x="414.49" y="488.15" width="8.33" height="6.63" fill="rgb(210, 220, 245)"/>
<rect x="422.78" y="488.15" width="8.33" height="6.63" fill="rgb(27, 117, 208)"/>
<rect x="431.06" y="488.15" width="8.33" height="6.63" fill="rgb(232, 237, 250)"/>
<rect x="439.35" y="488.15" width="8.33" height="6.63" fill="rgb(27, 117, 208)"/>
<rect x="447.63" y="488.15" width="8.33" height="6.63" fill="rgb(210, 220, 245)"/>
<rect x="455.92" y="488.15" width="8.33" height="6.63" fill="rgb(232, 237, 250)"/>
<rect x="306.80" y="494.73" width="8.33" height="6.63" fill="rgb(27, 117, 208)"/>
<rect x="315.08" y="494.73" width="8.33" height="6.63" fill="rgb(27, 117, 208)"/>
<rect x="323.37" y="494.73" width="8.33" height="6.63" fill="rgb(27, 117, 208)"/>
<rect x="331.65" y="494.73" width="8.33" height="6.63" fill="rgb(27, 117, 208)"/>
<rect x="339.94" y="494.73" width="8.33" height="6.63" fill="rgb(27, 117, 208)"/>
<rect x="348.22" y="494.73" width="8.33" height="6.63" fill="rgb(27, 117, 208)"/>
<rect x="356.51" y="494.73" width="8.33" height="6.63" fill="rgb(243, 222, 218)"/>
<rect x="364.79" y="494.73" width="8.33" height="6.63" fill="rgb(243, 222, 218)"/>
<rect x="373.07" y="494.73" width="8.33" height="6.63" fill="rgb(232, 237, 250)"/>
<rect x="381.36" y="494.73" width="8.33" height="6.63" fill="rgb(210, 220, 245)"/>
<rect x="389.64" y="494.73" width="8.33" height="6.63" fill="rgb(250, 245, 245)"/>
<rect x="397.93" y="494.73" width="8.33" height="6.63" fill="rgb(232, 237, 250)"/>
<rect x="406.21" y="494.73" width="8.33" height="6.63" fill="rgb(243, 222, 218)"/>
<rect x="414.49" y="494.73" width="8.33" height="6.63" fill="rgb(232, 237, 250)"/>
<rect x="422.78" y="494.73" width="8.33" height="6.63" fill="rgb(232, 237, 250)"/>
<rect x="431.06" y="494.73" width="8.33" height="6.63" fill="rgb(243, 222, 218)"/>
<rect x="439.35" y="494.73" width="8.33" height="6.63" fill="rgb(210, 220, 245)"/>
<rect x="447.63" y="494.73" width="8.33" height="6.63" fill="rgb(243, 222, 218)"/>
<rect x="455.92" y="494.73" width="8.33" height="6.63" fill="rgb(27, 117, 208)"/>
<rect x="306.80" y="501.32" width="8.33" height="6.63" fill="rgb(27, 117, 208)"/>
<rect x="315.08" y="501.32" width="8.33" height="6.63" fill="rgb(27, 117, 208)"/>
<rect x="323.37" y="501.32" width="8.33" height="6.63" fill="rgb(27, 117, 208)"/>
<rect x="331.65" y="501.32" width="8.33" height="6.63" fill="rgb(27, 117, 208)"/>
<rect x="339.94" y="501.32" width="8.33" height="6.63" fill="rgb(27, 117, 208)"/>
<rect x="348.22" y="501.32" width="8.33" height="6.63" fill="rgb(27, 117, 208)"/>
<rect x="356.51" y="501.32" width="8.33" height="6.63" fill="rgb(232, 237, 250)"/>
<rect x="364.79" y="501.32" width="8.33" height="6.63" fill="rgb(185, 200, 238)"/>
<rect x="373.07" y="501.32" width="8.33" height="6.63" fill="rgb(232, 237, 250)"/>
<rect x="381.36" y="501.32" width="8.33" height="6.63" fill="rgb(232, 237, 250)"/>
<rect x="389.64" y="501.32" width="8.33" height="6.63" fill="rgb(210, 220, 245)"/>
<rect x="397.93" y="501.32" width="8.33" height="6.63" fill="rgb(210, 220, 245)"/>
<rect x="406.21" y="501.32" width="8.33" height="6.63" fill="rgb(232, 237, 250)"/>
<rect x="414.49" y="501.32" width="8.33" height="6.63" fill="rgb(232, 237, 250)"/>
<rect x="422.78" y="501.32" width="8.33" height="6.63" fill="rgb(232, 237, 250)"/>
<rect x="431.06" y="501.32" width="8.33" height="6.63" fill="rgb(232, 237, 250)"/>
<rect x="439.35" y="501.32" width="8.33" height="6.63" fill="rgb(210, 220, 245)"/>
<rect x="447.63" y="501.32" width="8.33" height="6.63" fill="rgb(232, 237, 250)"/>
<rect x="455.92" y="501.32" width="8.33" height="6.63" fill="rgb(232, 237, 250)"/>
<rect x="306.80" y="507.90" width="8.33" height="6.63" fill="rgb(27, 117, 208)"/>
<rect x="315.08" y="507.90" width="8.33" height="6.63" fill="rgb(185, 200, 238)"/>
<rect x="323.37" y="507.90" width="8.33" height="6.63" fill="rgb(185, 200, 238)"/>
<rect x="331.65" y="507.90" width="8.33" height="6.63" fill="rgb(27, 117, 208)"/>
<rect x="339.94" y="507.90" width="8.33" height="6.63" fill="rgb(27, 117, 208)"/>
<rect x="348.22" y="507.90" width="8.33" height="6.63" fill="rgb(27, 117, 208)"/>
<rect x="356.51" y="507.90" width="8.33" height="6.63" fill="rgb(232, 237, 250)"/>
<rect x="364.79" y="507.90" width="8.33" height="6.63" fill="rgb(243, 222, 218)"/>
<rect x="373.07" y="507.90" width="8.33" height="6.63" fill="rgb(243, 222, 218)"/>
<rect x="381.36" y="507.90" width="8.33" height="6.63" fill="rgb(243, 222, 218)"/>
<rect x="389.64" y="507.90" width="8.33" height="6.63" fill="rgb(232, 237, 250)"/>
<rect x="397.93" y="507.90" width="8.33" height="6.63" fill="rgb(232, 237, 250)"/>
<rect x="406.21" y="507.90" width="8.33" height="6.63" fill="rgb(232, 237, 250)"/>
<rect x="414.49" y="507.90" width="8.33" height="6.63" fill="rgb(210, 220, 245)"/>
<rect x="422.78" y="507.90" width="8.33" height="6.63" fill="rgb(210, 220, 245)"/>
<rect x="431.06" y="507.90" width="8.33" height="6.63" fill="rgb(232, 237, 250)"/>
<rect x="439.35" y="507.90" width="8.33" height="6.63" fill="rgb(27, 117, 208)"/>
<rect x="447.63" y="507.90" width="8.33" height="6.63" fill="rgb(232, 237, 250)"/>
<rect x="455.92" y="507.90" width="8.33" height="6.63" fill="rgb(232, 237, 250)"/>
<rect x="306.80" y="514.48" width="8.33" height="6.63" fill="rgb(27, 117, 208)"/>
<rect x="315.08" y="514.48" width="8.33" height="6.63" fill="rgb(27, 117, 208)"/>
<rect x="323.37" y="514.48" width="8.33" height="6.63" fill="rgb(27, 117, 208)"/>
<rect x="331.65" y="514.48" width="8.33" height="6.63" fill="rgb(27, 117, 208)"/>
<rect x="339.94" y="514.48" width="8.33" height="6.63" fill="rgb(27, 117, 208)"/>
<rect x="348.22" y="514.48" width="8.33" height="6.63" fill="rgb(27, 117, 208)"/>
<rect x="356.51" y="514.48" width="8.33" height="6.63" fill="rgb(185, 200, 238)"/>
<rect x="364.79" y="514.48" width="8.33" height="6.63" fill="rgb(210, 220, 245)"/>
<rect x="373.07" y="514.48" width="8.33" height="6.63" fill="rgb(210, 220, 245)"/>
<rect x="381.36" y="514.48" width="8.33" height="6.63" fill="rgb(232, 237, 250)"/>
<rect x="389.64" y="514.48" width="8.33" height="6.63" fill="rgb(232, 237, 250)"/>
<rect x="397.93" y="514.48" width="8.33" height="6.63" fill="rgb(210, 220, 245)"/>
<rect x="406.21" y="514.48" width="8.33" height="6.63" fill="rgb(232, 237, 250)"/>
<rect x="414.49" y="514.48" width="8.33" height="6.63" fill="rgb(210, 220, 245)"/>
<rect x="422.78" y="514.48" width="8.33" height="6.63" fill="rgb(210, 220, 245)"/>
<rect x="431.06" y="514.48" width="8.33" height="6.63" fill="rgb(232, 237, 250)"/>
<rect x="439.35" y="514.48" width="8.33" height="6.63" fill="rgb(27, 117, 208)"/>
<rect x="447.63" y="514.48" width="8.33" height="6.63" fill="rgb(210, 220, 245)"/>
<rect x="455.92" y="514.48" width="8.33" height="6.63" fill="rgb(185, 200, 238)"/>
<rect x="306.80" y="521.06" width="8.33" height="6.63" fill="rgb(27, 117, 208)"/>
<rect x="315.08" y="521.06" width="8.33" height="6.63" fill="rgb(27, 117, 208)"/>
<rect x="323.37" y="521.06" width="8.33" height="6.63" fill="rgb(27, 117, 208)"/>
<rect x="331.65" y="521.06" width="8.33" height="6.63" fill="rgb(185, 200, 238)"/>
<rect x="339.94" y="521.06" width="8.33" height="6.63" fill="rgb(27, 117, 208)"/>
<rect x="348.22" y="521.06" width="8.33" height="6.63" fill="rgb(27, 117, 208)"/>
<rect x="356.51" y="521.06" width="8.33" height="6.63" fill="rgb(250, 245, 245)"/>
<rect x="364.79" y="521.06" width="8.33" height="6.63" fill="rgb(232, 237, 250)"/>
<rect x="373.07" y="521.06" width="8.33" height="6.63" fill="rgb(236, 200, 194)"/>
<rect x="381.36" y="521.06" width="8.33" height="6.63" fill="rgb(250, 245, 245)"/>
<rect x="389.64" y="521.06" width="8.33" height="6.63" fill="rgb(232, 237, 250)"/>
<rect x="397.93" y="521.06" width="8.33" height="6.63" fill="rgb(232, 237, 250)"/>
<rect x="406.21" y="521.06" width="8.33" height="6.63" fill="rgb(250, 245, 245)"/>
<rect x="414.49" y="521.06" width="8.33" height="6.63" fill="rgb(232, 237, 250)"/>
<rect x="422.78" y="521.06" width="8.33" height="6.63" fill="rgb(185, 200, 238)"/>
<rect x="431.06" y="521.06" width="8.33" height="6.63" fill="rgb(243, 222, 218)"/>
<rect x="439.35" y="521.06" width="8.33" height="6.63" fill="rgb(232, 237, 250)"/>
<rect x="447.63" y="521.06" width="8.33" height="6.63" fill="rgb(155, 178, 230)"/>
<rect x="455.92" y="521.06" width="8.33" height="6.63" fill="rgb(232, 237, 250)"/>
<rect x="306.80" y="527.64" width="8.33" height="6.63" fill="rgb(27, 117, 208)"/>
<rect x="315.08" y="527.64" width="8.33" height="6.63" fill="rgb(27, 117, 208)"/>
<rect x="323.37" y="527.64" width="8.33" height="6.63" fill="rgb(27, 117, 208)"/>
<rect x="331.65" y="527.64" width="8.33" height="6.63" fill="rgb(27, 117, 208)"/>
<rect x="339.94" y="527.64" width="8.33" height="6.63" fill="rgb(27, 117, 208)"/>
<rect x="348.22" y="527.64" width="8.33" height="6.63" fill="rgb(27, 117, 208)"/>
<rect x="356.51" y="527.64" width="8.33" height="6.63" fill="rgb(232, 237, 250)"/>
<rect x="364.79" y="527.64" width="8.33" height="6.63" fill="rgb(243, 222, 218)"/>
<rect x="373.07" y="527.64" width="8.33" height="6.63" fill="rgb(219, 150, 140)"/>
<rect x="381.36" y="527.64" width="8.33" height="6.63" fill="rgb(250, 245, 245)"/>
<rect x="389.64" y="527.64" width="8.33" height="6.63" fill="rgb(232, 237, 250)"/>
<rect x="397.93" y="527.64" width="8.33" height="6.63" fill="rgb(243, 222, 218)"/>
<rect x="406.21" y="527.64" width="8.33" height="6.63" fill="rgb(250, 245, 245)"/>
<rect x="414.49" y="527.64" width="8.33" height="6.63" fill="rgb(232, 237, 250)"/>
<rect x="422.78" y="527.64" width="8.33" height="6.63" fill="rgb(232, 237, 250)"/>
<rect x="431.06" y="527.64" width="8.33" height="6.63" fill="rgb(232, 237, 250)"/>
<rect x="439.35" y="527.64" width="8.33" height="6.63" fill="rgb(232, 237, 250)"/>
<rect x="447.63" y="527.64" width="8.33" height="6.63" fill="rgb(27, 117, 208)"/>
<rect x="455.92" y="527.64" width="8.33" height="6.63" fill="rgb(250, 245, 245)"/>
<rect x="306.80" y="534.23" width="8.33" height="6.63" fill="rgb(27, 117, 208)"/>
<rect x="315.08" y="534.23" width="8.33" height="6.63" fill="rgb(27, 117, 208)"/>
<rect x="323.37" y="534.23" width="8.33" height="6.63" fill="rgb(27, 117, 208)"/>
<rect x="331.65" y="534.23" width="8.33" height="6.63" fill="rgb(27, 117, 208)"/>
<rect x="339.94" y="534.23" width="8.33" height="6.63" fill="rgb(27, 117, 208)"/>
<rect x="348.22" y="534.23" width="8.33" height="6.63" fill="rgb(27, 117, 208)"/>
<rect x="356.51" y="534.23" width="8.33" height="6.63" fill="rgb(210, 220, 245)"/>
<rect x="364.79" y="534.23" width="8.33" height="6.63" fill="rgb(243, 222, 218)"/>
<rect x="373.07" y="534.23" width="8.33" height="6.63" fill="rgb(232, 237, 250)"/>
<rect x="381.36" y="534.23" width="8.33" height="6.63" fill="rgb(250, 245, 245)"/>
<rect x="389.64" y="534.23" width="8.33" height="6.63" fill="rgb(232, 237, 250)"/>
<rect x="397.93" y="534.23" width="8.33" height="6.63" fill="rgb(232, 237, 250)"/>
<rect x="406.21" y="534.23" width="8.33" height="6.63" fill="rgb(250, 245, 245)"/>
<rect x="414.49" y="534.23" width="8.33" height="6.63" fill="rgb(250, 245, 245)"/>
<rect x="422.78" y="534.23" width="8.33" height="6.63" fill="rgb(232, 237, 250)"/>
<rect x="431.06" y="534.23" width="8.33" height="6.63" fill="rgb(243, 222, 218)"/>
<rect x="439.35" y="534.23" width="8.33" height="6.63" fill="rgb(232, 237, 250)"/>
<rect x="447.63" y="534.23" width="8.33" height="6.63" fill="rgb(27, 117, 208)"/>
<rect x="455.92" y="534.23" width="8.33" height="6.63" fill="rgb(243, 222, 218)"/>
<rect x="306.80" y="540.81" width="8.33" height="6.63" fill="rgb(27, 117, 208)"/>
<rect x="315.08" y="540.81" width="8.33" height="6.63" fill="rgb(27, 117, 208)"/>
<rect x="323.37" y="540.81" width="8.33" height="6.63" fill="rgb(27, 117, 208)"/>
<rect x="331.65" y="540.81" width="8.33" height="6.63" fill="rgb(27, 117, 208)"/>
<rect x="339.94" y="540.81" width="8.33" height="6.63" fill="rgb(27, 117, 208)"/>
<rect x="348.22" y="540.81" width="8.33" height="6.63" fill="rgb(27, 117, 208)"/>
<rect x="356.51" y="540.81" width="8.33" height="6.63" fill="rgb(210, 220, 245)"/>
<rect x="364.79" y="540.81" width="8.33" height="6.63" fill="rgb(232, 237, 250)"/>
<rect x="373.07" y="540.81" width="8.33" height="6.63" fill="rgb(232, 237, 250)"/>
<rect x="381.36" y="540.81" width="8.33" height="6.63" fill="rgb(185, 200, 238)"/>
<rect x="389.64" y="540.81" width="8.33" height="6.63" fill="rgb(27, 117, 208)"/>
<rect x="397.93" y="540.81" width="8.33" height="6.63" fill="rgb(232, 237, 250)"/>
<rect x="406.21" y="540.81" width="8.33" height="6.63" fill="rgb(232, 237, 250)"/>
<rect x="414.49" y="540.81" width="8.33" height="6.63" fill="rgb(232, 237, 250)"/>
<rect x="422.78" y="540.81" width="8.33" height="6.63" fill="rgb(210, 220, 245)"/>
<rect x="431.06" y="540.81" width="8.33" height="6.63" fill="rgb(232, 237, 250)"/>
<rect x="439.35" y="540.81" width="8.33" height="6.63" fill="rgb(185, 200, 238)"/>
<rect x="447.63" y="540.81" width="8.33" height="6.63" fill="rgb(27, 117, 208)"/>
<rect x="455.92" y="540.81" width="8.33" height="6.63" fill="rgb(232, 237, 250)"/>
<rect x="306.80" y="547.39" width="8.33" height="6.63" fill="rgb(185, 200, 238)"/>
<rect x="315.08" y="547.39" width="8.33" height="6.63" fill="rgb(27, 117, 208)"/>
<rect x="323.37" y="547.39" width="8.33" height="6.63" fill="rgb(185, 200, 238)"/>
<rect x="331.65" y="547.39" width="8.33" height="6.63" fill="rgb(27, 117, 208)"/>
<rect x="339.94" y="547.39" width="8.33" height="6.63" fill="rgb(27, 117, 208)"/>
<rect x="348.22" y="547.39" width="8.33" height="6.63" fill="rgb(27, 117, 208)"/>
<rect x="356.51" y="547.39" width="8.33" height="6.63" fill="rgb(232, 237, 250)"/>
<rect x="364.79" y="547.39" width="8.33" height="6.63" fill="rgb(210, 220, 245)"/>
<rect x="373.07" y="547.39" width="8.33" height="6.63" fill="rgb(243, 222, 218)"/>
<rect x="381.36" y="547.39" width="8.33" height="6.63" fill="rgb(210, 220, 245)"/>
<rect x="389.64" y="547.39" width="8.33" height="6.63" fill="rgb(243, 222, 218)"/>
<rect x="397.93" y="547.39" width="8.33" height="6.63" fill="rgb(27, 117, 208)"/>
<rect x="406.21" y="547.39" width="8.33" height="6.63" fill="rgb(250, 245, 245)"/>
<rect x="414.49" y="547.39" width="8.33" height="6.63" fill="rgb(250, 245, 245)"/>
<rect x="422.78" y="547.39" width="8.33" height="6.63" fill="rgb(27, 117, 208)"/>
<rect x="431.06" y="547.39" width="8.33" height="6.63" fill="rgb(232, 237, 250)"/>
<rect x="439.35" y="547.39" width="8.33" height="6.63" fill="rgb(185, 200, 238)"/>
<rect x="447.63" y="547.39" width="8.33" height="6.63" fill="rgb(232, 237, 250)"/>
<rect x="455.92" y="547.39" width="8.33" height="6.63" fill="rgb(250, 245, 245)"/>
<rect x="306.80" y="553.97" width="8.33" height="6.63" fill="rgb(27, 117, 208)"/>
<rect x="315.08" y="553.97" width="8.33" height="6.63" fill="rgb(27, 117, 208)"/>
<rect x="323.37" y="553.97" width="8.33" height="6.63" fill="rgb(27, 117, 208)"/>
<rect x="331.65" y="553.97" width="8.33" height="6.63" fill="rgb(27, 117, 208)"/>
<rect x="339.94" y="553.97" width="8.33" height="6.63" fill="rgb(27, 117, 208)"/>
<rect x="348.22" y="553.97" width="8.33" height="6.63" fill="rgb(27, 117, 208)"/>
<rect x="356.51" y="553.97" width="8.33" height="6.63" fill="rgb(210, 220, 245)"/>
<rect x="364.79" y="553.97" width="8.33" height="6.63" fill="rgb(27, 117, 208)"/>
<rect x="373.07" y="553.97" width="8.33" height="6.63" fill="rgb(250, 245, 245)"/>
<rect x="381.36" y="553.97" width="8.33" height="6.63" fill="rgb(250, 245, 245)"/>
<rect x="389.64" y="553.97" width="8.33" height="6.63" fill="rgb(210, 220, 245)"/>
<rect x="397.93" y="553.97" width="8.33" height="6.63" fill="rgb(27, 117, 208)"/>
<rect x="406.21" y="553.97" width="8.33" height="6.63" fill="rgb(232, 237, 250)"/>
<rect x="414.49" y="553.97" width="8.33" height="6.63" fill="rgb(250, 245, 245)"/>
<rect x="422.78" y="553.97" width="8.33" height="6.63" fill="rgb(232, 237, 250)"/>
<rect x="431.06" y="553.97" width="8.33" height="6.63" fill="rgb(232, 237, 250)"/>
<rect x="439.35" y="553.97" width="8.33" height="6.63" fill="rgb(27, 117, 208)"/>
<rect x="447.63" y="553.97" width="8.33" height="6.63" fill="rgb(210, 220, 245)"/>
<rect x="455.92" y="553.97" width="8.33" height="6.63" fill="rgb(250, 245, 245)"/>
<rect x="306.80" y="560.55" width="8.33" height="6.63" fill="rgb(27, 117, 208)"/>
<rect x="315.08" y="560.55" width="8.33" height="6.63" fill="rgb(27, 117, 208)"/>
<rect x="323.37" y="560.55" width="8.33" height="6.63" fill="rgb(27, 117, 208)"/>
<rect x="331.65" y="560.55" width="8.33" height="6.63" fill="rgb(27, 117, 208)"/>
<rect x="339.94" y="560.55" width="8.33" height="6.63" fill="rgb(27, 117, 208)"/>
<rect x="348.22" y="560.55" width="8.33" height="6.63" fill="rgb(27, 117, 208)"/>
<rect x="356.51" y="560.55" width="8.33" height="6.63" fill="rgb(210, 220, 245)"/>
<rect x="364.79" y="560.55" width="8.33" height="6.63" fill="rgb(27, 117, 208)"/>
<rect x="373.07" y="560.55" width="8.33" height="6.63" fill="rgb(243, 222, 218)"/>
<rect x="381.36" y="560.55" width="8.33" height="6.63" fill="rgb(210, 220, 245)"/>
<rect x="389.64" y="560.55" width="8.33" height="6.63" fill="rgb(185, 200, 238)"/>
<rect x="397.93" y="560.55" width="8.33" height="6.63" fill="rgb(250, 245, 245)"/>
<rect x="406.21" y="560.55" width="8.33" height="6.63" fill="rgb(210, 220, 245)"/>
<rect x="414.49" y="560.55" width="8.33" height="6.63" fill="rgb(232, 237, 250)"/>
<rect x="422.78" y="560.55" width="8.33" height="6.63" fill="rgb(210, 220, 245)"/>
<rect x="431.06" y="560.55" width="8.33" height="6.63" fill="rgb(250, 245, 245)"/>
<rect x="439.35" y="560.55" width="8.33" height="6.63" fill="rgb(27, 117, 208)"/>
<rect x="447.63" y="560.55" width="8.33" height="6.63" fill="rgb(210, 220, 245)"/>
<rect x="455.92" y="560.55" width="8.33" height="6.63" fill="rgb(185, 200, 238)"/>
<rect x="306.80" y="567.14" width="8.33" height="6.63" fill="rgb(155, 178, 230)"/>
<rect x="315.08" y="567.14" width="8.33" height="6.63" fill="rgb(27, 117, 208)"/>
<rect x="323.37" y="567.14" width="8.33" height="6.63" fill="rgb(243, 222, 218)"/>
<rect x="331.65" y="567.14" width="8.33" height="6.63" fill="rgb(210, 220, 245)"/>
<rect x="339.94" y="567.14" width="8.33" height="6.63" fill="rgb(185, 200, 238)"/>
<rect x="348.22" y="567.14" width="8.33" height="6.63" fill="rgb(236, 200, 194)"/>
<rect x="356.51" y="567.14" width="8.33" height="6.63" fill="rgb(155, 178, 230)"/>
<rect x="364.79" y="567.14" width="8.33" height="6.63" fill="rgb(27, 117, 208)"/>
<rect x="373.07" y="567.14" width="8.33" height="6.63" fill="rgb(27, 117, 208)"/>
<rect x="381.36" y="567.14" width="8.33" height="6.63" fill="rgb(27, 117, 208)"/>
<rect x="389.64" y="567.14" width="8.33" height="6.63" fill="rgb(232, 237, 250)"/>
<rect x="397.93" y="567.14" width="8.33" height="6.63" fill="rgb(27, 117, 208)"/>
<rect x="406.21" y="567.14" width="8.33" height="6.63" fill="rgb(27, 117, 208)"/>
<rect x="414.49" y="567.14" width="8.33" height="6.63" fill="rgb(185, 200, 238)"/>
<rect x="422.78" y="567.14" width="8.33" height="6.63" fill="rgb(27, 117, 208)"/>
<rect x="431.06" y="567.14" width="8.33" height="6.63" fill="rgb(185, 200, 238)"/>
<rect x="439.35" y="567.14" width="8.33" height="6.63" fill="rgb(27, 117, 208)"/>
<rect x="447.63" y="567.14" width="8.33" height="6.63" fill="rgb(210, 220, 245)"/>
<rect x="455.92" y="567.14" width="8.33" height="6.63" fill="rgb(27, 117, 208)"/>
<rect x="306.80" y="573.72" width="8.33" height="6.63" fill="rgb(243, 222, 218)"/>
<rect x="315.08" y="573.72" width="8.33" height="6.63" fill="rgb(210, 220, 245)"/>
<rect x="323.37" y="573.72" width="8.33" height="6.63" fill="rgb(243, 222, 218)"/>
<rect x="331.65" y="573.72" width="8.33" height="6.63" fill="rgb(27, 117, 208)"/>
<rect x="339.94" y="573.72" width="8.33" height="6.63" fill="rgb(210, 220, 245)"/>
<rect x="348.22" y="573.72" width="8.33" height="6.63" fill="rgb(243, 222, 218)"/>
<rect x="356.51" y="573.72" width="8.33" height="6.63" fill="rgb(155, 178, 230)"/>
<rect x="364.79" y="573.72" width="8.33" height="6.63" fill="rgb(27, 117, 208)"/>
<rect x="373.07" y="573.72" width="8.33" height="6.63" fill="rgb(27, 117, 208)"/>
<rect x="381.36" y="573.72" width="8.33" height="6.63" fill="rgb(27, 117, 208)"/>
<rect x="389.64" y="573.72" width="8.33" height="6.63" fill="rgb(27, 117, 208)"/>
<rect x="397.93" y="573.72" width="8.33" height="6.63" fill="rgb(185, 200, 238)"/>
<rect x="406.21" y="573.72" width="8.33" height="6.63" fill="rgb(27, 117, 208)"/>
<rect x="414.49" y="573.72" width="8.33" height="6.63" fill="rgb(27, 117, 208)"/>
<rect x="422.78" y="573.72" width="8.33" height="6.63" fill="rgb(27, 117, 208)"/>
<rect x="431.06" y="573.72" width="8.33" height="6.63" fill="rgb(210, 220, 245)"/>
<rect x="439.35" y="573.72" width="8.33" height="6.63" fill="rgb(27, 117, 208)"/>
<rect x="447.63" y="573.72" width="8.33" height="6.63" fill="rgb(210, 220, 245)"/>
<rect x="455.92" y="573.72" width="8.33" height="6.63" fill="rgb(27, 117, 208)"/>
</g>
<text x="466.60" y="256.74" font-size="6.1" text-anchor="start" fill="#151515" font-weight="normal" >SPRR1A</text>
<text x="466.60" y="263.32" font-size="6.1" text-anchor="start" fill="#151515" font-weight="normal" >KRT6A</text>
<text x="466.60" y="269.90" font-size="6.1" text-anchor="start" fill="#151515" font-weight="normal" >KRT16</text>
<text x="466.60" y="276.49" font-size="6.1" text-anchor="start" fill="#151515" font-weight="normal" >KRT6B</text>
<text x="466.60" y="283.07" font-size="6.1" text-anchor="start" fill="#151515" font-weight="normal" >HBB</text>
<text x="466.60" y="289.65" font-size="6.1" text-anchor="start" fill="#151515" font-weight="normal" >IFI27</text>
<text x="466.60" y="296.23" font-size="6.1" text-anchor="start" fill="#151515" font-weight="normal" >KRT6C</text>
<text x="466.60" y="302.81" font-size="6.1" text-anchor="start" fill="#151515" font-weight="normal" >IGFL1</text>
<text x="466.60" y="309.40" font-size="6.1" text-anchor="start" fill="#151515" font-weight="normal" >CXCL10</text>
<text x="466.60" y="315.98" font-size="6.1" text-anchor="start" fill="#151515" font-weight="normal" >CXCL9</text>
<text x="466.60" y="322.56" font-size="6.1" text-anchor="start" fill="#151515" font-weight="normal" >NKG7</text>
<text x="466.60" y="329.14" font-size="6.1" text-anchor="start" fill="#151515" font-weight="normal" >LCE3A</text>
<text x="466.60" y="335.72" font-size="6.1" text-anchor="start" fill="#151515" font-weight="normal" >CXCL11</text>
<text x="466.60" y="342.31" font-size="6.1" text-anchor="start" fill="#151515" font-weight="normal" >S100A12</text>
<text x="466.60" y="348.89" font-size="6.1" text-anchor="start" fill="#151515" font-weight="normal" >MMP3</text>
<text x="466.60" y="355.47" font-size="6.1" text-anchor="start" fill="#151515" font-weight="normal" >TREM2</text>
<text x="466.60" y="362.05" font-size="6.1" text-anchor="start" fill="#151515" font-weight="normal" >KRT16P1</text>
<text x="466.60" y="368.63" font-size="6.1" text-anchor="start" fill="#151515" font-weight="normal" >KRT16P3</text>
<text x="466.60" y="375.22" font-size="6.1" text-anchor="start" fill="#151515" font-weight="normal" >CLC</text>
<text x="466.60" y="381.80" font-size="6.1" text-anchor="start" fill="#151515" font-weight="normal" >PLA2G2D</text>
<text x="466.60" y="388.38" font-size="6.1" text-anchor="start" fill="#151515" font-weight="normal" >MZB1</text>
<text x="466.60" y="394.96" font-size="6.1" text-anchor="start" fill="#151515" font-weight="normal" >LCE3C</text>
<text x="466.60" y="401.54" font-size="6.1" text-anchor="start" fill="#151515" font-weight="normal" >FCGR1A</text>
<text x="466.60" y="408.13" font-size="6.1" text-anchor="start" fill="#151515" font-weight="normal" >FCGR1B</text>
<text x="466.60" y="414.71" font-size="6.1" text-anchor="start" fill="#151515" font-weight="normal" >IFNG</text>
<text x="466.60" y="421.29" font-size="6.1" text-anchor="start" fill="#151515" font-weight="normal" >EOMES</text>
<text x="466.60" y="427.87" font-size="6.1" text-anchor="start" fill="#151515" font-weight="normal" >CXCR2P1</text>
<text x="466.60" y="434.45" font-size="6.1" text-anchor="start" fill="#151515" font-weight="normal" >APOBEC3H</text>
<text x="466.60" y="441.04" font-size="6.1" text-anchor="start" fill="#151515" font-weight="normal" >PDCD1</text>
<text x="466.60" y="447.62" font-size="6.1" text-anchor="start" fill="#151515" font-weight="normal" >GPR18</text>
<text x="466.60" y="454.20" font-size="6.1" text-anchor="start" fill="#151515" font-weight="normal" >LINC00861</text>
<text x="466.60" y="460.78" font-size="6.1" text-anchor="start" fill="#151515" font-weight="normal" >SPRR3</text>
<text x="466.60" y="467.36" font-size="6.1" text-anchor="start" fill="#151515" font-weight="normal" >HBG2</text>
<text x="466.60" y="473.95" font-size="6.1" text-anchor="start" fill="#151515" font-weight="normal" >PPBP</text>
<text x="466.60" y="480.53" font-size="6.1" text-anchor="start" fill="#151515" font-weight="normal" >ALAS2</text>
<text x="466.60" y="487.11" font-size="6.1" text-anchor="start" fill="#151515" font-weight="normal" >AHSP</text>
<text x="466.60" y="493.69" font-size="6.1" text-anchor="start" fill="#151515" font-weight="normal" >TUBB1</text>
<text x="466.60" y="500.27" font-size="6.1" text-anchor="start" fill="#151515" font-weight="normal" >HBD</text>
<text x="466.60" y="506.86" font-size="6.1" text-anchor="start" fill="#151515" font-weight="normal" >NAT8B</text>
<text x="466.60" y="513.44" font-size="6.1" text-anchor="start" fill="#151515" font-weight="normal" >FPR2</text>
<text x="466.60" y="520.02" font-size="6.1" text-anchor="start" fill="#151515" font-weight="normal" >SIGLEC5</text>
<text x="466.60" y="526.60" font-size="6.1" text-anchor="start" fill="#151515" font-weight="normal" >FCRL3</text>
<text x="466.60" y="533.18" font-size="6.1" text-anchor="start" fill="#151515" font-weight="normal" >TRBV13</text>
<text x="466.60" y="539.77" font-size="6.1" text-anchor="start" fill="#151515" font-weight="normal" >PF4</text>
<text x="466.60" y="546.35" font-size="6.1" text-anchor="start" fill="#151515" font-weight="normal" >PTCRA</text>
<text x="466.60" y="552.93" font-size="6.1" text-anchor="start" fill="#151515" font-weight="normal" >MMP10</text>
<text x="466.60" y="559.51" font-size="6.1" text-anchor="start" fill="#151515" font-weight="normal" >VSTM1</text>
<text x="466.60" y="566.09" font-size="6.1" text-anchor="start" fill="#151515" font-weight="normal" >KCNK17</text>
<text x="466.60" y="572.68" font-size="6.1" text-anchor="start" fill="#151515" font-weight="normal" >DLK1</text>
<text x="466.60" y="579.26" font-size="6.1" text-anchor="start" fill="#151515" font-weight="normal" >CYP1A2</text>
<text transform="translate(313.04,584.2) rotate(-90)" font-size="6" text-anchor="end" fill="#1a1a1a">Cont1</text>
<text transform="translate(321.33,584.2) rotate(-90)" font-size="6" text-anchor="end" fill="#1a1a1a">Cont2</text>
<text transform="translate(329.61,584.2) rotate(-90)" font-size="6" text-anchor="end" fill="#1a1a1a">Cont3</text>
<text transform="translate(337.89,584.2) rotate(-90)" font-size="6" text-anchor="end" fill="#1a1a1a">Cont4</text>
<text transform="translate(346.18,584.2) rotate(-90)" font-size="6" text-anchor="end" fill="#1a1a1a">Cont5</text>
<text transform="translate(354.46,584.2) rotate(-90)" font-size="6" text-anchor="end" fill="#1a1a1a">Cont6</text>
<text transform="translate(362.75,584.2) rotate(-90)" font-size="6" text-anchor="end" fill="#1a1a1a">LP1</text>
<text transform="translate(371.03,584.2) rotate(-90)" font-size="6" text-anchor="end" fill="#1a1a1a">LP2</text>
<text transform="translate(379.32,584.2) rotate(-90)" font-size="6" text-anchor="end" fill="#1a1a1a">LP4</text>
<text transform="translate(387.60,584.2) rotate(-90)" font-size="6" text-anchor="end" fill="#1a1a1a">LP5</text>
<text transform="translate(395.88,584.2) rotate(-90)" font-size="6" text-anchor="end" fill="#1a1a1a">LP6</text>
<text transform="translate(404.17,584.2) rotate(-90)" font-size="6" text-anchor="end" fill="#1a1a1a">LP7</text>
<text transform="translate(412.45,584.2) rotate(-90)" font-size="6" text-anchor="end" fill="#1a1a1a">LP8</text>
<text transform="translate(420.74,584.2) rotate(-90)" font-size="6" text-anchor="end" fill="#1a1a1a">LP9</text>
<text transform="translate(429.02,584.2) rotate(-90)" font-size="6" text-anchor="end" fill="#1a1a1a">Mo1</text>
<text transform="translate(437.31,584.2) rotate(-90)" font-size="6" text-anchor="end" fill="#1a1a1a">Mo2</text>
<text transform="translate(445.59,584.2) rotate(-90)" font-size="6" text-anchor="end" fill="#1a1a1a">Mo3</text>
<text transform="translate(453.87,584.2) rotate(-90)" font-size="6" text-anchor="end" fill="#1a1a1a">Mo4</text>
<text transform="translate(462.16,584.2) rotate(-90)" font-size="6" text-anchor="end" fill="#1a1a1a">Mo5</text>
<text x="385.50" y="245.20" font-size="8" text-anchor="middle" fill="#1a1a1a" font-weight="normal" >Samples</text>
<text transform="translate(278.0,396.2) rotate(-90)" font-size="8" text-anchor="middle" fill="#1a1a1a">Gene ID</text>
<defs><linearGradient id="lg" x1="0" y1="0" x2="0" y2="1"><stop offset="0" stop-color="#a52a2a"/><stop offset="0.27" stop-color="#c46660"/><stop offset="0.5" stop-color="#e6b5ad"/><stop offset="0.74" stop-color="#fbf6f6"/><stop offset="1" stop-color="#8fa9e6"/></linearGradient></defs>
<rect x="494.5" y="536.7" width="9.5" height="43" fill="url(#lg)"/>
<text x="506.30" y="541.20" font-size="6.3" text-anchor="start" fill="#1a1a1a" font-weight="normal" >15</text>
<text x="506.30" y="551.20" font-size="6.3" text-anchor="start" fill="#1a1a1a" font-weight="normal" >10</text>
<text x="506.30" y="561.10" font-size="6.3" text-anchor="start" fill="#1a1a1a" font-weight="normal" >5</text>
<text x="506.30" y="571.50" font-size="6.3" text-anchor="start" fill="#1a1a1a" font-weight="normal" >0</text>
<text x="506.30" y="581.40" font-size="6.3" text-anchor="start" fill="#1a1a1a" font-weight="normal" >−5</text>
<text x="486.70" y="592.40" font-size="6.5" text-anchor="start" fill="#1a1a1a" font-weight="bold" >log2tpm</text>
<path d="M306.60,267.65H304.20V274.24H306.60M306.60,261.07H303.50V270.95H304.20M306.60,254.49H302.40V266.01H303.50M306.60,280.82H301.80V287.40H306.60M302.40,260.25H301.00V284.11H301.80M306.60,293.98H302.80V300.56H306.60M306.60,313.73H303.50V320.31H306.60M306.60,307.15H302.00V317.02H303.50M302.80,297.27H300.50V312.08H302.00M301.00,272.18H297.70V304.68H300.50M306.60,333.47H303.00V340.06H306.60M306.60,346.64H303.00V353.22H306.60M303.00,336.77H301.50V349.93H303.00M306.60,359.80H303.00V366.38H306.60M306.60,379.55H303.50V386.13H306.60M306.60,372.97H302.50V382.84H303.50M303.00,363.09H301.00V377.90H302.50M301.50,343.35H300.00V370.50H301.00M306.60,399.29H302.50V405.88H306.60M306.60,392.71H301.00V402.59H302.50M306.60,412.46H303.00V419.04H306.60M306.60,425.62H303.00V432.20H306.60M303.00,415.75H302.00V428.91H303.00M306.60,438.79H303.00V445.37H306.60M306.60,451.95H303.00V458.53H306.60M303.00,442.08H302.00V455.24H303.00M302.00,422.33H300.50V448.66H302.00M301.00,397.65H299.50V435.50H300.50M300.00,356.92H298.50V416.57H299.50M306.60,326.89H297.10V386.75H298.50M306.60,465.11H303.00V471.70H306.60M306.60,478.28H303.00V484.86H306.60M303.00,468.41H301.50V481.57H303.00M306.60,491.44H303.00V498.02H306.60M303.00,494.73H301.50V504.61H306.60M301.50,474.99H300.00V499.67H301.50M306.60,511.19H303.00V517.77H306.60M306.60,524.35H303.00V530.93H306.60M303.00,514.48H301.50V527.64H303.00M306.60,537.52H303.00V544.10H306.60M306.60,557.26H303.00V563.84H306.60M306.60,550.68H302.00V560.55H303.00M303.00,540.81H301.00V555.62H302.00M301.50,521.06H299.50V548.21H301.00M300.00,487.33H298.00V534.64H299.50M297.10,356.82H295.60V510.98H298.00M306.60,570.43H300.50V577.01H306.60M295.60,433.90H291.40V573.72H300.50M297.70,288.43H284.50V503.81H291.40" fill="none" stroke="#444" stroke-width="0.65"/>
<rect x="0.65" y="0.65" width="518.7" height="605.7" fill="none" stroke="#000" stroke-width="1.4"/>
</svg></body></html>
